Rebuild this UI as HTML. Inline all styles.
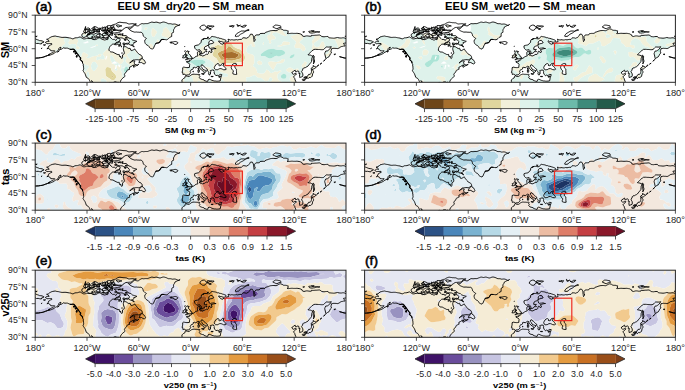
<!DOCTYPE html>
<html><head><meta charset="utf-8"><style>
html,body{margin:0;padding:0;background:#fff;}
body{width:685px;height:390px;overflow:hidden;font-family:"Liberation Sans",sans-serif;}
svg{display:block;}
</style></head><body>
<svg width="685" height="390" viewBox="0 0 685 390" font-family="Liberation Sans, sans-serif">
<defs>
<path id="land" clip-rule="evenodd" d="M71.5 78.2L70.7 78.3L69.8 78.4L68.9 78.4L68.0 78.4L67.1 78.5L66.2 78.6L65.2 78.6L64.0 78.6L63.9 77.4L63.9 76.4L64.1 75.6L63.6 74.9L63.0 74.2L62.5 73.4L62.0 72.7L61.4 72.0L60.8 71.2L60.4 70.4L59.9 69.5L59.5 68.7L58.9 68.0L58.2 67.3L57.4 66.7L56.8 66.0L56.4 65.4L56.7 66.1L56.8 67.0L57.4 68.2L58.0 69.3L58.4 70.4L58.9 71.3L59.5 72.3L60.1 73.2L60.5 75.0L59.6 73.9L58.8 72.8L58.4 72.0L57.9 71.2L57.3 70.5L56.7 69.8L56.2 69.0L55.7 68.1L55.2 67.2L54.8 66.3L54.4 65.4L54.0 64.5L53.4 63.8L52.9 63.1L52.1 62.7L51.1 62.1L50.7 60.8L50.3 59.7L49.7 58.3L49.0 57.3L48.3 56.3L47.8 55.5L48.2 54.6L48.5 53.6L48.3 52.7L48.4 51.9L48.2 50.9L48.0 49.9L48.1 49.0L47.3 47.9L47.3 46.7L47.0 46.2L46.1 45.5L45.4 44.7L44.8 43.8L45.6 43.0L44.6 41.8L43.9 40.9L43.2 40.0L42.7 39.2L42.0 38.4L41.4 37.6L40.8 36.7L40.2 35.9L39.7 35.1L38.8 34.1L37.0 34.0L35.8 34.2L34.7 34.0L33.6 33.5L32.4 33.0L31.1 32.9L29.8 33.0L28.0 32.6L27.1 33.5L25.9 34.1L24.3 34.4L25.1 33.4L25.8 32.1L24.4 32.4L23.7 33.2L23.2 34.5L22.4 36.1L21.3 36.6L20.4 37.0L19.5 37.6L18.7 38.3L17.6 38.8L16.5 39.3L15.5 39.7L14.4 40.0L12.9 40.2L13.8 39.1L14.7 38.7L15.6 38.3L16.4 37.8L17.3 37.4L18.2 37.1L19.0 36.3L19.5 35.6L18.6 35.5L17.8 35.7L16.9 35.6L15.5 35.5L14.9 34.2L14.3 34.0L13.3 33.3L12.8 32.1L13.5 31.6L13.5 30.8L14.3 30.4L15.2 29.8L16.6 29.3L16.4 28.3L15.3 28.3L14.2 28.4L13.1 28.4L11.9 28.5L11.0 27.9L10.1 27.3L11.0 26.7L11.9 26.1L13.1 26.1L13.8 26.5L13.8 25.6L12.5 24.4L11.4 24.1L12.4 23.9L13.4 23.5L14.4 22.8L15.4 21.8L16.6 21.5L17.6 21.2L18.8 21.0L20.0 20.8L21.0 21.1L22.0 21.3L23.1 21.4L24.2 21.7L25.5 22.0L26.7 22.2L27.7 22.2L28.8 22.1L29.8 22.1L30.8 22.1L31.8 22.3L32.8 22.5L34.1 22.7L35.4 22.9L36.5 23.3L37.6 23.7L38.7 23.3L39.7 22.7L41.0 22.6L42.3 22.5L43.5 22.1L44.9 21.7L46.0 22.4L47.0 23.0L48.1 23.6L49.2 23.7L50.3 23.5L51.4 23.1L52.7 23.1L54.0 23.1L55.1 23.1L56.3 23.4L57.2 24.0L57.9 24.4L59.1 24.1L60.2 23.6L60.8 22.9L61.8 22.2L63.9 22.0L65.2 22.7L65.9 23.4L66.6 24.0L67.8 24.3L69.1 24.8L70.1 24.7L70.8 24.3L72.5 24.4L73.0 22.9L73.0 21.9L73.8 21.5L73.7 20.8L74.8 21.5L75.7 22.9L76.6 23.5L77.3 24.2L78.4 24.2L79.4 24.2L80.7 25.3L81.4 24.1L82.0 23.2L82.5 23.2L83.4 23.3L84.4 23.3L85.0 24.6L84.7 25.6L83.8 25.8L82.9 26.7L81.8 27.1L81.5 27.0L81.4 27.8L79.7 28.9L78.3 28.9L77.0 29.1L76.2 29.8L75.6 30.5L74.9 31.2L74.3 32.3L73.9 33.5L73.7 35.0L74.6 35.9L75.5 36.7L76.6 36.8L77.7 36.9L78.8 37.5L79.8 38.1L80.9 38.6L81.9 39.2L83.1 39.3L84.0 39.2L84.2 40.9L85.3 42.1L86.8 43.3L87.4 42.0L87.3 40.8L87.4 39.7L88.2 39.2L89.0 38.6L89.2 37.5L88.6 35.8L88.3 34.7L88.1 33.5L88.5 31.9L88.3 31.1L89.4 31.4L90.6 31.5L91.5 32.0L92.3 32.6L93.7 33.4L94.8 33.0L95.3 33.7L95.5 34.9L96.7 35.4L97.5 35.0L98.3 34.8L99.0 34.0L99.7 33.7L99.9 34.2L100.4 35.0L101.0 35.8L101.7 36.6L102.3 37.4L103.0 38.1L103.6 38.9L104.6 39.4L105.7 39.8L106.3 40.6L106.9 41.5L107.2 42.3L106.1 43.2L105.4 43.8L104.6 44.3L103.6 44.7L102.4 44.5L101.3 44.5L100.2 44.6L99.1 44.8L98.0 44.8L96.6 45.8L95.9 46.4L95.1 47.0L94.6 47.9L95.9 46.8L97.0 46.2L98.0 45.7L98.9 45.8L99.8 46.0L99.0 46.9L99.2 48.2L99.9 49.2L101.1 49.6L102.3 49.8L103.5 49.0L102.7 50.0L101.6 50.3L100.5 50.7L99.6 51.4L98.5 52.1L98.1 50.6L99.7 49.8L98.6 50.0L97.5 50.2L96.7 50.8L95.8 51.4L94.6 51.8L94.1 53.1L94.8 53.8L93.7 54.3L92.8 54.7L92.0 55.1L91.6 55.4L91.4 56.5L90.5 57.2L89.9 58.0L89.2 59.2L89.6 60.3L89.8 61.1L89.2 61.6L87.9 62.6L87.0 63.5L86.4 64.2L85.8 64.9L85.2 66.5L85.5 67.8L85.9 69.0L86.3 69.9L86.7 71.0L86.2 72.8L85.0 72.3L84.5 71.1L84.1 69.9L84.0 68.4L83.1 66.9L81.8 67.3L80.7 66.6L79.6 66.7L78.6 66.8L78.1 67.9L76.9 67.7L75.8 67.5L74.7 67.3L73.4 68.0L72.6 69.0L71.9 70.0L71.7 71.1L71.6 72.2L71.5 73.3L71.3 74.4L71.0 75.5L71.0 76.5L71.2 77.4Z M150.8 60.3L150.1 59.3L149.0 59.0L147.7 59.3L147.6 58.3L147.6 57.5L146.8 57.3L147.3 55.6L147.4 54.7L147.6 53.8L147.4 52.6L148.5 51.9L149.5 52.1L150.6 52.3L151.7 52.4L152.8 52.4L154.2 52.2L154.3 50.7L154.5 49.2L153.5 47.9L152.5 47.5L151.5 47.1L151.3 46.3L152.8 46.1L154.2 46.3L154.2 45.0L155.5 45.0L156.5 44.3L156.7 43.4L158.4 43.0L159.3 42.4L159.8 41.7L160.6 41.4L161.5 41.0L162.7 40.7L162.4 39.7L162.2 38.6L162.3 37.0L163.2 36.1L164.8 35.8L164.5 37.4L165.2 37.6L164.4 39.4L163.8 39.2L164.8 39.9L166.1 40.2L167.5 40.8L169.3 40.2L170.3 39.5L171.4 39.0L172.3 39.3L173.0 38.6L173.3 37.4L173.8 36.0L174.9 36.3L175.5 37.4L176.8 36.9L176.6 35.4L175.8 35.1L175.7 34.5L177.0 34.2L178.3 33.7L179.5 33.4L180.9 33.3L180.4 33.4L178.7 32.7L176.9 32.9L175.9 33.0L175.2 33.3L174.0 32.7L173.7 31.6L173.2 30.0L174.6 28.9L175.5 28.5L176.7 28.4L178.6 27.5L176.9 25.2L175.2 25.3L173.9 26.3L173.5 27.8L173.9 28.9L172.9 29.9L171.7 30.8L170.7 31.1L169.4 32.0L169.0 34.1L170.5 34.3L171.7 34.1L171.0 35.4L170.0 36.0L169.4 37.3L168.6 37.6L167.5 38.4L166.8 38.4L166.5 37.6L166.1 36.1L165.2 35.3L164.5 34.5L163.5 34.6L162.2 35.0L161.5 34.7L160.9 34.4L160.0 33.5L159.3 31.8L159.5 30.6L160.7 30.2L161.8 30.0L163.2 29.7L164.6 28.6L165.4 27.8L166.0 26.9L166.0 25.8L166.4 24.6L168.0 23.7L169.6 23.3L170.8 23.3L172.0 23.4L173.4 23.7L174.7 23.4L175.5 22.4L176.1 21.5L177.0 21.2L178.1 21.5L179.1 21.6L180.2 21.8L181.3 22.2L182.2 22.6L183.1 22.5L183.9 23.0L185.2 23.2L186.5 23.5L187.3 23.9L188.2 24.1L189.1 24.4L189.9 24.7L190.8 25.2L190.8 26.6L189.7 26.9L188.6 27.1L187.5 26.8L186.5 26.4L184.8 26.5L183.7 25.5L183.4 26.5L184.3 27.3L185.2 28.0L185.6 28.6L186.5 28.8L187.3 29.1L188.2 28.4L187.6 27.8L188.7 28.3L190.0 28.8L190.7 28.3L191.4 27.5L191.7 26.7L193.4 26.6L193.3 25.4L192.8 24.0L193.8 24.3L194.7 24.6L195.5 24.8L196.4 24.5L197.5 24.6L198.6 24.8L199.9 24.7L201.1 24.4L202.4 24.7L203.6 24.4L204.6 24.2L206.4 24.2L207.1 23.4L207.6 22.6L208.7 22.6L209.8 22.7L211.1 23.1L211.9 22.6L213.0 22.3L213.8 21.3L214.4 20.7L214.8 19.8L215.4 18.9L217.2 19.1L217.7 20.0L218.2 21.0L218.3 22.2L218.4 23.5L218.6 24.4L218.7 25.3L218.9 26.4L219.9 25.0L219.9 23.7L219.3 23.3L219.4 22.3L219.4 21.3L220.0 20.6L220.6 19.8L221.7 19.7L222.9 19.7L224.0 19.7L224.9 18.4L225.8 18.3L226.8 18.2L227.8 18.2L228.7 18.2L229.8 18.1L230.6 17.0L231.6 16.8L232.5 16.5L233.5 16.1L234.5 15.8L235.5 15.5L236.5 15.4L237.6 15.3L238.7 15.3L239.8 15.4L240.9 15.5L241.8 15.2L242.7 14.7L243.4 14.2L244.3 13.8L245.2 13.6L246.9 14.1L248.2 15.0L249.2 15.1L250.2 15.1L251.2 15.2L252.2 15.6L253.0 15.6L252.9 16.6L252.8 17.8L252.0 18.3L253.1 18.4L254.2 18.3L255.2 18.2L256.2 18.1L257.3 18.1L258.3 18.2L259.4 18.2L260.5 18.2L261.6 18.1L262.7 18.2L263.9 18.4L265.0 18.6L265.8 19.1L266.7 19.4L267.2 20.7L268.8 21.3L269.9 21.0L271.1 20.7L272.0 20.7L273.0 20.8L273.9 21.0L274.9 21.0L276.1 21.0L276.5 20.0L277.3 20.2L278.4 20.2L279.5 20.1L280.6 20.0L281.5 20.0L282.5 19.9L283.5 19.8L284.5 19.8L285.6 20.5L286.6 21.3L287.8 21.5L288.9 21.6L290.1 21.4L291.4 21.3L292.7 21.3L293.5 22.0L294.0 22.7L295.0 22.7L296.1 22.8L297.3 22.9L298.4 23.0L299.6 22.9L300.9 22.6L302.2 22.3L303.9 22.7L305.0 22.8L306.2 22.8L307.3 22.6L308.5 22.6L309.6 22.9L310.8 23.5L311.6 24.0L312.5 24.3L313.4 24.7L314.3 25.0L315.1 25.4L316.4 25.5L317.7 25.7L318.7 26.2L319.7 26.7L319.0 27.3L317.3 27.7L316.9 28.8L315.1 28.5L313.8 28.2L312.1 28.3L310.8 27.7L309.4 28.0L308.3 28.2L309.1 29.4L309.7 30.3L310.0 30.8L309.2 30.9L308.2 30.9L307.4 31.2L306.5 31.3L305.6 31.6L304.7 32.3L303.7 32.9L302.6 33.4L301.6 33.3L300.7 33.2L299.7 33.2L298.7 33.1L297.6 33.3L296.4 33.5L296.0 35.2L295.7 36.0L296.0 36.9L296.3 37.8L295.3 38.6L294.8 39.6L294.3 40.6L293.7 41.6L292.3 42.3L291.5 42.9L290.7 43.6L290.3 41.9L290.1 40.8L289.8 39.7L289.5 38.5L289.9 37.2L290.5 35.9L292.2 35.7L293.0 35.1L293.9 34.5L294.6 33.8L295.4 32.7L296.1 31.5L294.8 31.8L293.5 31.9L292.2 31.8L291.0 31.8L290.1 32.6L289.3 33.5L288.4 34.3L287.3 34.5L286.2 34.5L285.2 34.4L284.2 34.3L283.2 34.3L281.9 34.2L280.6 34.1L278.8 34.2L277.8 35.0L276.8 35.5L276.2 36.2L275.5 37.0L274.8 37.7L274.1 38.3L273.4 38.9L272.8 39.6L274.1 39.8L275.4 40.0L276.4 40.5L277.5 41.0L277.1 42.1L276.6 43.1L276.5 44.7L276.3 46.4L275.7 47.3L275.0 48.1L274.3 49.0L273.5 49.9L272.8 50.9L271.9 51.5L270.9 51.9L270.1 52.5L268.4 52.8L267.6 53.7L267.4 55.0L266.3 56.1L266.7 56.7L267.0 57.7L267.6 58.6L267.7 59.9L267.5 61.2L266.4 61.7L265.5 62.0L264.5 62.3L264.4 61.0L264.3 59.8L264.9 58.4L263.5 58.1L263.8 57.5L263.8 56.4L262.7 55.7L261.5 56.3L260.6 56.9L260.3 56.0L259.9 54.9L258.5 56.0L257.2 56.7L256.6 57.8L257.8 58.9L258.6 59.1L259.8 58.3L261.4 58.7L260.4 59.7L259.1 60.7L258.3 61.7L258.9 62.5L259.5 63.2L259.9 64.8L260.6 66.2L260.1 67.3L260.4 68.2L260.1 69.0L259.8 69.9L259.4 70.7L259.0 71.5L258.2 72.0L257.5 72.6L256.7 73.1L256.0 73.6L255.2 74.1L254.5 74.7L253.8 75.3L253.1 75.8L252.4 76.5L251.8 77.2L251.2 77.9L250.4 78.5L249.4 78.4L248.5 78.2L247.6 78.1L246.7 78.1L245.8 78.3L244.9 78.6L243.9 78.7L243.0 78.7L242.1 78.6L241.2 78.5L240.3 78.3L239.3 78.2L238.4 78.2L237.5 78.4L236.6 78.5L235.7 78.4L234.8 78.3L233.8 78.1L232.9 77.9L232.0 77.8L231.1 78.1L230.2 78.4L229.2 78.6L228.3 78.7L227.4 78.7L226.5 78.6L225.6 78.4L224.7 78.3L223.7 78.2L222.8 78.0L221.9 78.0L221.0 78.0L220.1 78.2L219.1 78.4L218.2 78.5L217.3 78.6L216.4 78.5L215.5 78.4L214.5 78.4L213.6 78.5L212.7 78.3L211.8 78.1L210.9 78.0L210.0 78.0L209.0 78.2L208.1 78.3L207.2 78.2L206.3 78.3L205.4 78.4L204.5 78.5L203.6 78.4L202.7 78.4L201.7 78.3L200.8 78.3L199.9 78.4L199.0 78.3L198.1 78.3L197.2 78.3L196.3 78.4L195.4 78.4L194.5 78.3L193.6 78.3L192.7 78.4L191.8 78.6L190.8 78.7L189.9 78.7L189.0 78.5L188.1 78.3L187.2 78.1L186.3 78.1L185.4 78.2L184.5 78.3L183.6 78.3L182.6 78.3L181.7 78.3L180.8 78.3L179.9 78.2L179.0 78.0L178.1 77.8L177.2 77.8L176.3 78.0L175.4 78.1L174.4 78.1L173.5 78.1L172.6 78.2L171.7 78.3L170.8 78.4L169.9 78.3L169.0 78.1L168.1 78.0L167.2 78.0L166.2 78.1L165.3 78.3L164.4 78.5L163.5 78.6L162.6 78.6L161.7 78.6L160.8 78.6L159.9 78.6L158.9 78.5L158.0 78.4L157.1 78.2L156.2 78.2L155.3 78.2L154.4 78.2L153.5 78.4L152.6 78.4L151.7 78.4L150.7 78.3L149.8 78.2L148.9 78.3L148.0 78.3L147.1 78.3L146.2 78.1L145.3 78.0L144.4 78.0L143.5 77.9L142.5 77.8L141.6 77.9L140.9 78.2L140.8 77.2L140.7 76.0L140.9 74.9L141.1 73.8L141.9 73.1L142.5 72.3L143.0 71.4L143.7 70.5L144.4 69.6L145.2 69.0L146.0 68.3L146.7 67.6L146.8 66.5L146.7 64.8L147.4 64.1L148.1 63.4L149.6 62.7L149.9 61.6L150.3 60.6Z M-160.0 60.3L-160.7 59.3L-161.8 59.0L-163.1 59.3L-163.2 58.3L-163.2 57.5L-164.0 57.3L-163.5 55.6L-163.4 54.7L-163.2 53.8L-163.4 52.6L-162.3 51.9L-161.3 52.1L-160.2 52.3L-159.1 52.4L-158.0 52.4L-156.6 52.2L-156.5 50.7L-156.3 49.2L-157.3 47.9L-158.3 47.5L-159.3 47.1L-159.5 46.3L-158.0 46.1L-156.6 46.3L-156.6 45.0L-155.3 45.0L-154.3 44.3L-154.1 43.4L-152.4 43.0L-151.5 42.4L-151.0 41.7L-150.2 41.4L-149.3 41.0L-148.1 40.7L-148.4 39.7L-148.6 38.6L-148.5 37.0L-147.6 36.1L-146.0 35.8L-146.3 37.4L-145.6 37.6L-146.4 39.4L-147.0 39.2L-146.0 39.9L-144.7 40.2L-143.3 40.8L-141.5 40.2L-140.5 39.5L-139.4 39.0L-138.5 39.3L-137.8 38.6L-137.5 37.4L-137.0 36.0L-135.9 36.3L-135.3 37.4L-134.0 36.9L-134.2 35.4L-135.0 35.1L-135.1 34.5L-133.8 34.2L-132.5 33.7L-131.3 33.4L-129.9 33.3L-130.4 33.4L-132.1 32.7L-133.9 32.9L-134.9 33.0L-135.6 33.3L-136.8 32.7L-137.1 31.6L-137.6 30.0L-136.2 28.9L-135.3 28.5L-134.1 28.4L-132.2 27.5L-133.9 25.2L-135.6 25.3L-136.9 26.3L-137.3 27.8L-136.9 28.9L-137.9 29.9L-139.1 30.8L-140.1 31.1L-141.4 32.0L-141.8 34.1L-140.3 34.3L-139.1 34.1L-139.8 35.4L-140.8 36.0L-141.4 37.3L-142.2 37.6L-143.3 38.4L-144.0 38.4L-144.3 37.6L-144.7 36.1L-145.6 35.3L-146.3 34.5L-147.3 34.6L-148.6 35.0L-149.3 34.7L-149.9 34.4L-150.8 33.5L-151.5 31.8L-151.3 30.6L-150.1 30.2L-149.0 30.0L-147.6 29.7L-146.2 28.6L-145.4 27.8L-144.8 26.9L-144.8 25.8L-144.4 24.6L-142.8 23.7L-141.2 23.3L-140.0 23.3L-138.8 23.4L-137.4 23.7L-136.1 23.4L-135.3 22.4L-134.7 21.5L-133.8 21.2L-132.7 21.5L-131.7 21.6L-130.6 21.8L-129.5 22.2L-128.6 22.6L-127.7 22.5L-126.9 23.0L-125.6 23.2L-124.3 23.5L-123.5 23.9L-122.6 24.1L-121.7 24.4L-120.9 24.7L-120.0 25.2L-120.0 26.6L-121.1 26.9L-122.2 27.1L-123.3 26.8L-124.3 26.4L-126.0 26.5L-127.1 25.5L-127.4 26.5L-126.5 27.3L-125.6 28.0L-125.2 28.6L-124.3 28.8L-123.5 29.1L-122.6 28.4L-123.2 27.8L-122.1 28.3L-120.8 28.8L-120.1 28.3L-119.4 27.5L-119.1 26.7L-117.4 26.6L-117.5 25.4L-118.0 24.0L-117.0 24.3L-116.1 24.6L-115.3 24.8L-114.4 24.5L-113.3 24.6L-112.2 24.8L-110.9 24.7L-109.7 24.4L-108.4 24.7L-107.2 24.4L-106.2 24.2L-104.4 24.2L-103.7 23.4L-103.2 22.6L-102.1 22.6L-101.0 22.7L-99.7 23.1L-98.9 22.6L-97.8 22.3L-97.0 21.3L-96.4 20.7L-96.0 19.8L-95.4 18.9L-93.6 19.1L-93.1 20.0L-92.6 21.0L-92.5 22.2L-92.4 23.5L-92.2 24.4L-92.1 25.3L-91.9 26.4L-90.9 25.0L-90.9 23.7L-91.5 23.3L-91.4 22.3L-91.4 21.3L-90.8 20.6L-90.2 19.8L-89.1 19.7L-87.9 19.7L-86.8 19.7L-85.9 18.4L-85.0 18.3L-84.0 18.2L-83.0 18.2L-82.1 18.2L-81.0 18.1L-80.2 17.0L-79.2 16.8L-78.3 16.5L-77.3 16.1L-76.3 15.8L-75.3 15.5L-74.3 15.4L-73.2 15.3L-72.1 15.3L-71.0 15.4L-69.9 15.5L-69.0 15.2L-68.1 14.7L-67.4 14.2L-66.5 13.8L-65.6 13.6L-63.9 14.1L-62.6 15.0L-61.6 15.1L-60.6 15.1L-59.6 15.2L-58.6 15.6L-57.8 15.6L-57.9 16.6L-58.0 17.8L-58.8 18.3L-57.7 18.4L-56.6 18.3L-55.6 18.2L-54.6 18.1L-53.5 18.1L-52.5 18.2L-51.4 18.2L-50.3 18.2L-49.2 18.1L-48.1 18.2L-46.9 18.4L-45.8 18.6L-45.0 19.1L-44.1 19.4L-43.6 20.7L-42.0 21.3L-40.9 21.0L-39.7 20.7L-38.8 20.7L-37.8 20.8L-36.9 21.0L-35.9 21.0L-34.7 21.0L-34.3 20.0L-33.5 20.2L-32.4 20.2L-31.3 20.1L-30.2 20.0L-29.3 20.0L-28.3 19.9L-27.3 19.8L-26.3 19.8L-25.2 20.5L-24.2 21.3L-23.0 21.5L-21.9 21.6L-20.7 21.4L-19.4 21.3L-18.1 21.3L-17.3 22.0L-16.8 22.7L-15.8 22.7L-14.7 22.8L-13.5 22.9L-12.4 23.0L-11.2 22.9L-9.9 22.6L-8.6 22.3L-6.9 22.7L-5.8 22.8L-4.6 22.8L-3.5 22.6L-2.3 22.6L-1.2 22.9L0.0 23.5L0.8 24.0L1.7 24.3L2.6 24.7L3.5 25.0L4.3 25.4L5.6 25.5L6.9 25.7L7.9 26.2L8.9 26.7L8.2 27.3L6.5 27.7L6.1 28.8L4.3 28.5L3.0 28.2L1.3 28.3L-0.0 27.7L-1.4 28.0L-2.5 28.2L-1.7 29.4L-1.1 30.3L-0.8 30.8L-1.6 30.9L-2.6 30.9L-3.4 31.2L-4.3 31.3L-5.2 31.6L-6.1 32.3L-7.1 32.9L-8.2 33.4L-9.2 33.3L-10.1 33.2L-11.1 33.2L-12.1 33.1L-13.2 33.3L-14.4 33.5L-14.8 35.2L-15.1 36.0L-14.8 36.9L-14.5 37.8L-15.5 38.6L-16.0 39.6L-16.5 40.6L-17.1 41.6L-18.5 42.3L-19.3 42.9L-20.1 43.6L-20.5 41.9L-20.7 40.8L-21.0 39.7L-21.3 38.5L-20.9 37.2L-20.3 35.9L-18.6 35.7L-17.8 35.1L-16.9 34.5L-16.2 33.8L-15.4 32.7L-14.7 31.5L-16.0 31.8L-17.3 31.9L-18.6 31.8L-19.8 31.8L-20.7 32.6L-21.5 33.5L-22.4 34.3L-23.5 34.5L-24.6 34.5L-25.6 34.4L-26.6 34.3L-27.6 34.3L-28.9 34.2L-30.2 34.1L-32.0 34.2L-33.0 35.0L-34.0 35.5L-34.6 36.2L-35.3 37.0L-36.0 37.7L-36.7 38.3L-37.4 38.9L-38.0 39.6L-36.7 39.8L-35.4 40.0L-34.4 40.5L-33.3 41.0L-33.7 42.1L-34.2 43.1L-34.3 44.7L-34.5 46.4L-35.1 47.3L-35.8 48.1L-36.5 49.0L-37.3 49.9L-38.0 50.9L-38.9 51.5L-39.9 51.9L-40.7 52.5L-42.4 52.8L-43.2 53.7L-43.4 55.0L-44.5 56.1L-44.1 56.7L-43.8 57.7L-43.2 58.6L-43.1 59.9L-43.3 61.2L-44.4 61.7L-45.3 62.0L-46.3 62.3L-46.4 61.0L-46.5 59.8L-45.9 58.4L-47.3 58.1L-47.0 57.5L-47.0 56.4L-48.1 55.7L-49.3 56.3L-50.2 56.9L-50.5 56.0L-50.9 54.9L-52.3 56.0L-53.6 56.7L-54.2 57.8L-53.0 58.9L-52.2 59.1L-51.0 58.3L-49.4 58.7L-50.4 59.7L-51.7 60.7L-52.5 61.7L-51.9 62.5L-51.3 63.2L-50.9 64.8L-50.2 66.2L-50.7 67.3L-50.4 68.2L-50.7 69.0L-51.0 69.9L-51.4 70.7L-51.8 71.5L-52.6 72.0L-53.3 72.6L-54.1 73.1L-54.8 73.6L-55.6 74.1L-56.3 74.7L-57.0 75.3L-57.7 75.8L-58.4 76.5L-59.0 77.2L-59.6 77.9L-60.4 78.5L-61.4 78.4L-62.3 78.2L-63.2 78.1L-64.1 78.1L-65.0 78.3L-65.9 78.6L-66.9 78.7L-67.8 78.7L-68.7 78.6L-69.6 78.5L-70.5 78.3L-71.5 78.2L-72.4 78.2L-73.3 78.4L-74.2 78.5L-75.1 78.4L-76.0 78.3L-77.0 78.1L-77.9 77.9L-78.8 77.8L-79.7 78.1L-80.6 78.4L-81.6 78.6L-82.5 78.7L-83.4 78.7L-84.3 78.6L-85.2 78.4L-86.1 78.3L-87.1 78.2L-88.0 78.0L-88.9 78.0L-89.8 78.0L-90.7 78.2L-91.7 78.4L-92.6 78.5L-93.5 78.6L-94.4 78.5L-95.3 78.4L-96.3 78.4L-97.2 78.5L-98.1 78.3L-99.0 78.1L-99.9 78.0L-100.8 78.0L-101.8 78.2L-102.7 78.3L-103.6 78.2L-104.5 78.3L-105.4 78.4L-106.3 78.5L-107.2 78.4L-108.1 78.4L-109.1 78.3L-110.0 78.3L-110.9 78.4L-111.8 78.3L-112.7 78.3L-113.6 78.3L-114.5 78.4L-115.4 78.4L-116.3 78.3L-117.2 78.3L-118.1 78.4L-119.0 78.6L-120.0 78.7L-120.9 78.7L-121.8 78.5L-122.7 78.3L-123.6 78.1L-124.5 78.1L-125.4 78.2L-126.3 78.3L-127.2 78.3L-128.2 78.3L-129.1 78.3L-130.0 78.3L-130.9 78.2L-131.8 78.0L-132.7 77.8L-133.6 77.8L-134.5 78.0L-135.4 78.1L-136.4 78.1L-137.3 78.1L-138.2 78.2L-139.1 78.3L-140.0 78.4L-140.9 78.3L-141.8 78.1L-142.7 78.0L-143.6 78.0L-144.6 78.1L-145.5 78.3L-146.4 78.5L-147.3 78.6L-148.2 78.6L-149.1 78.6L-150.0 78.6L-150.9 78.6L-151.9 78.5L-152.8 78.4L-153.7 78.2L-154.6 78.2L-155.5 78.2L-156.4 78.2L-157.3 78.4L-158.2 78.4L-159.1 78.4L-160.1 78.3L-161.0 78.2L-161.9 78.3L-162.8 78.3L-163.7 78.3L-164.6 78.1L-165.5 78.0L-166.4 78.0L-167.3 77.9L-168.3 77.8L-169.2 77.9L-169.9 78.2L-170.0 77.2L-170.1 76.0L-169.9 74.9L-169.7 73.8L-168.9 73.1L-168.3 72.3L-167.8 71.4L-167.1 70.5L-166.4 69.6L-165.6 69.0L-164.8 68.3L-164.1 67.6L-164.0 66.5L-164.1 64.8L-163.4 64.1L-162.7 63.4L-161.2 62.7L-160.9 61.6L-160.5 60.6Z M103.7 47.5L104.4 45.6L105.0 44.8L105.7 44.2L107.1 43.0L107.6 44.1L108.4 44.6L109.3 45.2L109.8 46.3L110.3 47.6L109.1 48.9L107.5 48.1L106.2 47.3L105.2 47.4Z M93.0 13.1L93.3 13.5L94.0 14.2L94.8 14.8L95.7 15.5L96.9 16.1L98.0 16.5L99.1 16.9L100.4 16.9L101.5 16.8L102.5 17.0L103.5 17.0L104.6 17.1L105.7 17.0L106.6 17.5L107.4 18.2L107.8 19.4L108.0 20.6L108.8 21.3L109.5 22.0L110.3 22.8L111.2 23.2L110.4 24.1L109.7 24.8L109.5 26.2L109.7 27.2L110.1 28.3L110.9 29.2L112.0 30.0L113.0 30.4L113.7 31.1L113.9 31.9L114.5 32.5L115.2 33.1L116.1 33.5L117.4 33.9L118.3 33.0L118.8 31.8L119.3 30.6L119.8 29.7L120.3 28.8L120.9 28.0L122.2 27.9L123.6 27.6L124.5 26.9L125.1 26.0L125.7 25.0L126.6 24.2L127.9 24.2L129.0 24.3L130.1 24.4L131.4 24.6L132.5 24.1L133.4 23.3L134.3 22.4L135.3 21.8L136.5 21.3L136.5 19.6L136.7 18.0L137.5 17.4L138.3 17.2L138.4 16.2L138.3 15.0L138.6 14.1L139.2 13.3L139.9 11.7L140.8 11.3L141.7 10.8L142.6 10.4L143.8 10.0L144.9 9.3L144.0 10.1L143.0 10.1L142.0 9.6L141.1 9.2L140.1 8.9L139.1 8.8L138.1 8.9L137.1 9.0L136.2 8.7L135.2 8.5L134.2 8.5L133.3 8.5L132.3 8.1L131.4 7.6L130.5 7.3L129.5 7.0L128.5 6.8L127.6 6.9L126.6 7.2L125.7 7.6L124.7 7.8L123.7 7.6L122.8 7.3L121.8 7.0L120.8 6.9L119.9 7.1L118.9 7.3L117.9 7.1L116.9 6.9L116.0 7.0L115.0 7.4L114.1 7.7L113.2 8.1L112.2 8.4L111.3 8.4L110.3 8.4L109.3 8.5L108.3 8.6L107.3 8.4L106.3 8.5L105.4 9.0L104.3 9.7L103.3 10.5L102.2 10.7L101.2 10.5L100.2 10.2L99.3 10.2L98.3 10.9L97.3 11.7L96.5 12.6L95.6 13.3L94.6 13.6L93.7 13.8Z M99.0 31.8L97.9 31.2L97.1 30.5L96.3 30.0L97.3 29.5L98.1 29.0L98.8 28.3L98.3 27.6L99.8 27.1L100.9 26.6L101.7 26.1L100.9 25.9L100.0 25.6L99.1 25.4L98.2 25.1L97.1 24.7L96.1 23.8L95.6 23.3L94.8 23.2L93.7 22.8L92.6 22.0L91.8 21.1L90.9 20.5L89.7 20.4L88.6 20.4L87.5 20.1L86.5 19.7L85.7 19.1L85.0 19.0L84.0 19.2L83.1 19.2L82.1 18.9L81.0 18.8L80.0 19.0L79.1 19.3L80.0 19.7L80.8 20.4L81.3 21.2L82.0 22.0L82.8 22.5L84.2 22.6L85.5 22.7L86.6 22.7L87.6 23.0L88.5 23.6L89.4 23.8L90.2 24.2L91.2 24.5L92.6 24.5L94.2 26.4L93.7 28.3L92.3 29.1L90.7 28.6L89.8 28.1L87.7 27.8L88.3 30.0L89.4 29.7L90.2 29.1L91.1 28.1L92.6 28.1L93.6 28.7L94.4 29.5L95.4 29.9L96.5 30.0L97.4 30.2L98.4 30.6Z M51.4 20.7L52.8 19.1L54.1 18.3L55.4 18.6L56.5 18.7L57.6 18.9L58.7 19.0L59.7 18.7L60.7 18.1L61.8 17.7L62.8 17.8L64.1 18.0L65.6 19.2L66.7 19.7L67.7 20.4L68.4 22.1L66.5 22.6L65.3 22.7L64.5 22.6L63.3 22.9L62.2 23.5L61.2 24.1L60.2 24.4L59.2 24.4L58.3 24.0L57.4 23.5L56.2 23.3L55.1 23.2L53.5 23.2L52.7 22.0Z M46.6 20.5L46.7 19.1L47.7 18.5L48.4 17.7L49.5 17.5L50.6 17.3L51.8 17.3L52.6 17.7L53.5 17.9L54.4 18.2L55.1 18.5L54.9 19.2L54.1 19.3L53.2 19.5L52.4 19.9L51.8 20.7L50.8 21.4L49.9 21.9L48.6 22.3L47.3 21.9Z M55.3 17.2L54.5 16.5L54.0 15.2L55.5 15.3L56.6 15.6L57.6 15.1L58.7 14.2L59.9 13.8L60.9 14.3L61.8 15.4L62.8 15.9L63.8 15.8L64.8 16.8L63.7 16.8L62.5 16.4L61.4 16.2L60.4 16.2L59.4 16.5L58.4 16.8L57.3 16.8L56.3 16.8Z M51.8 14.4L50.9 14.3L50.0 14.5L50.6 14.3L51.5 13.5L52.3 12.9L53.7 12.8L55.2 14.2L53.7 14.3L52.7 14.2Z M71.3 15.4L70.6 15.6L69.4 15.8L68.2 15.8L67.2 15.8L65.9 14.9L67.5 14.6L68.6 14.6L69.6 14.0L70.9 13.6L71.8 14.6L71.9 15.3Z M77.4 20.1L76.3 20.1L75.3 19.7L74.4 19.8L72.9 20.3L71.5 17.8L73.6 16.4L75.1 16.7L76.5 17.6L77.7 18.2L77.4 19.0Z M71.5 19.9L70.8 19.9L69.7 20.1L68.6 20.5L66.9 19.9L67.9 18.0L69.5 18.2L70.8 18.3L71.4 19.0L71.8 19.3L71.6 19.7Z M72.5 23.2L72.2 21.8L71.3 22.2L70.0 23.0L70.7 23.1L71.6 23.1L72.5 23.3Z M85.5 29.2L84.7 29.2L83.5 29.2L82.5 29.1L81.4 29.5L79.4 29.5L80.2 27.9L81.6 27.7L82.6 27.8L83.8 26.5L84.9 26.8L85.2 27.9Z M77.5 18.7L74.2 19.1L73.2 18.7L70.3 18.5L71.8 14.7L73.5 15.2L75.5 14.1Z M85.0 30.8L83.3 31.0L83.7 30.0L85.5 30.2Z M150.3 44.7L151.6 44.3L152.8 43.8L154.1 43.6L155.3 43.5L156.6 43.4L156.8 41.8L155.6 41.5L155.5 40.7L154.8 39.7L153.9 38.7L153.4 38.4L152.8 37.8L154.0 36.3L152.4 36.1L152.4 35.6L151.6 36.0L151.2 36.6L150.3 37.4L150.5 38.7L151.1 39.8L152.1 39.7L151.5 40.5L152.0 40.4L150.6 41.0L151.6 42.0L151.2 42.9L151.9 42.1L153.2 43.4L151.5 43.4Z M150.3 42.3L150.4 40.9L150.9 39.6L150.0 38.9L149.2 39.4L148.6 40.6L147.6 40.6L148.0 41.5L147.5 42.5L147.3 42.5L148.5 42.7L149.9 42.4Z M273.5 16.2L274.6 16.0L275.5 15.9L276.3 15.6L277.3 15.7L278.3 15.8L279.3 16.1L280.4 16.4L281.4 16.6L282.6 16.7L283.7 16.8L284.7 16.7L284.0 16.7L283.1 16.8L282.1 16.7L281.1 16.9L280.1 17.3L279.1 17.6L278.1 17.7L277.1 17.9L275.8 17.8L274.4 17.6Z M309.7 21.1L310.8 21.0L311.8 21.2L312.8 21.0L311.7 21.6L310.6 21.3Z M-1.1 21.1L0.0 21.0L1.0 21.2L2.0 21.0L0.9 21.6L-0.2 21.3Z M278.0 40.0L278.9 40.8L279.0 41.7L278.9 42.7L278.8 43.7L279.1 44.8L279.4 45.8L279.1 46.9L278.6 48.0L278.0 48.8L278.4 48.0L278.4 47.0L278.3 46.0L278.1 45.0L278.0 44.0L278.1 43.1L278.0 42.0L277.8 41.0Z M276.1 54.4L277.3 54.0L278.2 53.8L279.1 53.6L279.9 52.8L281.0 52.2L280.1 51.5L279.2 51.2L278.2 50.9L278.1 50.3L278.2 51.0L277.6 52.0L276.0 53.0Z M277.4 54.3L277.8 55.4L278.4 56.5L278.2 57.6L277.6 58.3L277.2 59.8L277.0 61.0L276.2 61.8L275.2 62.4L273.9 62.3L272.8 63.5L271.9 62.2L270.3 62.5L268.5 62.6L268.7 62.3L270.0 61.5L271.1 61.4L272.5 61.0L272.9 60.0L273.4 59.2L275.1 59.1L275.7 58.3L276.1 57.4L276.3 56.5L276.2 55.0Z M269.7 65.1L267.6 65.3L267.1 64.3L267.1 64.1L267.3 64.1L269.0 64.0L269.6 64.3L269.7 64.0Z M269.8 62.9L271.7 62.4L271.3 63.4L270.2 64.0Z M166.7 59.0L167.1 59.0L168.0 58.6L168.6 58.0L168.7 58.7L168.4 59.6L167.5 58.7L166.7 57.9Z M162.7 54.8L164.0 54.6L164.2 55.9L163.9 57.1L162.7 57.0L162.9 55.9Z M162.8 52.7L163.6 52.6L163.5 54.4L163.0 54.1Z M175.7 61.2L178.1 61.2L177.8 61.5L176.1 61.4Z M183.3 61.5L185.3 60.7L184.8 62.0L183.7 62.0Z M157.5 56.4L158.3 56.0L158.2 56.7Z M164.9 38.1L166.3 38.0L166.0 39.1L165.1 38.9Z M171.0 36.6L171.7 35.9L171.5 36.8Z M304.3 41.4L306.5 42.0L309.1 42.7L310.8 42.9L312.5 42.8L314.3 42.7L316.0 42.4L317.7 42.2L319.4 41.7L321.2 41.0L322.9 40.4L324.2 39.7L325.5 39.4L325.5 39.5L324.2 39.8L322.9 40.5L321.2 41.1L319.4 41.8L317.7 42.3L316.0 42.5L314.3 42.8L312.5 42.9L310.8 43.0L309.1 42.8L306.5 42.1L304.3 41.5Z M-6.5 41.4L-4.3 42.0L-1.7 42.7L0.0 42.9L1.7 42.8L3.5 42.7L5.2 42.4L6.9 42.2L8.6 41.7L10.4 41.0L12.1 40.4L13.4 39.7L14.7 39.4L14.7 39.5L13.4 39.8L12.1 40.5L10.4 41.1L8.6 41.8L6.9 42.3L5.2 42.5L3.5 42.8L1.7 42.9L0.0 43.0L-1.7 42.8L-4.3 42.1L-6.5 41.5Z M281.4 51.6L282.1 50.9L282.6 50.2L283.4 49.6L283.2 50.4L282.2 50.9Z M284.9 49.0L286.6 47.8L286.2 48.2Z M288.4 46.1L290.1 44.2L289.6 44.7Z M51.8 16.0L53.5 15.5L54.0 16.2Z M63.9 18.8L65.2 18.5L64.8 19.0Z M86.3 30.9L86.8 31.3L85.9 31.8Z M89.0 24.7L90.0 24.9L90.2 25.5L90.0 24.0L89.7 23.8L89.3 24.7Z M86.8 37.5L87.2 38.0L86.5 38.1Z M85.0 41.2L85.9 41.3L85.5 41.7Z M88.9 29.3L89.8 29.5L88.9 29.9Z M67.3 15.4L69.9 15.2L69.1 15.9Z M77.7 14.8L80.3 14.7L79.4 15.1Z M72.5 20.7L74.2 20.1L73.4 21.0Z M39.7 38.0L41.4 37.5L40.6 38.8Z M38.0 36.3L39.3 35.8L38.9 36.9Z M41.0 40.8L41.9 40.3L41.6 41.9L41.2 41.6Z M23.3 36.3L24.2 35.5L22.4 36.9Z M149.4 31.3L149.8 31.0L149.5 31.5Z M149.8 36.3L150.2 35.5L149.4 36.0Z M171.8 22.1L173.5 22.1L172.7 22.6Z M168.4 24.0L169.2 23.3L167.5 24.3Z M276.3 15.9L278.9 15.8L277.1 16.3Z M267.6 16.8L269.4 16.6L268.5 17.0Z M298.7 39.1L300.4 38.9L299.6 39.5Z M10.4 29.6L8.2 29.7L9.5 30.2Z M6.5 33.2L6.9 32.9L6.0 33.4Z M12.1 33.3L13.0 33.0L11.7 33.8Z M50.5 17.4L50.0 18.0L50.4 18.3L48.4 16.7L50.5 11.3L50.3 11.4L50.4 11.9Z M59.9 13.9L58.9 17.4L58.8 17.0L58.1 13.4L59.1 11.9L58.6 11.8Z M54.1 16.8L54.8 17.9L56.0 17.9L56.9 17.6L57.7 17.3L58.8 17.2L57.5 17.7L56.1 17.8L54.8 17.2Z M60.4 15.9L61.5 14.8L62.6 14.3L64.1 14.7L64.5 16.3L63.2 16.0L62.2 16.0Z M69.1 17.3L71.2 16.9L72.1 17.4L70.4 17.8Z M71.7 14.3L75.3 12.3L77.1 12.8L78.9 14.9L76.8 16.8L75.1 17.6Z M81.0 10.0L83.0 9.7L84.1 10.0L85.3 10.5L86.2 10.7L86.7 10.8L86.0 10.7L84.9 11.1L83.7 11.7L82.6 11.9Z M60.5 20.7L61.6 19.9L63.3 18.8L65.3 21.2L62.9 21.9L61.7 21.3Z M56.1 22.0L58.1 20.7L59.7 21.1L60.2 22.3L59.3 22.0L58.3 22.6Z M51.8 19.2L54.0 18.7L54.4 19.5L52.7 19.7Z M79.4 21.8L81.2 21.2L82.0 22.0L80.3 22.4Z M83.0 19.6L84.2 19.4L85.3 19.9L84.8 19.0L84.7 18.5L83.9 19.3Z M89.8 22.6L91.9 22.1L92.4 22.9L90.7 23.1Z M67.3 22.6L69.1 22.0L69.9 22.8L68.2 23.0Z M150.8 60.3L151.1 60.9L152.4 61.1L153.7 61.3L154.5 60.9L155.3 60.3L156.0 59.7L156.9 59.3L157.8 59.0L159.0 59.0L160.0 59.1L161.0 59.1L162.0 59.2L162.9 59.2L163.8 59.1L164.6 59.4L164.0 60.4L164.7 61.3L164.1 62.4L165.2 63.7L166.5 64.1L167.5 64.4L168.5 64.5L168.9 65.3L169.9 65.6L171.0 66.0L172.2 66.5L172.6 66.0L172.8 64.7L174.0 64.1L175.2 64.4L176.0 64.8L176.9 65.2L178.0 65.5L179.1 65.8L180.1 65.8L181.1 66.0L182.2 66.0L183.3 65.9L185.0 65.7L185.4 63.9L185.5 62.9L185.8 62.0L186.3 60.5L186.7 59.5L185.1 59.2L184.2 59.7L183.5 60.3L182.5 60.2L181.8 59.9L180.9 60.6L180.0 59.6L179.5 58.9L178.9 57.7L179.1 56.4L178.5 55.8L178.8 55.1L177.4 54.8L176.0 55.2L175.1 55.4L175.6 56.5L175.1 58.0L175.8 58.1L174.9 58.5L174.8 59.7L173.9 59.7L173.3 58.5L173.7 57.6L173.1 56.4L172.3 55.6L172.0 53.9L171.0 53.4L170.1 52.5L169.5 51.7L168.7 51.0L167.3 50.2L167.1 49.5L166.0 49.9L165.8 51.4L166.6 52.2L167.4 53.9L168.9 54.7L170.1 55.1L171.4 55.6L170.3 56.8L169.9 57.3L169.2 58.1L169.1 57.8L168.9 56.9L168.5 56.1L167.6 55.7L166.3 54.9L165.1 53.5L164.4 52.6L164.2 51.4L162.7 51.1L161.9 51.7L160.6 52.6L159.3 52.1L158.0 52.4L158.0 53.7L157.0 54.3L156.0 54.5L155.4 55.5L155.0 56.5L155.5 57.2L154.8 58.6L153.6 59.6L152.6 59.7L151.6 59.7Z M180.5 54.6L179.5 53.7L179.1 52.3L179.7 51.0L180.5 49.8L181.6 48.7L182.9 48.4L184.0 49.2L183.6 49.9L184.4 50.8L185.1 50.4L185.9 50.2L185.7 49.8L186.1 49.2L187.5 48.2L188.3 48.2L189.1 47.9L188.6 48.7L188.0 50.0L187.6 50.0L187.9 50.5L188.9 51.1L189.8 52.2L190.5 53.2L191.1 54.0L189.9 54.6L188.2 54.5L187.5 54.1L186.6 53.7L185.7 53.4L184.3 53.5L183.4 54.0L182.6 54.5L181.6 54.5Z M196.3 51.0L196.0 52.5L196.5 53.7L197.0 54.5L197.7 55.3L198.3 55.7L197.9 56.7L197.6 57.6L197.7 58.6L199.1 59.1L200.3 59.3L201.6 59.1L201.3 57.7L201.3 56.5L201.2 55.3L201.2 54.0L200.8 53.4L199.7 52.4L199.7 51.0L199.1 50.7L199.5 50.3L201.2 50.1L201.1 48.6L199.6 48.3L198.7 48.5L197.8 48.8L196.9 49.8Z"/>
<clipPath id="landclip"><use href="#land"/></clipPath>
<clipPath id="boxclip"><rect width="310.8" height="67.1"/></clipPath>
<g id="coast"><path d="M71.5 78.2L70.7 78.3L69.8 78.4L68.9 78.4L68.0 78.4L67.1 78.5L66.2 78.6L65.2 78.6L64.0 78.6L63.9 77.4L63.9 76.4L64.1 75.6L63.6 74.9L63.0 74.2L62.5 73.4L62.0 72.7L61.4 72.0L60.8 71.2L60.4 70.4L59.9 69.5L59.5 68.7L58.9 68.0L58.2 67.3L57.4 66.7L56.8 66.0L56.4 65.4L56.7 66.1L56.8 67.0L57.4 68.2L58.0 69.3L58.4 70.4L58.9 71.3L59.5 72.3L60.1 73.2L60.5 75.0L59.6 73.9L58.8 72.8L58.4 72.0L57.9 71.2L57.3 70.5L56.7 69.8L56.2 69.0L55.7 68.1L55.2 67.2L54.8 66.3L54.4 65.4L54.0 64.5L53.4 63.8L52.9 63.1L52.1 62.7L51.1 62.1L50.7 60.8L50.3 59.7L49.7 58.3L49.0 57.3L48.3 56.3L47.8 55.5L48.2 54.6L48.5 53.6L48.3 52.7L48.4 51.9L48.2 50.9L48.0 49.9L48.1 49.0L47.3 47.9L47.3 46.7L47.0 46.2L46.1 45.5L45.4 44.7L44.8 43.8L45.6 43.0L44.6 41.8L43.9 40.9L43.2 40.0L42.7 39.2L42.0 38.4L41.4 37.6L40.8 36.7L40.2 35.9L39.7 35.1L38.8 34.1L37.0 34.0L35.8 34.2L34.7 34.0L33.6 33.5L32.4 33.0L31.1 32.9L29.8 33.0L28.0 32.6L27.1 33.5L25.9 34.1L24.3 34.4L25.1 33.4L25.8 32.1L24.4 32.4L23.7 33.2L23.2 34.5L22.4 36.1L21.3 36.6L20.4 37.0L19.5 37.6L18.7 38.3L17.6 38.8L16.5 39.3L15.5 39.7L14.4 40.0L12.9 40.2L13.8 39.1L14.7 38.7L15.6 38.3L16.4 37.8L17.3 37.4L18.2 37.1L19.0 36.3L19.5 35.6L18.6 35.5L17.8 35.7L16.9 35.6L15.5 35.5L14.9 34.2L14.3 34.0L13.3 33.3L12.8 32.1L13.5 31.6L13.5 30.8L14.3 30.4L15.2 29.8L16.6 29.3L16.4 28.3L15.3 28.3L14.2 28.4L13.1 28.4L11.9 28.5L11.0 27.9L10.1 27.3L11.0 26.7L11.9 26.1L13.1 26.1L13.8 26.5L13.8 25.6L12.5 24.4L11.4 24.1L12.4 23.9L13.4 23.5L14.4 22.8L15.4 21.8L16.6 21.5L17.6 21.2L18.8 21.0L20.0 20.8L21.0 21.1L22.0 21.3L23.1 21.4L24.2 21.7L25.5 22.0L26.7 22.2L27.7 22.2L28.8 22.1L29.8 22.1L30.8 22.1L31.8 22.3L32.8 22.5L34.1 22.7L35.4 22.9L36.5 23.3L37.6 23.7L38.7 23.3L39.7 22.7L41.0 22.6L42.3 22.5L43.5 22.1L44.9 21.7L46.0 22.4L47.0 23.0L48.1 23.6L49.2 23.7L50.3 23.5L51.4 23.1L52.7 23.1L54.0 23.1L55.1 23.1L56.3 23.4L57.2 24.0L57.9 24.4L59.1 24.1L60.2 23.6L60.8 22.9L61.8 22.2L63.9 22.0L65.2 22.7L65.9 23.4L66.6 24.0L67.8 24.3L69.1 24.8L70.1 24.7L70.8 24.3L72.5 24.4L73.0 22.9L73.0 21.9L73.8 21.5L73.7 20.8L74.8 21.5L75.7 22.9L76.6 23.5L77.3 24.2L78.4 24.2L79.4 24.2L80.7 25.3L81.4 24.1L82.0 23.2L82.5 23.2L83.4 23.3L84.4 23.3L85.0 24.6L84.7 25.6L83.8 25.8L82.9 26.7L81.8 27.1L81.5 27.0L81.4 27.8L79.7 28.9L78.3 28.9L77.0 29.1L76.2 29.8L75.6 30.5L74.9 31.2L74.3 32.3L73.9 33.5L73.7 35.0L74.6 35.9L75.5 36.7L76.6 36.8L77.7 36.9L78.8 37.5L79.8 38.1L80.9 38.6L81.9 39.2L83.1 39.3L84.0 39.2L84.2 40.9L85.3 42.1L86.8 43.3L87.4 42.0L87.3 40.8L87.4 39.7L88.2 39.2L89.0 38.6L89.2 37.5L88.6 35.8L88.3 34.7L88.1 33.5L88.5 31.9L88.3 31.1L89.4 31.4L90.6 31.5L91.5 32.0L92.3 32.6L93.7 33.4L94.8 33.0L95.3 33.7L95.5 34.9L96.7 35.4L97.5 35.0L98.3 34.8L99.0 34.0L99.7 33.7L99.9 34.2L100.4 35.0L101.0 35.8L101.7 36.6L102.3 37.4L103.0 38.1L103.6 38.9L104.6 39.4L105.7 39.8L106.3 40.6L106.9 41.5L107.2 42.3L106.1 43.2L105.4 43.8L104.6 44.3L103.6 44.7L102.4 44.5L101.3 44.5L100.2 44.6L99.1 44.8L98.0 44.8L96.6 45.8L95.9 46.4L95.1 47.0L94.6 47.9L95.9 46.8L97.0 46.2L98.0 45.7L98.9 45.8L99.8 46.0L99.0 46.9L99.2 48.2L99.9 49.2L101.1 49.6L102.3 49.8L103.5 49.0L102.7 50.0L101.6 50.3L100.5 50.7L99.6 51.4L98.5 52.1L98.1 50.6L99.7 49.8L98.6 50.0L97.5 50.2L96.7 50.8L95.8 51.4L94.6 51.8L94.1 53.1L94.8 53.8L93.7 54.3L92.8 54.7L92.0 55.1L91.6 55.4L91.4 56.5L90.5 57.2L89.9 58.0L89.2 59.2L89.6 60.3L89.8 61.1L89.2 61.6L87.9 62.6L87.0 63.5L86.4 64.2L85.8 64.9L85.2 66.5L85.5 67.8L85.9 69.0L86.3 69.9L86.7 71.0L86.2 72.8L85.0 72.3L84.5 71.1L84.1 69.9L84.0 68.4L83.1 66.9L81.8 67.3L80.7 66.6L79.6 66.7L78.6 66.8L78.1 67.9L76.9 67.7L75.8 67.5L74.7 67.3L73.4 68.0L72.6 69.0L71.9 70.0L71.7 71.1L71.6 72.2L71.5 73.3L71.3 74.4L71.0 75.5L71.0 76.5L71.2 77.4Z M150.8 60.3L150.1 59.3L149.0 59.0L147.7 59.3L147.6 58.3L147.6 57.5L146.8 57.3L147.3 55.6L147.4 54.7L147.6 53.8L147.4 52.6L148.5 51.9L149.5 52.1L150.6 52.3L151.7 52.4L152.8 52.4L154.2 52.2L154.3 50.7L154.5 49.2L153.5 47.9L152.5 47.5L151.5 47.1L151.3 46.3L152.8 46.1L154.2 46.3L154.2 45.0L155.5 45.0L156.5 44.3L156.7 43.4L158.4 43.0L159.3 42.4L159.8 41.7L160.6 41.4L161.5 41.0L162.7 40.7L162.4 39.7L162.2 38.6L162.3 37.0L163.2 36.1L164.8 35.8L164.5 37.4L165.2 37.6L164.4 39.4L163.8 39.2L164.8 39.9L166.1 40.2L167.5 40.8L169.3 40.2L170.3 39.5L171.4 39.0L172.3 39.3L173.0 38.6L173.3 37.4L173.8 36.0L174.9 36.3L175.5 37.4L176.8 36.9L176.6 35.4L175.8 35.1L175.7 34.5L177.0 34.2L178.3 33.7L179.5 33.4L180.9 33.3L180.4 33.4L178.7 32.7L176.9 32.9L175.9 33.0L175.2 33.3L174.0 32.7L173.7 31.6L173.2 30.0L174.6 28.9L175.5 28.5L176.7 28.4L178.6 27.5L176.9 25.2L175.2 25.3L173.9 26.3L173.5 27.8L173.9 28.9L172.9 29.9L171.7 30.8L170.7 31.1L169.4 32.0L169.0 34.1L170.5 34.3L171.7 34.1L171.0 35.4L170.0 36.0L169.4 37.3L168.6 37.6L167.5 38.4L166.8 38.4L166.5 37.6L166.1 36.1L165.2 35.3L164.5 34.5L163.5 34.6L162.2 35.0L161.5 34.7L160.9 34.4L160.0 33.5L159.3 31.8L159.5 30.6L160.7 30.2L161.8 30.0L163.2 29.7L164.6 28.6L165.4 27.8L166.0 26.9L166.0 25.8L166.4 24.6L168.0 23.7L169.6 23.3L170.8 23.3L172.0 23.4L173.4 23.7L174.7 23.4L175.5 22.4L176.1 21.5L177.0 21.2L178.1 21.5L179.1 21.6L180.2 21.8L181.3 22.2L182.2 22.6L183.1 22.5L183.9 23.0L185.2 23.2L186.5 23.5L187.3 23.9L188.2 24.1L189.1 24.4L189.9 24.7L190.8 25.2L190.8 26.6L189.7 26.9L188.6 27.1L187.5 26.8L186.5 26.4L184.8 26.5L183.7 25.5L183.4 26.5L184.3 27.3L185.2 28.0L185.6 28.6L186.5 28.8L187.3 29.1L188.2 28.4L187.6 27.8L188.7 28.3L190.0 28.8L190.7 28.3L191.4 27.5L191.7 26.7L193.4 26.6L193.3 25.4L192.8 24.0L193.8 24.3L194.7 24.6L195.5 24.8L196.4 24.5L197.5 24.6L198.6 24.8L199.9 24.7L201.1 24.4L202.4 24.7L203.6 24.4L204.6 24.2L206.4 24.2L207.1 23.4L207.6 22.6L208.7 22.6L209.8 22.7L211.1 23.1L211.9 22.6L213.0 22.3L213.8 21.3L214.4 20.7L214.8 19.8L215.4 18.9L217.2 19.1L217.7 20.0L218.2 21.0L218.3 22.2L218.4 23.5L218.6 24.4L218.7 25.3L218.9 26.4L219.9 25.0L219.9 23.7L219.3 23.3L219.4 22.3L219.4 21.3L220.0 20.6L220.6 19.8L221.7 19.7L222.9 19.7L224.0 19.7L224.9 18.4L225.8 18.3L226.8 18.2L227.8 18.2L228.7 18.2L229.8 18.1L230.6 17.0L231.6 16.8L232.5 16.5L233.5 16.1L234.5 15.8L235.5 15.5L236.5 15.4L237.6 15.3L238.7 15.3L239.8 15.4L240.9 15.5L241.8 15.2L242.7 14.7L243.4 14.2L244.3 13.8L245.2 13.6L246.9 14.1L248.2 15.0L249.2 15.1L250.2 15.1L251.2 15.2L252.2 15.6L253.0 15.6L252.9 16.6L252.8 17.8L252.0 18.3L253.1 18.4L254.2 18.3L255.2 18.2L256.2 18.1L257.3 18.1L258.3 18.2L259.4 18.2L260.5 18.2L261.6 18.1L262.7 18.2L263.9 18.4L265.0 18.6L265.8 19.1L266.7 19.4L267.2 20.7L268.8 21.3L269.9 21.0L271.1 20.7L272.0 20.7L273.0 20.8L273.9 21.0L274.9 21.0L276.1 21.0L276.5 20.0L277.3 20.2L278.4 20.2L279.5 20.1L280.6 20.0L281.5 20.0L282.5 19.9L283.5 19.8L284.5 19.8L285.6 20.5L286.6 21.3L287.8 21.5L288.9 21.6L290.1 21.4L291.4 21.3L292.7 21.3L293.5 22.0L294.0 22.7L295.0 22.7L296.1 22.8L297.3 22.9L298.4 23.0L299.6 22.9L300.9 22.6L302.2 22.3L303.9 22.7L305.0 22.8L306.2 22.8L307.3 22.6L308.5 22.6L309.6 22.9L310.8 23.5L311.6 24.0L312.5 24.3L313.4 24.7L314.3 25.0L315.1 25.4L316.4 25.5L317.7 25.7L318.7 26.2L319.7 26.7L319.0 27.3L317.3 27.7L316.9 28.8L315.1 28.5L313.8 28.2L312.1 28.3L310.8 27.7L309.4 28.0L308.3 28.2L309.1 29.4L309.7 30.3L310.0 30.8L309.2 30.9L308.2 30.9L307.4 31.2L306.5 31.3L305.6 31.6L304.7 32.3L303.7 32.9L302.6 33.4L301.6 33.3L300.7 33.2L299.7 33.2L298.7 33.1L297.6 33.3L296.4 33.5L296.0 35.2L295.7 36.0L296.0 36.9L296.3 37.8L295.3 38.6L294.8 39.6L294.3 40.6L293.7 41.6L292.3 42.3L291.5 42.9L290.7 43.6L290.3 41.9L290.1 40.8L289.8 39.7L289.5 38.5L289.9 37.2L290.5 35.9L292.2 35.7L293.0 35.1L293.9 34.5L294.6 33.8L295.4 32.7L296.1 31.5L294.8 31.8L293.5 31.9L292.2 31.8L291.0 31.8L290.1 32.6L289.3 33.5L288.4 34.3L287.3 34.5L286.2 34.5L285.2 34.4L284.2 34.3L283.2 34.3L281.9 34.2L280.6 34.1L278.8 34.2L277.8 35.0L276.8 35.5L276.2 36.2L275.5 37.0L274.8 37.7L274.1 38.3L273.4 38.9L272.8 39.6L274.1 39.8L275.4 40.0L276.4 40.5L277.5 41.0L277.1 42.1L276.6 43.1L276.5 44.7L276.3 46.4L275.7 47.3L275.0 48.1L274.3 49.0L273.5 49.9L272.8 50.9L271.9 51.5L270.9 51.9L270.1 52.5L268.4 52.8L267.6 53.7L267.4 55.0L266.3 56.1L266.7 56.7L267.0 57.7L267.6 58.6L267.7 59.9L267.5 61.2L266.4 61.7L265.5 62.0L264.5 62.3L264.4 61.0L264.3 59.8L264.9 58.4L263.5 58.1L263.8 57.5L263.8 56.4L262.7 55.7L261.5 56.3L260.6 56.9L260.3 56.0L259.9 54.9L258.5 56.0L257.2 56.7L256.6 57.8L257.8 58.9L258.6 59.1L259.8 58.3L261.4 58.7L260.4 59.7L259.1 60.7L258.3 61.7L258.9 62.5L259.5 63.2L259.9 64.8L260.6 66.2L260.1 67.3L260.4 68.2L260.1 69.0L259.8 69.9L259.4 70.7L259.0 71.5L258.2 72.0L257.5 72.6L256.7 73.1L256.0 73.6L255.2 74.1L254.5 74.7L253.8 75.3L253.1 75.8L252.4 76.5L251.8 77.2L251.2 77.9L250.4 78.5L249.4 78.4L248.5 78.2L247.6 78.1L246.7 78.1L245.8 78.3L244.9 78.6L243.9 78.7L243.0 78.7L242.1 78.6L241.2 78.5L240.3 78.3L239.3 78.2L238.4 78.2L237.5 78.4L236.6 78.5L235.7 78.4L234.8 78.3L233.8 78.1L232.9 77.9L232.0 77.8L231.1 78.1L230.2 78.4L229.2 78.6L228.3 78.7L227.4 78.7L226.5 78.6L225.6 78.4L224.7 78.3L223.7 78.2L222.8 78.0L221.9 78.0L221.0 78.0L220.1 78.2L219.1 78.4L218.2 78.5L217.3 78.6L216.4 78.5L215.5 78.4L214.5 78.4L213.6 78.5L212.7 78.3L211.8 78.1L210.9 78.0L210.0 78.0L209.0 78.2L208.1 78.3L207.2 78.2L206.3 78.3L205.4 78.4L204.5 78.5L203.6 78.4L202.7 78.4L201.7 78.3L200.8 78.3L199.9 78.4L199.0 78.3L198.1 78.3L197.2 78.3L196.3 78.4L195.4 78.4L194.5 78.3L193.6 78.3L192.7 78.4L191.8 78.6L190.8 78.7L189.9 78.7L189.0 78.5L188.1 78.3L187.2 78.1L186.3 78.1L185.4 78.2L184.5 78.3L183.6 78.3L182.6 78.3L181.7 78.3L180.8 78.3L179.9 78.2L179.0 78.0L178.1 77.8L177.2 77.8L176.3 78.0L175.4 78.1L174.4 78.1L173.5 78.1L172.6 78.2L171.7 78.3L170.8 78.4L169.9 78.3L169.0 78.1L168.1 78.0L167.2 78.0L166.2 78.1L165.3 78.3L164.4 78.5L163.5 78.6L162.6 78.6L161.7 78.6L160.8 78.6L159.9 78.6L158.9 78.5L158.0 78.4L157.1 78.2L156.2 78.2L155.3 78.2L154.4 78.2L153.5 78.4L152.6 78.4L151.7 78.4L150.7 78.3L149.8 78.2L148.9 78.3L148.0 78.3L147.1 78.3L146.2 78.1L145.3 78.0L144.4 78.0L143.5 77.9L142.5 77.8L141.6 77.9L140.9 78.2L140.8 77.2L140.7 76.0L140.9 74.9L141.1 73.8L141.9 73.1L142.5 72.3L143.0 71.4L143.7 70.5L144.4 69.6L145.2 69.0L146.0 68.3L146.7 67.6L146.8 66.5L146.7 64.8L147.4 64.1L148.1 63.4L149.6 62.7L149.9 61.6L150.3 60.6Z M-160.0 60.3L-160.7 59.3L-161.8 59.0L-163.1 59.3L-163.2 58.3L-163.2 57.5L-164.0 57.3L-163.5 55.6L-163.4 54.7L-163.2 53.8L-163.4 52.6L-162.3 51.9L-161.3 52.1L-160.2 52.3L-159.1 52.4L-158.0 52.4L-156.6 52.2L-156.5 50.7L-156.3 49.2L-157.3 47.9L-158.3 47.5L-159.3 47.1L-159.5 46.3L-158.0 46.1L-156.6 46.3L-156.6 45.0L-155.3 45.0L-154.3 44.3L-154.1 43.4L-152.4 43.0L-151.5 42.4L-151.0 41.7L-150.2 41.4L-149.3 41.0L-148.1 40.7L-148.4 39.7L-148.6 38.6L-148.5 37.0L-147.6 36.1L-146.0 35.8L-146.3 37.4L-145.6 37.6L-146.4 39.4L-147.0 39.2L-146.0 39.9L-144.7 40.2L-143.3 40.8L-141.5 40.2L-140.5 39.5L-139.4 39.0L-138.5 39.3L-137.8 38.6L-137.5 37.4L-137.0 36.0L-135.9 36.3L-135.3 37.4L-134.0 36.9L-134.2 35.4L-135.0 35.1L-135.1 34.5L-133.8 34.2L-132.5 33.7L-131.3 33.4L-129.9 33.3L-130.4 33.4L-132.1 32.7L-133.9 32.9L-134.9 33.0L-135.6 33.3L-136.8 32.7L-137.1 31.6L-137.6 30.0L-136.2 28.9L-135.3 28.5L-134.1 28.4L-132.2 27.5L-133.9 25.2L-135.6 25.3L-136.9 26.3L-137.3 27.8L-136.9 28.9L-137.9 29.9L-139.1 30.8L-140.1 31.1L-141.4 32.0L-141.8 34.1L-140.3 34.3L-139.1 34.1L-139.8 35.4L-140.8 36.0L-141.4 37.3L-142.2 37.6L-143.3 38.4L-144.0 38.4L-144.3 37.6L-144.7 36.1L-145.6 35.3L-146.3 34.5L-147.3 34.6L-148.6 35.0L-149.3 34.7L-149.9 34.4L-150.8 33.5L-151.5 31.8L-151.3 30.6L-150.1 30.2L-149.0 30.0L-147.6 29.7L-146.2 28.6L-145.4 27.8L-144.8 26.9L-144.8 25.8L-144.4 24.6L-142.8 23.7L-141.2 23.3L-140.0 23.3L-138.8 23.4L-137.4 23.7L-136.1 23.4L-135.3 22.4L-134.7 21.5L-133.8 21.2L-132.7 21.5L-131.7 21.6L-130.6 21.8L-129.5 22.2L-128.6 22.6L-127.7 22.5L-126.9 23.0L-125.6 23.2L-124.3 23.5L-123.5 23.9L-122.6 24.1L-121.7 24.4L-120.9 24.7L-120.0 25.2L-120.0 26.6L-121.1 26.9L-122.2 27.1L-123.3 26.8L-124.3 26.4L-126.0 26.5L-127.1 25.5L-127.4 26.5L-126.5 27.3L-125.6 28.0L-125.2 28.6L-124.3 28.8L-123.5 29.1L-122.6 28.4L-123.2 27.8L-122.1 28.3L-120.8 28.8L-120.1 28.3L-119.4 27.5L-119.1 26.7L-117.4 26.6L-117.5 25.4L-118.0 24.0L-117.0 24.3L-116.1 24.6L-115.3 24.8L-114.4 24.5L-113.3 24.6L-112.2 24.8L-110.9 24.7L-109.7 24.4L-108.4 24.7L-107.2 24.4L-106.2 24.2L-104.4 24.2L-103.7 23.4L-103.2 22.6L-102.1 22.6L-101.0 22.7L-99.7 23.1L-98.9 22.6L-97.8 22.3L-97.0 21.3L-96.4 20.7L-96.0 19.8L-95.4 18.9L-93.6 19.1L-93.1 20.0L-92.6 21.0L-92.5 22.2L-92.4 23.5L-92.2 24.4L-92.1 25.3L-91.9 26.4L-90.9 25.0L-90.9 23.7L-91.5 23.3L-91.4 22.3L-91.4 21.3L-90.8 20.6L-90.2 19.8L-89.1 19.7L-87.9 19.7L-86.8 19.7L-85.9 18.4L-85.0 18.3L-84.0 18.2L-83.0 18.2L-82.1 18.2L-81.0 18.1L-80.2 17.0L-79.2 16.8L-78.3 16.5L-77.3 16.1L-76.3 15.8L-75.3 15.5L-74.3 15.4L-73.2 15.3L-72.1 15.3L-71.0 15.4L-69.9 15.5L-69.0 15.2L-68.1 14.7L-67.4 14.2L-66.5 13.8L-65.6 13.6L-63.9 14.1L-62.6 15.0L-61.6 15.1L-60.6 15.1L-59.6 15.2L-58.6 15.6L-57.8 15.6L-57.9 16.6L-58.0 17.8L-58.8 18.3L-57.7 18.4L-56.6 18.3L-55.6 18.2L-54.6 18.1L-53.5 18.1L-52.5 18.2L-51.4 18.2L-50.3 18.2L-49.2 18.1L-48.1 18.2L-46.9 18.4L-45.8 18.6L-45.0 19.1L-44.1 19.4L-43.6 20.7L-42.0 21.3L-40.9 21.0L-39.7 20.7L-38.8 20.7L-37.8 20.8L-36.9 21.0L-35.9 21.0L-34.7 21.0L-34.3 20.0L-33.5 20.2L-32.4 20.2L-31.3 20.1L-30.2 20.0L-29.3 20.0L-28.3 19.9L-27.3 19.8L-26.3 19.8L-25.2 20.5L-24.2 21.3L-23.0 21.5L-21.9 21.6L-20.7 21.4L-19.4 21.3L-18.1 21.3L-17.3 22.0L-16.8 22.7L-15.8 22.7L-14.7 22.8L-13.5 22.9L-12.4 23.0L-11.2 22.9L-9.9 22.6L-8.6 22.3L-6.9 22.7L-5.8 22.8L-4.6 22.8L-3.5 22.6L-2.3 22.6L-1.2 22.9L0.0 23.5L0.8 24.0L1.7 24.3L2.6 24.7L3.5 25.0L4.3 25.4L5.6 25.5L6.9 25.7L7.9 26.2L8.9 26.7L8.2 27.3L6.5 27.7L6.1 28.8L4.3 28.5L3.0 28.2L1.3 28.3L-0.0 27.7L-1.4 28.0L-2.5 28.2L-1.7 29.4L-1.1 30.3L-0.8 30.8L-1.6 30.9L-2.6 30.9L-3.4 31.2L-4.3 31.3L-5.2 31.6L-6.1 32.3L-7.1 32.9L-8.2 33.4L-9.2 33.3L-10.1 33.2L-11.1 33.2L-12.1 33.1L-13.2 33.3L-14.4 33.5L-14.8 35.2L-15.1 36.0L-14.8 36.9L-14.5 37.8L-15.5 38.6L-16.0 39.6L-16.5 40.6L-17.1 41.6L-18.5 42.3L-19.3 42.9L-20.1 43.6L-20.5 41.9L-20.7 40.8L-21.0 39.7L-21.3 38.5L-20.9 37.2L-20.3 35.9L-18.6 35.7L-17.8 35.1L-16.9 34.5L-16.2 33.8L-15.4 32.7L-14.7 31.5L-16.0 31.8L-17.3 31.9L-18.6 31.8L-19.8 31.8L-20.7 32.6L-21.5 33.5L-22.4 34.3L-23.5 34.5L-24.6 34.5L-25.6 34.4L-26.6 34.3L-27.6 34.3L-28.9 34.2L-30.2 34.1L-32.0 34.2L-33.0 35.0L-34.0 35.5L-34.6 36.2L-35.3 37.0L-36.0 37.7L-36.7 38.3L-37.4 38.9L-38.0 39.6L-36.7 39.8L-35.4 40.0L-34.4 40.5L-33.3 41.0L-33.7 42.1L-34.2 43.1L-34.3 44.7L-34.5 46.4L-35.1 47.3L-35.8 48.1L-36.5 49.0L-37.3 49.9L-38.0 50.9L-38.9 51.5L-39.9 51.9L-40.7 52.5L-42.4 52.8L-43.2 53.7L-43.4 55.0L-44.5 56.1L-44.1 56.7L-43.8 57.7L-43.2 58.6L-43.1 59.9L-43.3 61.2L-44.4 61.7L-45.3 62.0L-46.3 62.3L-46.4 61.0L-46.5 59.8L-45.9 58.4L-47.3 58.1L-47.0 57.5L-47.0 56.4L-48.1 55.7L-49.3 56.3L-50.2 56.9L-50.5 56.0L-50.9 54.9L-52.3 56.0L-53.6 56.7L-54.2 57.8L-53.0 58.9L-52.2 59.1L-51.0 58.3L-49.4 58.7L-50.4 59.7L-51.7 60.7L-52.5 61.7L-51.9 62.5L-51.3 63.2L-50.9 64.8L-50.2 66.2L-50.7 67.3L-50.4 68.2L-50.7 69.0L-51.0 69.9L-51.4 70.7L-51.8 71.5L-52.6 72.0L-53.3 72.6L-54.1 73.1L-54.8 73.6L-55.6 74.1L-56.3 74.7L-57.0 75.3L-57.7 75.8L-58.4 76.5L-59.0 77.2L-59.6 77.9L-60.4 78.5L-61.4 78.4L-62.3 78.2L-63.2 78.1L-64.1 78.1L-65.0 78.3L-65.9 78.6L-66.9 78.7L-67.8 78.7L-68.7 78.6L-69.6 78.5L-70.5 78.3L-71.5 78.2L-72.4 78.2L-73.3 78.4L-74.2 78.5L-75.1 78.4L-76.0 78.3L-77.0 78.1L-77.9 77.9L-78.8 77.8L-79.7 78.1L-80.6 78.4L-81.6 78.6L-82.5 78.7L-83.4 78.7L-84.3 78.6L-85.2 78.4L-86.1 78.3L-87.1 78.2L-88.0 78.0L-88.9 78.0L-89.8 78.0L-90.7 78.2L-91.7 78.4L-92.6 78.5L-93.5 78.6L-94.4 78.5L-95.3 78.4L-96.3 78.4L-97.2 78.5L-98.1 78.3L-99.0 78.1L-99.9 78.0L-100.8 78.0L-101.8 78.2L-102.7 78.3L-103.6 78.2L-104.5 78.3L-105.4 78.4L-106.3 78.5L-107.2 78.4L-108.1 78.4L-109.1 78.3L-110.0 78.3L-110.9 78.4L-111.8 78.3L-112.7 78.3L-113.6 78.3L-114.5 78.4L-115.4 78.4L-116.3 78.3L-117.2 78.3L-118.1 78.4L-119.0 78.6L-120.0 78.7L-120.9 78.7L-121.8 78.5L-122.7 78.3L-123.6 78.1L-124.5 78.1L-125.4 78.2L-126.3 78.3L-127.2 78.3L-128.2 78.3L-129.1 78.3L-130.0 78.3L-130.9 78.2L-131.8 78.0L-132.7 77.8L-133.6 77.8L-134.5 78.0L-135.4 78.1L-136.4 78.1L-137.3 78.1L-138.2 78.2L-139.1 78.3L-140.0 78.4L-140.9 78.3L-141.8 78.1L-142.7 78.0L-143.6 78.0L-144.6 78.1L-145.5 78.3L-146.4 78.5L-147.3 78.6L-148.2 78.6L-149.1 78.6L-150.0 78.6L-150.9 78.6L-151.9 78.5L-152.8 78.4L-153.7 78.2L-154.6 78.2L-155.5 78.2L-156.4 78.2L-157.3 78.4L-158.2 78.4L-159.1 78.4L-160.1 78.3L-161.0 78.2L-161.9 78.3L-162.8 78.3L-163.7 78.3L-164.6 78.1L-165.5 78.0L-166.4 78.0L-167.3 77.9L-168.3 77.8L-169.2 77.9L-169.9 78.2L-170.0 77.2L-170.1 76.0L-169.9 74.9L-169.7 73.8L-168.9 73.1L-168.3 72.3L-167.8 71.4L-167.1 70.5L-166.4 69.6L-165.6 69.0L-164.8 68.3L-164.1 67.6L-164.0 66.5L-164.1 64.8L-163.4 64.1L-162.7 63.4L-161.2 62.7L-160.9 61.6L-160.5 60.6Z M103.7 47.5L104.4 45.6L105.0 44.8L105.7 44.2L107.1 43.0L107.6 44.1L108.4 44.6L109.3 45.2L109.8 46.3L110.3 47.6L109.1 48.9L107.5 48.1L106.2 47.3L105.2 47.4Z M93.0 13.1L93.3 13.5L94.0 14.2L94.8 14.8L95.7 15.5L96.9 16.1L98.0 16.5L99.1 16.9L100.4 16.9L101.5 16.8L102.5 17.0L103.5 17.0L104.6 17.1L105.7 17.0L106.6 17.5L107.4 18.2L107.8 19.4L108.0 20.6L108.8 21.3L109.5 22.0L110.3 22.8L111.2 23.2L110.4 24.1L109.7 24.8L109.5 26.2L109.7 27.2L110.1 28.3L110.9 29.2L112.0 30.0L113.0 30.4L113.7 31.1L113.9 31.9L114.5 32.5L115.2 33.1L116.1 33.5L117.4 33.9L118.3 33.0L118.8 31.8L119.3 30.6L119.8 29.7L120.3 28.8L120.9 28.0L122.2 27.9L123.6 27.6L124.5 26.9L125.1 26.0L125.7 25.0L126.6 24.2L127.9 24.2L129.0 24.3L130.1 24.4L131.4 24.6L132.5 24.1L133.4 23.3L134.3 22.4L135.3 21.8L136.5 21.3L136.5 19.6L136.7 18.0L137.5 17.4L138.3 17.2L138.4 16.2L138.3 15.0L138.6 14.1L139.2 13.3L139.9 11.7L140.8 11.3L141.7 10.8L142.6 10.4L143.8 10.0L144.9 9.3L144.0 10.1L143.0 10.1L142.0 9.6L141.1 9.2L140.1 8.9L139.1 8.8L138.1 8.9L137.1 9.0L136.2 8.7L135.2 8.5L134.2 8.5L133.3 8.5L132.3 8.1L131.4 7.6L130.5 7.3L129.5 7.0L128.5 6.8L127.6 6.9L126.6 7.2L125.7 7.6L124.7 7.8L123.7 7.6L122.8 7.3L121.8 7.0L120.8 6.9L119.9 7.1L118.9 7.3L117.9 7.1L116.9 6.9L116.0 7.0L115.0 7.4L114.1 7.7L113.2 8.1L112.2 8.4L111.3 8.4L110.3 8.4L109.3 8.5L108.3 8.6L107.3 8.4L106.3 8.5L105.4 9.0L104.3 9.7L103.3 10.5L102.2 10.7L101.2 10.5L100.2 10.2L99.3 10.2L98.3 10.9L97.3 11.7L96.5 12.6L95.6 13.3L94.6 13.6L93.7 13.8Z M99.0 31.8L97.9 31.2L97.1 30.5L96.3 30.0L97.3 29.5L98.1 29.0L98.8 28.3L98.3 27.6L99.8 27.1L100.9 26.6L101.7 26.1L100.9 25.9L100.0 25.6L99.1 25.4L98.2 25.1L97.1 24.7L96.1 23.8L95.6 23.3L94.8 23.2L93.7 22.8L92.6 22.0L91.8 21.1L90.9 20.5L89.7 20.4L88.6 20.4L87.5 20.1L86.5 19.7L85.7 19.1L85.0 19.0L84.0 19.2L83.1 19.2L82.1 18.9L81.0 18.8L80.0 19.0L79.1 19.3L80.0 19.7L80.8 20.4L81.3 21.2L82.0 22.0L82.8 22.5L84.2 22.6L85.5 22.7L86.6 22.7L87.6 23.0L88.5 23.6L89.4 23.8L90.2 24.2L91.2 24.5L92.6 24.5L94.2 26.4L93.7 28.3L92.3 29.1L90.7 28.6L89.8 28.1L87.7 27.8L88.3 30.0L89.4 29.7L90.2 29.1L91.1 28.1L92.6 28.1L93.6 28.7L94.4 29.5L95.4 29.9L96.5 30.0L97.4 30.2L98.4 30.6Z M101.2 8.6L100.8 9.3L99.8 9.2L98.9 8.8L97.9 8.5L96.9 8.5L95.9 8.6L94.9 8.7L94.0 8.8L93.0 8.6L91.9 8.0L90.9 7.6L89.9 7.6L88.9 7.5L87.9 7.5L86.9 7.3L85.9 7.2L84.8 7.0L83.9 7.1L82.9 7.4L82.0 7.8L81.1 8.4L80.1 9.0L79.0 9.2L78.0 9.5L77.0 9.9L76.2 10.3L75.8 11.0L75.1 11.7L76.2 12.2L77.3 12.4L78.4 12.4L79.7 12.8L79.2 14.5L80.0 14.6L81.0 14.7L81.9 14.9L82.9 15.5L84.0 15.7L85.0 15.5L86.1 15.1L87.1 15.2L87.7 14.1L88.7 13.6L89.6 12.9L90.7 12.3L92.0 12.2L93.3 12.1L94.3 12.0L95.2 12.0L96.1 11.8L97.0 11.4L97.7 10.6L98.4 9.7L99.1 9.0L100.0 8.7L100.8 8.3Z M78.9 10.5L78.5 10.7L77.5 10.7L76.5 10.6L75.5 10.4L74.5 10.3L73.5 10.4L72.4 10.4L72.3 11.7L72.7 13.2L74.2 13.7L75.5 13.5L76.8 13.1L77.6 12.1L78.5 11.6L78.6 10.9Z M85.6 16.6L85.3 16.5L84.4 17.0L83.4 17.5L82.4 17.4L81.4 17.3L80.4 17.6L79.4 17.8L78.3 17.7L77.1 17.9L75.8 18.3L74.9 17.7L74.4 16.2L73.9 14.9L74.0 16.1L73.6 16.5L74.3 15.7L75.1 15.2L75.9 14.5L77.0 14.5L78.0 14.9L79.1 15.1L80.1 15.2L81.2 15.1L82.2 15.0L83.2 15.0L84.3 14.9L85.3 14.9L86.3 15.4L85.7 16.4Z M51.4 20.7L52.8 19.1L54.1 18.3L55.4 18.6L56.5 18.7L57.6 18.9L58.7 19.0L59.7 18.7L60.7 18.1L61.8 17.7L62.8 17.8L64.1 18.0L65.6 19.2L66.7 19.7L67.7 20.4L68.4 22.1L66.5 22.6L65.3 22.7L64.5 22.6L63.3 22.9L62.2 23.5L61.2 24.1L60.2 24.4L59.2 24.4L58.3 24.0L57.4 23.5L56.2 23.3L55.1 23.2L53.5 23.2L52.7 22.0Z M46.6 20.5L46.7 19.1L47.7 18.5L48.4 17.7L49.5 17.5L50.6 17.3L51.8 17.3L52.6 17.7L53.5 17.9L54.4 18.2L55.1 18.5L54.9 19.2L54.1 19.3L53.2 19.5L52.4 19.9L51.8 20.7L50.8 21.4L49.9 21.9L48.6 22.3L47.3 21.9Z M55.3 17.2L54.5 16.5L54.0 15.2L55.5 15.3L56.6 15.6L57.6 15.1L58.7 14.2L59.9 13.8L60.9 14.3L61.8 15.4L62.8 15.9L63.8 15.8L64.8 16.8L63.7 16.8L62.5 16.4L61.4 16.2L60.4 16.2L59.4 16.5L58.4 16.8L57.3 16.8L56.3 16.8Z M51.8 14.4L50.9 14.3L50.0 14.5L50.6 14.3L51.5 13.5L52.3 12.9L53.7 12.8L55.2 14.2L53.7 14.3L52.7 14.2Z M71.3 15.4L70.6 15.6L69.4 15.8L68.2 15.8L67.2 15.8L65.9 14.9L67.5 14.6L68.6 14.6L69.6 14.0L70.9 13.6L71.8 14.6L71.9 15.3Z M77.4 20.1L76.3 20.1L75.3 19.7L74.4 19.8L72.9 20.3L71.5 17.8L73.6 16.4L75.1 16.7L76.5 17.6L77.7 18.2L77.4 19.0Z M71.5 19.9L70.8 19.9L69.7 20.1L68.6 20.5L66.9 19.9L67.9 18.0L69.5 18.2L70.8 18.3L71.4 19.0L71.8 19.3L71.6 19.7Z M72.5 23.2L72.2 21.8L71.3 22.2L70.0 23.0L70.7 23.1L71.6 23.1L72.5 23.3Z M85.5 29.2L84.7 29.2L83.5 29.2L82.5 29.1L81.4 29.5L79.4 29.5L80.2 27.9L81.6 27.7L82.6 27.8L83.8 26.5L84.9 26.8L85.2 27.9Z M77.5 18.7L74.2 19.1L73.2 18.7L70.3 18.5L71.8 14.7L73.5 15.2L75.5 14.1Z M87.6 18.7L86.7 18.4L87.0 19.1L87.1 20.4L87.3 20.3L87.8 18.5Z M85.0 30.8L83.3 31.0L83.7 30.0L85.5 30.2Z M150.3 44.7L151.6 44.3L152.8 43.8L154.1 43.6L155.3 43.5L156.6 43.4L156.8 41.8L155.6 41.5L155.5 40.7L154.8 39.7L153.9 38.7L153.4 38.4L152.8 37.8L154.0 36.3L152.4 36.1L152.4 35.6L151.6 36.0L151.2 36.6L150.3 37.4L150.5 38.7L151.1 39.8L152.1 39.7L151.5 40.5L152.0 40.4L150.6 41.0L151.6 42.0L151.2 42.9L151.9 42.1L153.2 43.4L151.5 43.4Z M150.3 42.3L150.4 40.9L150.9 39.6L150.0 38.9L149.2 39.4L148.6 40.6L147.6 40.6L148.0 41.5L147.5 42.5L147.3 42.5L148.5 42.7L149.9 42.4Z M136.6 27.7L135.6 27.9L135.6 28.0L136.4 27.4L135.3 27.1L134.6 27.1L135.3 27.2L136.0 26.8L137.0 26.8L138.1 26.7L139.1 26.4L140.1 26.3L141.1 26.5L142.5 27.2L142.7 27.7L142.5 28.1L141.8 28.7L140.8 29.1L139.8 29.3L138.7 28.6L137.5 27.9Z M164.6 13.0L165.1 11.5L166.5 10.4L167.9 9.9L169.4 10.0L170.5 10.9L171.1 12.0L172.2 12.5L173.3 12.9L172.4 12.6L171.5 12.8L170.6 13.4L169.6 14.9L168.6 15.1L167.3 15.0L166.4 14.3L165.8 13.9Z M171.9 10.8L172.3 12.3L172.9 12.2L173.8 11.8L175.0 11.0L176.1 10.6L177.4 10.8L178.9 10.9L178.0 11.8L177.0 11.9L175.8 11.3L174.6 10.7L173.7 10.5L172.5 10.5Z M173.5 13.6L175.7 13.2L176.1 14.0L174.4 14.3Z M200.0 21.0L200.7 19.6L201.5 18.5L202.6 17.8L203.6 17.2L204.5 16.7L205.4 16.2L206.3 15.8L207.4 15.8L208.6 15.8L209.7 16.0L210.8 15.8L211.7 15.5L212.7 15.3L213.7 15.3L213.7 14.4L212.9 14.3L211.9 14.9L211.2 15.2L210.4 15.8L209.7 16.5L208.9 17.1L208.2 17.6L207.3 18.1L206.4 18.5L205.4 19.0L204.6 19.7L203.7 20.4L203.4 21.0L202.5 21.0L201.2 21.4Z M201.8 9.1L202.5 11.2L203.6 10.8L204.4 10.3L205.1 9.9L204.2 10.4L202.9 10.2Z M205.4 10.9L206.7 11.3L207.8 11.0L208.9 10.1L211.2 10.1L209.6 11.8L208.5 12.0L207.2 12.0Z M197.0 11.4L197.5 12.2L198.3 11.7L198.9 10.4L198.1 10.6L196.9 10.3Z M194.2 11.0L196.8 10.7L196.0 11.3Z M237.6 11.7L238.3 11.2L239.1 10.6L240.0 9.9L241.1 9.9L242.1 10.0L243.1 10.2L244.2 10.4L245.2 10.6L245.6 11.5L245.9 12.2L244.9 12.2L243.9 12.5L242.8 13.0L241.7 13.5L240.5 13.2L239.4 12.6L238.4 12.3Z M273.5 16.2L274.6 16.0L275.5 15.9L276.3 15.6L277.3 15.7L278.3 15.8L279.3 16.1L280.4 16.4L281.4 16.6L282.6 16.7L283.7 16.8L284.7 16.7L284.0 16.7L283.1 16.8L282.1 16.7L281.1 16.9L280.1 17.3L279.1 17.6L278.1 17.7L277.1 17.9L275.8 17.8L274.4 17.6Z M309.7 21.1L310.8 21.0L311.8 21.2L312.8 21.0L311.7 21.6L310.6 21.3Z M-1.1 21.1L0.0 21.0L1.0 21.2L2.0 21.0L0.9 21.6L-0.2 21.3Z M278.0 40.0L278.9 40.8L279.0 41.7L278.9 42.7L278.8 43.7L279.1 44.8L279.4 45.8L279.1 46.9L278.6 48.0L278.0 48.8L278.4 48.0L278.4 47.0L278.3 46.0L278.1 45.0L278.0 44.0L278.1 43.1L278.0 42.0L277.8 41.0Z M276.1 54.4L277.3 54.0L278.2 53.8L279.1 53.6L279.9 52.8L281.0 52.2L280.1 51.5L279.2 51.2L278.2 50.9L278.1 50.3L278.2 51.0L277.6 52.0L276.0 53.0Z M277.4 54.3L277.8 55.4L278.4 56.5L278.2 57.6L277.6 58.3L277.2 59.8L277.0 61.0L276.2 61.8L275.2 62.4L273.9 62.3L272.8 63.5L271.9 62.2L270.3 62.5L268.5 62.6L268.7 62.3L270.0 61.5L271.1 61.4L272.5 61.0L272.9 60.0L273.4 59.2L275.1 59.1L275.7 58.3L276.1 57.4L276.3 56.5L276.2 55.0Z M269.7 65.1L267.6 65.3L267.1 64.3L267.1 64.1L267.3 64.1L269.0 64.0L269.6 64.3L269.7 64.0Z M269.8 62.9L271.7 62.4L271.3 63.4L270.2 64.0Z M166.7 59.0L167.1 59.0L168.0 58.6L168.6 58.0L168.7 58.7L168.4 59.6L167.5 58.7L166.7 57.9Z M162.7 54.8L164.0 54.6L164.2 55.9L163.9 57.1L162.7 57.0L162.9 55.9Z M162.8 52.7L163.6 52.6L163.5 54.4L163.0 54.1Z M175.7 61.2L178.1 61.2L177.8 61.5L176.1 61.4Z M183.3 61.5L185.3 60.7L184.8 62.0L183.7 62.0Z M157.5 56.4L158.3 56.0L158.2 56.7Z M164.9 38.1L166.3 38.0L166.0 39.1L165.1 38.9Z M171.0 36.6L171.7 35.9L171.5 36.8Z M304.3 41.4L306.5 42.0L309.1 42.7L310.8 42.9L312.5 42.8L314.3 42.7L316.0 42.4L317.7 42.2L319.4 41.7L321.2 41.0L322.9 40.4L324.2 39.7L325.5 39.4L325.5 39.5L324.2 39.8L322.9 40.5L321.2 41.1L319.4 41.8L317.7 42.3L316.0 42.5L314.3 42.8L312.5 42.9L310.8 43.0L309.1 42.8L306.5 42.1L304.3 41.5Z M-6.5 41.4L-4.3 42.0L-1.7 42.7L0.0 42.9L1.7 42.8L3.5 42.7L5.2 42.4L6.9 42.2L8.6 41.7L10.4 41.0L12.1 40.4L13.4 39.7L14.7 39.4L14.7 39.5L13.4 39.8L12.1 40.5L10.4 41.1L8.6 41.8L6.9 42.3L5.2 42.5L3.5 42.8L1.7 42.9L0.0 43.0L-1.7 42.8L-4.3 42.1L-6.5 41.5Z M281.4 51.6L282.1 50.9L282.6 50.2L283.4 49.6L283.2 50.4L282.2 50.9Z M284.9 49.0L286.6 47.8L286.2 48.2Z M288.4 46.1L290.1 44.2L289.6 44.7Z M66.9 11.9L66.9 14.0L67.6 13.2L68.3 12.4L69.1 11.9L70.0 12.1L70.9 12.5L69.9 12.8L68.9 12.7L68.2 12.5L67.2 11.9Z M72.8 16.7L72.5 17.5L70.0 15.7L70.8 11.3L71.2 11.5L72.5 12.2Z M56.4 13.7L58.6 11.5L59.7 11.4L60.9 11.8L62.2 12.4L63.2 13.1L64.5 13.0L66.0 13.2L64.6 13.8L63.5 13.9L62.4 14.0L61.3 14.2L60.1 14.2L58.9 14.4Z M63.9 14.0L65.6 13.9L64.8 14.3Z M51.8 16.0L53.5 15.5L54.0 16.2Z M63.9 18.8L65.2 18.5L64.8 19.0Z M86.3 30.9L86.8 31.3L85.9 31.8Z M89.0 24.7L90.0 24.9L90.2 25.5L90.0 24.0L89.7 23.8L89.3 24.7Z M86.8 37.5L87.2 38.0L86.5 38.1Z M85.0 41.2L85.9 41.3L85.5 41.7Z M88.9 29.3L89.8 29.5L88.9 29.9Z M67.3 15.4L69.9 15.2L69.1 15.9Z M77.7 14.8L80.3 14.7L79.4 15.1Z M72.5 20.7L74.2 20.1L73.4 21.0Z M39.7 38.0L41.4 37.5L40.6 38.8Z M38.0 36.3L39.3 35.8L38.9 36.9Z M41.0 40.8L41.9 40.3L41.6 41.9L41.2 41.6Z M23.3 36.3L24.2 35.5L22.4 36.9Z M149.4 31.3L149.8 31.0L149.5 31.5Z M149.8 36.3L150.2 35.5L149.4 36.0Z M171.8 22.1L173.5 22.1L172.7 22.6Z M168.4 24.0L169.2 23.3L167.5 24.3Z M276.3 15.9L278.9 15.8L277.1 16.3Z M267.6 16.8L269.4 16.6L268.5 17.0Z M298.7 39.1L300.4 38.9L299.6 39.5Z M10.4 29.6L8.2 29.7L9.5 30.2Z M6.5 33.2L6.9 32.9L6.0 33.4Z M12.1 33.3L13.0 33.0L11.7 33.8Z M50.5 17.4L50.0 18.0L50.4 18.3L48.4 16.7L50.5 11.3L50.3 11.4L50.4 11.9Z M59.9 13.9L58.9 17.4L58.8 17.0L58.1 13.4L59.1 11.9L58.6 11.8Z M54.1 16.8L54.8 17.9L56.0 17.9L56.9 17.6L57.7 17.3L58.8 17.2L57.5 17.7L56.1 17.8L54.8 17.2Z M60.4 15.9L61.5 14.8L62.6 14.3L64.1 14.7L64.5 16.3L63.2 16.0L62.2 16.0Z M69.1 17.3L71.2 16.9L72.1 17.4L70.4 17.8Z M71.7 14.3L75.3 12.3L77.1 12.8L78.9 14.9L76.8 16.8L75.1 17.6Z M81.0 10.0L83.0 9.7L84.1 10.0L85.3 10.5L86.2 10.7L86.7 10.8L86.0 10.7L84.9 11.1L83.7 11.7L82.6 11.9Z M60.5 20.7L61.6 19.9L63.3 18.8L65.3 21.2L62.9 21.9L61.7 21.3Z M56.1 22.0L58.1 20.7L59.7 21.1L60.2 22.3L59.3 22.0L58.3 22.6Z M51.8 19.2L54.0 18.7L54.4 19.5L52.7 19.7Z M79.4 21.8L81.2 21.2L82.0 22.0L80.3 22.4Z M83.0 19.6L84.2 19.4L85.3 19.9L84.8 19.0L84.7 18.5L83.9 19.3Z M89.8 22.6L91.9 22.1L92.4 22.9L90.7 23.1Z M67.3 22.6L69.1 22.0L69.9 22.8L68.2 23.0Z M150.8 60.3L151.1 60.9L152.4 61.1L153.7 61.3L154.5 60.9L155.3 60.3L156.0 59.7L156.9 59.3L157.8 59.0L159.0 59.0L160.0 59.1L161.0 59.1L162.0 59.2L162.9 59.2L163.8 59.1L164.6 59.4L164.0 60.4L164.7 61.3L164.1 62.4L165.2 63.7L166.5 64.1L167.5 64.4L168.5 64.5L168.9 65.3L169.9 65.6L171.0 66.0L172.2 66.5L172.6 66.0L172.8 64.7L174.0 64.1L175.2 64.4L176.0 64.8L176.9 65.2L178.0 65.5L179.1 65.8L180.1 65.8L181.1 66.0L182.2 66.0L183.3 65.9L185.0 65.7L185.4 63.9L185.5 62.9L185.8 62.0L186.3 60.5L186.7 59.5L185.1 59.2L184.2 59.7L183.5 60.3L182.5 60.2L181.8 59.9L180.9 60.6L180.0 59.6L179.5 58.9L178.9 57.7L179.1 56.4L178.5 55.8L178.8 55.1L177.4 54.8L176.0 55.2L175.1 55.4L175.6 56.5L175.1 58.0L175.8 58.1L174.9 58.5L174.8 59.7L173.9 59.7L173.3 58.5L173.7 57.6L173.1 56.4L172.3 55.6L172.0 53.9L171.0 53.4L170.1 52.5L169.5 51.7L168.7 51.0L167.3 50.2L167.1 49.5L166.0 49.9L165.8 51.4L166.6 52.2L167.4 53.9L168.9 54.7L170.1 55.1L171.4 55.6L170.3 56.8L169.9 57.3L169.2 58.1L169.1 57.8L168.9 56.9L168.5 56.1L167.6 55.7L166.3 54.9L165.1 53.5L164.4 52.6L164.2 51.4L162.7 51.1L161.9 51.7L160.6 52.6L159.3 52.1L158.0 52.4L158.0 53.7L157.0 54.3L156.0 54.5L155.4 55.5L155.0 56.5L155.5 57.2L154.8 58.6L153.6 59.6L152.6 59.7L151.6 59.7Z M180.5 54.6L179.5 53.7L179.1 52.3L179.7 51.0L180.5 49.8L181.6 48.7L182.9 48.4L184.0 49.2L183.6 49.9L184.4 50.8L185.1 50.4L185.9 50.2L185.7 49.8L186.1 49.2L187.5 48.2L188.3 48.2L189.1 47.9L188.6 48.7L188.0 50.0L187.6 50.0L187.9 50.5L188.9 51.1L189.8 52.2L190.5 53.2L191.1 54.0L189.9 54.6L188.2 54.5L187.5 54.1L186.6 53.7L185.7 53.4L184.3 53.5L183.4 54.0L182.6 54.5L181.6 54.5Z M196.3 51.0L196.0 52.5L196.5 53.7L197.0 54.5L197.7 55.3L198.3 55.7L197.9 56.7L197.6 57.6L197.7 58.6L199.1 59.1L200.3 59.3L201.6 59.1L201.3 57.7L201.3 56.5L201.2 55.3L201.2 54.0L200.8 53.4L199.7 52.4L199.7 51.0L199.1 50.7L199.5 50.3L201.2 50.1L201.1 48.6L199.6 48.3L198.7 48.5L197.8 48.8L196.9 49.8Z" fill="none" stroke="#000" stroke-width="0.9" stroke-linejoin="round"/><path d="M47.3 47.9L47.3 46.7L47.0 46.2L46.1 45.5L45.4 44.7L44.8 43.8L45.6 43.0L44.6 41.8L43.9 40.9L43.2 40.0L42.7 39.2L42.0 38.4L41.4 37.6L40.8 36.7L40.2 35.9L39.7 35.1L38.8 34.1L37.0 34.0L35.8 34.2L34.7 34.0M120.3 28.8L120.9 28.0L122.2 27.9L123.6 27.6L124.5 26.9L125.1 26.0L125.7 25.0L126.6 24.2L127.9 24.2L129.0 24.3M39.7 38.0L41.4 37.5L40.6 38.8L39.7 38.0M38.0 36.3L39.3 35.8L38.9 36.9L38.0 36.3M41.0 40.8L41.9 40.3L41.6 41.9L41.2 41.6L41.0 40.8" fill="none" stroke="#000" stroke-width="1.05" stroke-linejoin="round"/></g>
<g id="frame"><rect width="310.8" height="67.1" fill="none" stroke="#262626" stroke-width="1.0"/><path d="M-3.5 0.0H0M-3.5 16.8H0M-3.5 33.5H0M-3.5 50.3H0M-3.5 67.1H0M0.0 67.1V70.6M51.8 67.1V70.6M103.6 67.1V70.6M155.4 67.1V70.6M207.2 67.1V70.6M259.0 67.1V70.6M310.8 67.1V70.6" stroke="#262626" stroke-width="0.8" fill="none"/></g>
</defs>
<g transform="translate(35.2 15.2)">
<g clip-path="url(#boxclip)"><g clip-path="url(#landclip)">
<path fill="#6e4619" d="M191.7 40.9L193.7 40.8L191.6 40.8Z"/>
<path fill="#a56e2d" d="M189.9 42.7L193.4 43.6L200.3 42.7L203.3 40.8L203.0 39.1L198.6 37.1L196.8 36.8L189.9 37.1L186.6 39.1L186.7 40.8L189.1 42.5ZM191.6 40.8L193.7 40.8L191.7 40.9Z"/>
<path fill="#c8a25c" d="M77.7 62.7L78.1 60.9L77.7 60.5L76.9 60.9L77.5 62.6ZM186.5 44.7L189.9 44.4L193.4 45.4L196.8 45.6L203.7 43.9L205.5 43.2L206.0 42.5L206.7 40.8L206.3 39.1L203.7 36.7L200.3 35.5L197.9 34.1L195.1 31.5L193.4 30.8L191.1 34.1L186.0 35.8L183.0 37.5L182.3 39.1L185.7 44.2ZM189.1 42.5L186.7 40.8L186.6 39.1L189.9 37.1L196.8 36.8L198.6 37.1L203.0 39.1L203.3 40.8L200.3 42.7L193.4 43.6L189.9 42.7Z"/>
<path fill="#e0d69e" d="M76.0 64.5L77.7 65.2L79.8 64.3L80.8 62.6L80.9 60.9L80.2 59.3L76.7 55.9L75.4 52.6L72.5 51.9L70.8 52.4L70.0 54.2L70.5 60.9L75.8 64.3ZM77.5 62.6L76.9 60.9L77.7 60.5L78.1 60.9L77.7 62.7ZM10.4 60.0L12.1 60.6L12.4 59.3L12.1 58.8L10.4 58.6L9.9 59.3ZM184.8 48.1L188.2 49.0L191.7 47.9L198.6 48.5L202.0 47.1L207.2 46.8L208.5 45.9L209.5 44.2L209.9 42.5L209.6 40.8L208.1 37.5L205.5 34.3L202.0 33.4L198.6 31.5L195.1 27.0L189.9 27.7L187.5 29.1L186.5 30.9L183.0 29.6L179.9 30.8L179.0 32.4L178.6 35.8L177.1 39.1L177.6 40.8L181.3 43.3L183.8 47.5ZM185.7 44.2L182.3 39.1L183.0 37.5L186.0 35.8L191.1 34.1L193.4 30.8L195.1 31.5L197.9 34.1L200.3 35.5L203.7 36.7L206.3 39.1L206.7 40.8L206.0 42.5L205.5 43.2L203.7 43.9L196.8 45.6L193.4 45.4L189.9 44.4L186.5 44.7ZM167.5 39.6L169.2 39.9L170.2 39.1L169.6 37.5L169.2 37.1L168.7 37.5L167.2 39.1ZM186.5 5.7L186.5 3.8L186.3 5.6Z"/>
<path fill="#f2f0da" d="M0.0 69.3L11.6 69.3L11.5 67.7L10.6 66.0L12.1 65.7L13.8 66.5L16.7 69.3L25.1 69.3L25.1 67.7L25.9 66.4L27.6 65.5L29.4 65.4L33.0 66.0L32.8 67.7L30.9 69.3L40.0 69.3L40.6 66.0L39.7 65.1L35.6 64.3L34.5 60.7L30.6 59.3L29.4 57.6L27.6 56.7L24.2 59.4L23.1 57.6L25.6 55.9L26.6 54.2L34.5 52.5L36.3 51.2L37.2 47.5L38.0 46.4L39.7 46.3L41.4 47.0L43.2 47.0L46.6 45.7L47.1 47.5L48.3 48.7L53.9 50.9L53.3 52.6L51.8 54.2L51.4 55.9L50.1 56.5L48.1 55.9L47.7 52.6L46.6 51.4L44.9 51.4L43.2 52.6L42.0 54.2L42.6 55.9L45.1 57.6L45.7 59.3L44.8 64.3L46.3 69.3L137.6 69.3L137.3 67.7L139.9 65.0L141.6 64.3L145.0 65.1L146.2 66.0L146.0 69.3L149.8 69.3L149.9 67.7L148.7 64.3L149.9 62.6L153.7 60.6L155.4 60.4L157.5 62.6L158.4 67.7L150.6 69.3L163.1 69.3L163.6 67.7L162.2 66.0L164.0 65.6L169.2 68.8L170.9 68.4L172.1 66.0L174.4 64.5L176.1 66.2L176.7 67.7L176.3 69.3L184.8 69.3L186.5 63.6L190.4 67.7L190.6 69.3L210.4 69.3L211.2 66.0L210.8 62.6L212.4 62.0L214.1 62.0L219.3 59.9L222.7 62.6L226.2 62.8L229.6 65.8L231.4 66.0L233.1 65.6L234.8 62.1L236.6 62.8L237.2 64.3L236.6 65.5L233.1 67.4L232.4 69.3L241.9 69.3L243.5 68.6L245.0 69.3L249.2 69.3L246.9 66.7L243.5 65.0L242.3 62.6L242.4 59.3L246.4 55.9L245.2 55.1L241.7 56.6L240.0 56.1L236.6 57.7L234.8 57.5L234.1 55.9L231.4 54.4L229.4 57.6L227.9 58.2L224.5 58.2L222.2 57.6L221.0 53.5L219.3 51.8L217.6 50.9L219.3 47.5L219.0 40.8L217.6 39.2L212.4 38.0L211.2 35.8L211.2 34.1L212.4 31.3L215.8 28.9L216.3 29.1L216.3 30.8L217.6 31.7L219.3 31.7L220.1 30.8L218.9 27.4L219.2 24.0L221.0 23.4L221.6 22.4L220.0 19.0L220.3 17.3L221.0 16.8L226.2 15.6L229.3 10.6L229.6 9.1L231.4 9.0L233.2 14.0L235.5 17.3L234.9 19.0L233.1 19.7L232.0 20.7L231.9 22.4L233.1 24.9L234.0 25.7L233.6 27.4L234.8 29.0L236.2 27.4L235.4 25.7L236.6 24.6L240.1 24.0L240.4 22.4L240.0 21.6L236.7 19.0L238.6 17.3L241.7 17.2L249.2 20.7L251.8 20.7L248.6 17.1L245.3 10.6L244.6 8.9L245.2 6.8L250.4 8.7L252.1 10.1L252.8 12.3L252.6 14.0L253.8 15.4L255.5 14.7L258.4 12.3L260.0 10.6L260.7 8.9L259.0 7.7L255.5 6.5L254.6 5.6L254.2 2.2L250.3 -1.1L246.3 -1.1L246.7 0.6L245.7 2.2L245.2 2.8L243.5 3.0L241.3 0.6L241.0 -1.1L224.5 -1.1L223.9 0.6L222.7 1.4L219.6 2.2L218.7 3.9L220.2 7.3L220.0 8.9L219.3 11.1L218.3 12.3L217.4 15.7L210.7 20.9L207.2 12.5L205.5 12.4L204.1 10.6L204.0 7.3L202.3 5.6L202.5 3.9L203.7 2.8L207.2 2.7L210.7 5.1L214.4 3.9L214.5 2.2L210.5 -1.1L172.7 -1.1L170.9 -0.8L169.2 0.2L165.8 3.4L164.0 2.9L162.3 1.1L160.6 1.1L159.9 2.2L155.4 6.3L153.7 6.3L152.9 5.6L151.9 3.1L150.2 3.0L149.2 3.9L149.9 8.9L149.3 10.6L148.5 11.3L146.4 10.6L144.4 7.3L144.0 5.6L146.0 3.9L146.4 2.2L145.0 -0.6L144.4 -1.1L130.0 -1.1L129.5 -0.3L127.6 -1.1L122.4 -1.1L120.9 -0.0L119.9 -1.1L109.7 -1.1L111.0 0.6L110.9 2.2L101.9 5.2L99.6 7.3L96.7 7.6L95.0 6.5L91.2 5.6L88.8 3.9L87.4 0.6L87.6 -1.1L60.2 -1.1L67.3 0.8L70.6 8.9L70.3 12.3L71.4 15.7L72.5 17.0L74.2 18.1L77.7 18.9L78.4 20.7L81.2 22.6L84.9 22.4L86.3 24.0L86.7 25.7L88.1 27.1L92.6 25.7L93.2 24.0L94.7 22.4L98.2 20.7L100.0 15.7L100.1 13.8L101.7 12.3L108.8 7.8L110.7 5.6L112.2 2.7L113.0 2.2L115.7 2.3L117.4 3.0L120.7 5.6L122.6 8.2L124.3 7.8L124.7 5.6L124.3 3.7L126.0 3.3L127.8 4.0L131.2 4.0L133.0 8.7L136.4 8.2L138.1 8.6L139.2 10.6L140.4 15.7L140.2 17.3L138.1 17.7L134.7 16.6L131.2 11.9L129.5 12.6L127.9 14.0L127.8 16.4L126.4 19.0L126.6 20.7L136.0 24.0L138.1 26.4L139.9 26.8L141.6 26.4L142.0 27.4L139.9 30.1L139.6 32.4L141.7 37.5L141.6 39.2L139.9 41.0L138.1 41.9L134.7 38.4L133.0 39.7L131.2 41.9L129.5 42.3L128.2 40.8L133.2 32.4L131.2 30.4L127.8 30.4L126.0 29.9L124.3 26.1L122.6 23.7L121.1 25.7L121.2 27.4L121.8 29.1L123.3 30.8L125.2 34.1L125.5 35.8L124.5 37.5L122.0 39.1L120.9 43.9L119.1 45.4L117.4 45.5L115.7 43.8L110.5 41.9L109.1 40.8L108.1 39.1L107.7 35.8L104.8 32.4L106.5 30.8L106.0 29.1L104.1 27.4L103.6 26.2L102.4 30.8L100.4 32.4L99.8 35.8L100.4 37.5L101.9 38.3L105.2 39.1L103.7 42.5L103.7 44.2L106.1 47.5L105.3 48.9L103.6 49.6L102.7 49.2L101.4 47.5L95.4 44.2L93.6 42.5L92.6 40.8L91.9 39.1L93.2 38.5L95.0 36.5L96.0 34.1L95.7 32.4L95.0 31.2L93.2 29.9L90.0 32.4L88.1 34.8L86.3 35.7L84.6 34.1L84.6 30.1L82.9 29.4L72.5 33.8L70.8 34.9L68.3 37.5L67.4 39.1L69.1 41.1L69.5 42.5L69.1 43.7L67.3 44.3L65.6 43.6L62.2 45.1L61.0 44.2L61.3 42.5L62.2 41.2L63.9 41.8L65.6 41.2L66.5 39.1L63.9 38.9L62.2 40.4L57.0 41.2L53.5 43.0L51.8 42.8L51.2 42.5L53.0 40.8L52.6 39.1L48.3 36.8L46.6 38.5L46.3 40.8L44.9 42.4L41.4 40.7L39.1 37.5L36.3 36.9L32.8 34.9L31.1 35.1L27.1 34.1L26.1 32.4L26.9 30.8L29.3 29.1L30.2 27.4L29.4 26.7L28.9 24.0L29.6 20.7L31.1 19.1L32.8 19.6L33.8 20.7L34.2 25.7L32.6 27.4L33.9 29.1L34.5 29.8L36.3 28.9L40.5 29.1L41.3 30.8L40.7 32.4L41.2 34.1L44.1 34.1L44.5 32.4L43.2 31.2L42.0 30.8L41.7 29.1L43.1 25.7L42.0 24.0L38.0 20.7L37.2 19.0L39.7 17.0L50.1 20.3L52.2 17.3L52.0 14.0L53.5 10.4L55.3 9.3L59.4 10.6L60.4 12.1L62.2 11.2L64.2 8.9L64.7 5.6L63.9 3.9L60.4 1.5L54.2 2.2L53.3 3.9L51.8 5.2L49.8 2.2L48.3 1.0L46.6 1.0L43.2 2.1L41.4 0.8L40.1 -1.1L30.0 -1.1L29.4 -0.1L27.6 0.8L25.9 -0.2L25.4 -1.1L19.0 -1.1L19.5 0.6L17.3 3.6L15.2 2.2L12.1 1.0L11.4 -1.1L-1.7 -1.1L-1.7 23.6L1.7 19.4L3.8 19.0L5.4 20.7L3.8 22.4L3.3 24.0L5.2 26.9L6.9 27.6L8.4 29.1L7.7 30.8L5.2 32.9L2.8 34.1L1.9 35.8L2.1 37.5L3.9 40.8L3.5 42.5L0.7 44.2L-1.7 44.7L-1.7 57.1L3.5 55.8L4.0 55.9L4.7 57.6L2.9 60.9L-1.7 64.1L-1.7 69.3ZM66.8 67.7L65.6 66.0L65.6 64.3L67.3 63.0L69.8 64.3L71.7 66.0L69.1 68.4L67.3 68.3ZM99.5 67.7L99.1 66.0L100.1 65.4L101.3 66.0L101.1 67.7L100.1 69.2ZM115.1 66.0L113.9 64.3L114.3 62.6L115.3 60.9L118.5 59.3L120.9 57.0L121.5 57.6L122.1 59.3L119.1 63.5L118.2 66.0L117.4 66.5L115.7 66.3ZM16.5 64.3L17.3 62.6L17.7 64.3L17.3 65.4ZM75.8 64.3L70.5 60.9L70.0 54.2L70.8 52.4L72.5 51.9L75.4 52.6L76.7 55.9L80.2 59.3L80.9 60.9L80.8 62.6L79.8 64.3L77.7 65.2L76.0 64.5ZM96.1 64.3L93.2 63.4L89.8 63.7L88.1 63.1L87.1 60.9L86.7 57.6L85.2 54.2L86.2 52.6L86.3 50.0L84.6 49.5L81.9 50.9L81.3 52.6L82.3 54.2L81.4 55.9L79.4 54.6L79.4 53.7L81.0 52.6L80.7 50.9L76.9 47.5L76.0 46.1L74.9 42.5L75.0 40.8L76.0 40.1L77.2 40.8L80.1 45.9L84.6 49.0L86.3 48.9L88.7 45.9L87.5 42.5L88.1 41.7L89.8 41.5L91.3 42.5L90.2 45.9L91.3 47.5L95.6 50.9L98.4 55.5L100.1 54.8L101.2 55.9L98.4 56.9L97.2 59.3L97.6 62.6L97.1 64.3L96.7 64.4ZM131.6 62.6L131.2 60.9L133.0 59.1L135.0 60.9L134.0 62.6L133.0 63.1ZM51.2 60.9L51.8 56.5L53.5 56.7L54.3 60.9L53.5 62.6L51.8 61.9ZM170.6 60.9L169.2 60.8L167.5 59.9L167.0 57.6L167.5 56.7L169.2 55.1L170.9 55.2L174.4 56.9L175.8 55.9L176.0 54.2L175.2 52.6L170.9 51.4L169.2 51.7L164.0 54.7L157.1 56.7L152.0 54.2L151.4 52.6L149.6 50.9L146.8 49.4L141.6 50.3L140.7 50.9L139.9 53.3L138.1 54.0L134.7 53.2L129.5 53.3L127.8 52.7L127.0 50.9L127.8 48.9L129.5 48.3L134.7 48.6L136.4 48.0L137.0 47.5L138.1 43.8L139.9 44.4L141.6 44.2L145.0 42.3L147.0 39.1L148.5 37.8L150.2 37.8L155.4 39.1L158.9 41.0L163.1 42.5L169.2 43.0L174.4 44.8L178.1 47.5L178.7 49.2L177.5 52.6L179.6 54.2L183.0 55.2L184.8 56.7L189.9 58.3L191.7 58.5L192.8 59.3L192.8 60.9L191.7 61.6L186.5 61.6L186.0 60.9L183.0 59.7L176.1 59.5L174.4 61.2L170.9 61.0ZM9.9 59.3L10.4 58.6L12.1 58.8L12.4 59.3L12.1 60.6L10.4 60.0ZM58.5 55.9L56.7 54.2L55.7 50.9L57.0 47.3L58.7 46.5L60.4 47.1L62.8 50.9L60.4 54.5L58.7 56.0ZM145.8 55.9L148.5 55.4L150.7 55.9L148.5 56.7L146.8 56.4ZM19.8 54.2L17.5 52.6L17.6 50.9L20.4 47.5L19.9 45.9L16.9 42.5L18.1 40.8L20.6 39.1L21.1 37.5L20.5 35.8L20.7 33.7L24.5 35.8L25.2 39.1L24.4 42.5L22.8 45.9L23.8 50.9L23.1 52.6L20.7 54.7ZM203.7 52.6L206.8 52.6L203.7 52.6ZM215.5 50.9L217.2 50.9L215.8 51.0ZM4.9 47.5L5.2 45.9L6.9 44.6L8.1 47.5L6.9 48.3L5.2 48.0ZM183.8 47.5L181.3 43.3L177.6 40.8L177.1 39.1L178.6 35.8L179.0 32.4L179.9 30.8L183.0 29.6L186.5 30.9L187.5 29.1L189.9 27.7L195.1 27.0L198.6 31.5L202.0 33.4L205.5 34.3L208.1 37.5L209.6 40.8L209.9 42.5L209.5 44.2L208.5 45.9L207.2 46.8L202.0 47.1L198.6 48.5L191.7 47.9L188.2 49.0L184.8 48.1ZM167.2 39.1L168.7 37.5L169.2 37.1L169.6 37.5L170.2 39.1L169.2 39.9L167.5 39.6ZM159.5 34.1L156.3 32.4L157.1 31.3L158.9 30.3L159.5 29.1L158.9 28.4L155.4 29.0L153.6 25.7L150.9 24.0L149.5 22.4L148.4 19.0L150.2 18.0L151.9 17.8L155.4 14.6L158.9 13.3L160.6 16.7L164.0 17.3L165.8 17.0L169.2 14.8L170.9 15.1L172.5 17.3L172.3 20.7L174.4 22.0L176.1 21.9L177.8 19.4L179.6 18.9L183.0 19.0L184.3 20.7L184.8 24.0L183.2 25.7L179.6 26.6L175.3 30.8L174.5 32.4L174.8 34.1L174.4 35.5L173.9 30.8L170.9 29.5L167.2 30.8L164.0 34.1L160.6 34.2ZM149.1 32.4L150.2 30.6L151.9 30.2L153.6 30.8L153.3 32.4L150.2 33.7ZM21.5 22.4L20.4 20.7L21.4 15.7L20.7 14.0L19.0 12.3L20.7 11.5L25.9 13.3L26.9 12.3L26.9 8.9L27.6 7.7L29.4 6.8L31.1 7.1L34.5 9.7L36.3 10.2L41.4 5.7L47.3 7.3L49.8 14.0L48.3 15.5L46.6 16.3L44.6 15.7L43.8 14.0L44.5 12.3L43.2 10.1L41.4 10.6L41.2 12.3L39.7 13.2L36.3 11.2L31.1 15.0L29.1 15.7L27.6 17.1L28.2 19.0L26.8 20.7L22.4 22.7ZM143.1 20.7L142.4 19.0L143.3 18.6L145.4 19.0L143.3 20.8ZM193.7 20.7L191.7 18.5L189.9 19.8L188.0 19.0L189.8 17.3L191.7 16.6L191.9 15.7L195.1 13.0L196.8 13.3L197.6 14.0L198.6 16.5L202.0 15.7L203.6 19.0L203.9 20.7L203.7 21.5L202.0 22.4L200.3 21.7L198.6 20.1L196.8 20.1L195.1 21.2ZM78.6 17.3L80.6 10.6L80.4 7.3L82.9 6.3L84.4 7.3L85.1 8.9L86.0 14.0L84.5 15.7L79.4 18.0ZM89.2 15.7L88.1 14.0L89.5 12.3L91.5 11.7L93.6 12.3L93.7 14.0L92.9 15.7L91.5 16.8L89.8 16.2ZM5.9 14.0L6.9 11.0L7.6 12.3L6.9 14.8ZM185.7 14.0L184.9 12.3L186.5 11.6L187.4 12.3L187.4 14.0L186.5 14.5ZM159.6 12.3L160.0 10.6L164.0 6.5L165.0 7.3L165.5 8.9L164.2 10.6L160.6 12.9ZM8.3 8.9L6.0 5.6L1.7 4.8L0.6 3.9L0.2 0.6L1.7 -0.8L3.5 -0.7L4.7 0.6L6.9 5.4L12.1 5.1L12.7 5.6L12.1 7.8L8.6 9.3ZM74.1 8.9L72.0 7.3L74.2 4.1L76.2 7.3L76.0 8.0L74.2 9.0ZM178.5 7.3L177.4 5.6L177.8 4.5L179.6 3.7L181.3 4.9L182.7 7.3L181.3 8.7L179.6 8.0ZM229.6 7.3L232.4 0.6L233.1 -0.0L234.8 0.1L236.5 2.2L236.2 3.9L233.1 4.3L231.9 5.6L231.4 8.8L229.6 8.5ZM186.3 5.6L186.5 3.8L186.5 5.7ZM224.5 69.3L229.3 69.3L227.9 67.9L226.2 67.3L224.5 68.0L224.2 69.3ZM257.3 67.7L258.5 69.3L279.9 69.3L278.5 67.7L278.2 66.0L279.7 64.5L280.2 66.0L284.0 69.3L287.9 69.3L288.9 67.7L289.2 66.0L288.4 64.3L286.6 63.3L283.8 62.6L283.2 62.0L282.6 60.9L282.1 57.6L282.5 52.6L281.4 51.8L279.7 51.3L278.0 52.1L274.5 56.3L272.8 56.5L271.6 55.9L270.5 50.9L272.0 47.5L269.4 45.9L268.7 47.5L266.9 49.2L266.3 50.9L268.6 54.2L268.5 55.9L269.8 59.3L269.4 61.0L267.6 61.9L265.9 62.0L264.2 60.6L263.1 57.6L263.7 54.2L262.5 53.1L259.0 54.2L255.5 52.2L253.8 52.3L250.7 54.2L251.3 55.9L253.8 57.4L255.5 57.6L257.3 57.1L258.7 57.6L258.8 59.3L257.3 60.7L255.5 61.5L254.6 62.6L254.5 64.3L255.1 66.0L257.2 67.7ZM298.7 69.3L306.0 69.3L304.3 67.7L305.6 65.7L309.1 68.7L312.5 69.3L312.5 62.9L310.8 61.3L309.1 60.5L308.2 59.3L308.3 54.2L306.1 50.9L306.1 49.2L307.3 46.5L310.8 46.9L312.5 49.2L312.5 44.5L310.8 43.7L307.3 43.9L305.8 42.5L306.1 40.8L310.8 39.6L312.5 38.2L312.5 32.2L311.9 30.8L309.1 27.6L308.2 24.0L305.6 23.0L302.2 23.4L300.4 22.9L299.6 20.7L299.7 19.0L300.4 18.2L304.5 17.3L305.3 15.7L303.0 12.3L303.8 10.6L306.1 8.9L309.1 5.5L311.5 7.3L311.7 8.9L311.1 12.3L308.3 17.3L311.7 20.7L312.5 23.2L312.5 -1.1L309.1 -1.0L307.3 0.3L306.9 -1.1L284.0 -1.1L283.2 0.3L281.4 0.1L281.0 -1.1L258.5 -1.1L257.8 2.2L260.2 5.6L260.9 7.3L260.8 8.9L265.9 10.3L267.8 12.3L271.6 14.0L272.1 15.7L270.5 19.0L276.4 19.0L278.0 19.5L279.0 20.7L279.3 22.4L276.8 25.7L276.8 27.4L277.4 29.1L276.6 34.1L280.7 40.8L282.3 42.5L283.8 45.9L284.9 46.6L286.6 46.9L288.4 45.7L290.1 42.4L291.8 41.0L293.5 41.3L295.9 44.2L298.7 46.0L299.5 47.5L298.7 49.6L295.7 50.9L296.8 52.6L300.4 53.7L300.9 54.2L300.4 57.5L298.7 58.9L297.9 57.6L297.0 57.3L295.3 57.9L293.6 59.3L293.0 60.9L293.2 62.6L294.2 64.3L298.1 67.7L297.7 69.3ZM301.5 39.1L302.2 38.3L303.0 39.1L302.2 39.4ZM288.8 37.5L289.7 30.8L289.5 29.1L288.4 26.6L286.6 26.3L284.3 30.8L283.2 31.5L281.4 31.8L279.7 31.0L278.3 29.1L279.6 27.4L284.4 24.0L284.9 21.9L288.4 20.9L290.1 21.1L291.8 21.7L294.7 24.0L298.7 24.4L300.4 25.5L302.6 30.8L302.7 32.4L302.2 33.1L298.7 31.8L295.3 32.2L293.6 34.1L293.5 37.5L291.8 38.9L290.1 38.5ZM275.8 12.3L275.7 10.6L278.0 6.5L279.7 6.3L283.0 8.9L283.2 10.0L284.1 10.6L283.2 10.8L279.7 13.2L278.0 13.3L276.3 12.7ZM305.4 2.2L305.6 0.6L306.1 0.6L306.0 2.2L305.6 2.5ZM238.3 54.9L241.7 48.2L245.2 48.3L247.8 47.5L249.5 45.9L249.3 44.2L248.6 43.8L246.9 44.1L245.2 45.5L241.7 46.7L240.0 46.9L236.6 46.1L234.8 46.1L233.1 47.1L232.7 47.5L233.4 49.2L236.6 53.6L237.6 54.2ZM284.9 53.0L286.6 53.8L288.4 53.7L292.3 52.6L295.1 50.9L288.4 47.5L286.6 48.2L284.2 52.6ZM224.5 49.9L226.8 49.2L227.1 47.5L226.2 46.4L224.5 45.3L222.7 45.8L221.7 47.5L222.9 49.2ZM115.7 37.7L116.7 37.5L118.2 32.4L117.4 29.6L115.7 28.3L114.0 29.1L112.6 32.4L112.8 34.1L115.5 37.5ZM267.6 36.1L269.4 35.5L270.6 34.1L269.2 30.8L264.3 27.4L265.2 25.7L267.4 24.0L268.2 22.4L268.3 20.7L265.6 19.0L264.8 17.3L264.2 14.2L262.5 15.9L261.4 19.0L255.4 20.7L256.3 22.4L260.1 25.7L260.9 27.4L259.1 30.8L259.5 32.4L260.7 33.1L264.2 33.0L265.9 34.0L267.2 35.8ZM60.4 30.9L62.6 30.8L62.3 29.1L60.4 30.1L60.2 30.8ZM241.7 30.8L243.5 31.6L245.2 31.4L248.6 30.4L253.8 29.6L254.7 29.1L254.6 27.4L253.8 26.8L248.6 26.1L247.3 27.4L246.6 29.1L245.2 29.9L241.6 30.8ZM227.9 29.9L228.7 29.1L228.8 27.4L227.9 27.0L227.4 29.1ZM67.3 24.8L69.1 25.7L70.9 24.0L70.8 23.4L69.1 23.0L66.4 24.0ZM165.8 24.5L167.5 24.6L169.2 23.9L170.6 22.4L170.6 20.7L167.5 19.2L165.8 19.3L164.5 20.7L164.1 22.4L164.8 24.0ZM117.4 21.6L119.1 21.8L121.8 17.3L121.4 15.7L117.4 12.5L116.6 14.0L116.0 17.3L116.6 20.7ZM60.4 14.5L61.7 14.0L60.4 12.5L60.2 14.0ZM108.8 14.1L110.5 14.7L111.8 14.0L112.4 12.3L109.8 12.3L108.7 14.0ZM91.5 2.3L93.2 2.2L96.7 0.5L98.4 3.1L99.4 -1.1L88.3 -1.1L88.8 0.6L91.3 2.2ZM50.1 0.4L51.8 0.3L52.5 -1.1L48.7 -1.1ZM153.7 -0.5L160.6 0.2L162.2 -1.1L152.6 -1.1Z"/>
<path fill="#def2eb" d="M12.1 69.3L16.7 69.3L13.8 66.5L12.1 65.7L10.6 66.0L11.5 67.7L11.6 69.3ZM25.9 69.3L30.9 69.3L32.8 67.7L33.0 66.0L29.4 65.4L26.4 66.0L25.1 67.7L25.1 69.3ZM41.4 69.3L46.3 69.3L44.8 64.3L45.7 59.3L45.1 57.6L42.6 55.9L42.0 54.2L43.2 52.6L44.9 51.4L46.6 51.4L47.7 52.6L48.1 55.9L50.1 56.5L51.4 55.9L51.8 54.2L53.3 52.6L53.9 50.9L48.3 48.7L47.1 47.5L46.6 45.7L43.2 47.0L41.4 47.0L39.7 46.3L38.0 46.4L37.2 47.5L36.3 51.2L34.5 52.5L26.6 54.2L25.6 55.9L23.1 57.6L24.2 59.4L27.6 56.7L29.4 57.6L30.6 59.3L34.5 60.7L35.6 64.3L39.7 65.1L40.6 66.0L40.0 69.3ZM55.3 69.3L57.1 69.3L54.7 69.3ZM67.3 68.3L69.1 68.4L71.7 66.0L69.8 64.3L67.3 63.0L65.6 64.3L65.6 66.0L66.8 67.7ZM100.1 69.2L101.1 67.7L101.3 66.0L100.1 65.4L99.1 66.0L99.5 67.7ZM138.1 69.3L146.0 69.3L146.2 66.0L145.0 65.1L141.6 64.3L139.9 65.0L137.3 67.7L137.6 69.3ZM150.2 69.3L153.7 69.0L158.4 67.7L157.5 62.6L155.4 60.4L153.7 60.6L149.9 62.6L148.7 64.3L149.9 67.7L149.8 69.3ZM164.0 69.3L176.3 69.3L176.7 67.7L176.0 66.0L174.4 64.5L172.1 66.0L170.9 68.4L169.2 68.8L164.0 65.6L162.2 66.0L163.6 67.7L163.1 69.3ZM186.5 69.3L190.6 69.3L190.4 67.7L186.5 63.6L184.8 69.3ZM210.7 69.3L224.2 69.3L224.5 68.0L226.2 67.3L227.9 67.9L229.3 69.3L232.4 69.3L233.1 67.4L236.6 65.5L237.2 64.3L236.6 62.8L234.8 62.1L233.1 65.6L231.4 66.0L229.6 65.8L226.2 62.8L222.7 62.6L219.3 59.9L214.1 62.0L212.4 62.0L210.8 62.6L211.2 66.0L210.4 69.3ZM217.1 66.0L217.6 65.7L217.6 66.3ZM243.5 69.3L245.0 69.3L243.5 68.6L241.9 69.3ZM248.6 68.6L249.2 69.3L258.5 69.3L257.3 67.7L255.5 66.5L254.5 64.3L254.6 62.6L255.5 61.5L257.3 60.7L258.8 59.3L258.7 57.6L257.3 57.1L255.5 57.6L253.8 57.4L251.3 55.9L250.7 54.2L253.8 52.3L255.5 52.2L259.0 54.2L262.5 53.1L263.7 54.2L263.1 57.6L264.5 60.9L265.9 62.0L267.6 61.9L269.4 61.0L269.8 59.3L268.5 55.9L268.6 54.2L266.3 50.9L266.9 49.2L268.7 47.5L269.4 45.9L272.0 47.5L270.5 50.9L271.6 55.9L272.8 56.5L274.5 56.3L277.4 52.6L279.7 51.3L282.5 52.6L282.1 57.6L282.6 60.9L283.8 62.6L286.6 63.3L288.4 64.3L289.2 66.0L288.9 67.7L287.9 69.3L297.7 69.3L298.1 67.7L294.2 64.3L293.2 62.6L293.0 60.9L293.6 59.3L295.3 57.9L297.0 57.3L297.9 57.6L298.7 58.9L300.4 57.5L300.8 55.9L300.9 54.2L300.4 53.7L296.8 52.6L295.7 50.9L298.7 49.6L299.5 47.5L298.7 46.0L295.9 44.2L293.5 41.3L291.8 41.0L290.1 42.4L288.4 45.7L286.6 46.9L284.9 46.6L283.2 45.0L282.3 42.5L280.7 40.8L276.6 34.1L277.4 29.1L276.8 27.4L276.8 25.7L279.3 22.4L279.0 20.7L278.0 19.5L276.4 19.0L270.5 19.0L272.1 15.7L271.6 14.0L267.8 12.3L265.9 10.3L260.8 8.9L260.9 7.3L260.2 5.6L257.8 2.2L258.5 -1.1L250.3 -1.1L254.2 2.2L254.6 5.6L255.5 6.5L259.0 7.7L260.7 8.9L260.0 10.6L255.5 14.7L253.8 15.4L252.6 14.0L252.5 10.6L250.4 8.7L246.9 7.2L245.2 6.8L244.8 7.3L244.6 8.9L248.6 17.1L251.8 20.7L249.2 20.7L241.7 17.2L238.6 17.3L236.7 19.0L240.0 21.6L240.4 22.4L240.1 24.0L236.6 24.6L235.4 25.7L236.2 27.4L234.8 29.0L233.6 27.4L234.0 25.7L233.1 24.9L231.9 22.4L232.0 20.7L233.1 19.7L234.9 19.0L235.5 17.3L233.2 14.0L231.4 9.0L229.6 9.1L229.3 10.6L226.2 15.6L221.0 16.8L220.3 17.3L220.0 19.0L221.6 22.4L221.0 23.4L219.2 24.0L218.9 27.4L220.1 30.8L219.3 31.7L217.6 31.7L216.3 30.8L216.3 29.1L215.8 28.9L212.4 31.3L211.2 34.1L211.2 35.8L212.4 38.0L217.6 39.2L219.0 40.8L219.3 47.5L217.6 50.9L219.3 51.8L221.0 53.5L222.2 57.6L224.5 58.2L227.9 58.2L229.4 57.6L231.4 54.4L234.1 55.9L234.8 57.5L236.6 57.7L240.0 56.1L241.7 56.6L245.2 55.1L246.4 55.9L242.4 59.3L242.3 62.6L243.5 65.0L246.9 66.7L247.8 67.7ZM246.0 62.6L245.5 60.9L246.9 59.2L248.6 58.6L250.6 59.3L251.4 60.9L250.4 63.3L248.6 63.6L246.9 63.2ZM237.6 54.2L236.6 53.6L233.4 49.2L232.7 47.5L233.1 47.1L234.8 46.1L236.6 46.1L240.0 46.9L241.7 46.7L245.2 45.5L246.9 44.1L248.6 43.8L249.3 44.2L249.5 45.9L247.8 47.5L245.2 48.3L241.7 48.2L238.3 54.9ZM284.2 52.6L286.6 48.2L288.4 47.5L295.1 50.9L292.3 52.6L288.4 53.7L286.6 53.8L284.9 53.0ZM222.9 49.2L221.7 47.5L222.7 45.8L224.5 45.3L226.2 46.4L227.1 47.5L226.8 49.2L224.5 49.9ZM232.5 42.5L229.6 40.9L225.9 40.8L225.4 39.1L229.7 35.8L233.1 34.0L238.3 33.6L241.7 34.8L246.9 34.9L249.0 35.8L250.0 37.5L249.3 39.1L245.2 40.9L243.5 41.2L241.7 40.5L240.0 40.8L236.6 42.9L234.8 43.3L233.1 42.9ZM254.3 42.5L255.5 40.4L259.0 38.9L259.3 39.1L259.1 40.8L257.3 42.6L255.5 43.0ZM267.2 35.8L265.9 34.0L264.2 33.0L260.7 33.1L259.5 32.4L259.1 30.8L260.9 27.4L260.1 25.7L256.3 22.4L255.4 20.7L261.4 19.0L262.5 15.9L264.2 14.2L264.8 17.3L265.6 19.0L268.3 20.7L268.2 22.4L267.4 24.0L265.2 25.7L264.3 27.4L269.2 30.8L270.6 34.1L269.4 35.5L267.6 36.1ZM241.6 30.8L245.2 29.9L246.6 29.1L247.3 27.4L248.6 26.1L253.8 26.8L254.6 27.4L254.7 29.1L253.8 29.6L248.6 30.4L245.2 31.4L243.5 31.6L241.7 30.8ZM227.4 29.1L227.9 27.0L228.8 27.4L228.7 29.1L227.9 29.9ZM279.7 69.1L284.0 69.3L280.2 66.0L279.7 64.5L278.2 66.0L278.5 67.7ZM305.6 69.0L306.0 69.3L311.1 69.3L309.1 68.7L305.6 65.7L304.3 67.7ZM115.7 66.3L117.4 66.5L118.2 66.0L119.1 63.5L122.1 59.3L121.5 57.6L120.9 57.0L118.5 59.3L115.3 60.9L114.3 62.6L113.9 64.3L115.1 66.0ZM17.3 65.4L17.7 64.3L17.3 62.6L16.5 64.3ZM96.7 64.4L97.1 64.3L97.6 62.6L97.2 59.3L98.4 56.9L101.2 55.9L100.1 54.8L98.4 55.5L95.6 50.9L91.3 47.5L90.2 45.9L91.3 42.5L89.8 41.5L88.1 41.7L87.5 42.5L88.7 45.9L86.3 48.9L84.6 49.0L80.1 45.9L77.2 40.8L76.0 40.1L75.0 40.8L74.9 42.5L76.0 46.1L76.9 47.5L80.7 50.9L81.0 52.6L79.4 53.7L79.4 54.6L81.4 55.9L82.3 54.2L81.3 52.6L81.9 50.9L84.6 49.5L86.3 50.0L86.2 52.6L85.2 54.2L86.7 57.6L87.1 60.9L88.1 63.1L89.8 63.7L93.2 63.4L96.1 64.3ZM89.6 57.6L88.8 55.9L88.9 54.2L89.8 52.4L91.5 51.4L92.7 52.6L93.2 54.3L92.8 55.9L91.5 57.8L89.8 57.9ZM0.0 63.0L2.9 60.9L4.1 59.3L4.7 57.6L4.0 55.9L-1.7 57.1L-1.7 64.1ZM133.0 63.1L134.0 62.6L135.0 60.9L133.0 59.1L131.2 60.9L131.6 62.6ZM312.5 62.9L312.5 49.2L310.8 46.9L307.3 46.5L306.1 49.2L306.1 50.9L308.3 54.2L308.2 59.3L309.1 60.5L310.8 61.3L312.3 62.6ZM51.8 61.9L53.5 62.6L54.3 60.9L53.5 56.7L51.8 56.5L51.2 60.9ZM170.9 61.0L174.4 61.2L176.1 59.5L183.0 59.7L186.0 60.9L186.5 61.6L191.7 61.6L192.8 60.9L192.8 59.3L191.7 58.5L189.9 58.3L184.8 56.7L183.0 55.2L179.6 54.2L177.5 52.6L178.7 49.2L178.1 47.5L174.4 44.8L169.2 43.0L163.1 42.5L158.9 41.0L155.4 39.1L150.2 37.8L148.5 37.8L147.0 39.1L145.0 42.3L141.6 44.2L139.9 44.4L138.1 43.8L137.0 47.5L136.4 48.0L134.7 48.6L129.5 48.3L127.8 48.9L127.0 50.9L127.8 52.7L129.5 53.3L134.7 53.2L138.1 54.0L139.9 53.3L140.7 50.9L141.6 50.3L146.8 49.4L149.6 50.9L151.4 52.6L152.0 54.2L157.1 56.7L164.0 54.7L169.2 51.7L170.9 51.4L175.2 52.6L176.0 54.2L175.8 55.9L174.4 56.9L170.9 55.2L169.2 55.1L167.5 56.7L167.0 57.6L167.5 59.9L169.2 60.8L170.6 60.9ZM161.1 50.9L155.4 47.0L154.6 47.5L151.9 47.7L151.2 45.9L151.9 44.8L155.4 45.5L160.6 44.6L167.5 44.9L169.9 45.9L170.4 47.5L165.8 50.4L162.3 51.4ZM58.7 56.0L60.4 54.5L62.8 50.9L60.4 47.1L58.7 46.5L57.0 47.3L55.7 50.9L56.7 54.2L58.5 55.9ZM146.8 56.4L148.5 56.7L150.7 55.9L148.5 55.4L145.8 55.9ZM20.7 54.7L23.1 52.6L23.8 50.9L22.8 45.9L24.4 42.5L25.2 39.1L24.5 35.8L20.7 33.7L20.5 35.8L21.1 37.5L20.6 39.1L18.1 40.8L16.9 42.5L19.9 45.9L20.4 47.5L17.6 50.9L17.5 52.6L19.8 54.2ZM203.7 52.6L206.8 52.6L203.7 52.6ZM215.8 51.0L217.2 50.9L215.5 50.9ZM103.6 49.6L105.3 48.9L106.1 47.5L103.7 44.2L103.7 42.5L105.2 39.1L101.9 38.3L100.4 37.5L99.8 35.8L100.4 32.4L102.4 30.8L103.6 26.2L104.1 27.4L106.0 29.1L106.5 30.8L104.8 32.4L107.7 35.8L108.1 39.1L109.1 40.8L110.5 41.9L115.7 43.8L117.4 45.5L119.1 45.4L120.9 43.9L122.0 39.1L124.5 37.5L125.5 35.8L125.2 34.1L123.3 30.8L121.8 29.1L121.2 27.4L121.1 25.7L122.6 23.7L124.3 26.1L126.0 29.9L127.8 30.4L131.2 30.4L133.2 32.4L128.2 40.8L129.5 42.3L131.2 41.9L133.0 39.7L134.7 38.4L138.1 41.9L139.9 41.0L141.6 39.2L141.7 37.5L139.6 32.4L139.9 30.1L142.0 27.4L141.6 26.4L139.9 26.8L138.1 26.4L136.0 24.0L126.6 20.7L126.4 19.0L127.8 16.4L127.9 14.0L129.5 12.6L131.2 11.9L134.7 16.6L138.1 17.7L140.2 17.3L140.4 15.7L139.2 10.6L138.1 8.6L136.4 8.2L133.0 8.7L131.2 4.0L127.8 4.0L126.0 3.3L124.3 3.7L124.7 5.6L124.3 7.8L122.6 8.2L120.7 5.6L117.4 3.0L115.7 2.3L113.0 2.2L112.2 2.7L110.7 5.6L108.8 7.8L101.7 12.3L100.1 13.8L100.0 15.7L98.2 20.7L94.7 22.4L93.2 24.0L92.6 25.7L88.1 27.1L86.7 25.7L86.3 24.0L84.9 22.4L81.2 22.6L78.4 20.7L77.7 18.9L74.2 18.1L71.4 15.7L70.3 12.3L70.6 8.9L69.0 5.6L68.2 2.2L67.0 0.6L62.2 -0.3L60.2 -1.1L52.5 -1.1L51.8 0.3L50.1 0.4L48.7 -1.1L40.1 -1.1L41.4 0.8L43.2 2.1L46.6 1.0L48.3 1.0L49.8 2.2L51.8 5.2L53.3 3.9L54.2 2.2L60.4 1.5L63.9 3.9L64.7 5.6L64.2 8.9L62.2 11.2L60.4 12.1L59.4 10.6L55.3 9.3L53.5 10.4L52.0 14.0L52.2 17.3L50.1 20.3L39.7 17.0L37.2 19.0L38.0 20.7L42.0 24.0L43.1 25.7L41.7 29.1L42.0 30.8L43.2 31.2L44.5 32.4L44.1 34.1L41.2 34.1L40.7 32.4L41.3 30.8L40.5 29.1L36.3 28.9L34.5 29.8L33.9 29.1L32.6 27.4L34.2 25.7L33.8 20.7L32.8 19.6L31.1 19.1L29.6 20.7L28.9 24.0L29.4 26.7L30.2 27.4L29.3 29.1L26.9 30.8L26.1 32.4L27.1 34.1L31.1 35.1L32.8 34.9L36.3 36.9L39.1 37.5L41.4 40.7L44.9 42.4L46.3 40.8L46.6 38.5L48.3 36.8L52.6 39.1L53.0 40.8L51.2 42.5L51.8 42.8L53.5 43.0L57.0 41.2L62.2 40.4L63.9 38.9L66.5 39.1L65.6 41.2L63.9 41.8L62.2 41.2L61.3 42.5L61.0 44.2L62.2 45.1L65.6 43.6L67.3 44.3L69.1 43.7L69.5 42.5L69.1 41.1L67.4 39.1L68.3 37.5L70.8 34.9L72.5 33.8L82.9 29.4L84.6 30.1L84.6 34.1L86.3 35.7L88.1 34.8L90.0 32.4L93.2 29.9L95.0 31.2L95.7 32.4L96.0 34.1L95.0 36.5L93.2 38.5L91.9 39.1L92.6 40.8L93.6 42.5L95.4 44.2L101.4 47.5L102.7 49.2ZM115.5 37.5L112.8 34.1L112.6 32.4L114.0 29.1L115.7 28.3L117.4 29.6L118.2 32.4L116.7 37.5L115.7 37.7ZM60.2 30.8L60.4 30.1L62.3 29.1L62.6 30.8L60.4 30.9ZM66.4 24.0L69.1 23.0L70.8 23.4L70.9 24.0L69.1 25.7L67.3 24.8ZM56.2 22.4L56.0 20.7L57.0 20.0L58.7 20.6L57.8 22.4L57.0 22.6ZM116.6 20.7L116.0 17.3L116.6 14.0L117.4 12.5L121.4 15.7L121.8 17.3L119.1 21.8L117.4 21.6ZM60.2 14.0L60.4 12.5L61.7 14.0L60.4 14.5ZM108.7 14.0L109.8 12.3L112.4 12.3L111.8 14.0L110.5 14.7L108.8 14.1ZM5.2 48.0L6.9 48.3L8.1 47.5L6.9 44.6L5.2 45.9L4.9 47.5ZM0.0 44.4L3.5 42.5L3.9 40.8L2.1 37.5L1.9 35.8L2.8 34.1L6.9 31.5L7.7 30.8L8.4 29.1L6.9 27.6L5.2 26.9L3.3 24.0L3.8 22.4L5.4 20.7L3.5 18.9L1.7 19.4L-1.7 23.6L-1.7 44.7ZM312.5 44.5L312.5 38.2L310.8 39.6L306.1 40.8L305.8 42.5L307.3 43.9L310.8 43.7L312.0 44.2ZM302.2 39.4L303.0 39.1L302.2 38.3L301.5 39.1ZM290.1 38.5L291.8 38.9L293.5 37.5L293.6 34.1L295.3 32.2L298.7 31.8L302.2 33.1L302.7 32.4L302.6 30.8L300.4 25.5L298.7 24.4L294.7 24.0L291.8 21.7L290.1 21.1L288.4 20.9L284.9 21.9L284.4 24.0L279.6 27.4L278.3 29.1L279.7 31.0L281.4 31.8L283.2 31.5L284.3 30.8L286.6 26.3L288.4 26.6L289.5 29.1L289.7 30.8L288.8 37.5ZM160.6 34.2L164.0 34.1L167.2 30.8L170.9 29.5L173.9 30.8L174.4 35.5L174.8 34.1L174.5 32.4L175.3 30.8L179.6 26.6L183.2 25.7L184.8 24.0L184.3 20.7L183.0 19.0L179.6 18.9L177.8 19.4L176.1 21.9L174.4 22.0L172.3 20.7L172.5 17.3L170.9 15.1L169.2 14.8L165.8 17.0L164.0 17.3L160.6 16.7L158.9 13.3L155.4 14.6L151.9 17.8L150.2 18.0L148.4 19.0L149.5 22.4L150.9 24.0L153.6 25.7L155.4 29.0L158.9 28.4L159.5 29.1L158.9 30.3L157.1 31.3L156.3 32.4L159.5 34.1ZM164.8 24.0L164.1 22.4L164.5 20.7L165.8 19.3L167.5 19.2L170.6 20.7L170.6 22.4L169.2 23.9L167.5 24.6L165.8 24.5ZM150.2 33.7L153.3 32.4L153.6 30.8L151.9 30.2L150.2 30.6L149.1 32.4ZM312.5 32.2L312.5 23.2L311.7 20.7L308.3 17.3L311.1 12.3L311.7 8.9L311.5 7.3L309.1 5.5L306.1 8.9L303.8 10.6L303.0 12.3L305.3 15.7L304.5 17.3L300.4 18.2L299.7 19.0L299.6 20.7L300.4 22.9L302.2 23.4L305.6 23.0L308.2 24.0L309.1 27.6L311.9 30.8ZM22.4 22.7L26.8 20.7L28.2 19.0L27.6 17.1L29.1 15.7L31.1 15.0L36.3 11.2L39.7 13.2L41.2 12.3L41.4 10.6L43.2 10.1L44.5 12.3L43.8 14.0L44.6 15.7L46.6 16.3L48.3 15.5L49.8 14.0L47.3 7.3L41.4 5.7L36.3 10.2L34.5 9.7L31.1 7.1L29.4 6.8L27.6 7.7L26.9 8.9L26.9 12.3L25.9 13.3L20.7 11.5L19.0 12.3L20.7 14.0L21.4 15.7L20.4 20.7L21.5 22.4ZM143.3 20.8L145.4 19.0L143.3 18.6L142.4 19.0L143.1 20.7ZM195.1 21.2L196.8 20.1L198.6 20.1L200.3 21.7L202.0 22.4L203.7 21.5L203.9 20.7L203.6 19.0L202.0 15.7L198.6 16.5L197.6 14.0L196.8 13.3L195.1 13.0L191.9 15.7L191.7 16.6L189.8 17.3L188.0 19.0L189.9 19.8L191.7 18.5L193.7 20.7ZM210.7 20.9L217.4 15.7L218.3 12.3L219.3 11.1L220.0 8.9L220.2 7.3L218.7 3.9L219.6 2.2L222.7 1.4L223.9 0.6L224.5 -1.1L210.5 -1.1L214.5 2.2L214.4 3.9L210.7 5.1L207.2 2.7L203.7 2.8L202.5 3.9L202.3 5.6L204.0 7.3L204.1 10.6L205.5 12.4L207.2 12.5L210.6 20.7ZM79.4 18.0L84.5 15.7L86.0 14.0L85.1 8.9L84.4 7.3L82.9 6.3L80.4 7.3L80.6 10.6L78.6 17.3ZM89.8 16.2L91.5 16.8L92.9 15.7L93.7 14.0L93.6 12.3L91.5 11.7L89.5 12.3L88.1 14.0L89.2 15.7ZM6.9 14.8L7.6 12.3L6.9 11.0L5.9 14.0ZM186.5 14.5L187.4 14.0L187.4 12.3L186.5 11.6L184.9 12.3L185.7 14.0ZM160.6 12.9L164.2 10.6L165.5 8.9L165.0 7.3L164.0 6.5L160.0 10.6L159.6 12.3ZM276.3 12.7L278.0 13.3L279.7 13.2L283.2 10.8L284.1 10.6L283.2 10.0L283.0 8.9L279.7 6.3L278.0 6.5L275.7 10.6L275.8 12.3ZM146.8 11.0L148.5 11.3L149.3 10.6L149.9 8.9L149.2 3.9L150.2 3.0L151.9 3.1L152.9 5.6L153.7 6.3L155.4 6.3L159.9 2.2L160.6 1.1L162.3 1.1L164.0 2.9L165.8 3.4L170.9 -0.8L174.4 -1.1L162.2 -1.1L160.6 0.2L158.9 -0.3L155.4 -0.1L152.6 -1.1L144.4 -1.1L145.0 -0.6L146.4 2.2L146.0 3.9L144.0 5.6L144.4 7.3L146.4 10.6ZM8.6 9.3L12.1 7.8L12.7 5.6L12.1 5.1L6.9 5.4L4.7 0.6L3.5 -0.7L1.7 -0.8L0.2 0.6L0.6 3.9L1.7 4.8L6.0 5.6L8.3 8.9ZM74.2 9.0L76.0 8.0L76.2 7.3L74.2 4.1L72.0 7.3L74.1 8.9ZM96.7 7.6L99.6 7.3L101.9 5.2L110.9 2.2L111.0 0.6L109.7 -1.1L99.4 -1.1L98.4 3.1L97.0 0.6L95.0 1.1L93.2 2.2L91.5 2.3L88.8 0.6L88.3 -1.1L87.6 -1.1L87.4 0.6L88.8 3.9L91.2 5.6L95.0 6.5L95.9 7.3ZM179.6 8.0L181.3 8.7L182.7 7.3L181.3 4.9L179.6 3.7L177.8 4.5L177.4 5.6L178.5 7.3ZM229.6 8.5L231.4 8.8L231.9 5.6L233.1 4.3L236.2 3.9L236.5 2.2L234.8 0.1L233.1 -0.0L232.4 0.6L229.6 7.3ZM15.5 2.6L17.3 3.6L19.5 0.6L19.0 -1.1L11.4 -1.1L12.1 1.0L15.2 2.2ZM243.5 3.0L245.2 2.8L245.7 2.2L246.7 0.6L246.3 -1.1L241.0 -1.1L241.3 0.6L242.9 2.2ZM305.6 2.5L306.0 2.2L306.1 0.6L305.6 0.6L305.4 2.2ZM27.6 0.8L29.4 -0.1L30.0 -1.1L25.4 -1.1L26.9 0.6ZM120.9 -0.0L122.4 -1.1L119.9 -1.1ZM127.8 -0.8L129.5 -0.3L130.0 -1.1L127.6 -1.1ZM281.4 0.1L283.2 0.3L284.0 -1.1L281.0 -1.1ZM307.3 0.3L309.1 -1.0L311.9 -1.1L306.9 -1.1Z"/>
<path fill="#ace4d6" d="M217.6 66.3L217.6 65.7L217.1 66.0ZM246.9 63.2L248.6 63.6L250.4 63.3L251.4 60.9L250.6 59.3L248.6 58.6L246.9 59.2L245.5 60.9L246.0 62.6ZM89.8 57.9L91.5 57.8L92.8 55.9L93.2 54.3L92.7 52.6L91.5 51.4L89.8 52.4L88.9 54.2L88.8 55.9L89.6 57.6ZM162.3 51.4L165.8 50.4L170.4 47.5L169.9 45.9L167.5 44.9L160.6 44.6L155.4 45.5L151.9 44.8L151.2 45.9L151.9 47.7L154.6 47.5L155.4 47.0L161.1 50.9ZM162.5 47.5L164.4 47.5L164.0 47.8ZM233.1 42.9L234.8 43.3L236.6 42.9L240.0 40.8L241.7 40.5L243.5 41.2L245.2 40.9L249.3 39.1L250.0 37.5L249.0 35.8L246.9 34.9L241.7 34.8L238.3 33.6L233.1 34.0L229.7 35.8L225.4 39.1L225.9 40.8L229.6 40.9L232.5 42.5ZM234.6 37.5L237.5 37.5L236.6 38.3L234.8 38.0ZM255.5 43.0L257.3 42.6L259.1 40.8L259.3 39.1L259.0 38.9L255.5 40.4L254.3 42.5ZM57.0 22.6L57.8 22.4L58.7 20.6L57.0 20.0L56.0 20.7L56.2 22.4Z"/>
<path fill="#6cbaaa" d="M164.0 47.8L164.4 47.5L162.5 47.5ZM234.8 38.0L236.6 38.3L237.5 37.5L234.6 37.5Z"/>
<path fill="#fff" d="M86.3 16.2L105.8 17.0L106.6 12.3L105.3 8.1L95.0 6.7L84.6 11.2ZM76.0 48.4L79.4 46.1L82.4 48.1L79.4 48.6ZM79.6 53.7L80.7 49.2L81.8 50.3L80.8 53.7ZM82.9 49.2L85.0 49.8L84.9 52.3L83.3 51.4ZM83.3 54.1L87.2 52.7L86.3 53.3ZM86.5 52.2L89.6 51.4L89.4 52.2ZM69.9 44.2L71.2 40.3L72.1 41.2L71.0 44.3ZM47.5 27.7L52.7 25.7L53.5 27.4L50.1 28.2ZM54.4 32.4L61.3 30.4L60.4 31.3L57.0 32.5ZM205.9 49.2L208.5 48.3L208.1 51.4L205.9 50.9Z"/>
</g></g>
<g clip-path="url(#boxclip)">
<use href="#coast"/>
</g>
<rect x="189.9" y="28.0" width="17.3" height="22.4" fill="none" stroke="#ee2d23" stroke-width="1.2"/>
<use href="#frame"/>
</g>
<text x="27.6" y="18.1" font-size="8.20" text-anchor="end" font-weight="normal" textLength="19.6" lengthAdjust="spacingAndGlyphs" fill="#262626">90°N</text>
<text x="27.6" y="34.9" font-size="8.20" text-anchor="end" font-weight="normal" textLength="19.6" lengthAdjust="spacingAndGlyphs" fill="#262626">75°N</text>
<text x="27.6" y="51.6" font-size="8.20" text-anchor="end" font-weight="normal" textLength="19.6" lengthAdjust="spacingAndGlyphs" fill="#262626">60°N</text>
<text x="27.6" y="68.4" font-size="8.20" text-anchor="end" font-weight="normal" textLength="19.6" lengthAdjust="spacingAndGlyphs" fill="#262626">45°N</text>
<text x="27.6" y="85.2" font-size="8.20" text-anchor="end" font-weight="normal" textLength="19.6" lengthAdjust="spacingAndGlyphs" fill="#262626">30°N</text>
<text x="35.2" y="95.8" font-size="8.20" text-anchor="middle" font-weight="normal" textLength="19.4" lengthAdjust="spacingAndGlyphs" fill="#262626">180°</text>
<text x="87.0" y="95.8" font-size="8.20" text-anchor="middle" font-weight="normal" textLength="27.2" lengthAdjust="spacingAndGlyphs" fill="#262626">120°W</text>
<text x="138.8" y="95.8" font-size="8.20" text-anchor="middle" font-weight="normal" textLength="22.0" lengthAdjust="spacingAndGlyphs" fill="#262626">60°W</text>
<text x="190.6" y="95.8" font-size="8.20" text-anchor="middle" font-weight="normal" textLength="17.0" lengthAdjust="spacingAndGlyphs" fill="#262626">0°W</text>
<text x="242.4" y="95.8" font-size="8.20" text-anchor="middle" font-weight="normal" textLength="19.0" lengthAdjust="spacingAndGlyphs" fill="#262626">60°E</text>
<text x="294.2" y="95.8" font-size="8.20" text-anchor="middle" font-weight="normal" textLength="25.0" lengthAdjust="spacingAndGlyphs" fill="#262626">120°E</text>
<text x="346.0" y="95.8" font-size="8.20" text-anchor="middle" font-weight="normal" textLength="19.4" lengthAdjust="spacingAndGlyphs" fill="#262626">180°</text>
<text x="35.6" y="10.7" font-size="13.60" text-anchor="start" font-weight="normal" textLength="16.4" lengthAdjust="spacingAndGlyphs" stroke="#000" stroke-width="0.55">(a)</text>
<text x="190.8" y="9.8" font-size="10.20" text-anchor="middle" font-weight="bold" textLength="146.6" lengthAdjust="spacingAndGlyphs" >EEU SM_dry20 — SM_mean</text>
<g transform="translate(364.6 15.2)">
<g clip-path="url(#boxclip)"><g clip-path="url(#landclip)">
<path fill="#e0d69e" d="M257.3 65.1L258.2 64.3L258.4 62.6L257.3 61.9L255.4 62.6L255.8 64.3ZM231.4 22.6L232.3 20.7L231.4 19.5L229.5 20.7L230.7 22.4Z"/>
<path fill="#f2f0da" d="M0.0 68.1L1.7 67.5L3.3 66.0L4.5 62.6L6.9 59.7L10.4 59.5L12.5 57.6L11.7 55.9L10.4 55.4L8.6 55.6L6.9 56.7L5.2 56.9L1.7 55.5L0.0 56.2L-0.8 57.6L-0.9 59.3L0.2 62.6L-1.3 66.0L-0.9 67.7ZM22.4 69.3L31.2 69.3L31.8 67.7L31.4 66.0L29.4 64.7L27.6 65.3L25.9 65.2L24.5 62.6L22.4 60.6L17.3 59.7L15.5 60.8L13.5 64.3L13.7 66.0L15.5 66.4L19.0 64.2L21.3 66.0L22.1 67.7L22.2 69.3ZM55.3 69.3L61.3 69.3L58.9 66.0L58.7 64.2L57.0 65.7L55.3 65.5L51.8 62.5L49.6 62.6L48.5 64.3L50.1 66.1L53.5 66.6L54.2 67.7L54.2 69.3ZM77.7 69.3L82.6 69.3L81.2 67.7L80.4 66.0L80.7 62.6L79.4 61.7L77.7 61.2L73.8 60.9L72.5 61.4L71.9 62.6L72.5 63.7L76.0 65.0L76.9 66.0L76.3 69.3ZM84.6 69.3L92.1 69.3L86.3 68.1L83.3 69.3ZM114.0 69.3L114.0 67.6L113.3 69.3ZM143.3 69.3L147.2 69.3L146.3 67.7L145.0 66.6L143.3 67.7L142.9 69.3ZM157.1 69.3L162.5 69.3L161.4 67.7L158.9 66.7L156.8 69.3ZM170.9 69.3L177.1 69.3L176.1 68.8L174.4 69.1L170.9 68.6L170.0 69.3ZM195.1 69.1L198.7 69.3L199.7 66.0L200.0 64.3L199.0 60.9L199.7 57.6L198.6 56.9L196.8 56.7L194.8 57.6L195.2 62.6L194.3 67.7ZM227.9 67.9L233.1 68.5L234.8 67.0L239.9 64.3L238.3 62.6L234.8 61.4L232.6 59.3L231.4 58.6L229.6 58.8L224.5 61.6L223.9 62.6L223.1 66.0L227.1 67.7ZM248.6 69.3L249.1 69.3L249.7 67.7L248.6 66.9L247.9 67.7L247.8 69.3ZM253.8 67.8L256.3 69.3L261.4 69.3L262.5 61.8L264.7 59.3L263.8 57.6L260.7 56.1L259.0 56.2L258.4 57.6L255.5 59.1L252.1 60.1L251.2 60.9L250.0 66.0L250.4 66.6L252.1 66.8L253.6 67.7ZM255.8 64.3L255.4 62.6L257.3 61.9L258.4 62.6L258.2 64.3L257.3 65.1ZM274.5 68.5L278.0 68.3L279.6 69.3L284.0 69.3L283.8 67.7L281.4 66.0L278.2 62.6L275.8 60.9L274.5 59.1L272.8 57.9L272.3 59.3L272.5 60.9L270.8 64.3L271.3 66.0L272.9 67.7ZM298.7 69.3L301.3 69.3L302.3 62.6L302.2 60.9L300.4 60.5L300.0 60.9L300.0 62.6L297.3 67.7L297.7 69.3ZM95.0 66.8L96.9 66.0L98.3 64.3L96.7 62.7L95.0 63.0L93.7 64.3L94.0 66.0ZM210.7 66.7L212.4 66.8L215.8 63.1L221.0 60.1L227.8 57.6L227.9 52.6L224.5 50.0L221.0 56.6L217.6 57.2L212.4 61.2L208.8 62.6L208.9 64.3L210.1 66.0ZM157.1 64.4L158.9 60.7L158.8 54.2L160.6 52.6L162.3 51.6L164.0 51.8L167.5 56.3L168.5 55.9L167.5 52.6L167.7 50.9L170.3 47.5L170.6 45.9L169.2 43.7L165.8 45.9L162.3 46.6L157.1 50.2L155.4 51.0L153.7 51.0L151.9 49.1L150.8 45.9L150.8 44.2L152.2 40.8L152.4 39.1L151.9 38.3L148.5 38.7L145.7 40.8L148.3 44.2L148.3 45.9L147.7 47.5L145.0 49.7L143.3 49.8L139.9 48.0L136.4 48.1L135.1 47.5L135.2 44.2L134.7 43.4L133.0 42.0L131.2 42.4L130.7 45.9L131.2 48.9L133.0 49.0L134.7 48.3L134.7 50.9L139.9 54.9L141.6 54.3L143.3 52.1L146.8 55.0L150.2 55.3L151.2 55.9L154.6 59.3L155.0 62.6L157.0 64.3ZM110.5 61.7L112.2 62.0L114.0 61.5L114.4 60.9L114.0 58.1L108.8 58.0L107.4 59.3L109.2 60.9ZM176.1 61.9L177.8 60.9L179.6 58.0L180.6 57.6L177.8 56.2L176.1 56.5L174.8 57.6L174.6 59.3L175.4 60.9ZM238.3 62.0L240.0 61.5L241.4 59.3L243.5 57.8L246.9 57.1L248.2 55.9L248.6 54.2L247.6 52.6L245.2 52.7L241.7 55.2L238.3 60.9ZM131.2 59.4L132.0 59.3L131.2 58.3L130.8 59.3ZM95.0 57.7L94.9 55.9L93.2 55.0L91.8 52.6L94.3 49.2L93.2 48.1L91.0 49.2L89.7 50.9L89.5 52.6L90.6 55.9L91.5 56.9L94.8 57.6ZM183.0 57.8L184.8 58.1L186.5 57.5L188.2 55.9L188.9 54.2L188.2 52.9L186.5 52.8L183.7 54.2L182.0 55.9L182.1 57.6ZM24.2 56.5L25.9 56.5L26.9 55.9L27.5 54.2L27.0 52.6L25.0 50.9L24.2 49.3L23.1 52.6L23.7 55.9ZM38.0 57.0L39.7 56.6L40.2 55.9L39.3 54.2L38.0 53.4L36.8 54.2L36.5 55.9ZM114.0 57.2L115.7 55.8L117.4 53.1L119.1 53.1L120.3 52.6L120.7 50.9L119.1 49.4L115.7 50.9L114.0 50.3L112.2 50.4L111.2 52.6L113.3 55.9ZM127.8 57.3L129.2 55.9L130.6 50.9L129.5 49.5L127.6 49.2L126.6 55.9ZM284.9 56.3L286.6 57.2L288.4 56.6L287.7 54.2L286.3 52.6L286.1 50.9L288.4 49.7L290.1 50.1L293.5 51.9L295.3 51.4L296.1 49.2L295.1 47.5L293.5 46.4L291.8 46.2L290.1 46.8L286.6 45.8L283.2 47.2L278.0 47.9L275.4 49.2L274.7 52.6L276.3 53.9L278.0 53.4L283.9 55.9ZM208.9 54.9L210.7 55.3L214.1 50.6L212.4 49.3L210.7 50.0L208.7 52.6L208.5 54.2ZM53.5 54.2L55.3 53.8L56.5 52.6L54.8 50.9L51.8 49.7L51.1 50.9L52.1 52.6ZM193.4 52.9L195.1 53.0L196.3 50.9L195.1 50.2L193.4 50.8L193.2 52.6ZM264.2 53.0L265.9 53.8L266.5 52.6L267.6 51.7L272.2 50.9L273.1 49.2L272.3 47.5L271.1 46.6L268.0 47.5L265.9 51.5L264.1 52.6ZM5.2 49.6L6.9 49.7L8.6 48.4L9.5 45.9L9.5 44.2L8.6 43.2L6.9 42.4L5.2 42.4L0.0 38.1L-1.4 39.1L-1.7 40.1L-1.3 44.2L-1.7 47.7L1.7 47.7L4.7 49.2ZM300.4 49.7L302.2 50.1L303.9 50.0L305.3 49.2L304.7 47.5L302.3 44.2L303.2 40.8L302.9 39.1L302.2 38.6L298.7 38.5L295.7 40.8L296.6 42.5L298.7 42.8L302.0 44.2L300.4 45.0L299.0 47.5L299.7 49.2ZM309.1 49.4L310.8 50.5L312.5 50.0L312.5 47.2L310.8 47.1L309.0 49.2ZM25.9 47.8L27.6 47.0L31.1 48.9L32.8 48.6L33.1 47.5L36.9 44.2L37.8 42.5L36.3 41.1L31.1 40.5L29.4 40.7L27.6 44.2L24.9 45.9L24.4 47.5ZM238.3 47.8L240.0 48.1L241.6 45.9L238.3 41.7L236.8 40.8L235.6 40.8L234.9 42.5L237.9 47.5ZM57.0 44.3L57.8 42.5L57.0 41.0L55.3 41.3L53.5 42.5L56.6 44.2ZM81.2 45.0L83.9 44.2L83.3 40.8L82.9 40.4L81.2 40.9L79.7 42.5L79.6 44.2ZM272.8 45.6L274.5 45.4L276.6 44.2L277.6 42.5L278.4 39.1L278.0 38.3L271.1 37.9L269.4 37.6L267.6 36.6L264.2 36.7L263.5 37.5L264.2 41.1L265.9 42.3L267.6 41.6L269.4 42.1L271.5 44.2ZM103.6 41.1L105.3 41.3L106.3 40.8L107.4 39.1L107.1 35.5L105.5 32.4L107.0 25.7L110.2 24.0L112.5 22.4L113.8 20.7L112.2 18.9L108.8 19.3L107.1 18.6L105.3 16.6L103.4 15.7L101.9 14.2L100.1 14.2L99.4 15.7L96.7 16.4L93.2 14.6L91.5 14.9L90.7 15.7L90.7 17.3L91.5 18.9L93.2 20.5L98.4 21.4L104.0 24.0L102.3 27.4L102.3 29.1L103.6 32.2L104.3 32.4L104.4 34.1L101.9 36.5L100.1 34.4L98.4 35.4L96.4 37.5L95.8 39.1L98.4 40.3L100.1 39.5L101.9 39.3L103.2 40.8ZM138.1 41.8L138.6 40.8L137.5 35.8L139.9 34.0L140.6 32.4L140.3 29.1L145.0 25.8L146.8 25.2L150.2 27.7L151.9 27.7L153.3 25.7L153.3 24.0L152.5 22.4L151.9 21.9L148.5 21.8L147.1 20.7L146.7 19.0L147.4 17.3L150.1 14.0L150.2 12.3L148.5 10.0L146.8 10.0L145.0 10.7L144.1 12.3L141.6 14.8L137.7 17.3L136.4 19.0L134.7 20.1L131.2 20.1L129.5 19.6L126.5 17.3L125.2 15.7L125.4 14.0L124.3 11.0L123.1 12.3L122.6 14.0L123.9 17.3L123.1 19.0L125.5 20.7L127.8 21.6L129.5 24.1L131.2 24.1L134.7 22.8L136.4 21.2L138.1 21.4L138.8 22.4L139.1 24.0L138.5 25.7L133.8 29.1L133.1 32.4L129.1 34.1L126.9 39.1L127.8 40.4L129.5 39.9L130.3 37.5L131.2 37.0L133.0 37.3L134.7 39.2L137.4 40.8ZM164.0 41.5L167.5 42.3L169.2 41.5L169.4 40.8L168.7 39.1L165.8 38.3L163.9 39.1L163.3 40.8ZM58.7 40.1L62.2 40.0L63.9 37.7L64.0 35.8L62.2 34.5L60.4 34.1L58.7 35.0L58.0 35.8L58.0 39.1ZM250.4 39.7L252.0 37.5L251.8 35.8L250.4 35.3L248.8 35.8L250.2 39.1ZM279.7 38.1L280.2 37.5L280.1 35.8L279.7 35.5L278.7 37.5ZM5.2 37.1L6.9 37.1L7.4 35.8L8.4 32.4L7.4 30.8L6.9 30.5L5.2 31.3L2.6 34.1L3.8 35.8ZM114.0 36.7L115.7 37.4L116.3 35.8L116.4 32.4L117.4 31.1L119.1 31.3L121.5 29.1L122.0 27.4L120.9 25.4L119.1 25.8L115.7 30.5L111.4 30.8L110.7 32.4L113.2 35.8ZM19.0 34.4L20.7 35.1L24.1 34.1L24.4 32.4L24.0 30.8L17.3 27.0L15.8 27.4L15.3 29.1L16.2 30.8L18.1 32.4L18.8 34.1ZM34.5 34.7L41.4 32.8L43.2 31.5L45.6 27.4L45.9 25.7L45.1 24.0L43.2 23.3L41.4 24.0L40.3 27.4L36.3 31.1L33.6 32.4L33.5 34.1ZM233.1 34.6L234.0 34.1L234.3 32.4L232.9 32.4L232.4 34.1ZM286.6 34.6L288.4 34.4L289.3 32.4L288.4 31.4L286.6 30.7L281.9 25.7L282.0 22.4L281.4 21.8L279.7 21.1L276.3 22.1L274.5 20.6L269.4 17.8L265.9 17.2L264.2 16.4L262.5 14.4L262.3 10.6L259.0 9.3L257.3 9.3L255.3 10.6L255.1 12.3L256.5 15.7L256.7 17.3L255.5 18.9L253.8 17.7L252.1 17.4L250.4 18.1L249.3 17.3L248.6 15.0L246.9 13.2L243.5 13.0L242.1 10.6L241.7 8.2L240.0 7.3L237.9 8.9L237.3 10.6L238.0 12.3L241.7 14.7L242.5 15.7L241.7 18.5L238.3 15.7L235.7 12.3L234.3 8.9L233.1 7.5L226.2 8.0L224.6 10.6L226.2 14.0L224.2 15.7L219.3 17.3L217.6 19.9L215.8 19.4L212.4 16.9L210.7 17.2L207.2 21.8L205.5 22.1L202.0 19.8L198.6 20.3L196.9 19.0L195.8 17.3L198.6 15.3L202.0 16.7L203.7 15.9L204.5 14.0L204.3 12.3L203.7 11.5L202.0 11.2L200.3 12.4L198.6 12.6L196.8 9.8L195.1 9.7L193.3 12.3L193.5 14.0L195.0 15.7L189.9 18.6L188.6 20.7L189.3 22.4L196.8 26.8L198.6 27.1L205.2 24.0L205.5 23.4L212.4 22.9L214.0 24.0L213.3 27.4L214.1 28.7L217.6 29.2L221.0 31.0L224.5 28.3L227.9 28.6L234.8 25.2L236.3 27.4L236.9 30.8L240.0 31.1L246.0 27.4L248.6 22.9L253.8 23.1L255.5 23.9L256.6 27.4L257.3 28.3L259.1 29.1L260.7 31.5L262.5 32.1L264.2 31.7L265.9 31.9L267.6 33.3L269.4 33.4L270.2 32.4L270.1 30.8L269.4 30.0L265.9 29.5L265.7 29.1L266.6 25.7L269.4 23.6L271.1 23.1L274.5 24.5L276.0 25.7L276.7 27.4L278.0 29.1L281.4 31.8L283.2 31.3L286.1 34.1ZM230.7 22.4L229.5 20.7L231.4 19.5L232.3 20.7L231.4 22.6ZM241.4 22.4L241.1 20.7L241.7 19.2L243.5 19.0L246.7 20.7L243.5 22.8L241.7 22.6ZM248.0 19.0L248.6 18.2L249.2 19.0L248.6 20.6ZM48.3 32.7L50.1 33.6L51.2 32.4L50.1 31.4L48.1 32.4ZM74.2 32.9L76.0 32.4L77.7 30.9L79.4 28.0L82.9 29.2L84.6 28.2L85.4 24.0L82.9 22.4L81.2 23.0L79.4 24.5L77.7 24.3L74.2 20.1L69.1 18.3L67.3 15.3L65.6 14.4L58.7 17.3L57.8 19.0L60.4 22.7L62.2 22.1L63.9 22.1L67.3 24.4L70.8 23.2L71.9 24.0L72.6 25.7L72.7 30.8L73.6 32.4ZM312.5 32.5L312.2 29.1L312.5 19.8L311.4 19.0L310.4 15.7L312.5 13.5L312.5 4.3L310.8 3.7L309.0 5.6L309.6 8.9L308.9 10.6L307.3 12.6L305.6 13.8L305.3 15.7L305.6 17.3L307.2 19.0L310.3 20.7L310.5 22.4L309.8 25.7L309.1 26.8L301.3 29.1L301.1 30.8L302.2 31.0L309.1 30.6L310.8 31.1L312.5 32.4ZM170.9 31.5L172.7 32.1L173.8 30.8L174.1 29.1L173.7 27.4L172.7 26.9L170.9 28.2L170.4 30.8ZM60.4 29.6L60.4 27.3L58.7 23.9L57.3 25.7L59.1 29.1ZM158.9 28.2L160.6 28.6L161.5 27.4L161.8 25.7L160.6 24.1L158.9 23.6L158.4 24.0L157.7 25.7L158.1 27.4ZM291.8 28.6L293.5 28.0L295.7 25.7L296.0 24.0L295.3 22.8L293.5 22.0L291.8 22.9L289.7 25.7L290.2 27.4ZM174.4 26.9L176.8 25.7L178.5 24.0L179.4 22.4L179.1 20.7L177.8 20.4L174.4 17.9L170.9 17.1L168.2 17.3L168.7 19.0L170.9 19.7L172.7 21.0L173.5 22.4L173.7 25.7ZM-1.0 24.0L-0.5 22.4L-1.7 20.4L-1.7 25.1ZM88.1 24.1L89.8 25.3L91.5 25.0L92.4 22.4L91.5 21.1L89.8 21.3L87.9 22.4L87.9 24.0ZM183.0 22.8L184.6 22.4L184.8 20.7L183.0 19.5L181.3 19.8L179.8 20.7L181.8 22.4ZM29.4 21.4L29.6 20.7L29.0 20.7ZM164.0 19.1L166.7 19.0L166.4 17.3L164.0 17.0L162.3 17.3L163.9 19.0ZM284.9 19.9L286.6 19.9L288.4 17.7L289.1 14.0L288.4 12.9L286.6 12.6L283.2 13.8L280.5 14.0L280.2 15.7L283.7 19.0ZM53.5 17.8L56.1 17.3L55.3 15.6L53.5 14.3L52.4 15.7L52.9 17.3ZM77.7 17.5L79.8 15.7L81.2 12.8L84.6 12.9L86.3 11.8L87.1 8.9L86.3 8.4L84.6 8.5L82.9 9.8L81.2 12.0L76.7 12.3L76.0 13.0L75.3 15.7L76.0 17.0L76.9 17.3ZM34.5 15.9L36.3 16.4L39.7 14.4L41.4 14.5L44.9 16.4L46.4 15.7L45.7 14.0L39.8 10.6L39.7 9.2L39.1 10.6L38.0 11.0L37.1 12.3L34.5 13.6L32.8 12.8L31.1 13.2L30.6 14.0L31.1 14.7L32.8 14.7L33.8 15.7ZM293.5 16.9L295.3 17.1L297.0 15.5L297.8 14.0L298.1 10.6L301.1 7.3L301.0 -1.1L297.8 -1.1L296.8 0.6L296.2 2.2L296.3 7.3L295.3 8.9L292.2 10.6L291.8 12.3L292.6 15.7ZM272.8 14.4L274.5 13.9L277.3 12.3L276.0 8.9L276.3 5.6L274.5 3.6L272.8 3.2L271.1 4.2L269.4 3.1L267.6 3.6L265.8 5.6L264.2 10.2L263.5 10.6L265.9 10.8L266.9 8.9L269.4 6.4L271.1 6.2L271.3 7.3L273.2 8.9L273.9 10.6L271.9 14.0ZM0.0 12.8L1.7 13.3L3.5 13.3L5.0 12.3L3.5 10.8L1.7 11.0L0.0 10.5L-1.7 9.1L-1.7 12.7ZM158.9 12.5L160.6 11.8L161.3 10.6L161.3 8.9L157.5 5.6L157.6 2.2L161.8 -1.1L143.9 -1.1L145.0 0.7L146.8 0.5L148.5 4.9L150.2 5.4L153.7 4.2L155.3 5.6L155.7 8.9L156.4 10.6L158.6 12.3ZM169.2 12.5L170.9 11.5L172.4 8.9L174.1 7.3L174.5 5.6L174.1 3.9L171.5 0.6L172.4 -1.1L169.8 -1.1L170.2 0.6L165.9 3.9L167.2 10.6L169.1 12.3ZM177.8 12.4L178.8 10.6L177.8 10.0L177.2 10.6L177.7 12.3ZM214.1 12.9L215.8 12.6L219.3 10.6L219.9 8.9L219.3 6.5L217.6 6.2L213.2 7.3L212.9 10.6L213.2 12.3ZM48.3 11.3L48.8 10.6L48.3 9.3L48.0 10.6ZM62.2 10.8L62.3 8.9L63.7 7.3L65.6 6.4L67.3 7.3L69.1 9.7L70.8 11.0L72.5 10.9L73.0 10.6L73.4 8.9L73.5 5.6L72.5 3.9L67.3 2.1L62.9 -1.1L55.0 -1.1L57.0 0.2L60.4 -0.0L61.4 0.6L61.6 2.2L60.4 7.3L62.0 10.6ZM20.7 9.0L22.4 9.4L23.7 8.9L27.6 5.8L29.4 6.2L32.8 9.6L34.5 8.9L36.3 7.2L38.0 8.7L39.7 8.9L41.0 7.3L43.8 5.6L44.0 3.9L41.4 2.0L38.0 2.2L34.5 1.5L27.6 5.0L25.3 2.2L24.8 0.6L25.7 -1.1L22.0 -1.1L18.0 3.9L19.2 7.3L20.6 8.9ZM98.4 10.5L100.1 9.9L100.5 8.9L100.1 7.3L98.4 7.0L97.8 8.9ZM288.4 9.0L290.1 8.9L288.3 8.9ZM12.1 7.5L13.8 8.1L14.4 7.3L13.8 6.6L12.0 7.3ZM91.5 6.0L93.2 5.4L94.4 3.9L93.3 -1.1L77.7 -1.1L79.4 1.1L82.9 1.3L84.6 2.1L88.1 1.5L88.9 2.2L90.4 5.6ZM114.0 4.3L116.0 3.9L115.8 2.2L114.0 -0.5L112.2 -1.1L111.3 0.6L111.3 2.2L113.3 3.9ZM193.4 4.4L194.7 3.9L193.2 3.9ZM98.4 3.7L100.0 2.2L99.1 0.6L98.4 0.1L96.7 0.6L97.0 2.2ZM181.3 3.6L183.0 3.6L183.5 2.2L182.2 0.6L181.3 -0.0L179.6 -0.1L178.9 -1.1L175.4 -1.1L177.3 0.6L179.6 1.2L180.0 2.2ZM234.8 1.7L236.6 2.1L237.2 0.6L236.9 -1.1L233.5 -1.1L233.7 0.6ZM246.9 1.3L248.8 0.6L249.4 -1.1L246.6 -1.1L246.4 0.6ZM257.3 0.6L259.0 1.8L260.2 -1.1L257.3 -1.1L257.3 0.6Z"/>
<path fill="#def2eb" d="M0.0 69.3L22.2 69.3L22.1 67.7L21.3 66.0L19.0 64.2L15.5 66.4L13.7 66.0L13.5 64.3L15.5 60.8L17.3 59.7L22.4 60.6L24.5 62.6L25.9 65.2L27.6 65.3L29.4 64.7L31.1 65.5L31.8 67.7L31.2 69.3L54.2 69.3L54.2 67.7L53.5 66.6L50.1 66.1L48.5 64.3L50.1 62.4L52.0 62.6L55.3 65.5L57.0 65.7L58.7 64.2L58.9 66.0L61.3 69.3L76.3 69.3L76.9 66.0L76.0 65.0L72.5 63.7L71.9 62.6L72.5 61.4L74.2 60.9L77.7 61.2L79.4 61.7L80.7 62.6L80.4 66.0L81.2 67.7L82.6 69.3L86.3 68.1L92.1 69.3L113.3 69.3L114.0 67.6L114.1 69.3L142.9 69.3L143.3 67.7L145.0 66.6L146.3 67.7L147.2 69.3L156.8 69.3L158.9 66.7L161.4 67.7L162.5 69.3L170.0 69.3L170.9 68.6L174.4 69.1L176.1 68.8L177.1 69.3L195.4 69.3L194.3 67.7L195.2 62.6L194.8 57.6L196.8 56.7L198.6 56.9L199.7 57.6L199.0 60.9L200.0 64.3L198.7 69.3L247.8 69.3L247.9 67.7L248.6 66.9L249.7 67.7L249.1 69.3L256.3 69.3L252.1 66.8L250.4 66.6L250.0 66.0L251.2 60.9L252.1 60.1L255.5 59.1L258.4 57.6L259.0 56.2L260.7 56.1L263.8 57.6L264.7 59.3L262.5 61.8L261.4 69.3L279.6 69.3L278.0 68.3L274.5 68.5L272.8 67.6L271.3 66.0L270.8 64.3L272.5 60.9L272.3 59.3L272.8 57.9L274.5 59.1L275.8 60.9L278.2 62.6L281.4 66.0L283.8 67.7L284.0 69.3L297.7 69.3L297.3 67.7L297.9 66.0L299.3 64.3L300.4 60.5L302.2 60.9L302.3 62.6L301.3 69.3L312.5 69.3L312.5 50.0L310.8 50.5L309.0 49.2L310.8 47.1L312.5 47.2L312.5 32.5L310.8 31.1L309.1 30.6L302.2 31.0L301.1 30.8L301.3 29.1L309.1 26.8L309.8 25.7L310.5 22.4L310.3 20.7L307.2 19.0L305.6 17.3L305.3 15.7L305.6 13.8L307.3 12.6L308.9 10.6L309.6 8.9L309.1 5.4L310.8 3.7L312.5 4.3L312.5 -1.1L301.0 -1.1L301.1 7.3L298.1 10.6L297.8 14.0L297.0 15.5L295.3 17.1L293.5 16.9L292.6 15.7L291.8 12.3L292.2 10.6L295.3 8.9L296.3 7.3L296.2 2.2L297.8 -1.1L260.2 -1.1L259.0 1.8L257.3 0.6L257.3 -1.1L249.4 -1.1L248.8 0.6L246.9 1.3L246.4 0.6L246.6 -1.1L236.9 -1.1L237.2 0.6L236.6 2.1L234.8 1.7L233.7 0.6L233.5 -1.1L178.9 -1.1L179.6 -0.1L181.3 -0.0L183.0 1.3L183.5 2.2L183.0 3.6L181.3 3.6L179.6 1.2L177.3 0.6L175.4 -1.1L172.4 -1.1L171.5 0.6L174.1 3.9L174.5 5.6L174.1 7.3L172.4 8.9L170.9 11.5L169.2 12.5L167.2 10.6L165.9 3.9L170.2 0.6L169.8 -1.1L161.8 -1.1L157.6 2.2L157.5 5.6L161.3 8.9L161.3 10.6L160.6 11.8L158.9 12.5L156.4 10.6L155.7 8.9L155.3 5.6L153.7 4.2L150.2 5.4L148.5 4.9L146.8 0.5L145.0 0.7L143.9 -1.1L93.3 -1.1L94.4 3.9L93.2 5.4L91.5 6.0L90.4 5.6L88.9 2.2L88.1 1.5L84.6 2.1L82.9 1.3L79.4 1.1L77.7 -1.1L62.9 -1.1L67.3 2.1L72.5 3.9L73.5 5.6L73.0 10.6L70.8 11.0L69.1 9.7L67.3 7.3L65.6 6.4L63.7 7.3L62.3 8.9L62.2 10.8L60.4 7.3L61.6 2.2L61.4 0.6L60.4 -0.0L57.0 0.2L55.0 -1.1L25.7 -1.1L24.8 0.6L25.3 2.2L27.6 5.0L34.5 1.5L38.0 2.2L41.4 2.0L44.0 3.9L43.8 5.6L41.0 7.3L39.7 8.9L38.0 8.7L36.3 7.2L34.5 8.9L32.8 9.6L29.4 6.2L27.6 5.8L23.7 8.9L22.4 9.4L20.6 8.9L19.2 7.3L18.0 3.9L22.0 -1.1L-1.7 -1.1L-1.7 9.1L0.0 10.5L1.7 11.0L3.5 10.8L5.0 12.3L3.5 13.3L-1.7 12.7L-1.7 20.4L-0.5 22.4L-1.7 25.1L-1.7 40.1L-1.4 39.1L0.0 38.1L5.2 42.4L6.9 42.4L8.6 43.2L9.5 44.2L9.5 45.9L8.6 48.4L6.9 49.7L5.2 49.6L1.7 47.7L-1.7 47.7L-1.7 69.3ZM-0.9 67.7L-1.3 66.0L0.2 62.6L-0.9 59.3L-0.8 57.6L0.0 56.2L1.7 55.5L5.2 56.9L6.9 56.7L8.6 55.6L10.4 55.4L11.7 55.9L12.5 57.6L10.4 59.5L6.9 59.7L4.5 62.6L3.3 66.0L1.7 67.5L0.0 68.1ZM227.1 67.7L223.1 66.0L223.9 62.6L224.5 61.6L229.6 58.8L231.4 58.6L232.6 59.3L234.8 61.4L238.3 62.6L239.9 64.3L234.8 67.0L233.1 68.5L227.9 67.9ZM94.0 66.0L93.7 64.3L95.0 63.0L96.7 62.7L98.3 64.3L96.9 66.0L95.0 66.8ZM127.2 66.0L126.9 64.3L127.8 63.3L129.5 63.2L131.9 64.3L131.2 66.2L129.5 66.6L127.8 66.3ZM210.1 66.0L208.9 64.3L208.8 62.6L212.4 61.2L217.6 57.2L221.0 56.6L224.5 50.0L227.9 52.6L227.8 57.6L221.0 60.1L215.8 63.1L212.4 66.8L210.7 66.7ZM157.0 64.3L155.0 62.6L154.6 59.3L151.2 55.9L150.2 55.3L146.8 55.0L143.3 52.1L141.6 54.3L139.9 54.9L134.7 50.9L134.7 48.3L133.0 49.0L131.2 48.9L130.7 45.9L131.2 42.4L133.0 42.0L134.7 43.4L135.2 44.2L135.1 47.5L136.4 48.1L139.9 48.0L143.3 49.8L145.0 49.7L147.7 47.5L148.3 45.9L148.3 44.2L145.7 40.8L148.5 38.7L151.9 38.3L152.4 39.1L152.2 40.8L150.8 44.2L150.8 45.9L151.9 49.1L153.7 51.0L155.4 51.0L157.1 50.2L162.3 46.6L165.8 45.9L169.2 43.7L170.6 45.9L170.3 47.5L167.7 50.9L167.5 52.6L168.5 55.9L167.5 56.3L164.0 51.8L162.3 51.6L160.6 52.6L158.8 54.2L158.9 60.7L157.1 64.4ZM109.2 60.9L107.4 59.3L108.8 58.0L114.0 58.1L114.4 60.9L114.0 61.5L112.2 62.0L110.5 61.7ZM175.4 60.9L174.6 59.3L174.8 57.6L176.1 56.5L177.8 56.2L180.6 57.6L179.6 58.0L177.8 60.9L176.1 61.9ZM238.3 60.9L241.7 55.2L245.2 52.7L247.6 52.6L248.6 54.2L248.2 55.9L246.9 57.1L243.5 57.8L241.4 59.3L240.0 61.5L238.3 62.0ZM130.8 59.3L131.2 58.3L132.0 59.3L131.2 59.4ZM94.8 57.6L91.5 56.9L90.6 55.9L89.5 52.6L89.7 50.9L91.0 49.2L93.2 48.1L94.3 49.2L91.8 52.6L93.2 55.0L94.9 55.9L95.0 57.7ZM182.1 57.6L182.0 55.9L183.7 54.2L186.5 52.8L188.2 52.9L188.9 54.2L188.2 55.9L186.5 57.5L184.8 58.1L183.0 57.8ZM23.7 55.9L23.1 52.6L24.2 49.3L25.0 50.9L27.0 52.6L27.5 54.2L26.9 55.9L25.9 56.5L24.2 56.5ZM36.5 55.9L36.8 54.2L38.0 53.4L39.3 54.2L40.2 55.9L39.7 56.6L38.0 57.0ZM113.3 55.9L111.2 52.6L112.2 50.4L114.0 50.3L115.7 50.9L119.1 49.4L120.7 50.9L120.3 52.6L119.1 53.1L117.4 53.1L115.7 55.8L114.0 57.2ZM126.6 55.9L127.6 49.2L129.5 49.5L130.6 50.9L129.2 55.9L127.8 57.3ZM283.9 55.9L278.0 53.4L276.3 53.9L274.7 52.6L275.4 49.2L278.0 47.9L283.2 47.2L286.6 45.8L290.1 46.8L291.8 46.2L293.5 46.4L295.1 47.5L296.1 49.2L295.3 51.4L293.5 51.9L290.1 50.1L288.4 49.7L286.1 50.9L286.3 52.6L287.7 54.2L288.4 56.6L286.6 57.2L284.9 56.3ZM208.5 54.2L208.7 52.6L210.7 50.0L212.4 49.3L214.1 50.6L210.7 55.3L208.9 54.9ZM52.1 52.6L51.1 50.9L51.8 49.7L54.8 50.9L56.5 52.6L55.3 53.8L53.5 54.2ZM77.1 52.6L76.3 50.9L77.7 50.4L78.2 50.9L77.7 52.7ZM193.2 52.6L193.4 50.8L195.1 50.2L196.3 50.9L195.1 53.0L193.4 52.9ZM264.1 52.6L265.9 51.5L268.0 47.5L271.1 46.6L272.3 47.5L273.1 49.2L272.2 50.9L267.6 51.7L266.5 52.6L265.9 53.8L264.2 53.0ZM61.1 50.9L60.1 49.2L60.9 47.5L66.2 44.2L67.3 40.4L69.1 39.3L74.2 39.7L74.9 40.8L74.9 42.5L74.2 44.6L72.5 46.2L69.1 46.5L65.6 50.7L63.9 51.7L62.2 51.7ZM13.3 49.2L13.8 46.3L15.5 45.1L18.2 47.5L16.8 49.2L13.8 49.7ZM299.7 49.2L299.0 47.5L300.4 45.0L302.0 44.2L298.7 42.8L296.6 42.5L295.7 40.8L298.7 38.5L302.2 38.6L302.9 39.1L303.2 40.8L302.3 44.2L304.7 47.5L305.3 49.2L303.9 50.0L302.2 50.1L300.4 49.7ZM24.4 47.5L24.9 45.9L27.6 44.2L29.4 40.7L31.1 40.5L36.3 41.1L37.8 42.5L36.9 44.2L33.1 47.5L32.8 48.6L31.1 48.9L27.6 47.0L25.9 47.8ZM185.0 47.5L181.7 44.2L182.4 40.8L181.0 37.5L181.3 34.1L183.0 33.0L184.8 32.6L188.2 33.0L188.9 32.4L189.9 28.8L191.7 27.9L195.1 29.9L198.6 30.6L203.7 28.0L205.5 28.1L208.1 29.1L210.7 32.0L212.4 33.0L214.1 33.0L215.8 32.4L217.6 32.6L221.0 35.8L224.5 34.6L226.2 35.1L226.6 35.8L226.7 37.5L226.2 38.6L224.5 39.5L222.7 39.4L221.0 38.4L219.3 38.2L215.8 41.3L214.1 41.9L210.7 41.8L208.9 42.3L203.7 45.1L196.8 45.9L191.7 44.2L189.9 44.5L186.5 48.1ZM237.9 47.5L234.9 42.5L235.6 40.8L236.8 40.8L238.3 41.7L241.6 45.9L240.0 48.1L238.3 47.8ZM56.6 44.2L53.5 42.5L55.3 41.3L57.0 41.0L57.8 42.5L57.0 44.3ZM79.6 44.2L79.7 42.5L81.2 40.9L82.9 40.4L83.3 40.8L83.9 44.2L81.2 45.0ZM174.0 44.2L173.3 42.5L174.4 40.9L176.1 41.8L176.3 42.5L174.4 44.6ZM271.5 44.2L269.4 42.1L267.6 41.6L265.9 42.3L264.2 41.1L263.5 37.5L264.2 36.7L267.6 36.6L269.4 37.6L271.1 37.9L278.0 38.3L278.4 39.1L277.6 42.5L276.6 44.2L274.5 45.4L272.8 45.6ZM103.2 40.8L101.9 39.3L100.1 39.5L98.4 40.3L95.8 39.1L96.4 37.5L98.4 35.4L100.1 34.4L101.9 36.5L104.4 34.1L104.3 32.4L103.6 32.2L102.3 29.1L102.3 27.4L104.0 24.0L98.4 21.4L93.2 20.5L91.5 18.9L90.7 17.3L90.7 15.7L91.5 14.9L93.2 14.6L96.7 16.4L99.4 15.7L100.1 14.2L101.9 14.2L103.4 15.7L105.3 16.6L107.1 18.6L108.8 19.3L112.2 18.9L113.8 20.7L112.5 22.4L110.2 24.0L107.0 25.7L105.5 32.4L107.1 35.5L107.4 39.1L106.3 40.8L105.3 41.3L103.6 41.1ZM137.4 40.8L134.7 39.2L133.0 37.3L131.2 37.0L130.3 37.5L129.5 39.9L127.8 40.4L126.9 39.1L129.1 34.1L133.1 32.4L133.8 29.1L138.5 25.7L139.1 24.0L138.8 22.4L138.1 21.4L136.4 21.2L134.7 22.8L131.2 24.1L129.5 24.1L127.8 21.6L125.5 20.7L123.1 19.0L123.9 17.3L122.6 14.0L123.1 12.3L124.3 11.0L125.4 14.0L125.2 15.7L126.5 17.3L129.5 19.6L131.2 20.1L134.7 20.1L136.4 19.0L137.7 17.3L141.6 14.8L144.1 12.3L145.0 10.7L146.8 10.0L148.5 10.0L150.2 12.3L150.1 14.0L147.4 17.3L146.7 19.0L147.1 20.7L148.5 21.8L151.9 21.9L152.5 22.4L153.3 24.0L153.3 25.7L151.9 27.7L150.2 27.7L146.8 25.2L145.0 25.8L140.3 29.1L140.6 32.4L139.9 34.0L137.5 35.8L138.6 40.8L138.1 41.8ZM163.3 40.8L163.9 39.1L165.8 38.3L168.7 39.1L169.4 40.8L169.2 41.5L167.5 42.3L164.0 41.5ZM58.0 39.1L58.0 35.8L58.7 35.0L60.4 34.1L62.2 34.5L64.0 35.8L63.9 37.7L62.2 40.0L58.7 40.1ZM250.2 39.1L248.8 35.8L250.4 35.3L251.8 35.8L252.0 37.5L250.4 39.7ZM278.7 37.5L279.7 35.5L280.1 35.8L280.2 37.5L279.7 38.1ZM3.8 35.8L2.6 34.1L5.2 31.3L6.9 30.5L7.4 30.8L8.4 32.4L7.4 35.8L6.9 37.1L5.2 37.1ZM113.2 35.8L110.7 32.4L111.4 30.8L115.7 30.5L119.1 25.8L120.9 25.4L122.0 27.4L121.5 29.1L119.1 31.3L117.4 31.1L116.4 32.4L116.3 35.8L115.7 37.4L114.0 36.7ZM292.5 35.8L295.3 33.2L295.7 35.8L295.3 36.4L293.5 36.9ZM18.8 34.1L18.1 32.4L16.2 30.8L15.3 29.1L15.8 27.4L17.3 27.0L24.0 30.8L24.4 32.4L24.1 34.1L20.7 35.1L19.0 34.4ZM33.5 34.1L33.6 32.4L36.3 31.1L40.3 27.4L41.4 24.0L43.2 23.3L45.1 24.0L45.9 25.7L45.6 27.4L43.2 31.5L41.4 32.8L34.5 34.7ZM232.4 34.1L232.9 32.4L234.3 32.4L234.0 34.1L233.1 34.6ZM286.1 34.1L283.2 31.3L281.4 31.8L278.0 29.1L276.7 27.4L276.0 25.7L274.5 24.5L271.1 23.1L269.4 23.6L266.6 25.7L265.7 29.1L265.9 29.5L269.4 30.0L270.1 30.8L270.2 32.4L269.4 33.4L267.6 33.3L265.9 31.9L264.2 31.7L262.5 32.1L260.7 31.5L259.1 29.1L257.3 28.3L256.6 27.4L255.5 23.9L253.8 23.1L248.6 22.9L246.0 27.4L240.0 31.1L236.9 30.8L236.3 27.4L234.8 25.2L227.9 28.6L224.5 28.3L221.0 31.0L217.6 29.2L214.1 28.7L213.3 27.4L214.0 24.0L212.4 22.9L205.5 23.4L205.2 24.0L198.6 27.1L196.8 26.8L189.3 22.4L188.6 20.7L189.9 18.6L195.0 15.7L193.5 14.0L193.3 12.3L195.1 9.7L196.8 9.8L198.6 12.6L200.3 12.4L202.0 11.2L203.7 11.5L204.3 12.3L204.5 14.0L203.7 15.9L202.0 16.7L198.6 15.3L195.8 17.3L196.9 19.0L198.6 20.3L202.0 19.8L205.5 22.1L207.2 21.8L210.7 17.2L212.4 16.9L215.8 19.4L217.6 19.9L219.3 17.3L224.2 15.7L226.2 14.0L224.6 10.6L226.2 8.0L233.1 7.5L234.3 8.9L235.7 12.3L238.3 15.7L241.7 18.5L242.5 15.7L241.7 14.7L238.0 12.3L237.3 10.6L237.9 8.9L240.0 7.3L241.7 8.2L242.1 10.6L243.5 13.0L246.9 13.2L248.6 15.0L249.3 17.3L250.4 18.1L252.1 17.4L253.8 17.7L255.5 18.9L256.7 17.3L256.5 15.7L255.1 12.3L255.3 10.6L257.3 9.3L259.0 9.3L262.3 10.6L262.5 14.4L264.2 16.4L265.9 17.2L269.4 17.8L274.5 20.6L276.3 22.1L279.7 21.1L281.4 21.8L282.0 22.4L281.9 25.7L286.6 30.7L288.4 31.4L289.3 32.4L288.4 34.4L286.6 34.6ZM48.1 32.4L50.1 31.4L51.2 32.4L50.1 33.6L48.3 32.7ZM73.6 32.4L72.7 30.8L72.6 25.7L71.9 24.0L70.8 23.2L67.3 24.4L63.9 22.1L62.2 22.1L60.4 22.7L57.8 19.0L58.7 17.3L65.6 14.4L67.3 15.3L69.1 18.3L74.2 20.1L77.7 24.3L79.4 24.5L81.2 23.0L82.9 22.4L85.4 24.0L84.6 28.2L82.9 29.2L79.4 28.0L77.7 30.9L76.0 32.4L74.2 32.9ZM170.4 30.8L170.9 28.2L172.7 26.9L173.7 27.4L174.1 29.1L173.8 30.8L172.7 32.1L170.9 31.5ZM59.1 29.1L57.3 25.7L58.7 23.9L60.4 27.3L60.4 29.6ZM158.1 27.4L157.7 25.7L158.4 24.0L158.9 23.6L160.6 24.1L161.8 25.7L161.5 27.4L160.6 28.6L158.9 28.2ZM290.2 27.4L289.7 25.7L291.8 22.9L293.5 22.0L295.3 22.8L296.0 24.0L295.7 25.7L293.5 28.0L291.8 28.6ZM173.7 25.7L173.5 22.4L172.7 21.0L170.9 19.7L168.7 19.0L168.2 17.3L170.9 17.1L174.4 17.9L177.8 20.4L179.1 20.7L179.4 22.4L178.5 24.0L176.8 25.7L174.4 26.9ZM87.9 24.0L87.9 22.4L89.8 21.3L91.5 21.1L92.4 22.4L91.5 25.0L89.8 25.3L88.1 24.1ZM15.3 22.4L14.7 20.7L15.5 19.4L19.0 17.9L20.0 19.0L19.3 20.7L15.5 22.4ZM181.8 22.4L179.8 20.7L181.3 19.8L183.0 19.5L184.8 20.7L184.6 22.4L183.0 22.8ZM29.0 20.7L29.6 20.7L29.4 21.4ZM163.9 19.0L162.3 17.3L164.0 17.0L166.4 17.3L166.7 19.0L164.0 19.1ZM283.7 19.0L280.2 15.7L280.5 14.0L283.2 13.8L286.6 12.6L288.4 12.9L289.1 14.0L288.4 17.7L286.6 19.9L284.9 19.9ZM52.9 17.3L52.4 15.7L53.5 14.3L55.3 15.6L56.1 17.3L53.5 17.8ZM76.9 17.3L76.0 17.0L75.3 15.7L76.0 13.0L76.7 12.3L81.2 12.0L82.9 9.8L84.6 8.5L86.3 8.4L87.1 8.9L86.3 11.8L84.6 12.9L81.2 12.8L79.8 15.7L77.7 17.5ZM33.8 15.7L32.8 14.7L31.1 14.7L30.6 14.0L31.1 13.2L32.8 12.8L34.5 13.6L37.1 12.3L38.0 11.0L39.1 10.6L39.7 9.2L39.8 10.6L45.7 14.0L46.4 15.7L44.9 16.4L41.4 14.5L39.7 14.4L36.3 16.4L34.5 15.9ZM271.9 14.0L273.9 10.6L273.2 8.9L271.3 7.3L271.1 6.2L269.4 6.4L266.9 8.9L265.9 10.8L263.5 10.6L264.2 10.2L265.8 5.6L267.6 3.6L269.4 3.1L271.1 4.2L272.8 3.2L274.5 3.6L276.3 5.6L276.0 8.9L277.3 12.3L274.5 13.9L272.8 14.4ZM177.7 12.3L177.2 10.6L177.8 10.0L178.8 10.6L177.8 12.4ZM213.2 12.3L212.9 10.6L213.2 7.3L217.6 6.2L219.3 6.5L219.9 8.9L219.3 10.6L215.8 12.6L214.1 12.9ZM48.0 10.6L48.3 9.3L48.8 10.6L48.3 11.3ZM97.8 8.9L98.4 7.0L100.1 7.3L100.5 8.9L100.1 9.9L98.4 10.5ZM288.3 8.9L290.1 8.9L288.4 9.0ZM12.0 7.3L13.8 6.6L14.4 7.3L13.8 8.1L12.1 7.5ZM113.3 3.9L111.3 2.2L111.3 0.6L112.2 -1.1L114.0 -0.5L115.8 2.2L116.0 3.9L114.0 4.3ZM193.2 3.9L194.7 3.9L193.4 4.4ZM97.0 2.2L96.7 0.6L98.4 0.1L99.1 0.6L100.0 2.2L98.4 3.7ZM-1.3 45.9L-1.7 42.3L-1.7 47.3ZM312.5 29.5L312.5 27.4L312.2 29.1ZM241.7 22.6L243.5 22.8L246.7 20.7L243.5 19.0L241.7 19.2L241.1 20.7L241.4 22.4ZM248.6 20.6L249.2 19.0L248.6 18.2L248.0 19.0ZM312.5 19.8L312.5 13.5L310.4 15.7L311.4 19.0Z"/>
<path fill="#ace4d6" d="M127.8 66.3L129.5 66.6L131.2 66.2L131.9 64.3L129.5 63.2L127.8 63.3L126.9 64.3L127.2 66.0ZM77.7 52.7L78.2 50.9L77.7 50.4L76.3 50.9L77.1 52.6ZM62.2 51.7L63.9 51.7L65.6 50.7L69.1 46.5L72.5 46.2L74.2 44.6L74.9 42.5L74.9 40.8L74.2 39.7L69.1 39.3L67.3 40.4L66.2 44.2L60.9 47.5L60.1 49.2L61.1 50.9ZM13.8 49.7L16.8 49.2L18.2 47.5L15.5 45.1L13.8 46.3L13.3 49.2ZM186.5 48.1L189.9 44.5L191.7 44.2L196.8 45.9L203.7 45.1L208.9 42.3L210.7 41.8L214.1 41.9L215.8 41.3L219.3 38.2L221.0 38.4L222.7 39.4L224.5 39.5L226.2 38.6L226.7 37.5L226.6 35.8L226.2 35.1L224.5 34.6L221.0 35.8L217.6 32.6L215.8 32.4L214.1 33.0L212.4 33.0L210.7 32.0L208.1 29.1L205.5 28.1L203.7 28.0L198.6 30.6L195.1 29.9L191.7 27.9L189.9 28.8L188.9 32.4L188.2 33.0L184.8 32.6L183.0 33.0L181.3 34.1L181.0 37.5L182.4 40.8L181.7 44.2L185.0 47.5ZM195.4 42.5L188.2 41.2L187.6 39.1L190.1 35.8L193.4 33.3L195.1 32.8L203.7 31.7L205.5 31.9L212.2 35.8L212.9 37.5L211.3 39.1L205.5 42.1L196.8 42.9ZM174.4 44.6L176.3 42.5L176.1 41.8L174.4 40.9L173.3 42.5L174.0 44.2ZM293.5 36.9L295.3 36.4L295.7 35.8L295.3 33.2L292.5 35.8ZM15.5 22.4L19.3 20.7L20.0 19.0L19.0 17.9L15.5 19.4L14.7 20.7L15.3 22.4Z"/>
<path fill="#6cbaaa" d="M196.8 42.9L205.5 42.1L211.3 39.1L212.9 37.5L212.2 35.8L205.5 31.9L203.7 31.7L195.1 32.8L193.4 33.3L190.1 35.8L187.6 39.1L188.2 41.2L195.4 42.5ZM193.1 39.1L192.0 37.5L194.0 35.8L200.3 34.2L207.2 35.3L208.4 35.8L209.2 37.5L205.5 40.1L202.0 40.8L198.6 40.7L193.4 39.2Z"/>
<path fill="#3e8a7a" d="M193.4 39.2L198.6 40.7L202.0 40.8L205.5 40.1L209.2 37.5L208.4 35.8L207.2 35.3L200.3 34.2L194.0 35.8L192.0 37.5L193.1 39.1Z"/>
<path fill="#fff" d="M86.3 16.2L105.8 17.0L106.6 12.3L105.3 8.1L95.0 6.7L84.6 11.2ZM76.0 48.4L79.4 46.1L82.4 48.1L79.4 48.6ZM79.6 53.7L80.7 49.2L81.8 50.3L80.8 53.7ZM82.9 49.2L85.0 49.8L84.9 52.3L83.3 51.4ZM83.3 54.1L87.2 52.7L86.3 53.3ZM86.5 52.2L89.6 51.4L89.4 52.2ZM69.9 44.2L71.2 40.3L72.1 41.2L71.0 44.3ZM47.5 27.7L52.7 25.7L53.5 27.4L50.1 28.2ZM54.4 32.4L61.3 30.4L60.4 31.3L57.0 32.5ZM205.9 49.2L208.5 48.3L208.1 51.4L205.9 50.9Z"/>
</g></g>
<g clip-path="url(#boxclip)">
<use href="#coast"/>
</g>
<rect x="189.9" y="28.0" width="17.3" height="22.4" fill="none" stroke="#ee2d23" stroke-width="1.2"/>
<use href="#frame"/>
</g>
<text x="364.6" y="95.8" font-size="8.20" text-anchor="middle" font-weight="normal" textLength="19.4" lengthAdjust="spacingAndGlyphs" fill="#262626">180°</text>
<text x="416.4" y="95.8" font-size="8.20" text-anchor="middle" font-weight="normal" textLength="27.2" lengthAdjust="spacingAndGlyphs" fill="#262626">120°W</text>
<text x="468.2" y="95.8" font-size="8.20" text-anchor="middle" font-weight="normal" textLength="22.0" lengthAdjust="spacingAndGlyphs" fill="#262626">60°W</text>
<text x="520.0" y="95.8" font-size="8.20" text-anchor="middle" font-weight="normal" textLength="17.0" lengthAdjust="spacingAndGlyphs" fill="#262626">0°W</text>
<text x="571.8" y="95.8" font-size="8.20" text-anchor="middle" font-weight="normal" textLength="19.0" lengthAdjust="spacingAndGlyphs" fill="#262626">60°E</text>
<text x="623.6" y="95.8" font-size="8.20" text-anchor="middle" font-weight="normal" textLength="25.0" lengthAdjust="spacingAndGlyphs" fill="#262626">120°E</text>
<text x="675.4" y="95.8" font-size="8.20" text-anchor="middle" font-weight="normal" textLength="19.4" lengthAdjust="spacingAndGlyphs" fill="#262626">180°</text>
<text x="365.0" y="10.7" font-size="13.60" text-anchor="start" font-weight="normal" textLength="16.4" lengthAdjust="spacingAndGlyphs" stroke="#000" stroke-width="0.55">(b)</text>
<text x="520.2" y="9.8" font-size="10.20" text-anchor="middle" font-weight="bold" textLength="150.4" lengthAdjust="spacingAndGlyphs" >EEU SM_wet20 — SM_mean</text>
<g transform="translate(35.2 143.1)">
<g clip-path="url(#boxclip)"><g>
<path fill="#2c5286" d="M214.1 49.7L215.8 47.5L215.9 45.9L215.4 44.2L214.1 43.5L212.5 45.9L213.8 49.2Z"/>
<path fill="#4a86ba" d="M219.3 62.7L221.0 63.0L222.4 60.9L222.3 59.3L221.0 57.5L219.3 58.0L218.5 59.3L218.4 60.9L219.2 62.6ZM215.8 56.0L217.6 54.2L219.3 45.7L221.0 44.3L222.7 44.1L221.3 47.5L222.7 48.4L224.5 48.0L227.9 43.7L230.1 42.5L233.1 42.2L234.8 41.5L236.8 39.1L237.4 37.5L236.6 35.7L233.1 34.1L229.6 33.4L228.5 32.4L224.5 32.1L222.7 33.0L219.3 36.4L214.1 37.5L211.1 44.2L211.0 45.9L212.4 53.6L214.1 55.6L215.6 55.9ZM213.8 49.2L212.5 45.9L214.1 43.5L215.4 44.2L215.9 45.9L215.8 47.5L214.1 49.7ZM88.1 54.4L88.5 52.6L86.3 52.2L85.9 52.6L87.2 54.2Z"/>
<path fill="#7ab2d0" d="M219.3 64.3L221.0 64.7L223.1 62.6L223.7 60.9L223.7 57.6L225.9 52.6L227.9 51.2L233.1 50.0L237.1 45.9L237.6 42.5L241.0 37.5L239.8 32.4L235.9 29.1L234.8 28.6L233.1 28.9L229.6 28.4L226.2 29.5L222.7 29.5L220.2 30.8L217.6 33.7L215.8 32.4L214.1 32.5L212.4 34.6L210.7 39.1L209.8 44.2L210.7 53.7L212.0 57.6L213.1 59.3L214.1 60.1L215.8 60.5L217.3 62.6L219.2 64.3ZM219.2 62.6L218.4 60.9L218.5 59.3L219.3 58.0L221.0 57.5L222.3 59.3L222.4 60.9L221.0 63.0L219.3 62.7ZM215.6 55.9L214.1 55.6L212.4 53.6L211.0 45.9L211.1 44.2L214.1 37.5L219.3 36.4L222.7 33.0L224.5 32.1L228.5 32.4L229.6 33.4L233.1 34.1L236.6 35.7L237.4 37.5L236.8 39.1L234.8 41.5L233.1 42.2L230.1 42.5L227.9 43.7L224.5 48.0L222.7 48.4L221.3 47.5L222.7 44.1L221.0 44.3L219.3 45.7L217.6 54.2L215.8 56.0ZM146.8 60.5L148.5 60.9L151.9 59.4L153.7 57.6L154.4 55.9L153.7 53.2L151.5 50.9L153.3 49.2L154.0 47.5L151.8 40.8L151.9 36.3L151.0 35.8L150.2 35.8L149.3 37.5L147.8 42.5L148.5 45.9L148.0 47.5L148.2 49.2L149.7 50.9L145.2 55.9L144.9 57.6L145.7 59.3ZM86.3 56.3L89.8 56.7L91.5 56.0L93.2 54.3L93.3 52.6L88.1 49.1L84.6 48.2L82.9 48.4L81.5 50.9L81.3 52.6L82.5 54.2L85.6 55.9ZM87.2 54.2L85.9 52.6L86.3 52.2L88.5 52.6L88.1 54.4Z"/>
<path fill="#b6d9e6" d="M219.3 66.0L221.0 66.6L222.7 65.7L224.5 62.6L225.4 59.3L227.9 56.4L229.6 55.8L233.1 55.7L238.4 52.6L237.7 50.9L238.0 49.2L241.6 44.2L242.7 40.8L245.2 38.0L245.7 34.1L245.2 30.5L241.7 30.2L240.4 29.1L238.0 25.7L236.6 25.2L233.1 26.1L229.6 25.5L226.2 26.8L222.7 25.5L221.0 25.5L217.6 26.9L215.8 26.9L212.1 29.1L210.1 35.8L208.7 44.2L209.5 55.9L209.2 57.6L209.9 59.3L213.0 62.6L214.1 65.0L215.8 65.9L217.6 65.6L219.0 66.0ZM219.2 64.3L217.3 62.6L215.8 60.5L214.1 60.1L213.1 59.3L212.0 57.6L210.7 53.7L209.8 44.2L210.7 39.1L212.4 34.6L214.1 32.5L215.8 32.4L217.6 33.7L220.2 30.8L222.7 29.5L226.2 29.5L229.6 28.4L233.1 28.9L234.8 28.6L235.9 29.1L239.8 32.4L241.0 37.5L237.6 42.5L237.1 45.9L233.1 50.0L227.9 51.2L225.9 52.6L223.7 57.6L223.7 60.9L223.1 62.6L221.0 64.7L219.3 64.3ZM145.0 63.0L146.8 64.2L148.5 64.0L151.9 62.5L157.1 58.0L158.0 55.9L157.4 54.2L158.9 51.5L159.5 49.2L158.7 47.5L157.0 45.9L155.8 42.5L154.6 40.8L153.5 34.1L151.9 33.0L150.2 33.3L147.3 35.8L145.2 39.1L144.4 42.5L143.3 44.0L141.6 44.7L141.3 45.9L143.7 50.9L143.9 52.6L141.8 55.9L141.7 57.6L142.2 59.3L144.7 62.6ZM145.7 59.3L144.9 57.6L145.2 55.9L149.7 50.9L148.2 49.2L148.0 47.5L148.5 45.9L147.8 42.5L149.3 37.5L150.2 35.8L151.0 35.8L151.9 36.3L151.8 40.8L154.0 47.5L153.3 49.2L151.5 50.9L153.7 53.2L154.4 55.9L153.7 57.6L151.9 59.4L148.5 60.9L146.8 60.5ZM112.2 61.4L113.5 59.3L112.7 57.6L112.0 57.6L110.2 59.3L111.5 60.9ZM89.8 59.8L93.2 59.2L95.0 58.0L96.7 54.8L97.7 54.2L97.1 52.6L95.7 50.9L91.5 49.1L88.1 45.9L86.3 45.2L82.9 42.8L71.2 47.5L71.4 49.2L73.3 52.6L74.9 54.2L77.7 55.5L82.9 56.5L88.5 59.3ZM85.6 55.9L82.5 54.2L81.3 52.6L81.5 50.9L82.9 48.4L84.6 48.2L88.1 49.1L93.3 52.6L93.2 54.3L91.5 56.0L89.8 56.7L86.3 56.3ZM12.1 57.0L13.2 55.9L12.1 55.2L12.0 55.9ZM303.9 36.8L305.6 36.0L306.0 34.1L305.6 33.7L303.9 33.7L303.3 34.1L303.1 35.8ZM3.5 32.6L3.9 32.4L4.2 30.8L3.5 30.5L2.0 30.8L2.8 32.4ZM217.6 22.7L219.3 23.0L220.3 20.7L219.3 19.9L218.3 20.7L217.5 22.4ZM221.0 19.5L222.7 18.8L226.2 18.9L227.9 18.1L229.6 16.1L231.4 15.2L234.8 14.6L235.5 14.0L235.7 10.6L234.8 9.1L233.1 8.9L229.6 9.6L227.9 8.9L226.0 8.9L224.6 10.6L224.5 12.3L222.7 13.1L222.4 12.3L222.7 8.9L219.3 7.3L217.6 6.9L215.2 7.3L214.7 12.3L215.8 13.8L219.8 15.7L220.6 17.3L220.7 19.0ZM208.9 17.6L209.3 17.3L208.9 16.6L208.5 17.3ZM205.5 16.1L206.8 15.7L205.5 13.2L204.2 14.0L204.1 15.7ZM297.0 15.7L298.7 16.1L300.4 15.6L302.1 14.0L302.2 12.3L300.5 10.6L297.0 9.4L295.3 11.5L293.5 11.9L292.5 10.6L291.8 10.3L291.4 10.6L291.0 12.3L291.8 13.0L293.5 12.6L297.0 15.7ZM245.2 14.2L246.9 14.1L252.1 15.2L259.0 13.6L260.7 14.0L264.2 13.8L265.9 14.6L267.6 14.6L269.2 14.0L270.4 12.3L269.4 10.5L267.6 10.0L260.7 9.9L255.5 10.4L252.1 9.8L250.4 9.9L248.7 10.6L247.2 12.3L246.9 13.4L246.7 10.6L245.2 9.6L241.7 9.6L239.7 12.3L240.0 13.6L241.7 13.3L244.3 14.0ZM19.0 12.5L21.9 12.3L22.4 11.8L22.6 12.3L25.9 13.0L29.4 12.7L30.0 12.3L29.9 10.6L29.4 10.3L25.9 11.4L24.2 11.4L20.7 9.9L19.0 9.9L17.1 10.6L17.9 12.3ZM281.4 13.4L283.2 13.9L284.9 13.0L285.4 12.3L284.9 10.5L283.2 9.9L281.4 10.1L280.4 10.6L279.8 12.3ZM276.3 11.2L278.0 10.6L276.3 8.7L275.5 10.6Z"/>
<path fill="#e4eff4" d="M0.0 68.8L1.7 65.8L3.5 65.4L6.9 69.0L10.4 68.2L11.2 67.7L12.1 65.6L13.8 65.0L15.2 66.0L16.3 67.7L15.6 69.3L36.0 69.3L30.7 67.7L28.4 66.0L27.7 62.6L28.3 60.9L28.0 59.3L29.4 58.7L30.0 59.3L30.2 60.9L31.2 62.6L32.9 64.3L36.3 65.9L36.8 67.7L36.6 69.3L46.4 69.3L46.6 68.6L47.2 69.3L52.8 69.3L52.5 67.7L50.1 66.3L47.8 66.0L46.3 62.6L44.9 61.7L43.2 62.4L42.1 60.9L43.6 57.6L43.2 57.2L41.4 56.8L38.0 58.6L36.9 55.9L39.1 50.9L38.1 49.2L36.3 48.4L34.5 46.5L32.0 45.9L32.2 42.5L31.1 40.4L24.2 40.7L23.3 39.1L20.7 37.7L17.3 37.3L15.5 36.3L13.8 33.2L10.4 32.3L8.8 30.8L9.3 27.4L8.6 23.7L6.9 22.5L5.2 22.2L4.4 20.7L6.9 18.3L10.4 16.9L11.7 17.3L12.1 19.2L15.5 19.8L17.3 19.4L20.7 16.2L22.4 16.2L24.1 17.3L25.9 20.2L29.4 17.9L32.8 17.7L36.3 15.5L39.7 16.3L41.4 13.8L46.6 12.3L44.9 10.3L43.2 10.0L37.2 7.3L35.3 5.6L34.5 3.5L32.8 2.6L32.1 3.9L31.1 4.6L29.4 5.3L27.6 5.1L25.5 3.9L24.2 0.4L20.7 0.7L17.9 5.6L13.8 8.3L12.1 11.5L10.4 11.1L8.6 9.2L5.2 6.8L1.7 6.2L-1.7 5.0L-1.7 58.0L-0.4 54.2L3.5 51.0L5.2 50.9L7.8 52.6L8.8 54.2L8.9 55.9L8.6 58.7L6.9 60.3L3.5 60.6L0.0 60.1L-1.7 61.7L-1.7 68.6ZM20.2 64.3L19.3 62.6L20.7 61.5L22.4 61.8L23.5 62.6L22.4 64.7L20.7 65.0ZM12.0 55.9L12.1 55.2L13.2 55.9L12.1 57.0ZM1.5 42.5L1.7 41.5L2.8 42.5L1.7 42.9ZM2.8 32.4L2.0 30.8L3.5 30.5L4.2 30.8L3.9 32.4L3.5 32.6ZM4.8 25.7L5.2 25.1L6.9 25.7L5.2 26.1ZM11.6 15.7L12.1 14.7L12.6 15.7L12.1 17.0ZM17.9 12.3L17.1 10.6L19.0 9.9L20.7 9.9L24.2 11.4L25.9 11.4L29.4 10.3L29.9 10.6L30.0 12.3L29.4 12.7L25.9 13.0L22.6 12.3L22.4 11.8L21.9 12.3L19.0 12.5ZM93.2 68.3L95.0 68.6L96.7 67.2L98.4 66.7L100.1 66.8L102.4 67.7L101.5 69.3L124.8 69.3L126.0 67.9L127.8 68.4L129.1 69.3L131.7 69.3L130.6 66.0L131.2 64.1L133.2 64.3L134.9 66.0L136.9 69.3L149.1 69.3L151.9 66.7L160.6 67.8L162.0 67.7L162.2 66.0L161.1 64.3L160.3 60.9L162.1 55.9L162.6 47.5L159.3 40.8L157.1 38.8L155.7 32.4L149.9 25.7L149.2 24.0L149.4 22.4L153.1 19.0L152.9 15.7L154.3 14.0L154.7 10.6L157.1 9.3L158.9 9.4L160.6 7.7L161.9 5.6L161.0 3.9L158.9 3.4L155.4 1.7L153.7 4.4L152.9 7.3L151.9 9.1L148.5 8.1L143.3 9.5L142.4 10.6L142.9 14.0L141.6 17.3L136.4 17.7L134.7 19.2L131.2 23.7L124.3 24.7L123.2 25.7L124.1 27.4L122.6 28.6L120.9 28.3L119.1 28.9L117.4 32.8L114.0 34.1L111.4 35.8L112.2 36.0L113.2 37.5L119.9 44.2L120.4 45.9L119.6 47.5L122.4 50.9L121.6 52.6L117.4 54.8L110.5 55.2L103.6 54.8L103.2 54.2L103.4 52.6L105.3 49.9L106.7 49.2L106.6 47.5L105.3 46.8L101.9 48.4L98.4 48.5L93.2 47.0L89.8 41.7L84.8 39.1L85.8 34.1L85.6 32.4L84.6 30.1L82.9 28.5L81.2 28.7L78.6 30.8L77.5 32.4L78.0 34.1L76.6 37.5L76.5 39.1L75.5 40.8L72.5 43.5L67.3 46.1L64.6 49.2L63.3 52.6L64.2 54.2L70.8 55.8L74.2 55.8L77.7 57.5L82.9 59.1L85.1 60.9L86.3 63.2L89.8 65.2L92.6 67.7ZM117.8 64.3L118.0 62.6L121.5 62.6L121.8 64.3L119.1 65.6ZM144.7 62.6L142.2 59.3L141.7 57.6L141.8 55.9L143.9 52.6L143.7 50.9L141.3 45.9L141.6 44.7L143.3 44.0L144.4 42.5L145.2 39.1L147.3 35.8L150.2 33.3L151.9 33.0L153.5 34.1L154.6 40.8L155.8 42.5L157.0 45.9L158.7 47.5L159.5 49.2L158.9 51.5L157.4 54.2L158.0 55.9L157.1 58.0L151.9 62.5L148.5 64.0L146.8 64.2L145.0 63.0ZM111.5 60.9L110.2 59.3L112.0 57.6L112.7 57.6L113.5 59.3L112.2 61.4ZM88.5 59.3L82.9 56.5L77.7 55.5L74.9 54.2L73.3 52.6L71.4 49.2L71.2 47.5L82.9 42.8L86.3 45.2L88.1 45.9L91.5 49.1L95.7 50.9L97.1 52.6L97.7 54.2L96.7 54.8L95.0 58.0L93.2 59.2L89.8 59.8ZM140.9 22.4L141.6 21.1L143.3 20.1L144.9 20.7L143.9 22.4L141.6 23.9ZM167.5 69.3L169.3 69.3L167.5 68.8L165.8 69.3ZM212.4 69.3L216.6 69.3L217.6 68.8L220.5 69.3L226.7 69.3L231.9 66.0L231.4 64.8L227.9 64.9L227.3 64.3L227.6 60.9L228.2 59.3L236.6 56.6L241.5 55.9L243.7 54.2L242.3 50.9L242.0 49.2L246.9 45.4L247.3 44.2L246.4 42.5L246.6 40.8L250.4 33.4L251.8 29.1L250.7 27.4L243.5 24.6L241.7 23.1L237.2 22.4L237.6 20.7L241.7 17.7L243.5 17.4L245.2 19.1L248.6 17.8L252.1 18.5L255.5 17.5L260.7 18.8L264.2 18.0L271.1 17.6L274.5 19.4L279.7 19.3L283.2 19.8L286.6 19.3L288.4 19.6L290.1 21.0L293.5 20.0L298.7 19.4L302.2 19.5L305.6 20.4L309.1 19.6L310.7 20.7L309.1 22.0L303.9 23.5L300.4 23.8L296.4 27.4L297.2 29.1L295.3 30.0L294.0 32.4L295.1 35.8L295.2 39.1L294.8 40.8L293.5 42.6L291.8 42.4L290.4 40.8L290.4 35.8L291.1 32.4L290.1 31.9L288.3 32.4L286.0 34.1L284.1 40.8L284.9 44.2L286.6 43.9L287.8 47.5L290.1 48.3L293.5 48.3L294.5 49.2L294.2 50.9L295.3 53.4L298.7 54.2L300.4 53.7L302.2 55.3L303.9 58.8L305.6 58.0L307.3 56.0L310.6 59.3L310.8 60.1L311.1 59.3L312.5 58.2L312.5 5.3L310.8 6.3L309.1 6.2L307.3 5.5L303.9 2.5L302.2 3.0L300.4 4.7L298.7 5.0L290.1 4.3L286.6 2.0L284.9 2.3L281.4 5.0L279.7 4.9L276.3 3.5L274.5 3.6L271.1 4.9L267.6 5.4L264.2 4.4L260.7 6.4L259.0 6.4L257.1 5.6L256.4 3.9L255.5 3.1L253.8 2.7L252.1 3.9L248.6 2.4L246.9 2.2L243.5 2.8L241.7 4.0L238.3 4.2L234.8 5.7L231.4 4.5L224.5 6.1L222.7 5.6L219.3 3.4L215.8 2.9L212.4 1.7L208.9 2.7L200.3 3.1L196.8 4.2L193.4 3.1L191.7 3.5L189.9 6.3L186.5 8.4L184.4 10.6L183.0 11.4L181.3 11.0L179.6 8.9L177.8 4.9L176.1 5.1L170.9 7.1L167.5 5.2L166.9 5.6L164.0 9.7L160.6 11.5L159.5 15.7L159.9 17.3L165.8 18.5L168.1 17.3L169.2 15.8L172.7 15.1L176.1 15.7L179.6 15.6L184.8 15.1L188.2 13.8L191.7 16.3L193.4 16.4L196.8 14.7L198.6 15.2L202.0 18.9L205.5 19.6L210.7 23.8L212.4 23.7L212.8 24.0L210.7 26.4L209.5 29.1L207.6 44.2L207.8 54.2L206.8 59.3L210.7 64.8L212.0 67.7ZM219.0 66.0L217.6 65.6L215.8 65.9L214.1 65.0L213.0 62.6L209.9 59.3L209.2 57.6L209.5 55.9L208.7 44.2L210.1 35.8L212.1 29.1L215.8 26.9L217.6 26.9L221.0 25.5L222.7 25.5L226.2 26.8L229.6 25.5L233.1 26.1L236.6 25.2L238.0 25.7L240.4 29.1L241.7 30.2L245.2 30.5L245.7 34.1L245.2 38.0L242.7 40.8L241.6 44.2L238.0 49.2L237.7 50.9L238.4 52.6L233.1 55.7L229.6 55.8L227.9 56.4L225.4 59.3L224.5 62.6L222.7 65.7L221.0 66.6L219.3 66.0ZM303.1 35.8L303.3 34.1L303.9 33.7L305.6 33.7L306.0 34.1L305.6 36.0L303.9 36.8ZM217.5 22.4L218.3 20.7L219.3 19.9L220.3 20.7L219.3 23.0L217.6 22.7ZM220.7 19.0L220.6 17.3L219.8 15.7L215.8 13.8L214.7 12.3L215.2 7.3L217.6 6.9L219.3 7.3L222.7 8.9L222.4 12.3L222.7 13.1L224.5 12.3L224.6 10.6L226.0 8.9L227.9 8.9L229.6 9.6L233.1 8.9L234.8 9.1L235.7 10.6L235.5 14.0L234.8 14.6L231.4 15.2L229.6 16.1L227.9 18.1L226.2 18.9L222.7 18.8L221.0 19.5ZM208.5 17.3L208.9 16.6L209.3 17.3L208.9 17.6ZM204.1 15.7L204.2 14.0L205.5 13.2L206.8 15.7L205.5 16.1ZM297.0 15.7L293.5 12.6L291.8 13.0L291.0 12.3L291.4 10.6L291.8 10.3L292.5 10.6L293.5 11.9L295.3 11.5L297.0 9.4L300.5 10.6L302.2 12.3L302.1 14.0L300.4 15.6L298.7 16.1L297.0 15.7ZM165.7 14.0L169.2 11.6L169.2 14.1L167.5 14.6L165.8 14.0ZM244.3 14.0L241.7 13.3L240.0 13.6L239.7 12.3L241.7 9.6L245.2 9.6L246.7 10.6L246.9 13.4L247.2 12.3L248.7 10.6L250.4 9.9L252.1 9.8L255.5 10.4L260.7 9.9L267.6 10.0L269.4 10.5L270.4 12.3L269.2 14.0L267.6 14.6L265.9 14.6L264.2 13.8L260.7 14.0L259.0 13.6L252.1 15.2L246.9 14.1L245.2 14.2ZM279.8 12.3L280.4 10.6L281.4 10.1L283.2 9.9L284.9 10.5L285.4 12.3L284.9 13.0L283.2 13.9L281.4 13.4ZM275.5 10.6L276.3 8.7L278.0 10.6L276.3 11.2ZM309.1 68.4L310.8 69.0L312.5 68.9L312.5 61.8L310.8 61.1L307.3 63.1L306.4 64.3L306.8 66.0L308.6 67.7ZM295.3 66.3L297.0 67.3L297.8 66.0L297.0 63.8L295.3 64.2L294.8 66.0ZM58.7 59.8L60.8 59.3L61.9 57.6L61.5 54.2L58.7 52.5L57.0 53.0L55.8 54.2L56.0 55.9L57.2 57.6L57.6 59.3ZM283.2 51.7L284.7 50.9L283.2 48.5L281.4 47.9L280.7 49.2L282.4 50.9ZM112.2 49.6L114.0 49.4L117.0 47.5L114.7 42.5L114.0 42.1L110.5 42.6L108.8 43.3L108.4 44.2L109.3 45.9L109.4 47.5L111.0 49.2ZM257.3 49.9L259.0 49.8L259.4 49.2L259.0 48.8L257.3 48.7L256.6 49.2ZM107.1 35.5L108.3 34.1L107.1 33.2L106.5 34.1ZM108.8 31.6L110.5 32.0L112.2 31.2L113.4 29.1L112.2 25.8L110.5 24.4L108.8 24.0L107.1 25.7L106.4 27.4L106.5 29.1L108.0 30.8ZM283.2 32.1L283.6 30.8L282.4 30.8ZM155.4 19.6L157.3 19.0L155.4 18.3L154.7 19.0ZM53.5 14.1L54.0 12.3L53.5 10.0L51.8 8.4L50.3 8.9L51.7 12.3L53.4 14.0ZM101.9 14.2L103.6 14.8L104.9 14.0L105.7 12.3L103.6 11.8L102.4 12.3L101.8 14.0ZM131.2 14.3L136.4 15.2L138.1 14.6L138.8 14.0L139.7 10.6L142.2 8.9L141.6 6.3L139.9 4.9L138.1 6.1L133.0 6.8L133.3 10.6L131.2 12.6L130.8 14.0ZM76.0 11.0L77.7 11.0L78.0 10.6L78.3 8.9L77.7 6.6L76.0 6.3L75.2 8.9L75.6 10.6ZM84.6 9.4L85.3 8.9L84.6 7.9L84.0 8.9ZM127.8 2.3L129.5 2.7L131.7 2.2L131.2 1.4L129.5 0.5L127.7 2.2ZM141.6 3.7L142.4 2.2L141.6 1.7L140.8 2.2ZM172.7 1.1L173.4 0.6L173.2 -1.1L171.1 -1.1L171.9 0.6ZM179.6 2.2L181.0 0.6L180.0 -1.1L179.2 -1.1L178.6 0.6ZM205.5 1.9L207.2 1.5L208.1 -1.1L205.0 -1.1L205.0 0.6ZM41.4 -0.3L43.2 -0.1L44.2 -1.1L41.2 -1.1ZM284.9 -0.3L285.7 -1.1L284.7 -1.1Z"/>
<path fill="#f3e8de" d="M0.0 69.3L15.6 69.3L16.3 67.7L15.2 66.0L13.8 65.0L12.1 65.6L11.2 67.7L10.4 68.2L6.9 69.0L3.5 65.4L1.7 65.8L0.0 68.8L-1.7 68.6L-1.7 69.3ZM31.1 67.8L36.6 69.3L36.8 67.7L36.3 65.9L32.9 64.3L31.2 62.6L30.2 60.9L30.0 59.3L29.4 58.7L28.0 59.3L28.3 60.9L27.7 62.6L27.8 64.3L28.4 66.0L30.7 67.7ZM46.6 69.3L47.2 69.3L46.6 68.6L46.4 69.3ZM53.5 69.3L73.9 69.3L70.8 68.4L69.1 68.6L67.5 67.7L65.6 65.6L63.2 64.3L62.5 62.6L63.1 60.9L65.6 57.4L67.3 57.7L69.1 59.0L70.8 59.2L72.5 58.0L74.2 58.0L77.7 59.7L81.4 64.3L82.7 67.7L84.6 69.3L101.5 69.3L102.4 67.7L100.1 66.8L96.7 67.2L95.0 68.6L93.2 68.3L89.8 65.2L86.3 63.2L85.1 60.9L82.9 59.1L77.7 57.5L74.2 55.8L70.8 55.8L64.2 54.2L63.3 52.6L63.7 50.9L64.6 49.2L67.6 45.9L72.5 43.5L75.5 40.8L76.5 39.1L76.6 37.5L78.0 34.1L77.5 32.4L78.6 30.8L81.2 28.7L82.9 28.5L84.6 30.1L85.6 32.4L85.8 34.1L84.8 39.1L89.8 41.7L93.2 47.0L98.4 48.5L101.9 48.4L105.3 46.8L106.6 47.5L106.7 49.2L105.3 49.9L103.4 52.6L103.2 54.2L103.6 54.8L115.7 55.0L117.4 54.8L120.9 53.0L121.6 52.6L122.4 50.9L119.6 47.5L120.4 45.9L119.9 44.2L113.2 37.5L112.2 36.0L111.4 35.8L114.0 34.1L117.4 32.8L119.1 28.9L120.9 28.3L122.6 28.6L124.1 27.4L123.2 25.7L124.3 24.7L131.2 23.7L134.7 19.2L136.4 17.7L141.6 17.3L142.9 14.0L142.4 10.6L143.3 9.5L148.5 8.1L151.9 9.1L152.9 7.3L153.7 4.4L155.4 1.7L158.9 3.4L161.0 3.9L161.9 5.6L158.9 9.4L157.1 9.3L154.7 10.6L154.3 14.0L152.9 15.7L153.1 19.0L149.4 22.4L149.2 24.0L149.9 25.7L155.7 32.4L157.1 38.8L159.3 40.8L162.6 47.5L162.1 55.9L160.3 60.9L161.1 64.3L162.2 66.0L162.0 67.7L160.6 67.8L151.9 66.7L149.1 69.3L165.8 69.3L167.5 68.8L169.3 69.3L183.7 69.3L182.5 67.7L179.6 67.0L176.1 68.9L175.2 67.7L175.8 66.0L174.5 64.3L172.7 63.9L170.9 62.6L169.9 60.9L165.5 59.3L165.0 54.2L166.0 49.2L166.0 45.9L165.9 44.2L164.0 39.1L164.9 35.8L164.0 33.6L162.0 32.4L162.4 30.8L164.0 29.1L163.9 27.4L160.1 25.7L160.3 24.0L162.3 22.6L164.0 21.8L165.8 21.6L169.2 19.4L172.7 18.5L174.4 19.4L176.1 19.3L177.8 17.7L179.6 17.4L183.0 17.8L191.7 20.7L196.8 20.0L198.6 20.6L200.3 21.8L203.7 22.8L206.2 25.7L207.2 27.4L207.4 29.1L207.3 39.1L206.3 45.9L206.3 54.2L205.0 57.6L204.6 62.6L202.2 69.3L212.4 69.3L210.7 64.8L206.8 59.3L207.8 54.2L207.6 44.2L209.5 29.1L210.7 26.4L212.8 24.0L212.4 23.7L210.7 23.8L205.5 19.6L202.0 18.9L198.6 15.2L196.8 14.7L193.4 16.4L191.7 16.3L188.2 13.8L184.8 15.1L179.6 15.6L176.1 15.7L172.7 15.1L169.2 15.8L168.1 17.3L165.8 18.5L159.9 17.3L159.5 15.7L160.6 11.5L164.0 9.7L166.9 5.6L167.5 5.2L170.9 7.1L176.1 5.1L177.8 4.9L179.6 8.9L181.3 11.0L183.0 11.4L184.4 10.6L186.5 8.4L189.9 6.3L191.7 3.5L193.4 3.1L196.8 4.2L200.3 3.1L208.9 2.7L212.4 1.7L215.8 2.9L219.3 3.4L222.7 5.6L224.5 6.1L231.4 4.5L234.8 5.7L238.3 4.2L241.7 4.0L243.5 2.8L246.9 2.2L248.6 2.4L252.1 3.9L253.8 2.7L255.5 3.1L256.4 3.9L257.3 5.7L259.0 6.4L260.7 6.4L264.2 4.4L267.6 5.4L271.1 4.9L274.5 3.6L276.3 3.5L279.7 4.9L281.4 5.0L284.9 2.3L286.6 2.0L290.1 4.3L298.7 5.0L300.4 4.7L302.2 3.0L303.9 2.5L307.3 5.5L309.1 6.2L310.8 6.3L312.5 5.3L312.5 -1.1L285.7 -1.1L284.9 -0.3L284.7 -1.1L208.1 -1.1L207.2 1.5L205.5 1.9L205.0 -1.1L180.0 -1.1L181.0 0.6L179.6 2.2L178.6 0.6L179.2 -1.1L173.2 -1.1L173.4 0.6L172.7 1.1L171.1 -1.1L160.8 -1.1L160.6 -0.3L158.8 -1.1L44.2 -1.1L43.2 -0.1L41.4 -0.3L41.2 -1.1L-1.7 -1.1L-1.7 5.0L6.2 7.3L10.4 11.1L12.1 11.5L13.8 8.3L17.9 5.6L20.7 0.7L24.2 0.4L25.9 4.2L27.6 5.1L29.4 5.3L32.1 3.9L32.8 2.6L34.5 3.5L35.3 5.6L37.2 7.3L43.2 10.0L44.9 10.3L46.6 12.3L41.4 13.8L39.7 16.3L36.3 15.5L32.8 17.7L29.4 17.9L25.9 20.2L24.1 17.3L22.4 16.2L20.7 16.2L17.3 19.4L15.5 19.8L12.1 19.2L11.7 17.3L10.4 16.9L6.9 18.3L4.4 20.7L5.2 22.2L6.9 22.5L8.6 23.7L9.3 27.4L8.8 30.8L10.4 32.3L13.8 33.2L15.5 36.3L17.3 37.3L20.7 37.7L23.3 39.1L24.2 40.7L31.1 40.4L32.2 42.5L32.0 45.9L34.5 46.5L36.3 48.4L38.1 49.2L39.1 50.9L36.9 55.9L38.0 58.6L41.4 56.8L43.2 57.2L43.6 57.6L42.1 60.9L43.2 62.4L44.9 61.7L46.3 62.6L47.8 66.0L50.1 66.3L52.5 67.7L52.8 69.3ZM57.6 59.3L57.2 57.6L56.0 55.9L55.8 54.2L57.0 53.0L58.7 52.5L61.5 54.2L61.9 57.6L60.8 59.3L58.7 59.8ZM45.4 52.6L43.6 50.9L42.8 47.5L40.3 44.2L38.7 39.1L36.3 37.4L35.2 35.8L36.3 33.6L39.7 32.9L41.4 31.4L42.1 30.8L42.2 29.1L41.4 28.1L39.7 27.2L36.8 29.1L35.1 32.4L32.8 33.0L31.9 32.4L31.9 30.8L34.9 27.4L34.1 25.7L34.3 24.0L36.3 23.0L39.7 24.8L43.2 23.0L46.6 22.6L50.1 19.7L53.5 19.2L58.7 13.7L59.8 15.7L60.4 18.4L62.2 15.9L63.9 15.5L65.0 17.3L67.9 19.0L69.1 22.4L74.2 25.9L74.7 27.4L74.4 29.1L72.1 30.8L72.4 35.8L71.9 37.5L69.0 39.1L65.6 43.5L58.7 46.0L55.3 46.3L53.5 47.3L51.7 49.2L50.6 52.6L50.1 53.1L48.3 53.4L46.6 53.0ZM111.0 49.2L109.4 47.5L109.3 45.9L108.4 44.2L108.8 43.3L110.5 42.6L114.0 42.1L114.7 42.5L117.0 47.5L114.0 49.4L112.2 49.6ZM93.2 42.5L91.5 40.2L88.6 37.5L88.0 35.8L89.1 32.4L88.7 29.1L91.5 27.9L95.0 28.2L96.7 29.8L100.1 29.9L101.2 30.8L102.1 32.4L100.1 40.9L98.4 42.7L95.0 43.2L93.2 42.6ZM106.5 34.1L107.1 33.2L108.3 34.1L107.1 35.5ZM108.0 30.8L106.5 29.1L106.4 27.4L107.1 25.7L108.8 24.0L110.5 24.4L112.2 25.8L113.4 29.1L112.2 31.2L110.5 32.0L108.8 31.6ZM115.6 27.4L115.7 26.7L116.7 27.4L115.7 27.7ZM78.9 22.4L79.1 20.7L80.2 20.7L80.0 22.4L79.4 22.5ZM123.2 20.7L121.2 19.0L121.2 17.3L122.6 16.3L127.8 15.9L129.8 17.3L129.5 19.4L127.6 20.7L124.3 21.3ZM154.7 19.0L155.4 18.3L157.3 19.0L155.4 19.6ZM53.4 14.0L51.7 12.3L50.3 8.9L51.8 8.4L53.5 10.0L54.0 12.3L53.5 14.1ZM101.8 14.0L102.4 12.3L103.6 11.8L105.7 12.3L104.9 14.0L103.6 14.8L101.9 14.2ZM130.8 14.0L131.2 12.6L133.3 10.6L133.0 6.8L138.1 6.1L139.9 4.9L141.6 6.3L142.2 8.9L139.7 10.6L138.8 14.0L138.1 14.6L136.4 15.2L131.2 14.3ZM75.6 10.6L75.2 8.9L76.0 6.3L77.7 6.6L78.3 8.9L78.0 10.6L77.7 11.0L76.0 11.0ZM84.0 8.9L84.6 7.9L85.3 8.9L84.6 9.4ZM127.7 2.2L129.5 0.5L131.2 1.4L131.7 2.2L129.5 2.7L127.8 2.3ZM140.8 2.2L141.6 1.7L142.4 2.2L141.6 3.7ZM81.2 69.3L82.3 69.3L81.2 68.3L79.6 69.3ZM126.0 69.3L129.1 69.3L127.8 68.4L126.0 67.9L124.8 69.3ZM131.2 67.7L131.7 69.3L136.9 69.3L134.9 66.0L133.0 64.2L130.9 64.3L130.6 66.0L131.2 67.7ZM195.1 69.3L200.0 69.3L196.8 68.0L194.0 69.3ZM217.6 69.3L220.5 69.3L217.6 68.8L216.6 69.3ZM227.9 69.3L250.2 69.3L250.2 67.7L249.5 66.0L246.9 63.9L245.2 62.9L241.7 63.6L240.0 63.3L238.5 62.6L238.5 60.9L240.0 59.4L245.2 58.7L246.9 56.6L252.1 55.7L255.5 55.8L257.3 54.8L259.1 55.9L259.5 57.6L256.1 60.9L259.0 62.4L262.5 58.9L264.2 58.6L265.9 58.8L271.1 60.7L273.0 64.3L273.4 66.0L273.0 67.7L272.8 68.2L271.1 68.9L267.6 64.8L265.9 64.4L262.5 65.1L260.7 64.3L259.0 65.1L257.3 67.1L255.5 67.3L253.8 66.7L251.0 67.7L251.1 69.3L312.5 69.3L312.5 68.9L310.8 69.0L309.1 68.4L306.8 66.0L306.4 64.3L307.3 63.1L310.8 61.1L312.5 61.8L312.5 58.2L311.1 59.3L310.8 60.1L310.6 59.3L307.3 56.0L305.6 58.0L303.9 58.8L302.2 55.3L300.4 53.7L298.7 54.2L295.3 53.4L294.2 50.9L294.5 49.2L293.5 48.3L290.1 48.3L287.8 47.5L286.6 43.9L284.9 44.2L284.1 40.8L286.0 34.1L288.3 32.4L290.1 31.9L291.1 32.4L290.4 35.8L290.4 40.8L291.8 42.4L293.5 42.6L294.8 40.8L295.2 39.1L295.1 35.8L294.0 32.4L295.3 30.0L297.2 29.1L296.4 27.4L300.4 23.8L307.3 22.7L310.7 20.7L309.1 19.6L305.6 20.4L300.4 19.3L293.5 20.0L290.1 21.0L288.4 19.6L286.6 19.3L283.2 19.8L279.7 19.3L274.5 19.4L271.1 17.6L269.4 17.5L264.2 18.0L260.7 18.8L255.5 17.5L252.1 18.5L248.6 17.8L245.2 19.1L243.5 17.4L241.7 17.7L237.6 20.7L237.2 22.4L241.7 23.1L243.5 24.6L250.7 27.4L251.8 29.1L250.4 33.4L246.6 40.8L246.4 42.5L247.3 44.2L246.9 45.4L242.0 49.2L242.3 50.9L243.7 54.2L241.5 55.9L236.6 56.6L228.2 59.3L227.6 60.9L227.3 64.3L227.9 64.9L231.4 64.8L231.9 66.0L226.7 69.3ZM294.8 66.0L295.3 64.2L297.0 63.8L297.8 66.0L297.0 67.3L295.3 66.3ZM232.5 60.9L233.1 60.2L234.8 60.2L235.7 60.9L234.8 61.7L233.1 61.3ZM264.2 54.2L263.3 52.6L267.2 49.2L267.6 47.4L262.5 45.4L256.1 40.8L252.4 39.1L251.8 37.5L253.7 30.8L255.7 29.1L256.4 27.4L253.8 24.9L250.3 24.0L250.1 22.4L252.1 22.1L255.5 20.3L259.0 21.0L269.4 20.0L271.1 20.6L274.5 23.2L279.7 24.0L278.0 24.1L274.5 27.2L272.8 27.0L272.3 27.4L274.5 29.3L277.1 32.4L277.2 34.1L276.5 37.5L275.2 40.8L274.9 44.2L276.7 47.5L276.7 49.2L276.3 50.2L273.4 52.6L274.5 53.4L276.3 53.7L278.0 52.3L279.7 52.4L280.2 54.2L279.7 54.7L274.5 55.3L272.8 55.0L267.6 55.3L265.9 54.7ZM282.4 50.9L280.7 49.2L281.4 47.9L283.2 48.5L284.7 50.9L283.2 51.7ZM256.6 49.2L257.3 48.7L259.0 48.8L259.4 49.2L259.0 49.8L257.3 49.9ZM291.5 39.1L291.8 36.6L293.5 36.2L293.9 37.5L293.5 40.0L291.8 39.9ZM282.4 30.8L283.6 30.8L283.2 32.1ZM20.7 65.0L22.4 64.7L23.5 62.6L22.4 61.8L20.7 61.5L19.3 62.6L20.2 64.3ZM119.1 65.6L121.8 64.3L121.5 62.6L118.0 62.6L117.8 64.3ZM-0.7 60.9L0.0 60.1L3.5 60.6L6.9 60.3L8.4 59.3L8.9 57.6L8.8 54.2L7.8 52.6L5.2 50.9L3.5 51.0L1.7 52.2L-0.4 54.2L-1.2 55.9L-1.7 58.0L-1.7 61.7ZM2.9 55.9L3.5 54.6L5.2 54.2L5.9 55.9L5.2 57.1L3.5 57.3ZM312.5 55.8L312.5 53.8L312.3 54.2ZM1.7 42.9L2.8 42.5L1.7 41.5L1.5 42.5ZM260.7 28.6L263.0 27.4L262.5 26.2L260.7 25.6L259.5 27.4ZM5.2 26.1L6.9 25.7L5.2 25.1L4.8 25.7ZM141.6 23.9L143.9 22.4L144.9 20.7L143.3 20.1L141.6 21.1L140.9 22.4ZM12.1 17.0L12.6 15.7L12.1 14.7L11.6 15.7ZM165.8 14.0L167.5 14.6L169.2 14.1L169.2 11.6L165.7 14.0Z"/>
<path fill="#ecbca3" d="M69.1 68.6L70.8 68.4L73.9 69.3L79.6 69.3L81.2 68.3L82.3 69.3L84.6 69.3L82.7 67.7L81.4 64.3L77.7 59.7L74.2 58.0L72.5 58.0L70.8 59.2L69.1 59.0L67.3 57.7L65.6 57.4L63.1 60.9L62.5 62.6L63.2 64.3L66.2 66.0L67.5 67.7ZM74.3 66.0L73.7 64.3L74.3 62.6L76.0 61.8L77.7 62.7L79.0 64.3L79.4 66.0L77.7 67.4L76.0 67.1ZM176.1 68.9L179.6 67.0L182.5 67.7L183.7 69.3L194.0 69.3L196.8 68.0L200.0 69.3L202.2 69.3L204.6 62.6L205.0 57.6L206.3 54.2L206.3 45.9L207.4 37.5L207.2 27.4L203.7 22.8L200.3 21.8L198.6 20.6L196.8 20.0L191.7 20.7L183.0 17.8L179.6 17.4L177.8 17.7L176.1 19.3L174.4 19.4L172.7 18.5L170.9 18.7L165.8 21.6L162.8 22.4L160.3 24.0L160.1 25.7L163.9 27.4L164.0 29.1L162.4 30.8L162.0 32.4L164.0 33.6L164.9 35.8L164.0 39.1L165.9 44.2L166.0 45.9L166.0 49.2L165.0 54.2L165.5 59.3L169.9 60.9L170.9 62.6L172.7 63.9L174.5 64.3L175.8 66.0L175.2 67.7ZM194.4 64.3L193.4 63.6L191.7 63.4L188.2 63.7L183.0 61.6L179.6 61.9L177.8 61.5L172.7 59.0L171.5 57.6L171.6 50.9L171.1 49.2L169.2 46.5L167.5 42.5L167.9 37.5L167.0 32.4L167.9 29.1L170.5 25.7L170.2 22.4L170.9 21.8L172.7 21.6L176.1 22.5L184.8 20.9L186.5 21.3L188.2 22.9L189.9 23.7L191.7 24.0L195.1 23.5L198.6 24.9L202.0 25.0L204.5 27.4L205.1 29.1L205.0 32.4L206.2 39.1L205.0 45.9L205.2 49.2L204.4 54.2L201.7 60.9L199.2 62.6L198.5 64.3L196.8 64.9L195.1 64.7ZM250.4 69.3L251.1 69.3L251.0 67.7L252.1 67.1L253.8 66.7L255.5 67.3L257.3 67.1L259.0 65.1L260.7 64.3L262.5 65.1L265.9 64.4L267.6 64.8L271.1 68.9L272.8 68.2L273.4 66.0L273.0 64.3L271.1 60.7L265.9 58.8L262.5 58.9L259.0 62.4L257.3 61.8L256.1 60.9L259.5 57.6L259.1 55.9L257.3 54.8L255.5 55.8L252.1 55.7L246.9 56.6L245.2 58.7L240.0 59.4L238.5 60.9L238.5 62.6L240.0 63.3L241.7 63.6L245.2 62.9L246.9 63.9L249.5 66.0L250.2 67.7L250.2 69.3ZM233.1 61.3L234.8 61.7L235.7 60.9L234.8 60.2L233.1 60.2L232.5 60.9ZM3.5 57.3L5.2 57.1L5.9 55.9L5.2 54.2L3.5 54.6L2.9 55.9ZM265.9 54.7L267.6 55.3L272.8 55.0L274.5 55.3L279.7 54.7L280.2 54.2L279.7 52.4L278.0 52.3L276.3 53.7L274.5 53.4L273.4 52.6L276.3 50.2L276.7 49.2L276.7 47.5L274.9 44.2L275.2 40.8L276.5 37.5L277.2 34.1L277.1 32.4L274.5 29.3L272.3 27.4L272.8 27.0L274.5 27.2L278.0 24.1L279.7 24.0L274.5 23.2L271.1 20.6L269.4 20.0L259.0 21.0L255.5 20.3L252.1 22.1L250.1 22.4L250.3 24.0L253.8 24.9L256.4 27.4L255.7 29.1L253.7 30.8L251.8 37.5L252.4 39.1L256.1 40.8L262.5 45.4L267.6 47.4L267.2 49.2L263.3 52.6L264.2 54.2ZM264.0 42.5L262.8 40.8L260.7 39.6L259.0 39.1L256.9 37.5L255.4 35.8L255.5 33.6L257.3 32.1L264.2 30.2L267.6 30.6L271.1 30.2L273.8 32.4L274.5 34.1L271.8 42.5L271.1 42.9L269.4 42.3L265.9 43.0L264.2 42.8ZM259.5 27.4L260.7 25.6L262.5 26.2L263.0 27.4L260.7 28.6ZM46.6 53.0L48.3 53.4L50.1 53.1L50.6 52.6L51.7 49.2L53.5 47.3L55.3 46.3L58.7 46.0L65.6 43.5L69.0 39.1L71.9 37.5L72.4 35.8L72.1 30.8L74.4 29.1L74.7 27.4L74.2 25.9L69.1 22.4L67.9 19.0L65.0 17.3L63.9 15.5L62.2 15.9L60.4 18.4L59.8 15.7L58.7 13.7L53.5 19.2L50.1 19.7L46.6 22.6L43.2 23.0L39.7 24.8L36.3 23.0L34.3 24.0L34.1 25.7L34.9 27.4L31.9 30.8L31.9 32.4L32.8 33.0L35.1 32.4L36.8 29.1L39.7 27.2L41.4 28.1L42.2 29.1L42.1 30.8L41.4 31.4L39.7 32.9L36.3 33.6L35.2 35.8L36.3 37.4L38.7 39.1L40.3 44.2L42.8 47.5L43.6 50.9L45.4 52.6ZM46.6 47.5L45.4 44.2L45.9 40.8L43.8 37.5L44.2 35.8L43.7 34.1L44.3 32.4L48.3 30.4L49.9 29.1L51.0 25.7L51.8 25.1L53.5 25.5L55.8 27.4L57.0 29.8L60.4 31.2L63.5 34.1L58.7 39.1L57.8 42.5L53.2 44.2L48.3 48.3L46.6 47.8ZM64.1 34.1L65.6 31.1L67.3 30.9L68.5 32.4L68.4 34.1L65.6 35.4ZM93.2 42.6L95.0 43.2L98.4 42.7L100.1 40.9L102.1 32.4L101.2 30.8L100.1 29.9L96.7 29.8L95.0 28.2L91.5 27.9L88.7 29.1L89.1 32.4L88.0 35.8L88.6 37.5L91.5 40.2L93.2 42.5ZM94.0 39.1L91.0 35.8L91.7 34.1L93.2 32.9L96.2 34.1L97.9 35.8L97.3 39.1L96.7 39.8L95.0 40.0ZM291.8 39.9L293.5 40.0L293.9 37.5L293.5 36.2L291.8 36.6L291.5 39.1ZM115.7 27.7L116.7 27.4L115.7 26.7L115.6 27.4ZM79.4 22.5L80.0 22.4L80.2 20.7L79.1 20.7L78.9 22.4ZM124.3 21.3L127.6 20.7L129.5 19.4L129.8 17.3L127.8 15.9L122.6 16.3L121.2 17.3L121.2 19.0L123.2 20.7ZM158.9 -1.1L160.6 -0.3L160.8 -1.1L158.8 -1.1Z"/>
<path fill="#de7d68" d="M76.0 67.1L77.7 67.4L79.4 66.0L79.0 64.3L77.7 62.7L76.0 61.8L74.3 62.6L73.7 64.3L74.3 66.0ZM195.1 64.7L196.8 64.9L198.5 64.3L199.2 62.6L201.7 60.9L204.4 54.2L205.2 49.2L205.0 45.9L206.2 39.1L205.0 32.4L205.1 29.1L204.5 27.4L202.0 25.0L198.6 24.9L195.1 23.5L191.7 24.0L189.9 23.7L188.2 22.9L186.5 21.3L184.8 20.9L176.1 22.5L172.7 21.6L170.9 21.8L170.2 22.4L170.5 25.7L167.9 29.1L167.0 32.4L167.9 37.5L167.5 42.5L169.2 46.5L171.1 49.2L171.6 50.9L171.5 57.6L172.7 59.0L177.8 61.5L179.6 61.9L183.0 61.6L188.2 63.7L191.7 63.4L193.4 63.6L194.4 64.3ZM187.8 60.9L183.0 59.2L177.8 58.7L174.6 55.9L176.3 52.6L174.4 44.8L172.8 42.5L173.9 39.1L173.7 37.5L169.9 32.4L170.1 30.8L170.9 29.1L174.4 25.3L179.6 23.7L184.8 23.1L189.9 26.3L195.1 28.5L199.3 34.1L200.3 34.7L202.0 34.7L203.7 36.0L204.7 39.1L203.6 45.9L203.7 49.9L202.0 52.9L200.3 53.4L199.5 54.2L199.1 55.9L199.7 57.6L198.6 59.0L189.9 61.3L188.2 61.1ZM46.6 47.8L48.3 48.3L53.2 44.2L57.8 42.5L58.7 39.1L63.5 34.1L60.4 31.2L57.0 29.8L55.8 27.4L53.5 25.5L51.8 25.1L51.0 25.7L49.9 29.1L48.3 30.4L44.3 32.4L43.7 34.1L44.2 35.8L43.8 37.5L45.9 40.8L45.4 44.2L46.6 47.5ZM264.2 42.8L265.9 43.0L269.4 42.3L271.1 42.9L271.8 42.5L274.5 34.1L273.8 32.4L271.1 30.2L267.6 30.6L264.2 30.2L257.3 32.1L255.5 33.6L255.4 35.8L256.9 37.5L259.0 39.1L260.7 39.6L262.8 40.8L264.0 42.5ZM261.9 37.5L259.8 35.8L259.6 34.1L262.5 32.5L264.2 32.3L267.6 33.3L269.4 33.3L271.1 34.1L270.2 35.8L265.9 38.3L264.2 38.6L262.5 37.7ZM95.0 40.0L96.7 39.8L97.3 39.1L97.9 35.8L96.2 34.1L93.2 32.9L91.7 34.1L91.0 35.8L94.0 39.1ZM65.6 35.4L68.4 34.1L68.5 32.4L67.3 30.9L65.6 31.1L64.1 34.1Z"/>
<path fill="#c43e42" d="M188.2 61.1L189.9 61.3L198.6 59.0L199.7 57.6L199.1 55.9L199.5 54.2L200.3 53.4L202.0 52.9L203.7 49.9L203.6 45.9L204.7 39.1L203.7 36.0L202.0 34.7L200.3 34.7L199.3 34.1L195.1 28.5L189.9 26.3L184.8 23.1L179.6 23.7L174.4 25.3L170.9 29.1L170.1 30.8L169.9 32.4L173.7 37.5L173.9 39.1L172.8 42.5L174.4 44.8L176.3 52.6L174.6 55.9L177.8 58.7L183.0 59.2L187.8 60.9ZM187.3 57.6L186.5 56.9L184.8 56.8L183.2 55.9L184.6 54.2L184.7 52.6L183.1 50.9L181.3 50.3L180.2 49.2L178.8 45.9L178.7 40.8L179.8 39.1L180.0 37.5L179.6 36.9L176.1 36.0L175.0 34.1L174.7 32.4L176.1 31.1L177.9 27.4L179.6 25.7L184.8 25.9L186.9 29.1L188.2 29.8L191.7 29.9L193.3 30.8L194.8 34.1L199.8 37.5L201.3 39.1L201.9 40.8L201.5 44.2L200.3 45.9L195.9 49.2L194.6 50.9L194.8 54.2L193.2 57.6L189.9 59.0L188.2 58.0ZM262.5 37.7L264.2 38.6L265.9 38.3L270.2 35.8L271.1 34.1L269.4 33.3L267.6 33.3L264.2 32.3L262.5 32.5L259.6 34.1L259.8 35.8L261.9 37.5Z"/>
<path fill="#8a182a" d="M188.2 58.0L189.9 59.0L193.2 57.6L194.8 54.2L194.6 50.9L195.9 49.2L200.3 45.9L201.5 44.2L201.9 40.8L201.3 39.1L199.8 37.5L194.8 34.1L193.3 30.8L191.7 29.9L188.2 29.8L186.9 29.1L184.8 25.9L179.6 25.7L177.9 27.4L176.1 31.1L174.7 32.4L175.0 34.1L176.1 36.0L179.6 36.9L180.0 37.5L179.8 39.1L178.7 40.8L178.8 45.9L180.2 49.2L181.3 50.3L183.1 50.9L184.7 52.6L184.6 54.2L183.2 55.9L184.8 56.8L186.5 56.9L187.3 57.6ZM189.8 50.9L188.2 50.0L186.5 48.1L184.8 45.1L182.4 42.5L182.2 40.8L183.0 38.1L186.5 39.1L187.5 37.5L187.5 35.8L188.2 34.2L189.9 34.8L191.7 36.7L193.4 37.6L194.5 39.1L194.7 40.8L197.3 42.5L198.1 44.2L197.2 45.9L195.4 47.5L191.7 50.4L189.9 51.0Z"/>
<path fill="#690c24" d="M189.9 51.0L191.7 50.4L195.4 47.5L197.2 45.9L198.1 44.2L197.3 42.5L194.7 40.8L194.5 39.1L193.4 37.6L191.7 36.7L189.9 34.8L188.2 34.2L187.5 35.8L187.5 37.5L186.5 39.1L183.0 38.1L182.2 40.8L182.4 42.5L184.8 45.1L186.5 48.1L188.2 50.0L189.8 50.9Z"/>
</g></g>
<g clip-path="url(#boxclip)">
<use href="#coast"/>
</g>
<rect x="189.9" y="28.0" width="17.3" height="22.4" fill="none" stroke="#ee2d23" stroke-width="1.2"/>
<use href="#frame"/>
</g>
<text x="27.6" y="146.0" font-size="8.20" text-anchor="end" font-weight="normal" textLength="19.6" lengthAdjust="spacingAndGlyphs" fill="#262626">90°N</text>
<text x="27.6" y="162.8" font-size="8.20" text-anchor="end" font-weight="normal" textLength="19.6" lengthAdjust="spacingAndGlyphs" fill="#262626">75°N</text>
<text x="27.6" y="179.5" font-size="8.20" text-anchor="end" font-weight="normal" textLength="19.6" lengthAdjust="spacingAndGlyphs" fill="#262626">60°N</text>
<text x="27.6" y="196.3" font-size="8.20" text-anchor="end" font-weight="normal" textLength="19.6" lengthAdjust="spacingAndGlyphs" fill="#262626">45°N</text>
<text x="27.6" y="213.1" font-size="8.20" text-anchor="end" font-weight="normal" textLength="19.6" lengthAdjust="spacingAndGlyphs" fill="#262626">30°N</text>
<text x="35.2" y="222.9" font-size="8.20" text-anchor="middle" font-weight="normal" textLength="19.4" lengthAdjust="spacingAndGlyphs" fill="#262626">180°</text>
<text x="87.0" y="222.9" font-size="8.20" text-anchor="middle" font-weight="normal" textLength="27.2" lengthAdjust="spacingAndGlyphs" fill="#262626">120°W</text>
<text x="138.8" y="222.9" font-size="8.20" text-anchor="middle" font-weight="normal" textLength="22.0" lengthAdjust="spacingAndGlyphs" fill="#262626">60°W</text>
<text x="190.6" y="222.9" font-size="8.20" text-anchor="middle" font-weight="normal" textLength="17.0" lengthAdjust="spacingAndGlyphs" fill="#262626">0°W</text>
<text x="242.4" y="222.9" font-size="8.20" text-anchor="middle" font-weight="normal" textLength="19.0" lengthAdjust="spacingAndGlyphs" fill="#262626">60°E</text>
<text x="294.2" y="222.9" font-size="8.20" text-anchor="middle" font-weight="normal" textLength="25.0" lengthAdjust="spacingAndGlyphs" fill="#262626">120°E</text>
<text x="346.0" y="222.9" font-size="8.20" text-anchor="middle" font-weight="normal" textLength="19.4" lengthAdjust="spacingAndGlyphs" fill="#262626">180°</text>
<text x="35.6" y="139.2" font-size="13.60" text-anchor="start" font-weight="normal" textLength="16.4" lengthAdjust="spacingAndGlyphs" stroke="#000" stroke-width="0.55">(c)</text>
<g transform="translate(364.6 143.1)">
<g clip-path="url(#boxclip)"><g>
<path fill="#1c3464" d="M195.1 45.9L198.6 44.4L202.0 41.9L204.9 40.8L205.4 39.1L200.3 37.5L195.7 39.1L191.7 41.7L189.3 42.5L188.6 44.2L191.7 44.7L194.6 45.9Z"/>
<path fill="#2c5286" d="M188.2 47.8L193.4 47.9L198.6 46.6L202.2 44.2L207.2 42.4L208.5 40.8L208.4 39.1L207.2 37.1L202.0 35.3L200.3 35.3L196.8 36.9L193.4 37.5L184.8 41.9L184.2 42.5L184.6 45.9L187.0 47.5ZM194.6 45.9L191.7 44.7L188.6 44.2L189.3 42.5L191.7 41.7L195.7 39.1L200.3 37.5L205.4 39.1L204.9 40.8L202.0 41.9L198.6 44.4L195.1 45.9Z"/>
<path fill="#4a86ba" d="M188.2 51.0L189.9 51.0L200.3 48.2L203.7 46.7L205.5 45.4L208.9 44.3L212.8 40.8L214.8 35.8L210.7 33.6L208.9 33.4L207.2 33.9L202.0 33.1L200.3 33.4L196.8 35.1L193.4 35.1L186.5 38.8L183.0 39.8L181.5 40.8L181.7 47.5L184.8 49.8L187.6 50.9ZM187.0 47.5L184.6 45.9L184.2 42.5L184.8 41.9L193.4 37.5L196.8 36.9L200.3 35.3L202.0 35.3L207.2 37.1L208.4 39.1L208.5 40.8L207.2 42.4L202.2 44.2L198.6 46.6L193.4 47.9L188.2 47.8Z"/>
<path fill="#7ab2d0" d="M181.3 53.5L195.1 53.1L196.8 52.4L198.6 51.1L203.7 49.4L208.9 46.8L212.4 43.7L216.8 40.8L220.7 35.8L220.9 34.1L219.4 32.4L217.6 31.6L214.1 31.8L210.7 30.3L208.9 30.1L202.0 30.8L196.8 32.9L192.1 32.4L189.9 31.4L188.2 31.4L186.8 32.4L187.8 34.1L187.0 35.8L183.0 37.6L179.6 36.9L177.9 37.5L175.6 40.8L175.7 42.5L177.0 44.2L177.6 45.9L176.9 47.5L179.8 50.9L180.7 52.6ZM187.6 50.9L184.8 49.8L181.7 47.5L181.5 40.8L183.0 39.8L186.5 38.8L193.4 35.1L196.8 35.1L200.3 33.4L202.0 33.1L207.2 33.9L208.9 33.4L210.7 33.6L214.8 35.8L212.8 40.8L208.9 44.3L205.5 45.4L203.7 46.7L200.3 48.2L189.9 51.0L188.2 51.0ZM293.5 41.1L294.2 39.1L293.5 35.8L292.9 39.1L293.4 40.8ZM67.3 22.5L68.2 20.7L68.2 19.0L65.6 15.0L63.9 15.0L62.9 15.7L63.4 17.3L64.8 19.0L65.6 21.5L67.0 22.4ZM82.9 22.4L84.0 20.7L84.1 19.0L81.2 13.7L79.4 13.6L76.0 14.5L74.2 13.0L72.5 14.0L73.8 15.7L76.0 16.5L78.9 19.0L81.2 21.8L82.8 22.4ZM108.8 19.4L112.2 18.3L115.7 18.6L117.4 17.7L118.6 15.7L118.6 14.0L117.4 12.6L114.0 11.2L112.2 12.4L110.5 15.1L107.1 15.0L105.3 15.7L105.7 17.3L107.7 19.0ZM51.8 16.2L53.9 15.7L55.3 14.0L53.5 13.6L51.5 15.7Z"/>
<path fill="#b6d9e6" d="M183.0 57.8L188.2 56.4L195.1 56.6L197.2 55.9L198.6 55.1L200.6 52.6L209.5 49.2L210.7 48.4L212.4 45.9L216.6 44.2L219.3 41.8L221.0 41.1L222.7 41.5L224.5 41.3L226.5 39.1L227.0 35.8L227.9 34.9L229.6 35.1L230.1 34.1L226.3 30.8L224.5 31.5L222.7 31.4L219.3 30.0L217.6 28.4L208.9 27.0L205.5 25.8L202.0 26.4L198.6 29.3L193.4 27.7L184.8 29.2L183.0 29.0L181.3 27.8L179.6 27.5L177.8 29.4L176.1 29.9L174.2 29.1L172.7 27.5L170.9 27.1L167.9 29.1L171.0 32.4L168.9 35.8L169.8 37.5L170.9 42.0L174.4 50.9L175.5 52.6L178.7 55.9L182.3 57.6ZM180.7 52.6L179.8 50.9L176.9 47.5L177.6 45.9L177.0 44.2L175.7 42.5L175.6 40.8L177.9 37.5L179.6 36.9L183.0 37.6L187.0 35.8L187.8 34.1L186.8 32.4L188.2 31.4L189.9 31.4L192.1 32.4L196.8 32.9L202.0 30.8L208.9 30.1L210.7 30.3L214.1 31.8L217.6 31.6L219.4 32.4L220.9 34.1L220.7 35.8L216.8 40.8L212.4 43.7L208.9 46.8L203.7 49.4L198.6 51.1L196.8 52.4L195.1 53.1L181.3 53.5ZM0.0 55.5L1.7 54.6L1.9 52.6L1.7 50.9L0.0 49.2L-1.7 50.6L-1.3 54.2ZM20.7 51.5L21.0 50.9L20.5 50.9ZM134.7 50.9L137.7 47.5L137.3 45.9L134.7 45.4L133.5 45.9L132.3 47.5L132.0 49.2L134.6 50.9ZM38.0 49.7L41.4 48.3L43.2 48.4L44.9 49.5L46.6 49.5L47.7 49.2L48.3 48.0L49.2 49.2L51.8 50.0L53.5 49.1L55.3 47.3L57.0 47.0L58.7 47.4L60.4 46.7L62.2 44.3L62.7 42.5L67.3 40.0L69.1 40.1L69.8 40.8L70.2 44.2L71.0 45.9L72.5 46.0L74.2 45.0L75.4 44.2L76.2 42.5L77.7 40.8L79.4 39.9L83.1 42.5L84.6 42.9L86.3 42.6L87.9 40.8L88.1 38.8L93.2 34.3L95.0 35.4L96.7 35.0L97.8 34.1L95.6 32.4L95.6 30.8L97.3 27.4L97.8 24.0L98.4 23.6L101.6 22.4L103.6 20.7L105.3 21.0L106.9 22.4L106.9 24.0L107.5 25.7L108.8 26.6L114.0 26.3L114.5 25.7L113.0 22.4L115.7 21.1L119.1 20.4L124.3 20.1L126.0 21.5L127.8 21.9L130.5 20.7L130.6 17.3L131.2 16.1L133.0 15.2L133.9 14.0L133.6 12.3L133.0 11.2L129.5 8.4L126.0 8.3L122.6 7.2L120.6 7.3L117.4 8.6L115.7 8.4L112.2 7.2L108.8 7.2L107.1 7.9L103.6 10.7L98.4 8.7L96.7 9.2L95.0 10.4L91.5 9.6L88.1 11.6L86.3 12.0L84.6 10.9L82.9 8.0L81.2 7.9L77.7 8.8L74.2 8.5L72.5 9.0L69.1 10.8L63.9 8.6L61.7 8.9L60.4 10.6L57.0 9.5L51.8 11.1L50.0 10.6L48.3 7.6L46.5 10.6L43.7 14.0L45.9 20.7L46.6 21.7L48.3 22.0L49.0 24.0L49.7 29.1L48.3 29.7L47.7 30.8L44.9 31.9L41.4 31.1L39.7 31.5L38.6 30.8L38.6 27.4L38.0 26.5L34.5 24.8L31.1 26.0L29.4 26.1L27.6 25.6L25.9 24.0L24.2 24.0L22.3 25.7L22.3 29.1L23.1 30.8L24.2 31.5L32.8 30.1L35.5 32.4L36.1 34.1L34.5 35.4L31.8 35.8L31.5 37.5L32.8 38.6L34.5 43.3L34.5 44.6L33.5 45.9L34.5 46.3L35.0 47.5L37.2 49.2ZM45.7 45.9L44.3 44.2L44.9 42.4L46.6 42.4L50.1 44.0L51.8 43.9L53.5 42.0L55.5 42.5L53.5 45.1L51.8 44.5L48.3 47.4L46.6 46.7ZM59.9 39.1L58.6 37.5L60.4 36.5L61.3 37.5L60.4 39.2ZM77.0 35.8L77.7 34.4L79.5 35.8L77.7 36.3ZM61.0 32.4L59.0 27.4L60.4 25.3L62.2 25.2L63.1 25.7L63.6 27.4L63.2 29.1L63.7 30.8L65.0 32.4L63.9 33.8L62.2 33.2ZM71.4 25.7L72.5 24.9L73.9 25.7L72.5 27.3ZM52.8 24.0L53.0 22.4L55.3 21.2L57.0 22.4L55.4 24.0L53.5 24.5ZM67.0 22.4L65.6 21.5L64.8 19.0L63.4 17.3L62.9 15.7L63.9 15.0L65.6 15.0L68.2 19.0L68.2 20.7L67.3 22.5ZM82.8 22.4L81.2 21.8L78.9 19.0L76.0 16.5L73.8 15.7L72.5 14.0L74.2 13.0L76.0 14.5L79.4 13.6L81.2 13.7L84.1 19.0L84.0 20.7L82.9 22.4ZM107.7 19.0L105.7 17.3L105.3 15.7L107.1 15.0L110.5 15.1L112.2 12.4L114.0 11.2L117.4 12.6L118.6 14.0L118.6 15.7L117.4 17.7L115.7 18.6L112.2 18.3L108.8 19.4ZM51.5 15.7L53.5 13.6L55.3 14.0L53.9 15.7L51.8 16.2ZM29.4 47.7L31.1 48.0L31.9 45.9L30.5 45.9L29.3 47.5ZM27.6 42.6L29.4 43.3L30.5 42.5L30.0 40.8L29.4 40.2L27.6 42.5ZM124.3 43.2L125.2 42.5L124.8 40.8L124.1 40.8L123.7 42.5ZM293.5 43.3L295.0 40.8L295.3 39.1L294.9 35.8L293.5 33.8L292.2 35.8L292.0 37.5L291.9 40.8L292.6 42.5ZM293.4 40.8L292.9 39.1L293.5 35.8L294.2 39.1L293.5 41.1ZM101.9 37.9L101.9 37.0L101.5 37.5ZM162.3 37.7L162.9 37.5L163.3 35.8L162.3 35.2L161.2 35.8L161.4 37.5ZM108.8 33.4L109.4 32.4L107.1 28.3L101.9 27.8L100.7 29.1L100.6 30.8L101.9 32.2L105.3 31.9L107.2 32.4ZM169.2 15.8L171.1 15.7L172.6 14.0L173.1 12.3L167.5 11.9L166.8 12.3L166.5 14.0L168.8 15.7ZM34.5 13.0L34.9 12.3L34.4 12.3ZM181.3 12.7L183.0 12.7L183.3 10.6L181.3 10.4L181.2 12.3ZM202.0 13.6L203.7 13.2L204.8 12.3L205.1 10.6L202.0 9.0L200.5 10.6L201.0 12.3ZM307.3 12.4L309.3 12.3L311.0 10.6L309.8 8.9L309.1 8.5L306.6 8.9L305.3 10.6L307.1 12.3ZM164.0 10.1L165.8 10.1L166.3 8.9L166.3 7.3L164.0 6.8L163.3 7.3L162.7 8.9ZM250.4 7.7L252.1 8.0L252.3 7.3L252.1 6.9L250.4 6.6L250.1 7.3Z"/>
<path fill="#e4eff4" d="M0.0 69.3L-0.3 66.0L1.7 63.5L3.1 60.9L5.2 59.9L6.5 60.9L9.2 64.3L8.9 67.7L11.6 69.3L16.4 69.3L15.5 67.9L14.1 67.7L14.9 66.0L17.3 64.7L22.4 65.0L24.2 64.2L25.9 64.0L27.6 64.8L29.4 64.6L31.1 62.6L34.5 63.2L38.0 64.7L39.7 64.2L45.9 60.9L46.0 59.3L43.8 57.6L43.4 55.9L44.9 55.4L46.6 56.3L47.4 57.6L47.4 59.3L48.3 60.0L50.1 61.2L53.5 62.0L54.9 62.6L55.3 63.3L54.6 55.9L55.3 54.9L62.2 57.1L63.9 56.2L64.6 52.6L65.6 50.6L70.8 49.1L76.0 49.7L77.0 47.5L79.4 44.9L81.2 44.7L84.6 46.3L91.5 42.7L93.2 42.6L101.9 46.0L103.6 45.6L105.3 44.1L107.1 44.3L108.8 46.4L112.2 48.1L113.3 49.2L113.6 50.9L110.1 55.9L109.7 57.6L111.3 59.3L112.6 62.6L113.6 67.7L112.9 69.3L123.0 69.3L125.1 67.7L129.5 66.5L132.4 64.3L133.7 60.9L132.6 59.3L135.5 55.9L139.9 52.4L140.9 50.9L142.6 45.9L141.6 40.9L139.9 40.7L136.4 41.2L135.4 40.8L135.5 37.5L133.9 34.1L134.9 30.8L135.1 25.7L134.2 22.4L134.5 20.7L138.1 16.9L151.9 13.5L153.7 14.2L155.4 17.7L157.1 18.8L158.9 19.2L160.4 20.7L161.7 24.0L161.5 25.7L160.6 26.8L158.9 26.9L157.1 25.0L155.4 24.6L153.7 25.4L151.9 27.9L151.0 30.8L153.1 37.5L157.1 38.8L160.6 41.1L164.0 40.9L165.8 41.4L167.1 42.5L168.4 45.9L171.7 49.2L172.4 50.9L173.7 57.6L172.7 59.0L169.2 60.0L167.5 62.7L164.6 64.3L169.2 66.9L170.9 66.6L171.6 66.0L172.0 64.3L174.4 62.5L177.8 65.7L183.0 62.3L184.8 63.6L189.9 63.9L193.4 65.4L194.9 64.3L194.4 62.6L195.1 62.1L195.8 62.6L195.3 64.3L198.6 66.5L200.3 66.2L203.0 62.6L207.2 60.1L207.7 57.6L211.3 54.2L212.4 52.6L213.1 49.2L214.1 47.9L215.8 47.9L217.6 48.7L221.0 48.2L222.6 47.5L223.2 45.9L227.9 41.4L229.6 41.2L230.8 42.5L230.4 45.9L231.4 46.3L233.6 44.2L236.6 43.2L238.3 43.4L240.0 44.4L245.2 50.3L248.6 50.3L249.6 50.9L252.1 54.0L255.5 54.1L257.3 53.4L258.0 52.6L258.5 50.9L257.3 49.6L253.8 51.2L252.1 50.5L250.8 49.2L250.5 45.9L249.8 44.2L248.6 42.7L246.9 42.4L246.2 40.8L247.0 37.5L246.6 35.8L245.2 34.4L243.9 34.1L243.7 32.4L244.2 30.8L243.5 29.6L241.5 30.8L242.4 32.4L240.0 32.7L238.2 30.8L238.6 29.1L236.6 27.6L233.1 28.1L231.4 28.9L229.6 28.0L225.9 27.4L222.1 25.7L220.8 22.4L221.0 21.3L222.9 20.7L224.5 19.0L224.8 17.3L226.2 16.2L227.9 16.0L229.2 17.3L229.6 18.6L233.1 17.7L234.8 17.8L236.3 19.0L238.3 19.1L244.5 15.7L250.4 14.8L253.8 15.1L255.5 13.4L257.3 15.1L259.0 18.3L261.4 17.3L265.9 14.3L269.4 13.8L273.6 12.3L275.2 10.6L278.0 9.5L279.7 9.7L281.2 10.6L280.4 14.0L281.4 14.7L283.2 12.5L284.9 11.9L288.4 17.1L293.5 17.0L297.0 15.1L300.4 17.9L303.9 17.1L304.5 17.3L305.6 19.9L310.8 19.1L312.5 18.4L312.5 6.6L310.8 3.3L307.8 0.6L308.9 -1.1L307.2 -1.1L307.1 0.6L304.5 5.6L300.4 6.7L298.7 6.3L295.3 3.7L293.5 3.7L292.4 5.6L286.6 8.2L284.9 6.1L283.2 5.2L279.7 5.9L274.5 4.6L272.8 5.3L271.1 7.3L269.4 7.8L265.9 7.8L264.8 7.3L264.2 5.5L262.5 3.8L260.7 4.2L259.0 6.3L257.3 6.3L257.0 5.6L258.1 3.9L256.7 2.2L253.8 0.6L252.1 0.9L248.6 2.8L245.2 6.2L243.5 7.0L240.0 5.1L238.3 6.9L236.7 7.3L236.9 8.9L236.6 9.3L236.2 5.6L234.8 3.9L233.1 3.0L231.4 3.0L229.4 5.6L227.9 6.3L226.0 3.9L224.5 3.3L221.0 3.5L219.3 2.1L216.9 2.2L215.0 3.9L210.7 6.2L205.5 3.3L202.0 3.2L200.3 3.6L196.8 6.3L195.1 7.0L193.4 5.0L188.1 2.2L186.5 0.7L185.4 2.2L184.2 5.6L183.0 6.2L181.3 6.1L177.8 4.5L174.4 4.9L169.2 3.2L165.8 3.5L164.0 2.8L160.6 4.4L158.9 4.6L157.1 3.6L153.7 3.6L151.9 4.1L147.1 7.3L145.0 7.9L141.6 8.1L139.9 10.5L138.1 9.9L137.8 7.3L136.4 6.4L134.7 6.3L133.0 5.6L131.2 2.2L126.0 1.1L124.3 3.5L123.6 3.9L119.1 4.5L117.2 3.9L115.7 0.7L113.4 3.9L110.5 4.5L107.1 4.4L105.3 4.8L103.6 6.2L101.9 6.1L101.3 5.6L102.0 2.2L98.4 1.7L96.7 2.3L95.0 4.8L93.2 5.7L91.5 5.9L88.1 7.6L86.3 6.2L86.1 3.9L84.6 3.5L79.4 5.7L77.7 5.3L76.0 3.4L74.2 2.3L70.8 2.5L67.3 5.0L65.6 5.2L62.2 4.2L57.0 5.3L55.3 6.2L53.5 6.2L52.8 5.6L52.6 0.6L53.7 -1.1L51.3 -1.1L50.1 -0.3L48.3 2.1L44.9 2.3L40.9 5.6L40.5 7.3L39.7 8.0L38.0 8.6L35.5 7.3L34.5 5.1L32.8 4.6L29.4 5.8L25.9 3.4L24.2 3.6L22.4 4.6L17.3 4.0L13.8 5.6L6.9 6.8L5.2 6.2L3.5 4.9L1.7 4.6L-1.7 6.6L-1.7 18.0L0.0 17.6L5.2 19.0L12.1 16.0L15.5 16.3L17.3 16.0L19.0 16.6L19.5 17.3L19.6 19.0L19.0 20.6L15.5 20.6L12.3 22.4L12.7 25.7L12.2 27.4L13.8 28.6L15.0 30.8L15.7 34.1L10.4 35.7L6.9 35.2L5.2 36.1L4.1 37.5L4.2 39.1L1.7 40.4L0.0 40.3L-0.9 39.1L0.6 37.5L-1.7 36.2L-1.7 50.6L0.0 49.2L1.7 50.9L1.9 52.6L1.7 54.6L0.0 55.5L-1.3 54.2L-1.7 52.7L-1.7 69.3ZM122.5 62.6L121.3 60.9L122.0 59.3L120.3 55.9L120.9 53.5L126.0 56.3L128.8 60.9L127.8 62.7L126.0 63.9L124.3 64.3L122.6 62.7ZM116.8 60.9L115.0 59.3L117.7 59.3L120.2 60.9L117.4 61.1ZM182.3 57.6L178.7 55.9L175.5 52.6L174.4 50.9L170.9 42.0L169.8 37.5L168.9 35.8L171.0 32.4L167.9 29.1L170.9 27.1L172.7 27.5L174.2 29.1L176.1 29.9L177.8 29.4L179.6 27.5L181.3 27.8L183.0 29.0L184.8 29.2L193.4 27.7L198.6 29.3L202.0 26.4L205.5 25.8L208.9 27.0L217.6 28.4L219.3 30.0L222.7 31.4L224.5 31.5L226.3 30.8L230.1 34.1L229.6 35.1L227.9 34.9L227.0 35.8L226.5 39.1L224.5 41.3L222.7 41.5L221.0 41.1L219.3 41.8L216.6 44.2L212.4 45.9L210.7 48.4L209.5 49.2L200.6 52.6L198.6 55.1L197.2 55.9L195.1 56.6L188.2 56.4L183.0 57.8ZM125.6 52.6L121.9 49.2L122.6 48.6L124.3 48.2L125.9 49.2L127.0 50.9L126.9 52.6L126.0 53.0ZM3.4 50.9L3.0 49.2L3.7 47.5L5.2 46.8L7.5 47.5L7.6 49.2L6.7 50.9L5.2 52.2L3.5 51.0ZM20.5 50.9L21.0 50.9L20.7 51.5ZM134.6 50.9L132.0 49.2L132.3 47.5L133.5 45.9L134.7 45.4L137.3 45.9L137.7 47.5L134.7 50.9ZM37.2 49.2L35.0 47.5L34.5 46.3L33.5 45.9L34.5 44.6L34.5 43.3L32.8 38.6L31.5 37.5L31.8 35.8L34.5 35.4L36.1 34.1L35.5 32.4L32.8 30.1L24.2 31.5L23.1 30.8L22.3 29.1L22.3 25.7L24.2 24.0L25.9 24.0L27.6 25.6L29.4 26.1L31.1 26.0L34.5 24.8L38.0 26.5L38.6 27.4L38.6 30.8L39.7 31.5L41.4 31.1L44.9 31.9L47.7 30.8L48.3 29.7L49.7 29.1L49.0 24.0L48.3 22.0L46.6 21.7L45.9 20.7L43.7 14.0L46.5 10.6L48.3 7.6L50.0 10.6L51.8 11.1L57.0 9.5L60.4 10.6L61.7 8.9L63.9 8.6L69.1 10.8L72.5 9.0L74.2 8.5L77.7 8.8L81.2 7.9L82.9 8.0L84.6 10.9L86.3 12.0L88.1 11.6L91.5 9.6L95.0 10.4L96.7 9.2L98.4 8.7L103.6 10.7L107.1 7.9L108.8 7.2L112.2 7.2L115.7 8.4L117.4 8.6L120.6 7.3L122.6 7.2L126.0 8.3L129.5 8.4L133.0 11.2L133.6 12.3L133.9 14.0L133.0 15.2L131.2 16.1L130.6 17.3L130.5 20.7L127.8 21.9L126.0 21.5L124.3 20.1L119.1 20.4L115.7 21.1L113.0 22.4L114.5 25.7L114.0 26.3L108.8 26.6L107.5 25.7L106.9 24.0L106.9 22.4L105.3 21.0L103.6 20.7L101.6 22.4L98.4 23.6L97.8 24.0L97.3 27.4L95.6 30.8L95.6 32.4L97.8 34.1L96.7 35.0L95.0 35.4L93.2 34.3L88.1 38.8L87.9 40.8L86.3 42.6L84.6 42.9L83.1 42.5L79.4 39.9L77.7 40.8L76.2 42.5L75.4 44.2L74.2 45.0L72.5 46.0L71.0 45.9L70.2 44.2L69.8 40.8L69.1 40.1L67.3 40.0L62.7 42.5L62.2 44.3L60.4 46.7L58.7 47.4L57.0 47.0L55.3 47.3L53.5 49.1L51.8 50.0L49.2 49.2L48.3 48.0L47.7 49.2L46.6 49.5L44.9 49.5L43.2 48.4L41.4 48.3L38.0 49.7ZM63.7 49.2L63.9 48.8L64.2 49.2L63.9 49.6ZM29.3 47.5L30.5 45.9L31.9 45.9L31.1 48.0L29.4 47.7ZM12.9 42.5L11.0 40.8L12.1 39.4L13.8 39.3L15.5 40.8L13.8 43.1ZM27.6 42.5L29.4 40.2L30.0 40.8L30.5 42.5L29.4 43.3L27.6 42.6ZM123.7 42.5L124.1 40.8L124.8 40.8L125.2 42.5L124.3 43.2ZM101.5 37.5L101.9 37.0L101.9 37.9ZM161.4 37.5L161.2 35.8L162.3 35.2L163.3 35.8L162.9 37.5L162.3 37.7ZM107.2 32.4L105.3 31.9L101.9 32.2L100.6 30.8L100.7 29.1L101.9 27.8L107.1 28.3L109.4 32.4L108.8 33.4ZM194.3 24.0L195.1 23.1L196.8 22.4L197.5 24.0L196.8 24.9L195.1 25.1ZM210.5 22.4L208.9 21.7L208.4 20.7L208.3 19.0L208.9 18.1L210.7 17.9L212.4 19.0L213.3 20.7L210.7 22.4ZM217.9 20.7L217.9 19.0L219.3 18.1L220.8 20.7L219.3 21.4ZM168.8 15.7L166.5 14.0L166.8 12.3L167.5 11.9L173.1 12.3L172.6 14.0L171.1 15.7L169.2 15.8ZM234.1 15.7L234.8 13.9L236.6 13.0L237.3 14.0L237.2 15.7L236.6 16.6L234.8 16.9ZM195.6 14.0L196.8 13.1L197.7 14.0L196.8 15.1ZM34.4 12.3L34.9 12.3L34.5 13.0ZM181.2 12.3L181.3 10.4L183.3 10.6L183.0 12.7L181.3 12.7ZM201.0 12.3L200.5 10.6L202.0 9.0L205.1 10.6L204.8 12.3L203.7 13.2L202.0 13.6ZM307.1 12.3L305.3 10.6L306.6 8.9L309.1 8.5L309.8 8.9L311.0 10.6L309.3 12.3L307.3 12.4ZM162.7 8.9L163.3 7.3L164.0 6.8L166.3 7.3L166.3 8.9L165.8 10.1L164.0 10.1ZM250.1 7.3L250.4 6.6L252.1 6.9L252.3 7.3L252.1 8.0L250.4 7.7ZM51.8 69.3L54.9 69.3L53.5 66.2L51.8 65.4L50.4 66.0L50.9 69.3ZM91.5 68.6L94.5 66.0L93.2 65.1L91.5 65.1L90.6 67.7ZM176.1 68.1L176.6 67.7L176.1 66.3L175.9 67.7ZM184.8 69.3L187.0 69.3L187.2 67.7L186.5 66.2L184.8 64.9L183.6 66.0L183.2 67.7L184.1 69.3ZM305.6 67.8L305.7 69.3L312.5 69.3L312.5 63.1L310.8 64.1L309.2 62.6L310.8 61.3L312.5 60.8L312.5 40.6L310.5 39.1L311.5 37.5L309.1 36.4L307.3 36.4L303.9 34.9L303.1 35.8L299.8 37.5L299.6 39.1L300.5 40.8L299.8 42.5L298.7 43.2L297.0 43.3L296.5 35.8L295.3 33.3L293.5 31.9L291.4 34.1L290.1 40.6L286.6 40.8L285.1 42.5L284.7 44.2L286.6 44.4L288.4 43.4L295.9 49.2L296.9 50.9L295.2 52.6L294.9 55.9L298.7 57.0L302.2 59.7L303.9 59.4L305.6 60.5L306.1 62.6L305.6 63.2L303.9 63.5L300.4 60.5L298.6 60.9L298.8 62.6L300.4 65.3L302.2 66.2L303.9 66.4L305.6 67.7ZM299.6 49.2L300.4 47.1L302.2 46.5L303.4 47.5L303.9 49.2L302.2 50.0L300.4 50.0ZM292.6 42.5L291.9 40.8L292.0 37.5L292.2 35.8L293.5 33.8L294.9 35.8L295.3 39.1L295.0 40.8L293.5 43.3ZM305.4 40.8L305.6 40.0L307.3 39.9L308.1 40.8L307.3 42.4L305.6 41.8ZM141.6 64.5L143.3 63.9L144.5 60.9L144.2 59.3L143.3 58.0L141.6 57.4L139.1 59.3L141.3 64.3ZM89.8 59.5L90.1 59.3L89.8 58.3L89.7 59.3ZM46.6 46.7L48.3 47.4L51.8 44.5L53.5 45.1L55.5 42.5L53.5 42.0L51.8 43.9L50.1 44.0L46.6 42.4L44.9 42.4L44.3 44.2L45.7 45.9ZM60.4 39.2L61.3 37.5L60.4 36.5L58.6 37.5L59.9 39.1ZM77.7 36.3L79.5 35.8L77.7 34.4L77.0 35.8ZM62.2 33.2L63.9 33.8L65.0 32.4L63.7 30.8L63.2 29.1L63.6 27.4L63.1 25.7L62.2 25.2L60.4 25.3L59.0 27.4L61.0 32.4ZM10.4 27.7L11.7 27.4L10.0 27.4ZM72.5 27.3L73.9 25.7L72.5 24.9L71.4 25.7ZM229.6 25.8L229.6 24.0L229.6 25.7ZM53.5 24.5L55.4 24.0L57.0 22.4L55.3 21.2L53.0 22.4L52.8 24.0ZM312.5 0.6L312.5 -1.1L311.5 -1.1L312.5 0.6ZM-1.3 -1.1L-1.7 -1.1L-1.7 0.1ZM13.8 -1.0L15.6 -1.1L13.7 -1.1ZM114.0 -0.3L114.5 -1.1L113.2 -1.1Z"/>
<path fill="#f3e8de" d="M0.0 67.9L0.2 69.3L11.6 69.3L8.9 67.7L9.2 64.3L6.5 60.9L5.2 59.9L3.1 60.9L1.7 63.5L-0.3 66.0L-0.1 67.7ZM15.5 67.9L16.4 69.3L50.9 69.3L50.4 66.0L51.8 65.4L53.5 66.2L54.9 69.3L112.9 69.3L113.6 67.7L112.6 62.6L111.3 59.3L109.7 57.6L110.1 55.9L113.6 50.9L113.3 49.2L112.2 48.1L108.8 46.4L107.1 44.3L106.5 44.2L105.3 44.1L103.6 45.6L101.9 46.0L93.2 42.6L91.5 42.7L84.6 46.3L81.2 44.7L79.4 44.9L77.0 47.5L76.0 49.7L70.8 49.1L65.6 50.6L64.6 52.6L63.9 56.2L62.2 57.1L55.3 54.9L54.6 55.9L55.3 63.3L54.9 62.6L53.5 62.0L50.1 61.2L48.3 60.0L47.4 59.3L47.4 57.6L46.6 56.3L44.9 55.4L43.4 55.9L43.8 57.6L46.0 59.3L45.9 60.9L39.7 64.2L38.0 64.7L34.5 63.2L31.1 62.6L29.4 64.6L27.6 64.8L25.9 64.0L24.2 64.2L22.4 65.0L17.3 64.7L14.9 66.0L14.1 67.7ZM90.6 67.7L91.5 65.1L93.2 65.1L94.5 66.0L91.5 68.6ZM74.6 62.6L72.5 62.2L66.3 59.3L68.4 52.6L69.1 52.0L70.8 52.3L74.2 54.4L79.4 54.8L81.8 55.9L82.6 57.6L82.6 59.3L81.2 62.2L77.7 64.2L76.0 63.5ZM89.7 59.3L89.8 58.3L90.1 59.3L89.8 59.5ZM89.5 52.6L87.5 50.9L86.9 49.2L87.1 47.5L89.8 46.3L95.0 46.3L98.4 47.2L101.9 50.2L104.3 50.9L105.5 52.6L105.3 53.0L103.6 53.1L101.9 52.5L98.4 54.1L89.8 52.7ZM117.4 69.3L121.8 69.3L116.2 69.3ZM124.3 69.3L155.9 69.3L157.1 68.9L157.4 69.3L184.1 69.3L183.2 67.7L183.6 66.0L184.8 64.9L186.5 66.2L187.2 67.7L187.0 69.3L229.8 69.3L226.2 67.0L221.0 66.7L212.4 64.8L210.5 62.6L210.9 59.3L212.5 57.6L216.6 55.9L219.1 54.2L221.0 51.3L226.2 49.3L233.1 50.2L234.8 50.0L236.6 48.4L238.3 48.2L241.7 52.1L245.2 53.3L246.1 54.2L246.6 60.9L245.2 62.2L241.7 62.8L238.3 64.5L233.1 63.3L230.5 64.3L231.2 66.0L232.7 67.7L232.1 69.3L241.3 69.3L241.7 69.0L242.0 69.3L305.7 69.3L305.6 67.7L303.9 66.4L302.2 66.2L300.4 65.3L298.8 62.6L298.6 60.9L300.4 60.5L303.9 63.5L305.6 63.2L306.1 62.6L305.6 60.5L303.9 59.4L302.2 59.7L298.7 57.0L295.3 56.3L294.8 54.2L295.2 52.6L296.9 50.9L295.9 49.2L291.3 45.9L290.1 44.4L288.4 43.4L286.6 44.4L284.7 44.2L285.1 42.5L286.6 40.8L290.1 40.6L291.4 34.1L293.5 31.9L295.3 33.3L296.5 35.8L297.0 43.3L298.7 43.2L299.8 42.5L300.5 40.8L299.6 39.1L299.8 37.5L303.1 35.8L303.9 34.9L307.3 36.4L309.1 36.4L311.5 37.5L310.5 39.1L312.5 40.6L312.5 18.4L310.8 19.1L305.6 19.9L304.5 17.3L303.9 17.1L300.4 17.9L297.0 15.1L293.5 17.0L288.4 17.1L284.9 11.9L283.2 12.5L281.4 14.7L280.4 14.0L281.2 10.6L279.7 9.7L278.0 9.5L275.2 10.6L273.6 12.3L269.4 13.8L265.9 14.3L261.4 17.3L259.0 18.3L257.3 15.1L255.5 13.4L253.8 15.1L250.4 14.8L244.5 15.7L238.3 19.1L236.3 19.0L234.8 17.8L233.1 17.7L229.6 18.6L229.2 17.3L227.9 16.0L226.2 16.2L224.8 17.3L224.5 19.0L222.9 20.7L221.0 21.3L220.8 22.4L222.1 25.7L225.9 27.4L229.6 28.0L231.4 28.9L233.1 28.1L236.6 27.6L238.6 29.1L238.2 30.8L240.0 32.7L242.4 32.4L241.5 30.8L243.5 29.6L244.2 30.8L243.7 32.4L243.9 34.1L245.2 34.4L246.6 35.8L247.0 37.5L246.2 40.8L246.9 42.4L248.6 42.7L249.8 44.2L250.5 45.9L250.8 49.2L252.1 50.5L253.8 51.2L257.3 49.6L258.5 50.9L257.3 53.4L255.5 54.1L252.1 54.0L249.6 50.9L248.6 50.3L245.2 50.3L240.0 44.4L238.3 43.4L236.6 43.2L233.6 44.2L231.4 46.3L230.4 45.9L230.8 42.5L229.6 41.2L227.9 41.4L223.2 45.9L222.6 47.5L221.0 48.2L217.6 48.7L215.8 47.9L214.1 47.9L213.1 49.2L212.4 52.6L211.3 54.2L207.7 57.6L207.2 60.1L203.0 62.6L200.3 66.2L198.6 66.5L195.3 64.3L195.8 62.6L195.1 62.1L194.4 62.6L194.9 64.3L193.4 65.4L189.9 63.9L184.8 63.6L183.0 62.3L177.8 65.7L174.4 62.5L172.0 64.3L171.6 66.0L170.9 66.6L169.2 66.9L164.6 64.3L167.5 62.7L169.2 60.0L172.7 59.0L173.7 57.6L171.7 49.2L168.4 45.9L167.5 43.1L165.8 41.4L164.0 40.9L160.6 41.1L157.1 38.8L153.1 37.5L151.0 30.8L151.3 29.1L153.4 25.7L155.4 24.6L157.1 25.0L158.9 26.9L160.6 26.8L161.5 25.7L161.7 24.0L160.6 21.0L158.9 19.2L157.1 18.8L155.4 17.7L153.7 14.2L151.9 13.5L143.3 15.9L139.9 16.2L138.1 16.9L134.5 20.7L134.2 22.4L135.1 25.7L134.9 30.8L133.9 34.1L135.5 37.5L135.4 40.8L136.4 41.2L139.9 40.7L141.6 40.9L142.6 45.9L142.0 47.5L140.9 50.9L139.9 52.4L135.5 55.9L132.6 59.3L133.7 60.9L132.4 64.3L129.5 66.5L125.1 67.7L123.0 69.3ZM175.9 67.7L176.1 66.3L176.6 67.7L176.1 68.1ZM141.3 64.3L139.1 59.3L141.6 57.4L143.3 58.0L144.2 59.3L144.5 60.9L143.3 63.9L141.6 64.5ZM275.5 62.6L275.5 60.9L276.3 59.4L278.0 58.9L280.4 59.3L280.3 60.9L278.8 62.6L276.3 64.0ZM153.2 55.9L151.9 55.7L149.9 54.2L149.4 50.9L146.8 48.5L146.3 47.5L146.8 45.4L150.2 44.6L151.9 42.7L153.7 41.8L156.2 42.5L158.9 44.7L162.3 44.8L164.0 45.3L166.9 49.2L169.2 50.9L170.7 54.2L169.2 56.0L164.0 54.8L158.9 55.3L157.1 54.1L153.7 56.0ZM261.6 45.9L260.7 45.5L259.0 43.1L258.8 42.5L259.5 40.8L262.5 40.4L265.9 41.9L267.2 44.2L267.6 45.9L265.9 46.6L262.5 46.3ZM253.0 39.1L253.8 38.1L255.5 38.4L256.6 39.1L255.5 40.0L253.8 40.1ZM265.7 39.1L262.5 34.1L260.7 33.9L259.0 31.8L252.1 30.8L253.8 30.3L254.0 27.4L252.1 25.9L248.6 26.1L247.8 24.0L248.6 22.4L251.8 24.0L252.1 24.7L255.5 24.9L259.0 23.9L262.5 21.2L265.9 21.3L267.6 19.8L269.4 19.4L271.1 20.4L274.5 17.6L276.6 17.3L278.0 17.7L279.2 19.0L279.7 21.3L281.4 22.9L284.9 25.2L286.6 25.9L288.0 27.4L287.7 29.1L286.6 29.7L283.2 28.9L278.0 29.5L274.5 35.7L271.1 35.1L269.9 35.8L270.3 39.1L269.4 40.7L267.6 40.8L265.9 39.7ZM287.0 34.1L288.4 32.3L288.8 34.1L288.4 34.9ZM229.6 25.7L229.6 24.0L229.6 25.8ZM233.7 24.0L233.2 22.4L234.8 21.3L237.2 22.4L237.0 24.0L234.8 25.1ZM137.6 22.4L138.1 21.8L139.9 21.5L140.8 22.4L139.9 24.0L138.1 23.3ZM122.6 62.7L124.3 64.3L126.0 63.9L127.8 62.7L128.8 60.9L126.0 56.3L120.9 53.5L120.3 55.9L122.0 59.3L121.3 60.9L122.5 62.6ZM310.8 64.1L312.5 63.1L312.5 60.8L310.8 61.3L309.2 62.6ZM117.4 61.1L120.2 60.9L117.7 59.3L115.0 59.3L116.8 60.9ZM126.0 53.0L126.9 52.6L127.0 50.9L125.9 49.2L124.3 48.2L122.6 48.6L121.9 49.2L125.6 52.6ZM3.5 51.0L5.2 52.2L6.7 50.9L7.6 49.2L7.5 47.5L5.2 46.8L3.7 47.5L3.0 49.2L3.4 50.9ZM63.9 49.6L64.2 49.2L63.9 48.8L63.7 49.2ZM300.4 50.0L302.2 50.0L303.9 49.2L303.4 47.5L302.2 46.5L300.4 47.1L299.6 49.2ZM13.8 43.1L15.5 40.8L13.8 39.3L12.1 39.4L11.0 40.8L12.9 42.5ZM305.6 41.8L307.3 42.4L308.1 40.8L307.3 39.9L305.6 40.0L305.4 40.8ZM0.0 40.3L1.7 40.4L3.5 39.8L4.2 39.1L4.1 37.5L5.2 36.1L6.9 35.2L10.4 35.7L15.7 34.1L15.0 30.8L13.8 28.6L12.2 27.4L12.7 25.7L12.3 22.4L15.5 20.6L19.0 20.6L19.6 19.0L19.5 17.3L19.0 16.6L17.3 16.0L15.5 16.3L12.1 16.0L5.2 19.0L0.0 17.6L-1.7 18.0L-1.7 36.2L0.6 37.5L-0.9 39.1ZM10.0 27.4L11.7 27.4L10.4 27.7ZM272.8 29.3L274.5 29.0L276.2 27.4L274.5 23.0L272.8 20.8L271.1 21.1L270.3 24.0L269.8 27.4L271.2 29.1ZM195.1 25.1L196.8 24.9L197.5 24.0L196.8 22.4L195.1 23.1L194.3 24.0ZM210.7 22.4L213.3 20.7L212.4 19.0L210.7 17.9L208.9 18.1L208.3 19.0L208.4 20.7L208.9 21.7L210.5 22.4ZM219.3 21.4L220.8 20.7L219.3 18.1L217.9 19.0L217.9 20.7ZM234.8 16.9L236.6 16.6L237.2 15.7L237.3 14.0L236.6 13.0L234.8 13.9L234.1 15.7ZM196.8 15.1L197.7 14.0L196.8 13.1L195.6 14.0ZM138.1 9.9L139.9 10.5L141.6 8.1L145.0 7.9L147.1 7.3L151.9 4.1L153.7 3.6L157.1 3.6L158.9 4.6L160.6 4.4L164.0 2.8L165.8 3.5L169.2 3.2L174.4 4.9L177.8 4.5L181.3 6.1L183.0 6.2L184.2 5.6L185.4 2.2L186.5 0.7L188.1 2.2L193.4 5.0L195.1 7.0L196.8 6.3L200.3 3.6L202.0 3.2L205.5 3.3L210.7 6.2L215.0 3.9L216.9 2.2L219.3 2.1L221.0 3.5L224.5 3.3L226.0 3.9L227.9 6.3L229.4 5.6L231.4 3.0L233.1 3.0L234.8 3.9L236.2 5.6L236.6 9.3L236.9 8.9L236.7 7.3L238.3 6.9L240.0 5.1L243.5 7.0L245.2 6.2L248.6 2.8L252.1 0.9L253.8 0.6L256.7 2.2L258.1 3.9L257.0 5.6L257.3 6.3L259.0 6.3L260.7 4.2L262.5 3.8L264.2 5.5L264.8 7.3L265.9 7.8L269.4 7.8L271.1 7.3L272.8 5.3L274.5 4.6L279.7 5.9L283.2 5.2L284.9 6.1L286.6 8.2L292.4 5.6L293.5 3.7L295.3 3.7L298.7 6.3L300.4 6.7L304.5 5.6L307.1 0.6L307.2 -1.1L114.5 -1.1L114.0 -0.3L113.2 -1.1L53.7 -1.1L52.6 0.6L52.8 5.6L53.5 6.2L55.3 6.2L57.0 5.3L62.2 4.2L65.6 5.2L67.3 5.0L70.8 2.5L74.2 2.3L76.0 3.4L77.7 5.3L79.4 5.7L84.6 3.5L86.1 3.9L86.3 6.2L88.1 7.6L91.5 5.9L93.2 5.7L95.0 4.8L96.7 2.3L98.4 1.7L102.0 2.2L101.3 5.6L101.9 6.1L103.6 6.2L105.3 4.8L107.1 4.4L110.5 4.5L113.4 3.9L115.7 0.7L117.2 3.9L119.1 4.5L123.6 3.9L124.3 3.5L126.0 1.1L131.2 2.2L133.0 5.6L134.7 6.3L136.4 6.4L137.8 7.3L137.9 8.9ZM36.3 7.8L38.0 8.6L39.7 8.0L40.5 7.3L40.9 5.6L42.5 3.9L44.9 2.3L48.3 2.1L50.1 -0.3L51.3 -1.1L-1.3 -1.1L-1.7 0.1L-1.7 6.6L1.7 4.6L3.5 4.9L5.2 6.2L6.9 6.8L13.8 5.6L17.3 4.0L22.4 4.6L24.2 3.6L25.9 3.4L29.4 5.8L32.8 4.6L34.5 5.1L35.5 7.3ZM9.9 2.2L10.4 1.3L10.9 2.2L10.4 2.6ZM312.5 6.6L312.5 0.6L311.5 -1.1L308.9 -1.1L307.8 0.6L310.8 3.3L311.7 5.6Z"/>
<path fill="#ecbca3" d="M157.1 69.3L157.1 68.9L155.9 69.3ZM227.9 67.9L229.8 69.3L232.1 69.3L232.7 67.7L231.2 66.0L230.5 64.3L231.4 63.8L233.1 63.3L238.3 64.5L241.7 62.8L245.2 62.2L246.6 60.9L246.1 54.2L245.2 53.3L241.7 52.1L238.3 48.2L236.6 48.4L234.8 50.0L233.1 50.2L226.2 49.3L221.0 51.3L219.1 54.2L216.6 55.9L212.5 57.6L210.9 59.3L210.5 62.6L212.4 64.8L221.0 66.7L226.2 67.0L227.7 67.7ZM216.5 64.3L213.8 62.6L213.5 60.9L214.7 59.3L222.7 54.2L226.2 53.5L231.4 53.9L236.6 53.4L239.0 54.2L239.8 55.9L238.0 60.9L236.6 61.4L229.6 60.0L227.9 61.4L226.2 63.8L224.5 64.8L221.0 65.3L217.6 64.7ZM241.7 69.3L242.0 69.3L241.7 69.0L241.3 69.3ZM76.0 63.5L77.7 64.2L81.2 62.2L82.6 59.3L82.6 57.6L81.8 55.9L79.4 54.8L74.2 54.4L70.8 52.3L69.1 52.0L68.4 52.6L66.3 59.3L72.5 62.2L74.6 62.6ZM75.2 59.3L76.0 58.0L77.7 57.5L78.9 59.3L77.7 59.9L76.0 59.5ZM276.3 64.0L278.8 62.6L280.3 60.9L280.4 59.3L278.0 58.9L276.3 59.4L275.5 60.9L275.5 62.6ZM153.7 56.0L157.1 54.1L158.9 55.3L164.0 54.8L169.2 56.0L170.7 54.2L169.2 50.9L166.9 49.2L164.0 45.3L162.3 44.8L158.9 44.7L156.2 42.5L153.7 41.8L151.9 42.7L150.2 44.6L146.8 45.4L146.3 47.5L146.8 48.5L149.4 50.9L149.9 54.2L151.9 55.7L153.2 55.9ZM89.8 52.7L98.4 54.1L101.9 52.5L103.6 53.1L105.3 53.0L105.5 52.6L104.3 50.9L101.9 50.2L98.4 47.2L95.0 46.3L89.8 46.3L87.1 47.5L86.9 49.2L87.5 50.9L89.5 52.6ZM262.5 46.3L265.9 46.6L267.6 45.9L267.2 44.2L265.9 41.9L262.5 40.4L259.5 40.8L258.8 42.5L259.0 43.1L260.7 45.5L261.6 45.9ZM253.8 40.1L255.5 40.0L256.6 39.1L255.5 38.4L253.8 38.1L253.0 39.1ZM265.9 39.7L267.6 40.8L269.4 40.7L270.3 39.1L269.9 35.8L271.1 35.1L274.5 35.7L278.0 29.5L283.2 28.9L286.6 29.7L287.7 29.1L288.0 27.4L286.6 25.9L284.9 25.2L281.4 22.9L279.7 21.3L279.2 19.0L278.0 17.7L276.6 17.3L274.5 17.6L271.1 20.4L269.4 19.4L267.6 19.8L265.9 21.3L262.5 21.2L259.0 23.9L255.5 24.9L252.1 24.7L251.8 24.0L248.6 22.4L247.8 24.0L248.6 26.1L252.1 25.9L254.0 27.4L253.8 30.3L252.1 30.8L259.0 31.8L260.7 33.9L262.5 34.1L265.7 39.1ZM271.2 29.1L269.8 27.4L270.3 24.0L271.1 21.1L272.8 20.8L274.5 23.0L276.2 27.4L274.5 29.0L272.8 29.3ZM288.4 34.9L288.8 34.1L288.4 32.3L287.0 34.1ZM234.8 25.1L237.0 24.0L237.2 22.4L234.8 21.3L233.2 22.4L233.7 24.0ZM138.1 23.3L139.9 24.0L140.8 22.4L139.9 21.5L138.1 21.8L137.6 22.4ZM10.4 2.6L10.9 2.2L10.4 1.3L9.9 2.2Z"/>
<path fill="#de7d68" d="M217.6 64.7L221.0 65.3L224.5 64.8L226.2 63.8L227.9 61.4L229.6 60.0L236.6 61.4L238.0 60.9L239.8 55.9L239.0 54.2L236.6 53.4L231.4 53.9L226.2 53.5L222.7 54.2L214.7 59.3L213.5 60.9L213.8 62.6L216.5 64.3ZM216.3 62.6L216.0 60.9L217.1 59.3L219.3 57.9L222.7 57.0L224.5 56.9L226.0 57.6L225.9 60.9L224.5 63.1L221.0 64.3L217.6 63.5ZM76.0 59.5L77.7 59.9L78.9 59.3L77.7 57.5L76.0 58.0L75.2 59.3Z"/>
<path fill="#c43e42" d="M217.6 63.5L221.0 64.3L224.5 63.1L225.9 60.9L226.0 57.6L224.5 56.9L222.7 57.0L219.3 57.9L217.1 59.3L216.0 60.9L216.3 62.6ZM218.3 62.6L217.7 60.9L219.2 59.3L221.0 58.8L222.9 59.3L223.9 60.9L222.7 62.6L221.0 63.2L219.3 63.1Z"/>
<path fill="#8a182a" d="M219.3 63.1L221.0 63.2L222.7 62.6L223.9 60.9L222.9 59.3L221.0 58.8L219.2 59.3L217.7 60.9L218.3 62.6Z"/>
</g></g>
<g clip-path="url(#boxclip)">
<use href="#coast"/>
</g>
<rect x="189.9" y="28.0" width="17.3" height="22.4" fill="none" stroke="#ee2d23" stroke-width="1.2"/>
<use href="#frame"/>
</g>
<text x="364.6" y="222.9" font-size="8.20" text-anchor="middle" font-weight="normal" textLength="19.4" lengthAdjust="spacingAndGlyphs" fill="#262626">180°</text>
<text x="416.4" y="222.9" font-size="8.20" text-anchor="middle" font-weight="normal" textLength="27.2" lengthAdjust="spacingAndGlyphs" fill="#262626">120°W</text>
<text x="468.2" y="222.9" font-size="8.20" text-anchor="middle" font-weight="normal" textLength="22.0" lengthAdjust="spacingAndGlyphs" fill="#262626">60°W</text>
<text x="520.0" y="222.9" font-size="8.20" text-anchor="middle" font-weight="normal" textLength="17.0" lengthAdjust="spacingAndGlyphs" fill="#262626">0°W</text>
<text x="571.8" y="222.9" font-size="8.20" text-anchor="middle" font-weight="normal" textLength="19.0" lengthAdjust="spacingAndGlyphs" fill="#262626">60°E</text>
<text x="623.6" y="222.9" font-size="8.20" text-anchor="middle" font-weight="normal" textLength="25.0" lengthAdjust="spacingAndGlyphs" fill="#262626">120°E</text>
<text x="675.4" y="222.9" font-size="8.20" text-anchor="middle" font-weight="normal" textLength="19.4" lengthAdjust="spacingAndGlyphs" fill="#262626">180°</text>
<text x="365.0" y="139.2" font-size="13.60" text-anchor="start" font-weight="normal" textLength="16.4" lengthAdjust="spacingAndGlyphs" stroke="#000" stroke-width="0.55">(d)</text>
<g transform="translate(35.2 270.2)">
<g clip-path="url(#boxclip)"><g>
<path fill="#3f1268" d="M198.6 49.3L200.3 48.7L202.3 44.2L202.0 41.7L198.6 39.7L196.3 40.8L195.1 42.5L195.1 44.2L196.8 48.0L198.4 49.2ZM133.0 42.7L134.7 42.9L138.1 42.3L140.3 40.8L140.4 39.1L136.7 34.1L133.0 32.6L131.2 33.2L130.2 34.1L128.9 35.8L128.0 39.1L128.6 40.8L129.5 41.7L132.3 42.5Z"/>
<path fill="#6a4c9b" d="M72.5 54.3L74.2 54.4L76.0 53.2L77.1 50.9L77.2 47.5L76.0 46.3L70.8 45.2L69.9 47.5L70.0 49.2L72.4 54.2ZM198.6 53.2L200.3 53.0L202.0 52.1L203.7 50.2L205.1 42.5L205.1 40.8L204.4 39.1L202.0 35.6L200.3 34.4L198.6 34.7L196.6 35.8L193.4 40.0L192.6 42.5L192.7 47.5L193.4 50.0L195.1 51.8L197.2 52.6ZM198.4 49.2L196.8 48.0L195.1 44.2L195.1 42.5L196.3 40.8L198.6 39.7L202.0 41.7L202.3 44.2L200.3 48.7L198.6 49.3ZM127.8 46.2L131.2 47.5L133.0 47.2L134.7 46.2L138.1 45.7L139.9 44.9L142.4 42.5L143.8 39.1L143.7 37.5L141.6 34.1L138.1 30.3L133.0 28.1L131.2 28.7L128.4 30.8L126.0 31.3L123.9 32.4L122.6 36.3L120.9 39.1L121.2 40.8L122.6 43.4L127.0 45.9ZM132.3 42.5L129.5 41.7L128.6 40.8L128.0 39.1L128.9 35.8L130.2 34.1L131.2 33.2L133.0 32.6L136.7 34.1L140.4 39.1L140.3 40.8L138.1 42.3L134.7 42.9L133.0 42.7ZM207.2 28.3L221.1 25.7L222.9 24.0L222.7 23.2L222.4 22.4L219.3 20.2L210.7 19.2L208.5 20.7L205.8 24.0L205.3 25.7L206.0 27.4Z"/>
<path fill="#9892c0" d="M76.0 59.6L77.7 58.8L78.7 57.6L80.2 54.2L81.3 44.2L79.4 40.7L77.7 39.8L72.5 38.7L69.1 39.9L65.9 42.5L66.3 47.5L65.6 50.9L67.3 55.6L69.1 57.4L74.7 59.3ZM72.4 54.2L70.0 49.2L69.9 47.5L70.8 45.2L76.0 46.3L77.2 47.5L77.1 50.9L76.0 53.2L74.2 54.4L72.5 54.3ZM196.8 57.8L198.6 58.1L200.3 57.5L203.3 55.9L204.6 54.2L208.7 40.8L208.9 38.9L207.4 35.8L208.3 34.1L209.7 32.4L212.4 30.9L215.8 30.1L217.6 30.3L221.0 28.7L226.2 28.2L229.6 26.2L230.1 25.7L230.1 24.0L229.3 22.4L229.9 19.0L229.6 17.3L227.9 16.5L222.7 16.6L217.6 14.9L214.1 15.9L210.7 15.9L207.2 17.0L203.7 17.2L200.3 20.7L199.8 22.4L200.4 24.0L200.3 25.0L198.6 25.7L197.0 27.4L196.8 30.8L193.0 35.8L190.1 42.5L189.9 49.2L191.0 54.2L191.7 55.4L196.5 57.6ZM197.2 52.6L195.1 51.8L193.4 50.0L192.7 47.5L192.6 42.5L193.4 40.0L196.6 35.8L198.6 34.7L200.3 34.4L202.0 35.6L204.4 39.1L205.1 40.8L205.1 42.5L203.7 50.2L202.0 52.1L200.3 53.0L198.6 53.2ZM206.0 27.4L205.3 25.7L205.8 24.0L208.5 20.7L210.7 19.2L219.3 20.2L222.4 22.4L222.7 23.2L222.9 24.0L221.1 25.7L207.2 28.3ZM129.5 51.0L134.7 52.2L136.4 52.0L141.1 49.2L143.6 45.9L146.0 39.1L146.1 37.5L143.3 29.8L133.0 24.0L131.2 24.1L124.5 27.4L120.9 30.3L120.0 32.4L119.7 35.8L118.3 37.5L118.0 39.1L118.9 44.2L119.9 45.9L124.3 48.9L129.1 50.9ZM127.0 45.9L122.6 43.4L121.2 40.8L120.9 39.1L122.6 36.3L123.9 32.4L126.0 31.3L128.4 30.8L131.2 28.7L133.0 28.1L138.1 30.3L141.6 34.1L143.7 37.5L143.8 39.1L142.4 42.5L139.9 44.9L138.1 45.7L134.7 46.2L133.0 47.2L131.2 47.5L127.8 46.2ZM234.8 7.3L243.5 6.3L248.6 7.5L253.8 7.3L262.5 7.9L269.4 7.3L274.5 7.4L278.0 6.0L283.2 5.0L284.9 4.0L288.4 4.3L289.3 3.9L288.4 3.6L284.9 3.8L284.0 2.2L281.4 1.7L272.8 2.1L265.9 1.1L262.5 1.4L259.0 1.1L257.3 1.7L241.7 1.9L233.1 0.9L227.9 2.6L221.0 2.1L217.5 3.9L219.3 5.3L221.0 5.9L224.4 5.6L227.9 4.6L231.4 6.5L234.5 7.3Z"/>
<path fill="#c6c4e1" d="M70.8 66.1L72.5 66.6L75.7 64.3L80.6 62.6L81.5 60.9L83.2 55.9L83.7 52.6L83.8 44.2L82.5 35.8L82.9 30.8L83.6 29.1L86.3 26.6L88.1 26.2L89.8 26.4L91.5 25.8L96.0 22.4L96.5 19.0L95.7 17.3L93.2 15.6L91.5 15.1L86.3 15.4L83.0 14.0L81.2 14.1L77.7 17.7L76.0 17.6L74.2 18.3L73.8 20.7L72.8 22.4L65.8 24.0L65.5 25.7L67.4 27.4L68.2 29.1L68.1 30.8L63.9 35.5L63.4 39.1L62.1 42.5L62.1 49.2L63.1 54.2L62.8 55.9L63.0 57.6L65.4 60.9L65.6 62.0L67.9 64.3L70.6 66.0ZM74.7 59.3L69.1 57.4L67.3 55.6L65.6 50.9L66.3 47.5L65.9 42.5L69.1 39.9L72.5 38.7L77.7 39.8L79.4 40.7L81.3 44.2L80.2 54.2L78.7 57.6L77.7 58.8L76.0 59.6ZM195.1 61.8L196.8 62.6L198.6 62.3L200.3 60.8L203.7 60.2L205.5 59.2L206.6 57.6L207.6 52.6L211.5 40.8L212.1 35.8L213.6 34.1L215.8 33.0L219.3 32.8L224.5 31.7L231.4 29.2L234.6 25.7L236.1 22.4L235.6 19.0L231.4 13.1L229.6 12.4L226.9 12.3L226.6 10.6L227.9 9.1L231.4 10.1L236.6 10.0L243.5 8.6L245.2 8.8L248.6 10.1L252.1 9.6L255.5 10.2L259.0 9.9L264.2 10.9L265.9 10.8L269.4 9.5L274.5 9.7L279.7 9.0L291.8 8.6L295.3 6.9L298.7 7.7L302.2 7.4L305.6 6.8L307.3 5.6L310.8 9.2L312.5 8.9L311.9 7.3L312.5 3.6L310.8 3.4L309.1 5.1L307.3 5.6L306.7 3.9L305.6 3.0L303.9 2.7L300.4 4.4L298.3 0.6L295.3 0.2L291.8 0.5L288.4 -0.5L283.2 -0.8L274.5 -0.9L269.4 -0.4L264.9 -1.1L246.6 -1.1L243.5 -0.7L240.7 -1.1L233.1 -1.1L227.9 -0.6L221.0 -0.6L215.8 0.1L202.0 -0.6L193.4 2.2L191.7 2.2L189.9 1.3L188.2 1.4L186.6 2.2L187.0 3.9L189.9 4.6L191.7 4.2L195.1 6.6L200.3 6.7L206.1 8.9L207.2 10.1L208.9 10.1L209.7 8.9L214.1 8.4L217.6 8.9L219.3 9.7L220.0 10.6L219.3 11.5L217.6 11.0L215.8 11.0L214.1 11.6L210.7 11.1L208.9 11.3L208.6 12.3L207.2 13.3L203.7 13.6L198.6 15.4L194.6 19.0L193.2 24.0L192.8 29.1L188.2 40.8L186.8 47.5L188.3 52.6L189.0 57.6L189.9 59.2L193.8 60.9ZM196.5 57.6L191.7 55.4L191.0 54.2L189.9 49.2L190.1 42.5L193.0 35.8L196.8 30.8L197.0 27.4L198.6 25.7L200.3 25.0L200.4 24.0L199.8 22.4L200.3 20.7L203.7 17.2L207.2 17.0L210.7 15.9L214.1 15.9L217.6 14.9L222.7 16.6L227.9 16.5L229.6 17.3L229.9 19.0L229.3 22.4L230.1 24.0L230.1 25.7L229.6 26.2L226.2 28.2L221.0 28.7L217.6 30.3L215.8 30.1L212.4 30.9L209.7 32.4L208.3 34.1L207.4 35.8L208.9 38.9L208.7 40.8L204.6 54.2L203.3 55.9L200.3 57.5L198.6 58.1L196.8 57.8ZM234.5 7.3L231.4 6.5L227.9 4.6L224.4 5.6L221.0 5.9L219.3 5.3L217.5 3.9L221.0 2.1L227.9 2.6L233.1 0.9L241.7 1.9L257.3 1.7L259.0 1.1L262.5 1.4L265.9 1.1L272.8 2.1L281.4 1.7L284.0 2.2L284.9 3.8L288.4 3.6L289.3 3.9L288.4 4.3L284.9 4.0L283.2 5.0L278.0 6.0L274.5 7.4L269.4 7.3L262.5 7.9L253.8 7.3L248.6 7.5L243.5 6.3L234.8 7.3ZM22.4 58.0L25.9 57.7L27.6 56.9L28.7 54.2L28.5 52.6L26.5 49.2L24.7 44.2L21.1 40.8L20.0 37.5L12.1 36.9L8.6 38.5L1.7 40.3L-1.7 39.3L-1.7 49.4L3.5 50.1L6.9 50.0L12.1 52.8L15.5 52.1L19.0 53.8L21.9 57.6ZM124.3 56.8L126.0 56.9L131.2 55.6L134.7 56.2L138.1 55.7L139.9 54.9L143.3 51.1L146.6 49.2L147.7 47.5L147.9 45.9L147.0 42.5L148.2 37.5L146.3 29.1L142.4 24.0L139.9 22.1L134.7 20.4L129.5 21.4L126.0 23.4L122.6 24.5L118.2 27.4L116.6 29.1L115.1 37.5L116.4 42.5L116.5 47.5L117.4 48.6L119.1 49.6L123.2 55.9ZM129.1 50.9L124.3 48.9L119.9 45.9L118.9 44.2L118.0 39.1L118.3 37.5L119.7 35.8L120.0 32.4L120.9 30.3L124.5 27.4L131.2 24.1L133.0 24.0L143.3 29.8L146.1 37.5L146.0 39.1L143.6 45.9L141.1 49.2L136.4 52.0L134.7 52.2L129.5 51.0ZM300.4 51.5L302.2 52.3L305.6 49.9L310.8 48.4L312.5 48.4L312.5 39.0L310.8 39.0L309.1 40.7L307.3 41.2L300.4 38.6L298.7 38.6L297.0 39.3L294.6 44.2L296.5 47.5L299.9 50.9ZM-0.6 5.6L-0.2 3.9L-1.7 2.7L-1.7 7.1ZM183.0 4.0L185.2 3.9L183.0 1.9L180.8 2.2L182.6 3.9Z"/>
<path fill="#e5e7f2" d="M-1.4 67.7L0.0 67.0L1.7 67.8L2.8 69.3L8.1 69.3L8.6 68.6L10.4 68.5L11.4 67.7L10.8 66.0L11.9 64.3L13.8 64.0L17.3 66.9L22.4 64.9L25.9 66.6L27.6 66.5L29.3 64.3L30.0 60.9L31.5 59.3L32.2 50.9L29.6 45.9L29.8 44.2L31.3 40.8L31.2 37.5L32.2 34.1L29.4 33.3L25.9 33.2L25.4 30.8L24.5 29.1L26.2 25.7L25.8 24.0L24.3 22.4L25.9 20.8L25.9 20.3L25.5 19.0L23.2 17.3L22.4 11.9L20.7 10.8L17.3 10.5L12.9 7.3L11.5 5.6L12.1 3.9L13.8 2.7L15.5 3.0L16.2 2.2L16.2 0.6L15.2 -1.1L10.9 -1.1L10.4 -0.6L9.4 -1.1L-1.7 -1.1L-1.7 2.7L-0.2 3.9L-0.6 5.6L-1.7 7.1L-1.7 18.9L1.7 17.8L2.8 19.0L3.2 20.7L2.7 24.0L1.7 26.5L0.0 28.4L-1.7 27.3L-1.7 39.3L1.7 40.3L8.6 38.5L12.1 36.9L20.0 37.5L21.1 40.8L24.7 44.2L26.5 49.2L28.5 52.6L28.3 55.9L27.6 56.9L25.9 57.7L22.4 58.0L19.0 53.8L15.5 52.1L12.1 52.8L6.9 50.0L3.5 50.1L-1.7 49.4L-1.7 67.9ZM3.0 66.0L4.6 64.3L5.2 64.3L6.7 66.0L5.2 66.8L3.5 66.3ZM-0.8 64.3L0.0 62.3L1.0 62.6L2.8 64.3L1.7 65.1L0.0 65.4ZM15.0 24.0L15.5 23.2L16.4 24.0L15.5 24.8ZM20.0 20.7L19.8 19.0L20.7 18.2L22.4 18.3L23.0 19.0L23.1 20.7L22.4 21.8L20.7 21.3ZM62.2 69.0L81.3 69.3L82.1 67.7L83.8 66.0L86.6 60.9L85.6 54.2L86.2 49.2L86.1 35.8L86.5 34.1L92.9 29.1L98.4 26.7L100.1 25.5L103.6 24.8L104.1 24.0L104.2 22.4L102.5 17.3L102.2 14.0L93.2 11.2L91.5 11.1L86.3 12.3L81.2 11.5L76.0 12.5L72.5 14.1L69.1 13.9L67.3 14.3L61.4 17.3L61.0 20.7L60.4 22.0L58.0 24.0L57.7 25.7L57.9 29.1L59.4 32.4L58.8 35.8L59.1 42.5L58.2 47.5L57.8 55.9L60.5 59.3L61.1 60.9L60.1 64.3L60.3 66.0L61.1 67.7ZM70.6 66.0L67.9 64.3L65.6 62.0L65.4 60.9L63.0 57.6L62.8 55.9L63.1 54.2L62.1 49.2L62.1 42.5L63.4 39.1L63.9 35.5L68.1 30.8L68.2 29.1L67.4 27.4L65.5 25.7L65.8 24.0L72.8 22.4L73.8 20.7L74.2 18.3L76.0 17.6L77.7 17.7L81.2 14.1L83.0 14.0L86.3 15.4L91.5 15.1L93.2 15.6L95.7 17.3L96.5 19.0L96.0 22.4L91.5 25.8L89.8 26.4L88.1 26.2L86.3 26.6L83.6 29.1L82.9 30.8L82.5 35.8L83.8 44.2L83.7 52.6L83.2 55.9L81.5 60.9L80.6 62.6L75.7 64.3L72.5 66.6L70.8 66.1ZM193.4 68.5L194.5 69.3L204.2 69.3L204.0 67.7L205.5 66.5L207.2 66.4L210.6 64.3L211.0 62.6L210.6 60.9L210.4 54.2L211.9 45.9L215.4 40.8L216.4 37.5L217.6 36.4L219.7 35.8L224.5 35.7L226.2 35.2L227.9 33.6L235.5 30.8L237.8 25.7L242.9 22.4L244.1 20.7L244.3 15.7L245.2 14.1L248.6 15.5L250.4 15.2L252.1 13.8L253.8 13.4L255.5 13.7L259.0 13.1L267.6 14.5L269.4 15.1L272.8 12.8L276.3 13.2L279.7 12.3L281.4 13.0L283.2 12.8L284.9 11.9L286.9 12.3L288.4 13.7L290.1 14.3L295.3 14.2L297.0 15.0L297.5 15.7L297.1 17.3L297.4 19.0L298.7 21.8L300.4 22.4L302.2 22.2L302.2 24.1L300.4 25.9L298.7 26.0L297.0 26.9L295.3 30.5L293.5 31.3L292.9 30.8L292.6 29.1L293.2 25.7L292.0 24.0L291.4 24.0L290.1 25.3L288.4 28.2L286.6 29.1L285.3 32.4L283.3 34.1L281.4 34.1L279.7 33.3L276.3 35.2L274.5 35.4L272.8 36.3L271.0 39.1L270.1 44.2L272.3 47.5L272.8 49.7L272.1 50.9L271.1 51.2L267.6 48.8L264.6 50.9L264.4 52.6L265.2 54.2L270.5 59.3L271.2 64.3L272.8 67.7L274.5 69.1L279.7 69.1L281.4 67.7L281.3 66.0L279.4 62.6L279.7 61.1L283.2 61.9L283.6 60.9L284.9 60.2L286.6 60.0L292.5 62.6L293.0 64.3L291.8 65.3L288.4 64.8L286.6 65.5L284.9 65.4L283.2 63.5L282.3 66.0L283.6 67.7L282.6 69.3L292.1 69.3L293.6 67.7L294.4 66.0L297.0 65.1L298.7 65.2L300.2 66.0L300.7 67.7L299.9 69.3L306.7 69.3L306.0 66.0L305.6 65.2L303.7 64.3L303.5 62.6L305.6 60.8L307.3 60.9L311.7 64.3L312.5 65.9L312.5 48.4L310.8 48.4L305.6 49.9L302.2 52.3L300.4 51.5L296.5 47.5L294.6 44.2L297.0 39.3L298.7 38.6L302.2 39.1L307.3 41.2L309.1 40.7L310.8 39.0L312.5 39.0L312.5 8.9L310.2 8.9L307.3 5.6L305.6 6.8L302.2 7.4L298.7 7.7L295.3 6.9L291.8 8.6L279.7 9.0L274.5 9.7L269.4 9.5L265.9 10.8L264.2 10.9L259.0 9.9L255.5 10.2L252.1 9.6L248.6 10.1L245.2 8.8L243.5 8.6L236.6 10.0L231.4 10.1L227.9 9.1L226.6 10.6L226.9 12.3L229.6 12.4L231.4 13.1L235.6 19.0L236.1 22.4L234.6 25.7L231.4 29.2L224.5 31.7L219.3 32.8L215.8 33.0L213.6 34.1L212.4 35.3L211.5 40.8L207.6 52.6L206.6 57.6L205.5 59.2L203.7 60.2L200.3 60.8L198.6 62.3L196.8 62.6L189.9 59.2L189.0 57.6L188.3 52.6L186.8 47.5L188.2 40.8L192.8 29.1L193.2 24.0L194.6 19.0L198.6 15.4L203.7 13.6L207.2 13.3L208.6 12.3L208.9 11.3L210.7 11.1L214.1 11.6L215.8 11.0L217.6 11.0L219.3 11.5L220.0 10.6L219.3 9.7L217.6 8.9L214.1 8.4L209.7 8.9L208.9 10.1L207.2 10.1L206.1 8.9L200.3 6.7L195.1 6.6L191.7 4.2L189.9 4.6L187.0 3.9L186.6 2.2L188.2 1.4L189.9 1.3L191.7 2.2L193.4 2.2L202.0 -0.6L217.6 0.1L221.0 -0.6L227.9 -0.6L233.1 -1.1L176.4 -1.1L172.7 -0.3L171.3 0.6L171.2 2.2L171.7 3.9L173.5 5.6L183.0 8.0L186.5 8.3L189.7 10.6L189.8 15.7L188.5 17.3L187.5 22.4L187.6 24.0L189.0 27.4L188.9 29.1L186.5 35.8L185.8 40.8L184.1 45.9L184.0 47.5L185.4 50.9L183.9 57.6L184.8 60.0L186.8 62.6L188.2 66.7L189.9 67.6L192.0 67.7ZM277.9 60.9L275.2 59.3L276.3 58.4L278.0 58.0L278.3 55.9L277.4 52.6L278.2 49.2L278.4 45.9L278.0 43.9L276.1 40.8L278.0 40.1L279.7 40.0L281.4 40.3L283.7 44.2L286.1 50.9L283.9 54.2L283.1 57.6L280.8 59.3L279.7 60.8L278.0 61.0ZM310.3 22.4L311.9 22.4L310.8 22.7ZM303.7 20.7L303.9 19.0L303.9 20.8ZM193.0 14.0L193.9 12.3L193.6 10.6L195.1 10.2L196.8 10.6L195.4 14.0L193.4 14.4ZM242.9 12.3L243.6 12.3L243.5 13.3ZM182.6 3.9L180.8 2.2L183.0 1.9L185.2 3.9L183.0 4.0ZM207.2 69.3L208.9 69.3L207.0 69.3ZM245.2 69.3L247.7 69.3L249.4 67.7L251.2 64.3L252.1 63.5L253.8 63.3L255.1 62.6L255.2 60.9L253.8 60.1L248.6 54.1L246.9 53.0L242.0 57.6L240.7 60.9L240.9 62.6L243.9 66.0L244.8 69.3ZM312.5 69.3L312.5 68.5L311.9 69.3ZM126.0 66.4L129.5 65.1L131.2 66.0L133.0 65.8L134.7 63.4L136.4 62.2L138.1 62.4L139.7 59.3L143.3 57.5L145.0 59.2L146.8 62.0L148.5 61.7L149.2 55.9L151.9 54.3L153.1 52.6L152.1 49.2L151.9 45.9L150.3 42.5L150.7 37.5L149.8 32.4L147.9 27.4L143.6 20.7L143.3 17.3L138.1 13.8L134.7 13.8L133.0 11.9L131.2 11.5L129.3 12.3L128.9 14.0L130.1 15.7L130.6 17.3L119.1 23.4L114.0 25.7L111.3 27.4L111.2 29.1L113.0 35.8L113.8 44.2L113.7 49.2L114.4 54.2L117.5 59.3L120.9 63.5L124.6 66.0ZM123.2 55.9L119.1 49.6L117.4 48.6L116.5 47.5L116.4 42.5L115.1 37.5L116.6 29.1L118.2 27.4L122.6 24.5L126.0 23.4L129.5 21.4L134.7 20.4L139.9 22.1L142.4 24.0L146.3 29.1L148.2 37.5L147.0 42.5L147.9 45.9L147.7 47.5L146.6 49.2L143.3 51.1L139.9 54.9L138.1 55.7L134.7 56.2L131.2 55.6L126.0 56.9L124.3 56.8ZM112.2 61.3L113.0 60.9L112.2 59.4L111.9 60.9ZM255.5 52.9L257.3 53.8L259.0 53.3L259.7 52.6L260.1 50.9L259.0 49.5L257.3 49.4L255.7 50.9L255.4 52.6ZM286.6 22.8L288.4 22.9L289.0 22.4L286.6 20.6L286.0 20.7L286.1 22.4ZM312.5 8.9L312.5 4.9L311.9 7.3ZM300.4 4.4L303.9 2.7L305.6 3.0L306.7 3.9L307.3 5.6L309.1 5.1L310.8 3.4L312.5 3.6L312.5 -1.1L264.9 -1.1L269.4 -0.4L274.5 -0.9L283.2 -0.8L288.4 -0.5L291.8 0.5L297.0 0.3L298.3 0.6L299.9 3.9ZM241.7 -0.8L246.6 -1.1L240.7 -1.1ZM250.4 -1.1L250.7 -1.1L249.3 -1.1ZM260.7 -1.0L263.7 -1.1L259.6 -1.1Z"/>
<path fill="#f5ecd6" d="M0.0 69.3L2.8 69.3L1.7 67.8L0.0 67.0L-1.7 67.9L-1.7 69.3ZM8.6 69.3L62.4 69.3L60.3 66.0L60.1 64.3L61.1 60.9L60.5 59.3L57.8 55.9L58.2 47.5L59.1 42.5L58.8 35.8L59.4 32.4L57.9 29.1L58.0 24.0L60.4 22.0L61.0 20.7L61.4 17.3L67.3 14.3L69.1 13.9L72.5 14.1L76.0 12.5L81.2 11.5L86.3 12.3L91.5 11.1L95.0 11.6L102.2 14.0L102.5 17.3L103.9 20.7L104.1 24.0L103.6 24.8L100.1 25.5L98.4 26.7L92.9 29.1L86.5 34.1L86.1 35.8L86.2 49.2L85.6 54.2L86.6 60.9L83.8 66.0L82.1 67.7L81.3 69.3L194.5 69.3L191.7 67.4L189.9 67.6L188.2 66.7L186.8 62.6L184.8 60.0L183.9 57.6L185.4 50.9L184.0 47.5L184.1 45.9L185.8 40.8L186.5 35.8L188.9 29.1L189.0 27.4L187.6 24.0L187.5 22.4L188.5 17.3L189.8 15.7L189.7 10.6L186.5 8.3L183.0 8.0L174.4 5.9L172.7 5.0L171.7 3.9L171.2 2.2L171.3 0.6L172.7 -0.3L176.4 -1.1L72.0 -1.1L76.0 -0.2L81.2 -0.8L89.8 -1.0L105.3 -0.7L115.7 1.2L119.1 0.2L123.8 2.2L124.2 3.9L120.9 8.2L117.4 8.7L114.0 10.4L110.7 8.9L108.8 8.7L105.3 9.8L100.1 10.0L95.0 8.8L86.3 10.1L82.9 9.5L77.7 10.4L70.8 10.6L63.9 12.2L60.4 11.8L55.3 12.3L50.2 14.0L50.4 17.3L51.8 19.0L50.6 20.7L50.1 22.4L53.2 25.7L53.4 32.4L53.7 34.1L55.5 37.5L55.3 42.5L53.4 45.9L53.0 52.6L51.9 55.9L50.1 57.6L49.2 59.3L49.2 62.6L48.3 63.7L43.0 64.3L41.4 64.8L39.7 66.1L38.0 65.7L37.1 64.3L35.2 57.6L36.5 50.9L35.8 47.5L35.6 37.5L37.0 34.1L37.6 30.8L35.1 27.4L35.1 24.0L34.3 20.7L34.6 19.0L36.3 18.0L41.4 17.3L47.3 14.0L46.6 13.1L44.9 13.4L39.7 11.3L36.3 11.8L32.8 10.2L27.6 9.6L25.9 8.6L22.8 5.6L22.9 3.9L24.2 2.8L34.5 -0.0L38.0 0.4L41.4 -0.4L44.9 0.1L48.8 -1.1L15.2 -1.1L16.2 0.6L16.2 2.2L15.5 3.0L13.8 2.7L12.1 3.9L11.5 5.6L12.9 7.3L17.3 10.5L20.7 10.8L22.4 11.9L23.2 17.3L25.5 19.0L25.9 20.3L25.9 20.8L24.3 22.4L25.8 24.0L26.2 25.7L24.5 29.1L25.4 30.8L25.9 33.2L29.4 33.3L32.2 34.1L31.2 37.5L31.3 40.8L29.8 44.2L29.6 45.9L32.2 50.9L31.9 57.6L31.5 59.3L30.0 60.9L29.3 64.3L27.6 66.5L25.9 66.6L22.4 64.9L17.3 66.9L14.5 64.3L12.1 64.2L10.8 66.0L11.4 67.7L10.4 68.5L8.6 68.6L8.1 69.3ZM161.9 67.7L160.6 66.7L159.1 64.3L160.8 60.9L158.2 57.6L158.0 55.9L158.7 52.6L158.2 50.9L154.0 44.2L152.4 32.4L149.5 24.0L149.3 22.4L151.2 17.3L152.4 15.7L152.9 14.0L152.7 10.6L153.7 9.3L155.4 7.8L157.1 7.1L160.6 7.2L164.0 6.6L165.8 7.0L167.5 8.4L170.9 8.4L174.1 10.6L177.8 11.7L181.0 14.0L182.0 15.7L180.6 19.0L182.5 22.4L182.2 25.7L183.9 34.1L183.0 39.1L181.5 42.5L182.1 50.9L179.6 53.6L176.1 55.9L172.7 60.5L170.9 61.4L169.2 60.7L167.5 61.0L166.5 62.6L165.8 66.1L164.0 67.5L162.3 67.9ZM124.6 66.0L120.9 63.5L117.5 59.3L114.4 54.2L113.7 49.2L113.8 44.2L113.0 35.8L111.2 29.1L111.3 27.4L114.0 25.7L119.1 23.4L130.6 17.3L130.1 15.7L128.9 14.0L129.3 12.3L131.2 11.5L133.0 11.9L134.7 13.8L138.1 13.8L143.3 17.3L143.6 20.7L147.9 27.4L149.8 32.4L150.7 37.5L150.3 42.5L151.9 45.9L152.1 49.2L153.1 52.6L151.9 54.3L149.2 55.9L148.5 61.7L146.8 62.0L145.0 59.2L143.3 57.5L139.7 59.3L138.1 62.4L136.4 62.2L134.7 63.4L133.0 65.8L131.2 66.0L129.5 65.1L126.0 66.4ZM93.3 64.3L91.3 62.6L87.9 54.2L87.7 50.9L89.0 39.1L92.3 34.1L95.0 32.3L101.9 29.9L105.3 30.3L108.5 32.4L110.0 35.8L111.2 45.9L110.3 52.6L108.3 57.6L107.1 59.2L103.1 62.6L101.9 63.6L98.4 64.0L96.7 65.0L95.0 65.3ZM172.5 64.3L172.3 62.6L172.7 61.8L176.1 61.3L177.8 61.8L178.4 62.6L176.1 65.3L174.4 65.5L172.7 64.7ZM111.9 60.9L112.2 59.4L113.0 60.9L112.2 61.3ZM108.3 20.7L108.0 19.0L108.5 17.3L112.2 12.9L114.0 12.5L117.4 13.5L119.1 13.5L120.9 14.0L122.6 15.7L122.6 17.3L120.9 18.3L117.4 18.8L114.0 20.6L108.8 21.2ZM124.7 3.9L126.0 2.8L127.8 2.8L129.5 3.5L131.2 3.1L133.0 3.9L131.2 4.5L126.0 4.3ZM198.6 69.3L200.1 69.3L197.8 69.3ZM205.5 69.3L244.8 69.3L243.9 66.0L240.9 62.6L240.7 60.9L242.0 57.6L246.9 53.0L248.6 54.1L253.8 60.1L255.2 60.9L255.1 62.6L253.8 63.3L252.1 63.5L251.2 64.3L249.4 67.7L247.7 69.3L282.6 69.3L283.6 67.7L282.3 66.0L283.2 63.5L284.9 65.4L286.6 65.5L288.4 64.8L291.8 65.3L293.0 64.3L292.5 62.6L286.6 60.0L284.9 60.2L283.6 60.9L283.2 61.9L279.7 61.1L279.4 62.6L281.3 66.0L281.4 67.7L279.7 69.1L274.5 69.1L272.8 67.7L271.2 64.3L270.5 59.3L265.2 54.2L264.4 52.6L264.6 50.9L267.6 48.8L271.1 51.2L272.1 50.9L272.8 49.7L272.3 47.5L270.1 44.2L271.0 39.1L272.8 36.3L274.5 35.4L276.3 35.2L279.7 33.3L281.4 34.1L283.3 34.1L285.3 32.4L286.6 29.1L288.4 28.2L290.1 25.3L291.4 24.0L292.0 24.0L293.2 25.7L292.6 29.1L292.9 30.8L293.5 31.3L294.7 30.8L296.2 29.1L297.0 26.9L298.7 26.0L300.4 25.9L302.2 24.1L302.2 22.4L298.7 21.8L297.4 19.0L297.1 17.3L297.5 15.7L297.0 15.0L295.3 14.2L290.1 14.3L288.4 13.7L286.9 12.3L284.9 11.9L283.2 12.8L281.4 13.0L279.7 12.3L276.3 13.2L272.8 12.8L269.4 15.1L267.6 14.5L259.0 13.1L255.5 13.7L253.8 13.4L252.1 13.8L250.4 15.2L248.6 15.5L245.2 14.1L244.3 15.7L244.1 20.7L242.9 22.4L237.8 25.7L235.5 30.8L227.9 33.6L226.2 35.2L224.5 35.7L219.7 35.8L217.6 36.4L216.4 37.5L215.4 40.8L211.9 45.9L210.4 54.2L210.6 60.9L211.0 62.6L210.6 64.3L207.2 66.4L205.5 66.5L204.0 67.7L204.2 69.3ZM219.3 59.3L215.8 56.2L214.1 55.3L213.6 54.2L213.5 52.6L214.8 47.5L215.8 46.1L219.3 43.6L222.7 41.9L224.5 41.5L227.9 42.1L229.6 41.7L230.8 40.8L232.2 39.1L233.1 36.9L236.6 35.0L238.5 32.4L240.0 29.1L246.4 24.0L248.6 21.5L250.4 20.7L255.5 19.8L260.7 22.4L262.5 21.0L264.2 21.9L265.6 24.0L267.5 25.7L267.6 26.6L270.3 27.4L267.6 28.1L267.8 30.8L267.3 32.4L264.2 36.1L261.5 37.5L259.0 39.9L255.5 41.5L252.1 43.8L250.4 44.3L246.9 43.8L241.7 46.8L241.2 47.5L241.3 49.2L240.4 50.9L233.1 57.6L229.6 58.1L226.2 60.2L222.7 59.5L221.0 59.9L219.3 59.3ZM255.4 52.6L255.7 50.9L257.3 49.4L259.0 49.5L260.1 50.9L259.7 52.6L259.0 53.3L257.3 53.8L255.5 52.9ZM286.1 22.4L286.0 20.7L286.6 20.6L289.0 22.4L288.4 22.9L286.6 22.8ZM293.5 69.3L299.9 69.3L300.7 67.7L300.4 66.5L298.7 65.2L295.3 65.6L294.4 66.0L293.6 67.7L292.1 69.3ZM307.3 69.3L311.9 69.3L312.5 68.5L312.5 65.9L311.7 64.3L307.3 60.9L305.6 60.8L303.5 62.6L303.7 64.3L305.6 65.2L306.7 69.3ZM3.5 66.3L5.2 66.8L6.7 66.0L5.2 64.3L4.6 64.3L3.0 66.0ZM0.0 65.4L1.7 65.1L2.8 64.3L1.0 62.6L0.0 62.3L-0.8 64.3ZM278.0 61.0L279.7 60.8L280.8 59.3L283.1 57.6L283.9 54.2L286.1 50.9L283.7 44.2L281.4 40.3L279.7 40.0L278.0 40.1L276.1 40.8L278.0 43.9L278.4 45.9L278.2 49.2L277.4 52.6L278.3 55.9L278.0 58.0L276.3 58.4L275.2 59.3L277.9 60.9ZM280.2 50.9L280.5 49.2L281.4 47.7L282.6 49.2L282.7 50.9L281.4 52.5ZM0.0 28.4L2.1 25.7L3.0 22.4L3.2 20.7L2.8 19.0L1.7 17.8L-1.7 18.9L-1.6 27.4ZM15.5 24.8L16.4 24.0L15.5 23.2L15.0 24.0ZM310.8 22.7L311.9 22.4L310.3 22.4ZM20.7 21.3L22.4 21.8L23.1 20.7L23.0 19.0L22.4 18.3L20.7 18.2L19.8 19.0L20.0 20.7ZM303.9 20.8L303.9 19.0L303.7 20.7ZM193.4 14.4L195.4 14.0L196.8 10.6L195.1 10.2L193.6 10.6L193.9 12.3L193.0 14.0ZM243.5 13.3L243.6 12.3L242.9 12.3ZM10.4 -0.6L10.9 -1.1L9.4 -1.1ZM53.5 -0.9L58.7 -0.3L62.2 -0.7L65.6 -0.5L68.3 -1.1L51.8 -1.1Z"/>
<path fill="#f2ca8e" d="M162.3 67.9L164.0 67.5L165.8 66.1L166.5 62.6L167.5 61.0L169.2 60.7L170.9 61.4L172.7 60.5L176.1 55.9L179.6 53.6L182.1 50.9L181.5 42.5L183.0 39.1L183.9 34.1L182.2 25.7L182.5 22.4L180.6 19.0L182.0 15.7L181.0 14.0L177.8 11.7L174.1 10.6L170.9 8.4L167.5 8.4L165.8 7.0L164.0 6.6L160.6 7.2L157.1 7.1L155.4 7.8L153.7 9.3L152.7 10.6L152.9 14.0L152.4 15.7L151.2 17.3L149.3 22.4L149.5 24.0L152.4 32.4L154.0 44.2L158.2 50.9L158.7 52.6L158.0 55.9L158.2 57.6L160.8 60.9L159.1 64.3L160.6 66.7L161.9 67.7ZM163.7 55.9L161.5 52.6L158.8 45.9L156.2 42.5L155.6 37.5L154.5 34.1L154.5 27.4L153.6 22.4L154.9 19.0L157.1 15.4L162.3 14.0L164.0 12.8L165.8 12.3L169.2 12.9L171.6 14.0L173.1 17.3L175.5 19.0L176.9 20.7L178.8 27.4L179.8 29.1L180.1 34.1L179.4 40.8L177.8 46.9L176.8 49.2L170.9 53.7L169.2 53.7L168.2 54.2L165.8 56.9L164.0 56.6ZM39.7 66.1L41.4 64.8L43.0 64.3L48.3 63.7L49.2 62.6L49.2 59.3L50.1 57.6L51.9 55.9L53.0 52.6L53.4 45.9L55.3 42.5L55.5 37.5L53.7 34.1L53.4 32.4L53.2 25.7L50.1 22.4L50.6 20.7L51.8 19.0L50.4 17.3L50.2 14.0L55.3 12.3L60.4 11.8L63.9 12.2L70.8 10.6L77.7 10.4L82.9 9.5L86.3 10.1L95.0 8.8L100.1 10.0L105.3 9.8L108.8 8.7L110.7 8.9L114.0 10.4L117.4 8.7L120.9 8.2L124.2 3.9L123.8 2.2L119.1 0.2L115.7 1.2L105.3 -0.7L89.8 -1.0L81.2 -0.8L76.0 -0.2L72.0 -1.1L58.7 -0.3L55.3 -0.9L48.8 -1.1L44.9 0.1L41.4 -0.4L38.0 0.4L34.5 -0.0L24.2 2.8L22.9 3.9L22.8 5.6L25.9 8.6L27.6 9.6L32.8 10.2L36.3 11.8L39.7 11.3L44.9 13.4L46.6 13.1L47.3 14.0L41.4 17.3L36.3 18.0L34.6 19.0L34.3 20.7L35.1 24.0L35.1 27.4L37.6 30.8L37.0 34.1L35.6 37.5L35.8 47.5L36.5 50.9L35.2 57.6L37.1 64.3L38.0 65.7L39.0 66.0ZM40.7 52.6L40.4 50.9L41.0 49.2L39.9 44.2L40.3 40.8L41.4 37.7L43.2 35.8L44.9 35.7L50.6 39.1L50.8 40.8L49.2 47.5L49.2 49.2L48.8 50.9L46.6 52.8L41.4 53.0ZM46.7 8.9L44.9 8.0L41.4 7.9L39.8 7.3L38.0 5.8L36.8 5.6L41.4 3.2L50.1 1.4L55.3 1.4L62.2 2.6L70.8 1.2L76.0 1.8L86.3 2.1L98.4 1.7L101.9 2.2L107.1 2.1L112.2 3.0L113.4 3.9L113.0 5.6L112.2 6.0L101.9 6.4L98.4 7.3L95.0 7.0L86.3 8.1L82.9 7.5L77.7 8.7L72.5 8.4L63.9 9.5L60.4 8.5L57.0 9.1L51.8 8.6L48.3 9.2ZM95.0 65.3L96.7 65.0L98.4 64.0L101.9 63.6L103.1 62.6L107.1 59.2L108.3 57.6L110.3 52.6L111.2 45.9L110.0 35.8L108.5 32.4L105.3 30.3L101.9 29.9L95.0 32.3L92.3 34.1L89.0 39.1L87.7 50.9L87.9 54.2L91.3 62.6L93.3 64.3ZM94.3 59.3L93.2 58.6L91.0 55.9L89.6 52.6L89.9 47.5L91.4 40.8L93.2 37.3L95.0 35.1L100.1 33.2L103.6 33.7L105.3 34.5L106.3 35.8L108.8 44.2L108.9 47.5L107.4 52.6L105.8 55.9L103.6 57.7L98.4 59.8L95.0 59.8ZM172.7 64.7L174.4 65.5L176.1 65.3L178.4 62.6L177.8 61.8L176.1 61.3L172.7 61.8L172.3 62.6L172.5 64.3ZM219.3 59.3L221.0 59.9L222.7 59.5L226.2 60.2L229.6 58.1L233.1 57.6L240.4 50.9L241.3 49.2L241.2 47.5L241.7 46.8L246.9 43.8L250.4 44.3L252.1 43.8L255.5 41.5L259.0 39.9L261.5 37.5L264.2 36.1L267.3 32.4L267.8 30.8L267.6 28.1L270.3 27.4L267.6 26.6L267.5 25.7L265.6 24.0L264.2 21.9L262.5 21.0L260.7 22.4L255.5 19.8L250.4 20.7L248.6 21.5L246.4 24.0L240.0 29.1L238.5 32.4L236.6 35.0L233.1 36.9L232.2 39.1L230.8 40.8L229.6 41.7L227.9 42.1L224.5 41.5L222.7 41.9L219.3 43.6L215.8 46.1L214.8 47.5L213.5 52.6L213.6 54.2L214.1 55.3L215.8 56.2L219.3 59.3ZM225.4 55.9L221.0 55.9L219.3 54.4L218.6 52.6L218.5 49.2L219.3 46.8L221.0 45.5L224.5 44.5L229.6 44.5L233.1 43.8L235.1 44.2L236.3 45.9L236.4 47.5L234.9 50.9L231.4 54.6L226.2 56.0ZM240.7 39.1L240.1 37.5L240.2 35.8L242.9 30.8L246.3 27.4L250.4 26.2L253.8 24.2L255.5 24.3L260.7 27.4L261.3 30.8L261.0 32.4L255.5 36.2L253.8 37.2L250.4 37.4L248.6 38.3L241.7 39.6ZM281.4 52.5L282.7 50.9L282.6 49.2L281.4 47.7L280.5 49.2L280.2 50.9ZM108.8 21.2L114.0 20.6L117.4 18.8L120.9 18.3L122.6 17.3L122.6 15.7L120.9 14.0L119.1 13.5L117.4 13.5L114.0 12.5L112.2 12.9L108.5 17.3L108.0 19.0L108.3 20.7ZM126.0 4.3L131.2 4.5L133.0 3.9L131.2 3.1L129.5 3.5L127.8 2.8L126.0 2.8L124.7 3.9Z"/>
<path fill="#e49b40" d="M95.0 59.8L98.4 59.8L103.6 57.7L105.8 55.9L107.4 52.6L108.9 47.5L108.8 44.2L106.3 35.8L105.3 34.5L103.6 33.7L100.1 33.2L95.0 35.1L93.2 37.3L91.4 40.8L89.9 47.5L89.6 52.6L91.0 55.9L93.2 58.6L94.3 59.3ZM96.2 55.9L93.2 55.0L91.9 52.6L92.2 45.9L93.5 42.5L96.7 37.8L100.1 36.6L103.6 37.9L104.5 39.1L106.4 44.2L106.5 47.5L103.4 54.2L101.9 55.6L100.1 56.4L96.7 56.0ZM164.0 56.6L165.8 56.9L168.2 54.2L169.2 53.7L170.9 53.7L176.8 49.2L177.8 46.9L179.4 40.8L180.1 34.1L179.8 29.1L178.8 27.4L176.9 20.7L175.5 19.0L173.1 17.3L171.6 14.0L169.2 12.9L165.8 12.3L164.0 12.8L162.3 14.0L157.1 15.4L154.9 19.0L153.6 22.4L154.5 27.4L154.5 34.1L155.6 37.5L156.2 42.5L158.8 45.9L161.5 52.6L163.7 55.9ZM165.6 47.5L164.0 47.3L162.3 46.0L161.1 44.2L159.6 40.8L159.0 37.5L156.9 34.1L157.0 32.4L158.2 29.1L158.4 25.7L161.8 19.0L164.0 18.3L169.2 18.7L172.1 20.7L174.2 27.4L174.6 32.4L175.9 39.1L173.4 42.5L173.4 45.9L172.7 47.1L169.2 48.1L165.8 47.6ZM226.2 56.0L231.4 54.6L234.9 50.9L236.4 47.5L236.3 45.9L235.1 44.2L233.1 43.8L229.6 44.5L224.5 44.5L221.0 45.5L219.3 46.8L218.5 49.2L218.6 52.6L219.3 54.4L221.0 55.9L225.4 55.9ZM222.0 52.6L221.8 50.9L222.7 49.5L226.2 47.3L228.9 47.5L230.9 49.2L230.6 50.9L229.4 52.6L226.2 53.3L222.7 53.0ZM41.4 53.0L46.6 52.8L48.8 50.9L49.2 49.2L49.2 47.5L50.8 40.8L50.6 39.1L44.9 35.7L43.2 35.8L41.4 37.7L40.3 40.8L39.9 44.2L41.0 49.2L40.4 50.9L40.7 52.6ZM241.7 39.6L248.6 38.3L250.4 37.4L253.8 37.2L255.5 36.2L261.0 32.4L261.3 30.8L260.7 27.4L255.5 24.3L253.8 24.2L250.4 26.2L246.3 27.4L242.9 30.8L240.2 35.8L240.1 37.5L240.7 39.1ZM247.8 32.4L247.7 30.8L250.4 29.4L252.1 29.2L254.1 30.8L253.4 32.4L252.1 33.2L248.6 33.0ZM48.3 9.2L51.8 8.6L57.0 9.1L60.4 8.5L63.9 9.5L72.5 8.4L77.7 8.7L82.9 7.5L86.3 8.1L95.0 7.0L98.4 7.3L101.9 6.4L112.2 6.0L113.0 5.6L113.4 3.9L112.2 3.0L107.1 2.1L101.9 2.2L98.4 1.7L86.3 2.1L76.0 1.8L70.8 1.2L62.2 2.6L55.3 1.4L50.1 1.4L41.4 3.2L36.8 5.6L38.0 5.8L39.8 7.3L41.4 7.9L44.9 8.0L46.7 8.9ZM68.3 5.6L70.8 3.8L71.9 3.9L73.4 5.6L69.1 5.9ZM74.9 5.6L77.7 4.9L78.9 5.6L76.0 5.7Z"/>
<path fill="#c87023" d="M96.7 56.0L100.1 56.4L101.9 55.6L103.4 54.2L106.5 47.5L106.4 44.2L104.5 39.1L103.6 37.9L100.1 36.6L96.7 37.8L93.5 42.5L92.2 45.9L91.9 52.6L93.2 55.0L96.2 55.9ZM96.0 52.6L95.0 51.4L94.4 49.2L94.3 47.5L95.0 44.8L96.7 42.4L98.4 41.4L100.1 41.0L101.9 41.4L102.8 42.5L103.0 47.5L102.4 49.2L99.3 52.6L98.4 53.0L96.7 52.9ZM222.7 53.0L226.2 53.3L229.4 52.6L230.6 50.9L230.9 49.2L228.9 47.5L226.2 47.3L222.7 49.5L221.8 50.9L222.0 52.6ZM165.8 47.6L169.2 48.1L172.7 47.1L173.4 45.9L173.4 42.5L175.9 39.1L174.6 32.4L174.2 27.4L172.1 20.7L169.2 18.7L164.0 18.3L161.8 19.0L158.4 25.7L158.2 29.1L157.0 32.4L156.9 34.1L159.0 37.5L159.6 40.8L161.1 44.2L162.3 46.0L164.0 47.3L165.6 47.5ZM164.0 42.5L164.8 40.8L164.0 40.5L161.7 35.8L161.5 34.1L162.5 29.1L163.1 27.4L164.0 26.9L169.2 25.8L170.9 27.2L171.3 29.1L169.8 34.1L170.3 37.5L169.9 39.1L169.2 40.5L167.5 41.9L164.0 42.6ZM248.6 33.0L252.1 33.2L253.4 32.4L254.1 30.8L252.1 29.2L250.4 29.4L247.7 30.8L247.8 32.4ZM69.1 5.9L73.4 5.6L71.9 3.9L70.8 3.8L68.3 5.6ZM76.0 5.7L78.9 5.6L77.7 4.9L74.9 5.6Z"/>
<path fill="#994e19" d="M96.7 52.9L98.4 53.0L99.3 52.6L102.4 49.2L103.0 47.5L102.8 42.5L101.9 41.4L100.1 41.0L98.4 41.4L96.7 42.4L95.0 44.8L94.3 47.5L94.4 49.2L95.0 51.4L96.0 52.6ZM164.0 42.6L167.5 41.9L169.2 40.5L169.9 39.1L170.3 37.5L169.8 34.1L171.3 29.1L170.9 27.2L169.2 25.8L164.0 26.9L163.1 27.4L162.5 29.1L161.5 34.1L161.7 35.8L164.0 40.5L164.8 40.8L164.0 42.5Z"/>
</g></g>
<g clip-path="url(#boxclip)">
<use href="#coast"/>
</g>
<rect x="189.9" y="28.0" width="17.3" height="22.4" fill="none" stroke="#ee2d23" stroke-width="1.2"/>
<use href="#frame"/>
</g>
<text x="27.6" y="273.1" font-size="8.20" text-anchor="end" font-weight="normal" textLength="19.6" lengthAdjust="spacingAndGlyphs" fill="#262626">90°N</text>
<text x="27.6" y="289.9" font-size="8.20" text-anchor="end" font-weight="normal" textLength="19.6" lengthAdjust="spacingAndGlyphs" fill="#262626">75°N</text>
<text x="27.6" y="306.6" font-size="8.20" text-anchor="end" font-weight="normal" textLength="19.6" lengthAdjust="spacingAndGlyphs" fill="#262626">60°N</text>
<text x="27.6" y="323.4" font-size="8.20" text-anchor="end" font-weight="normal" textLength="19.6" lengthAdjust="spacingAndGlyphs" fill="#262626">45°N</text>
<text x="27.6" y="340.2" font-size="8.20" text-anchor="end" font-weight="normal" textLength="19.6" lengthAdjust="spacingAndGlyphs" fill="#262626">30°N</text>
<text x="35.2" y="350.8" font-size="8.20" text-anchor="middle" font-weight="normal" textLength="19.4" lengthAdjust="spacingAndGlyphs" fill="#262626">180°</text>
<text x="87.0" y="350.8" font-size="8.20" text-anchor="middle" font-weight="normal" textLength="27.2" lengthAdjust="spacingAndGlyphs" fill="#262626">120°W</text>
<text x="138.8" y="350.8" font-size="8.20" text-anchor="middle" font-weight="normal" textLength="22.0" lengthAdjust="spacingAndGlyphs" fill="#262626">60°W</text>
<text x="190.6" y="350.8" font-size="8.20" text-anchor="middle" font-weight="normal" textLength="17.0" lengthAdjust="spacingAndGlyphs" fill="#262626">0°W</text>
<text x="242.4" y="350.8" font-size="8.20" text-anchor="middle" font-weight="normal" textLength="19.0" lengthAdjust="spacingAndGlyphs" fill="#262626">60°E</text>
<text x="294.2" y="350.8" font-size="8.20" text-anchor="middle" font-weight="normal" textLength="25.0" lengthAdjust="spacingAndGlyphs" fill="#262626">120°E</text>
<text x="346.0" y="350.8" font-size="8.20" text-anchor="middle" font-weight="normal" textLength="19.4" lengthAdjust="spacingAndGlyphs" fill="#262626">180°</text>
<text x="35.6" y="264.9" font-size="13.60" text-anchor="start" font-weight="normal" textLength="16.4" lengthAdjust="spacingAndGlyphs" stroke="#000" stroke-width="0.55">(e)</text>
<g transform="translate(364.6 270.2)">
<g clip-path="url(#boxclip)"><g>
<path fill="#9892c0" d="M284.9 49.8L286.9 49.2L287.2 44.2L283.2 43.5L281.3 44.2L281.7 45.9L283.5 47.5L283.9 49.2ZM31.1 47.5L34.5 48.3L36.3 48.1L37.3 47.5L38.7 45.9L38.7 39.1L37.1 37.5L34.5 36.4L32.8 36.4L29.4 38.4L27.6 38.4L25.9 39.2L25.4 40.8L25.8 42.5L27.3 44.2L27.9 45.9L29.4 47.0L31.1 47.5ZM174.4 29.2L177.8 29.0L179.1 27.4L177.8 24.8L176.1 24.9L174.1 29.1Z"/>
<path fill="#c6c4e1" d="M227.9 59.7L233.1 60.9L234.8 58.9L237.6 50.9L234.8 47.5L233.1 47.1L227.9 48.6L226.2 50.4L226.2 51.9L227.2 54.2L227.0 55.9L227.6 59.3ZM101.9 58.4L103.6 58.3L103.6 57.2L101.9 55.8L100.9 57.6ZM281.4 54.6L284.9 55.7L286.6 55.8L291.8 53.4L293.1 50.9L293.5 49.2L292.3 44.2L292.6 40.8L292.0 39.1L290.7 37.5L286.6 34.6L284.9 34.3L283.2 34.8L281.4 37.9L278.0 40.8L277.3 42.5L276.7 50.9L278.0 52.6L280.8 54.2ZM283.9 49.2L283.5 47.5L281.7 45.9L281.3 44.2L283.2 43.5L287.2 44.2L286.9 49.2L284.9 49.8ZM98.4 52.7L101.9 52.3L105.3 52.9L107.1 52.4L107.2 50.9L106.1 49.2L105.9 47.5L107.2 42.5L107.0 40.8L104.3 39.1L101.9 36.8L100.1 36.6L98.1 37.5L96.4 40.8L95.9 47.5L96.4 50.9L98.2 52.6ZM31.1 51.2L34.5 52.2L36.3 51.9L41.4 49.8L44.7 44.2L45.0 42.5L43.0 37.5L41.4 35.3L39.5 34.1L36.3 30.7L32.8 31.4L29.4 30.1L28.4 30.8L27.6 32.3L24.2 33.3L22.6 35.8L21.9 42.5L23.0 49.2L24.2 49.8L30.4 50.9ZM31.1 47.5L29.4 47.0L27.9 45.9L27.3 44.2L25.8 42.5L25.4 40.8L25.9 39.2L27.6 38.4L29.4 38.4L32.8 36.4L34.5 36.4L37.1 37.5L38.7 39.1L38.7 45.9L37.3 47.5L36.3 48.1L34.5 48.3L31.1 47.5ZM170.9 51.2L173.9 50.9L177.8 49.4L179.6 49.5L181.3 48.0L182.9 45.9L183.3 42.5L186.7 39.1L186.9 37.5L185.7 34.1L186.5 32.5L189.3 30.8L188.2 29.7L186.5 25.1L183.8 22.4L183.0 19.8L181.3 18.9L179.6 19.1L177.8 19.9L176.1 20.0L175.4 19.0L176.1 16.2L179.6 18.5L180.1 17.3L177.8 14.5L174.4 16.1L172.7 15.6L171.1 14.0L170.9 12.6L169.2 14.0L168.5 15.7L169.1 20.7L168.3 22.4L164.1 25.7L161.9 29.1L161.6 30.8L162.0 35.8L163.1 39.1L163.2 42.5L166.5 47.5L170.4 50.9ZM174.1 29.1L176.1 24.9L177.8 24.8L179.1 27.4L177.8 29.0L174.4 29.2ZM12.1 19.5L13.8 20.4L15.5 20.5L20.1 19.0L20.6 17.3L15.5 15.2L12.1 15.1L11.3 15.7L10.7 17.3L11.5 19.0ZM162.3 7.6L164.1 7.3L165.8 6.3L166.1 5.6L164.0 5.4L161.7 7.3Z"/>
<path fill="#e5e7f2" d="M20.7 68.3L22.4 68.4L23.7 67.7L22.4 65.3L20.7 66.0L20.0 67.7ZM44.9 67.9L45.9 67.7L46.3 66.0L44.9 65.6L43.2 64.1L42.4 62.6L43.7 60.9L44.9 60.4L46.6 60.6L48.3 64.0L51.8 64.0L53.4 62.6L48.3 59.1L47.0 57.6L46.7 55.9L47.1 54.2L46.6 52.6L46.9 50.9L50.8 47.5L51.1 44.2L52.2 40.8L52.1 39.1L49.6 34.1L48.8 30.8L47.3 29.1L47.3 27.4L48.3 26.1L49.4 25.7L46.6 24.1L44.9 24.0L41.4 25.0L36.3 24.1L31.1 21.6L30.5 20.7L31.6 17.3L29.5 14.0L30.2 12.3L31.1 11.6L32.8 12.6L33.5 14.0L33.3 17.3L34.3 19.0L38.0 20.9L39.9 20.7L40.7 19.0L39.0 15.7L39.2 14.0L39.7 13.4L43.2 13.5L44.5 12.3L44.0 10.6L44.9 8.9L48.3 9.7L50.1 10.6L53.5 10.1L57.0 10.9L58.7 10.8L59.6 12.3L59.4 15.7L60.4 17.3L62.2 17.6L63.9 15.5L67.3 13.2L74.2 11.4L76.1 12.3L75.9 14.0L77.7 14.2L81.2 11.6L82.1 12.3L81.3 14.0L82.9 15.8L84.6 15.5L86.3 13.8L89.8 13.9L93.2 12.6L95.3 14.0L96.7 14.3L98.4 12.4L101.9 15.0L108.8 11.9L110.5 10.4L112.2 10.2L113.6 10.6L110.7 12.3L110.9 14.0L112.2 15.3L114.0 15.1L117.4 13.1L119.1 13.2L122.6 9.5L129.5 7.3L134.7 7.6L138.1 9.6L141.6 10.3L150.2 10.0L152.2 12.3L152.5 14.0L153.5 15.7L155.4 17.2L157.0 20.7L156.6 22.4L154.9 24.0L155.2 27.4L153.3 29.1L152.2 30.8L153.1 34.1L152.6 39.1L155.7 40.8L157.1 42.1L157.7 44.2L157.2 49.2L154.4 54.2L155.0 55.9L153.7 57.6L151.9 58.2L150.6 59.3L150.9 66.0L148.6 69.3L150.5 69.3L153.7 67.1L155.4 67.0L158.9 68.3L162.3 68.5L163.9 69.3L170.9 68.7L172.7 68.7L173.9 69.3L180.9 69.3L180.6 67.7L179.6 66.1L176.1 66.4L175.8 66.0L177.8 65.4L181.3 65.7L184.8 67.1L189.9 63.9L191.7 64.6L193.4 66.3L194.1 66.0L194.3 62.6L193.4 61.6L191.7 62.1L189.6 60.9L186.5 60.2L185.8 59.3L186.7 54.2L188.4 50.9L188.3 47.5L191.7 46.0L193.4 44.6L195.1 40.4L198.6 41.2L199.4 40.8L200.4 39.1L198.2 35.8L198.5 32.4L197.7 27.4L198.6 26.5L204.6 25.7L206.9 24.0L205.7 22.4L206.0 20.7L208.9 18.8L212.2 14.0L217.6 11.8L221.0 13.2L222.7 12.3L224.5 12.1L227.9 13.9L231.4 14.9L233.5 14.0L233.1 10.6L234.8 9.4L240.0 10.0L241.7 11.5L243.5 11.9L245.2 11.7L246.9 10.4L248.6 10.2L255.5 12.3L259.0 14.2L260.7 14.5L264.2 14.2L267.6 14.8L269.1 14.0L269.4 13.3L274.5 14.0L273.7 15.7L273.7 17.3L274.5 19.1L276.3 19.8L278.0 17.3L282.3 14.0L284.9 10.3L286.6 9.8L287.9 10.6L288.7 12.3L288.0 14.0L287.8 15.7L288.4 16.6L290.1 16.8L291.8 16.3L298.7 18.4L300.4 18.0L305.6 15.0L307.3 11.8L310.8 13.1L311.7 12.3L312.5 10.4L312.5 0.4L309.1 2.9L307.3 3.5L306.2 0.6L303.0 -1.1L290.4 -1.1L290.1 0.6L288.4 1.3L287.9 0.6L288.0 -1.1L275.6 -1.1L274.5 0.5L272.8 0.8L270.7 0.6L269.4 -1.0L265.9 0.5L264.2 0.2L262.6 -1.1L253.9 -1.1L246.9 0.8L245.2 -0.1L240.0 0.2L239.5 -1.1L235.3 -1.1L233.1 0.2L231.4 0.4L226.8 -1.1L216.7 -1.1L208.9 2.1L205.5 1.6L204.0 0.6L204.3 -1.1L160.0 -1.1L157.1 0.0L155.4 -0.2L154.1 -1.1L145.3 -1.1L147.9 0.6L146.4 2.2L145.0 2.6L143.1 2.2L141.1 0.6L140.7 -1.1L129.0 -1.1L126.0 0.3L124.3 -0.1L123.3 -1.1L111.6 -1.1L110.5 -0.0L108.5 -1.1L103.8 -1.1L101.9 -0.0L101.0 -1.1L98.4 -1.1L96.7 -0.4L84.6 -0.8L83.3 0.6L82.9 2.3L81.2 2.0L79.4 0.9L70.8 -0.4L67.3 0.9L66.7 -1.1L61.2 -1.1L58.7 -0.4L57.2 -1.1L52.8 -1.1L51.8 -0.3L51.1 -1.1L45.2 -1.1L43.2 1.4L41.4 1.2L39.7 0.2L36.3 0.2L33.3 -1.1L29.5 -1.1L27.6 -0.5L24.2 2.4L22.4 2.8L19.9 2.2L18.9 0.6L19.2 -1.1L11.0 -1.1L6.9 3.8L5.2 3.5L4.1 2.2L3.6 -1.1L-0.7 -1.1L-1.7 0.3L-1.7 12.1L0.0 12.4L1.7 13.6L3.3 15.7L5.2 16.4L7.3 19.0L13.8 23.3L15.5 23.9L19.0 23.2L21.4 24.0L21.7 25.7L19.9 29.1L17.3 32.2L17.0 34.1L16.9 44.2L18.4 49.2L17.1 54.2L19.9 57.6L19.5 60.9L20.7 62.0L22.4 62.5L27.6 60.2L32.8 59.4L37.3 60.9L39.7 65.1L43.9 67.7ZM39.7 57.6L41.1 55.9L44.9 53.8L46.0 54.2L46.5 55.9L43.2 57.0L41.4 58.1ZM30.4 50.9L24.2 49.8L23.0 49.2L21.9 42.5L22.6 35.8L24.2 33.3L27.6 32.3L28.4 30.8L29.4 30.1L32.8 31.4L36.3 30.7L39.5 34.1L41.4 35.3L43.0 37.5L45.0 42.5L44.7 44.2L41.4 49.8L36.3 51.9L34.5 52.2L31.1 51.2ZM170.4 50.9L166.5 47.5L163.2 42.5L163.1 39.1L162.0 35.8L161.6 30.8L161.9 29.1L164.1 25.7L168.3 22.4L169.1 20.7L168.5 15.7L169.2 14.0L170.9 12.6L171.1 14.0L172.7 15.6L174.4 16.1L177.8 14.5L180.1 17.3L179.6 18.5L176.1 16.2L175.4 19.0L176.1 20.0L177.8 19.9L179.6 19.1L181.3 18.9L183.0 19.8L183.8 22.4L186.5 25.1L188.2 29.7L189.3 30.8L186.5 32.5L185.7 34.1L186.9 37.5L186.7 39.1L183.3 42.5L182.9 45.9L181.3 48.0L179.6 49.5L177.8 49.4L173.9 50.9L170.9 51.2ZM201.1 22.4L198.6 21.7L196.8 22.3L195.1 22.2L194.3 20.7L195.1 18.9L198.6 18.8L200.1 17.3L201.8 14.0L203.7 13.0L205.5 13.0L206.5 14.0L206.3 15.7L204.5 17.3L203.7 19.0L204.7 20.7L204.7 22.4L202.0 23.1ZM11.5 19.0L10.7 17.3L11.3 15.7L12.1 15.1L15.5 15.2L20.6 17.3L20.1 19.0L15.5 20.5L13.8 20.4L12.1 19.5ZM5.5 10.6L6.0 8.9L6.9 8.6L7.7 8.9L8.9 10.6L6.9 11.5ZM82.4 10.6L82.9 10.2L83.4 10.6L82.9 11.3ZM94.9 10.6L96.7 10.5L96.7 11.8L95.0 10.9ZM268.7 10.6L269.4 10.1L269.4 11.3ZM194.7 8.9L195.1 8.0L195.1 9.4ZM161.7 7.3L164.0 5.4L166.1 5.6L165.8 6.3L164.1 7.3L162.3 7.6ZM263.5 5.6L264.2 5.2L264.8 5.6L264.2 6.4ZM299.0 3.9L299.1 2.2L300.4 -0.7L301.8 2.2L300.4 4.2ZM70.8 69.0L73.8 67.7L74.2 66.9L76.0 66.6L77.7 67.1L80.2 64.3L81.5 60.9L81.4 59.3L79.4 58.1L77.7 58.9L76.0 61.4L74.2 61.8L70.8 60.1L67.3 57.5L63.9 57.1L62.2 57.6L60.6 59.3L60.3 60.9L62.2 64.2L63.9 64.1L65.6 61.5L67.2 62.6L69.2 67.7ZM75.4 64.3L76.0 63.7L76.0 65.3ZM84.6 67.9L88.1 67.7L93.2 68.8L96.7 68.6L98.3 69.3L107.7 69.3L108.8 67.6L110.5 67.7L112.1 69.3L122.4 69.3L125.6 67.7L129.5 64.8L130.5 66.0L131.3 69.3L135.2 69.3L136.4 67.0L139.8 64.3L140.3 62.6L138.5 60.9L135.1 59.3L133.0 57.2L129.5 60.8L127.8 61.6L122.6 60.6L120.9 59.5L117.4 61.7L114.4 59.3L113.3 57.6L114.3 54.2L112.2 53.9L110.9 52.6L113.5 44.2L113.1 42.5L111.1 39.1L110.7 35.8L107.0 30.8L106.4 29.1L106.8 25.7L104.6 24.0L103.6 21.1L101.9 22.0L100.1 23.8L98.4 24.6L95.0 24.0L93.1 22.4L92.5 24.0L92.9 25.7L95.3 29.1L95.0 30.0L93.7 30.8L91.5 30.9L89.8 34.1L89.5 35.8L91.9 40.8L91.9 42.5L89.7 47.5L89.5 49.2L90.3 52.6L89.0 55.9L91.6 57.6L89.6 60.9L89.8 62.6L88.1 63.7L85.2 62.6L86.3 62.4L87.2 60.9L87.2 59.3L86.3 58.4L84.7 59.3L83.8 60.9L84.3 62.6L82.9 63.2L81.9 64.3L82.1 66.0L84.1 67.7ZM100.9 57.6L101.9 55.8L103.6 57.2L103.6 58.3L101.9 58.4ZM98.2 52.6L96.4 50.9L95.9 47.5L96.4 40.8L98.1 37.5L100.1 36.6L101.9 36.8L104.3 39.1L107.0 40.8L107.2 42.5L105.9 47.5L106.1 49.2L107.2 50.9L107.1 52.4L105.3 52.9L101.9 52.3L98.4 52.7ZM138.1 69.3L140.1 69.3L139.9 67.9L137.7 69.3ZM145.0 67.8L143.3 63.5L140.0 64.3L140.5 66.0L141.6 67.6L143.3 67.3L144.8 67.7ZM146.8 69.3L148.5 69.3L146.8 68.9L146.2 69.3ZM231.4 68.7L233.1 68.7L234.8 67.7L236.2 66.0L238.3 65.3L240.2 66.0L241.7 67.5L243.5 67.7L245.2 64.5L249.0 62.6L249.9 59.3L251.5 57.6L251.3 55.9L246.9 54.8L245.2 52.6L244.4 50.9L244.7 49.2L246.3 47.5L246.0 45.9L243.5 45.0L241.7 42.1L240.0 40.4L238.3 40.0L236.4 40.8L233.1 38.6L231.4 39.5L224.5 40.3L220.8 42.5L220.9 44.2L220.1 47.5L220.7 49.2L219.0 52.6L218.9 57.6L220.3 60.9L219.9 62.6L219.3 63.3L217.6 63.4L216.4 64.3L216.6 66.0L217.6 66.9L221.0 65.8L226.2 66.6L227.9 65.8L229.6 66.9L230.0 67.7ZM227.6 59.3L227.0 55.9L227.2 54.2L226.2 51.9L226.2 50.4L227.9 48.6L233.1 47.1L234.8 47.5L237.6 50.9L234.8 58.9L233.1 60.9L227.9 59.7ZM253.8 67.7L255.5 68.7L257.2 67.7L256.3 66.0L255.5 65.7L254.5 66.0L253.8 67.7ZM278.0 69.3L280.1 69.3L278.0 68.3L276.5 69.3ZM284.9 69.3L286.8 69.3L288.4 67.7L293.4 64.3L295.0 62.6L295.3 60.9L297.7 57.6L297.9 55.9L297.7 52.6L296.2 47.5L296.4 37.5L295.3 34.1L291.8 30.1L286.6 27.8L283.2 27.3L279.7 28.1L278.2 29.1L276.8 32.4L277.2 34.1L276.3 35.0L269.4 36.6L269.0 37.5L270.2 40.8L270.6 47.5L269.8 50.9L267.9 54.2L267.8 55.9L268.4 57.6L270.2 59.3L271.0 60.9L269.4 62.2L267.7 64.3L269.1 66.0L269.6 66.0L272.8 65.1L274.0 64.3L274.5 62.3L276.3 62.2L278.0 64.1L281.4 64.7L283.2 66.0L284.4 67.7ZM280.8 54.2L278.0 52.6L276.7 50.9L277.3 42.5L278.0 40.8L281.4 37.9L283.2 34.8L284.9 34.3L286.6 34.6L290.7 37.5L292.0 39.1L292.6 40.8L292.3 44.2L293.5 49.2L293.1 50.9L291.8 53.4L286.6 55.8L284.9 55.7L281.4 54.6ZM212.4 66.3L212.8 66.0L210.8 66.0ZM145.0 62.0L147.0 60.9L147.6 59.3L147.1 57.6L146.8 57.3L145.0 58.3L144.0 60.9ZM141.6 49.9L143.7 49.2L143.3 48.5L141.6 48.3L141.1 49.2ZM229.6 34.9L234.8 33.4L235.2 32.4L234.8 31.8L233.1 31.3L229.5 34.1ZM72.5 30.8L76.0 31.4L77.7 30.8L74.2 28.9L73.4 29.1L72.4 30.8ZM269.4 28.7L272.8 28.7L275.8 27.4L274.5 23.4L273.1 22.4L271.1 22.3L267.9 27.4ZM58.7 25.3L59.3 24.0L58.7 22.8L57.7 24.0ZM231.4 25.1L233.1 25.1L235.4 24.0L235.4 22.4L233.1 21.9L231.7 22.4L230.4 24.0Z"/>
<path fill="#f5ecd6" d="M0.0 69.3L98.3 69.3L96.7 68.6L93.2 68.8L88.1 67.7L84.6 67.9L82.1 66.0L81.9 64.3L82.9 63.2L84.3 62.6L83.8 60.9L84.7 59.3L86.3 58.4L87.2 59.3L87.2 60.9L86.3 62.4L85.2 62.6L88.1 63.7L89.8 62.6L89.6 60.9L91.6 57.6L89.0 55.9L90.3 52.6L89.5 49.2L89.7 47.5L91.9 42.5L91.9 40.8L89.5 35.8L89.8 34.1L91.5 30.9L93.7 30.8L95.0 30.0L95.3 29.1L92.9 25.7L92.5 24.0L93.1 22.4L95.0 24.0L98.4 24.6L100.1 23.8L101.9 22.0L103.6 21.1L104.6 24.0L106.8 25.7L106.4 29.1L107.0 30.8L110.7 35.8L111.1 39.1L113.1 42.5L113.5 44.2L110.9 52.6L112.2 53.9L114.3 54.2L113.3 57.6L114.4 59.3L117.4 61.7L120.9 59.5L122.6 60.6L127.8 61.6L129.5 60.8L133.0 57.2L135.1 59.3L138.5 60.9L140.3 62.6L139.8 64.3L136.4 67.0L135.2 69.3L137.7 69.3L139.9 67.9L140.1 69.3L146.2 69.3L146.8 68.9L148.6 69.3L150.9 66.0L150.6 59.3L151.9 58.2L153.7 57.6L155.0 55.9L154.4 54.2L157.2 49.2L157.7 44.2L157.4 42.5L155.7 40.8L152.6 39.1L153.1 34.1L152.2 30.8L153.3 29.1L155.2 27.4L154.9 24.0L156.6 22.4L157.0 20.7L155.4 17.2L153.5 15.7L152.5 14.0L152.2 12.3L150.2 10.0L141.6 10.3L138.1 9.6L134.7 7.6L133.0 7.3L131.2 7.7L129.5 7.3L122.6 9.5L119.1 13.2L117.4 13.1L114.0 15.1L112.2 15.3L110.9 14.0L110.7 12.3L113.6 10.6L112.2 10.2L110.5 10.4L108.8 11.9L101.9 15.0L98.4 12.4L96.7 14.3L95.3 14.0L93.2 12.6L89.8 13.9L86.3 13.8L84.6 15.5L82.9 15.8L81.3 14.0L82.1 12.3L81.2 11.6L77.7 14.2L75.9 14.0L76.1 12.3L74.2 11.4L67.3 13.2L63.9 15.5L62.2 17.6L60.4 17.3L59.4 15.7L59.6 12.3L58.7 10.8L57.0 10.9L53.5 10.1L50.1 10.6L48.3 9.7L44.9 8.9L44.0 10.6L44.5 12.3L43.2 13.5L39.7 13.4L39.2 14.0L39.0 15.7L40.7 19.0L39.9 20.7L38.0 20.9L34.3 19.0L33.3 17.3L33.5 14.0L32.8 12.6L31.1 11.6L30.2 12.3L29.5 14.0L31.6 17.3L30.5 20.7L31.1 21.6L36.3 24.1L41.4 25.0L44.9 24.0L46.6 24.1L49.4 25.7L48.3 26.1L47.3 27.4L47.3 29.1L48.8 30.8L49.6 34.1L52.1 39.1L52.2 40.8L51.1 44.2L50.8 47.5L46.9 50.9L46.6 52.6L47.1 54.2L46.7 55.9L47.0 57.6L48.3 59.1L53.4 62.6L51.8 64.0L48.3 64.0L46.6 60.6L44.9 60.4L43.7 60.9L42.4 62.6L43.2 64.1L44.9 65.6L46.3 66.0L45.9 67.7L44.9 67.9L39.7 65.1L37.3 60.9L32.8 59.4L27.6 60.2L22.4 62.5L20.7 62.0L19.5 60.9L19.9 57.6L17.1 54.2L18.4 49.2L16.9 44.2L17.0 34.1L17.3 32.2L19.9 29.1L21.7 25.7L21.4 24.0L19.0 23.2L15.5 23.9L13.8 23.3L7.3 19.0L5.2 16.4L3.3 15.7L1.7 13.6L0.0 12.4L-1.7 12.1L-1.7 20.7L3.5 20.4L5.2 20.9L10.8 25.7L11.8 27.4L11.9 29.1L13.2 32.4L13.9 37.5L13.1 40.8L13.3 44.2L12.5 49.2L10.6 55.9L10.8 59.3L10.4 60.1L8.6 60.8L5.2 60.2L3.5 60.4L0.0 62.2L-1.7 62.4L-1.7 69.3ZM20.0 67.7L20.7 66.0L22.4 65.3L23.7 67.7L22.4 68.4L20.7 68.3ZM69.2 67.7L67.2 62.6L65.6 61.5L63.9 64.1L62.2 64.2L60.3 60.9L60.6 59.3L62.2 57.6L63.9 57.1L67.3 57.5L70.8 60.1L74.2 61.8L76.0 61.4L77.7 58.9L79.4 58.1L81.4 59.3L81.5 60.9L80.2 64.3L77.7 67.1L76.0 66.6L74.2 66.9L73.8 67.7L70.8 69.0ZM144.8 67.7L143.3 67.3L141.6 67.6L140.5 66.0L140.0 64.3L143.3 63.5L145.0 67.8ZM144.0 60.9L145.0 58.3L146.8 57.3L147.1 57.6L147.6 59.3L147.0 60.9L145.0 62.0ZM64.5 50.9L59.8 45.9L62.2 40.9L63.9 38.7L67.3 38.5L70.8 36.5L73.0 37.5L74.2 39.5L76.0 40.8L79.4 39.3L79.8 42.5L79.4 44.2L81.2 47.5L80.6 49.2L79.4 50.1L77.7 50.2L74.2 51.4L67.3 52.0L65.6 51.6ZM141.1 49.2L141.6 48.3L143.3 48.5L143.7 49.2L141.6 49.9ZM129.6 40.8L128.1 39.1L126.3 35.8L120.3 30.8L120.2 29.1L121.9 25.7L121.5 24.0L119.1 22.7L118.5 20.7L122.6 19.1L126.0 18.6L127.8 17.6L129.5 14.2L132.5 15.7L134.7 18.5L137.2 17.3L137.6 15.7L138.1 15.3L139.9 15.2L145.0 17.7L146.6 19.0L147.3 20.7L147.4 22.4L146.0 25.7L146.1 27.4L146.9 29.1L144.3 34.1L144.8 35.8L143.3 37.1L141.7 35.8L142.7 34.1L141.6 33.5L139.9 34.1L139.9 35.1L140.7 35.8L139.9 36.0L139.5 37.5L138.1 38.4L136.4 38.3L134.7 39.1L133.0 41.0L131.2 41.3ZM72.4 30.8L73.4 29.1L74.2 28.9L77.7 30.8L76.0 31.4L72.5 30.8ZM57.7 24.0L58.7 22.8L59.3 24.0L58.7 25.3ZM108.8 69.3L112.1 69.3L110.5 67.7L108.8 67.6L107.7 69.3ZM122.6 69.3L131.3 69.3L130.5 66.0L129.5 64.8L125.6 67.7L122.4 69.3ZM151.9 69.3L163.9 69.3L162.3 68.5L158.9 68.3L155.4 67.0L153.7 67.1L150.5 69.3ZM167.5 69.3L173.9 69.3L172.7 68.7L170.9 68.7L166.6 69.3ZM181.3 69.3L276.5 69.3L278.0 68.3L280.1 69.3L285.0 69.3L283.2 66.0L281.4 64.7L278.0 64.1L276.3 62.2L274.5 62.3L274.0 64.3L272.8 65.1L269.6 66.0L269.1 66.0L267.7 64.3L269.4 62.2L271.0 60.9L270.2 59.3L268.4 57.6L267.8 55.9L267.9 54.2L269.8 50.9L270.6 47.5L270.2 40.8L269.0 37.5L269.4 36.6L276.3 35.0L277.2 34.1L276.8 32.4L278.2 29.1L279.7 28.1L283.2 27.3L286.6 27.8L291.8 30.1L295.3 34.1L296.4 37.5L296.2 47.5L297.7 52.6L297.7 57.6L295.3 60.9L295.0 62.6L291.8 65.7L288.4 67.7L286.8 69.3L312.5 69.3L312.5 62.1L310.4 62.6L310.2 64.3L309.1 66.4L307.3 64.5L304.7 57.6L301.9 54.2L301.9 50.9L300.3 47.5L300.0 45.9L298.3 30.8L298.6 29.1L299.5 27.4L302.2 24.8L303.7 22.4L309.1 21.4L312.5 21.2L312.5 10.4L311.7 12.3L310.8 13.1L307.3 11.8L305.6 15.0L300.4 18.0L298.7 18.4L291.8 16.3L290.1 16.8L288.4 16.6L287.8 15.7L288.0 14.0L288.7 12.3L287.9 10.6L286.6 9.8L284.9 10.3L282.3 14.0L278.0 17.3L276.3 19.8L274.5 19.1L273.7 17.3L273.7 15.7L274.5 14.0L269.4 13.3L269.1 14.0L267.6 14.8L264.2 14.2L260.7 14.5L259.0 14.2L255.5 12.3L248.6 10.2L246.9 10.4L245.2 11.7L243.5 11.9L241.7 11.5L240.0 10.0L234.8 9.4L233.1 10.6L233.5 14.0L231.4 14.9L227.9 13.9L224.5 12.1L222.7 12.3L221.0 13.2L217.6 11.8L214.1 13.0L212.2 14.0L208.7 19.0L206.0 20.7L205.7 22.4L206.9 24.0L204.6 25.7L198.6 26.5L197.7 27.4L198.5 32.4L198.2 35.8L200.4 39.1L199.4 40.8L198.6 41.2L195.1 40.4L193.4 44.6L191.7 46.0L188.3 47.5L188.4 50.9L186.7 54.2L185.8 59.3L186.5 60.2L189.6 60.9L191.7 62.1L193.4 61.6L194.3 62.6L194.1 66.0L193.4 66.3L191.7 64.6L189.9 63.9L184.8 67.1L181.3 65.7L177.8 65.4L175.8 66.0L176.1 66.4L179.6 66.1L180.6 67.7L180.9 69.3ZM230.0 67.7L229.6 66.9L227.9 65.8L226.2 66.6L221.0 65.8L217.6 66.9L216.6 66.0L216.4 64.3L217.6 63.4L219.3 63.3L219.9 62.6L220.3 60.9L218.9 57.6L219.0 52.6L220.7 49.2L220.1 47.5L220.9 44.2L220.8 42.5L224.5 40.3L231.4 39.5L233.1 38.6L236.4 40.8L238.3 40.0L240.0 40.4L241.7 42.1L243.5 45.0L246.0 45.9L246.3 47.5L244.7 49.2L244.4 50.9L245.2 52.6L246.9 54.8L251.3 55.9L251.5 57.6L249.9 59.3L249.0 62.6L245.2 64.5L243.5 67.7L241.7 67.5L240.2 66.0L238.3 65.3L236.2 66.0L234.8 67.7L233.1 68.7L231.4 68.7ZM253.8 67.7L254.5 66.0L255.5 65.7L256.3 66.0L257.2 67.7L255.5 68.7L253.8 67.7ZM210.8 66.0L212.8 66.0L212.4 66.3ZM193.8 55.9L192.6 54.2L192.9 50.9L193.4 49.6L198.6 45.9L200.3 45.3L207.2 45.0L208.9 45.7L212.8 49.2L213.9 50.9L210.7 55.8L207.2 55.1L204.7 55.9L203.7 56.8L200.3 56.2L195.1 56.2ZM257.1 50.9L252.1 48.9L251.0 47.5L250.5 44.2L250.9 42.5L257.3 39.5L259.0 39.1L260.7 39.5L264.2 38.5L264.8 39.1L264.7 44.2L265.4 45.9L265.3 47.5L264.2 49.0L260.7 51.7L259.0 51.7L257.3 51.0ZM214.1 34.1L211.3 30.8L210.6 29.1L211.2 27.4L212.4 26.3L214.1 26.1L219.3 27.3L221.4 29.1L221.5 30.8L220.3 32.4L217.6 34.4L215.8 34.6ZM229.5 34.1L233.1 31.3L234.8 31.8L235.2 32.4L234.8 33.4L229.6 34.9ZM267.9 27.4L271.1 22.3L273.1 22.4L274.5 23.4L275.8 27.4L272.8 28.7L269.4 28.7ZM230.4 24.0L231.7 22.4L233.1 21.9L235.4 22.4L235.4 24.0L233.1 25.1L231.4 25.1ZM76.0 65.3L76.0 63.7L75.4 64.3ZM41.4 58.1L43.2 57.0L46.5 55.9L46.0 54.2L44.9 53.8L41.1 55.9L39.7 57.6ZM202.0 23.1L204.7 22.4L204.7 20.7L203.7 19.0L204.5 17.3L206.3 15.7L206.5 14.0L205.5 13.0L203.7 13.0L201.8 14.0L200.1 17.3L198.6 18.8L195.1 18.9L194.3 20.7L195.1 22.2L196.8 22.3L198.6 21.7L201.1 22.4ZM6.9 11.5L8.9 10.6L7.7 8.9L6.9 8.6L6.0 8.9L5.5 10.6ZM82.9 11.3L83.4 10.6L82.9 10.2L82.4 10.6ZM95.0 10.9L96.7 11.8L96.7 10.5L94.9 10.6ZM269.4 11.3L269.4 10.1L268.7 10.6ZM195.1 9.4L195.1 8.0L194.7 8.9ZM264.2 6.4L264.8 5.6L264.2 5.2L263.5 5.6ZM300.4 4.2L301.8 2.2L300.4 -0.7L299.1 2.2L299.0 3.9ZM5.2 3.5L6.9 3.8L11.0 -1.1L3.6 -1.1L4.1 2.2ZM20.7 2.5L24.2 2.4L27.6 -0.5L29.5 -1.1L19.2 -1.1L18.9 0.6L19.9 2.2ZM82.9 2.3L83.3 0.6L84.6 -0.8L96.7 -0.4L98.4 -1.1L66.7 -1.1L67.3 0.9L70.8 -0.4L79.4 0.9L81.2 2.0L82.7 2.2ZM143.3 2.5L145.0 2.6L146.4 2.2L147.9 0.6L145.3 -1.1L140.7 -1.1L141.1 0.6L143.1 2.2ZM307.3 3.5L309.1 2.9L312.5 0.4L312.5 -1.1L303.0 -1.1L306.2 0.6L306.6 2.2ZM41.4 1.2L43.2 1.4L45.2 -1.1L33.3 -1.1L36.3 0.2L39.7 0.2L40.4 0.6ZM205.5 1.6L208.9 2.1L216.7 -1.1L204.3 -1.1L204.0 0.6ZM246.9 0.8L253.9 -1.1L239.5 -1.1L240.0 0.2L245.2 -0.1L246.3 0.6ZM271.1 0.7L274.5 0.5L275.6 -1.1L262.6 -1.1L264.2 0.2L265.9 0.5L269.4 -1.0L270.7 0.6ZM288.4 1.3L290.1 0.6L290.4 -1.1L288.0 -1.1L287.9 0.6ZM-0.7 -1.1L-1.7 -1.1L-1.7 0.3ZM51.8 -0.3L52.8 -1.1L51.1 -1.1ZM58.7 -0.4L61.2 -1.1L57.2 -1.1ZM101.9 -0.0L103.8 -1.1L101.0 -1.1ZM108.8 -0.8L110.5 -0.0L111.6 -1.1L108.5 -1.1ZM124.3 -0.1L126.0 0.3L129.0 -1.1L123.3 -1.1ZM155.4 -0.2L157.1 0.0L160.0 -1.1L154.1 -1.1ZM227.9 -0.8L231.4 0.4L233.1 0.2L235.3 -1.1L226.8 -1.1Z"/>
<path fill="#f2ca8e" d="M309.1 66.4L310.2 64.3L310.4 62.6L312.5 62.1L312.5 56.0L310.8 56.1L309.1 55.5L305.0 52.6L304.2 49.2L302.6 45.9L301.9 34.1L303.8 29.1L305.6 26.3L309.1 24.2L312.5 24.2L312.5 21.2L309.1 21.4L303.7 22.4L302.2 24.8L299.5 27.4L298.6 29.1L298.3 30.8L300.0 45.9L300.3 47.5L301.9 50.9L301.9 54.2L304.7 57.6L307.3 64.5L308.5 66.0ZM0.0 62.2L3.5 60.4L5.2 60.2L8.6 60.8L10.4 60.1L10.8 59.3L10.6 55.9L11.8 52.6L13.1 45.9L13.1 40.8L13.9 37.5L13.2 32.4L11.9 29.1L11.8 27.4L10.8 25.7L8.6 24.2L6.9 22.1L5.2 20.9L3.5 20.4L-1.7 20.7L-1.7 24.1L1.7 24.5L5.2 26.2L7.9 29.1L9.6 32.4L10.3 37.5L9.9 40.8L10.5 44.2L7.2 50.9L3.5 54.9L1.7 55.9L0.0 56.2L-1.7 55.8L-1.7 62.4ZM195.1 56.2L200.3 56.2L203.7 56.8L204.7 55.9L207.2 55.1L210.7 55.8L213.9 50.9L212.8 49.2L208.9 45.7L207.2 45.0L200.3 45.3L198.6 45.9L193.4 49.6L192.9 50.9L192.6 54.2L193.8 55.9ZM65.6 51.6L67.3 52.0L74.2 51.4L77.7 50.2L79.4 50.1L80.6 49.2L81.2 47.5L79.4 44.2L79.8 42.5L79.4 39.3L76.0 40.8L74.2 39.5L73.0 37.5L70.8 36.5L67.3 38.5L63.9 38.7L62.2 40.9L59.8 45.9L64.5 50.9ZM257.3 51.0L259.0 51.7L260.7 51.7L264.2 49.0L265.3 47.5L265.4 45.9L264.7 44.2L264.8 39.1L264.2 38.5L260.7 39.5L259.0 39.1L257.3 39.5L250.9 42.5L250.5 44.2L251.0 47.5L252.1 48.9L257.1 50.9ZM131.2 41.3L133.0 41.0L134.7 39.1L136.4 38.3L138.1 38.4L139.5 37.5L139.9 36.0L140.7 35.8L139.9 35.1L139.9 34.1L141.6 33.5L142.7 34.1L141.7 35.8L143.3 37.1L144.8 35.8L144.3 34.1L146.9 29.1L146.1 27.4L146.0 25.7L147.4 22.4L147.3 20.7L146.6 19.0L145.0 17.7L139.9 15.2L138.1 15.3L137.6 15.7L137.2 17.3L134.7 18.5L132.5 15.7L129.5 14.2L127.8 17.6L126.0 18.6L122.6 19.1L118.5 20.7L119.1 22.7L121.5 24.0L121.9 25.7L120.2 29.1L120.3 30.8L126.3 35.8L128.1 39.1L129.6 40.8ZM215.8 34.6L217.6 34.4L220.3 32.4L221.5 30.8L221.4 29.1L219.3 27.3L214.1 26.1L212.4 26.3L211.2 27.4L210.6 29.1L211.3 30.8L214.1 34.1Z"/>
<path fill="#e49b40" d="M0.0 56.2L1.7 55.9L3.5 54.9L6.9 51.3L10.5 44.2L9.9 40.8L10.1 35.8L9.6 32.4L8.6 30.3L6.9 27.6L5.2 26.2L0.0 24.0L-1.7 24.1L-1.7 31.5L0.0 29.0L3.6 30.8L5.1 32.4L7.3 37.5L7.1 40.8L7.5 42.5L7.4 44.2L6.4 45.9L1.7 50.7L0.0 51.2L-1.7 50.9L-1.7 55.8L-1.0 55.9ZM310.8 56.1L312.5 56.0L312.5 52.3L309.1 50.6L307.2 47.5L305.5 45.9L305.0 44.2L305.4 37.5L306.5 34.1L307.3 33.2L309.1 32.6L312.5 32.6L312.5 24.2L310.8 23.9L307.3 25.0L305.6 26.3L303.8 29.1L301.9 34.1L302.6 45.9L304.2 49.2L305.0 52.6L305.6 53.4L310.2 55.9Z"/>
<path fill="#c87023" d="M0.0 51.2L1.7 50.7L6.4 45.9L7.4 44.2L7.5 42.5L7.1 40.8L7.3 37.5L5.1 32.4L3.6 30.8L0.0 29.0L-1.7 31.5L-1.7 38.0L0.0 36.6L1.7 36.4L2.4 37.5L2.8 40.8L1.7 42.2L0.0 42.3L-1.7 41.1L-1.5 50.9ZM310.8 51.6L312.5 52.3L312.5 41.6L310.8 43.4L309.1 42.7L308.4 40.8L309.1 38.5L310.8 37.5L312.5 38.3L312.5 32.6L309.1 32.6L307.3 33.2L306.5 34.1L305.4 37.5L305.0 44.2L305.6 46.0L309.5 50.9Z"/>
<path fill="#994e19" d="M309.1 42.7L310.8 43.4L312.5 41.6L312.5 38.3L310.8 37.5L309.1 38.5L308.4 40.8L308.9 42.5ZM0.0 42.3L1.7 42.2L2.8 40.8L2.4 37.5L1.7 36.4L0.0 36.6L-1.4 37.5L-1.7 41.1Z"/>
</g></g>
<g clip-path="url(#boxclip)">
<use href="#coast"/>
</g>
<rect x="189.9" y="28.0" width="17.3" height="22.4" fill="none" stroke="#ee2d23" stroke-width="1.2"/>
<use href="#frame"/>
</g>
<text x="364.6" y="350.8" font-size="8.20" text-anchor="middle" font-weight="normal" textLength="19.4" lengthAdjust="spacingAndGlyphs" fill="#262626">180°</text>
<text x="416.4" y="350.8" font-size="8.20" text-anchor="middle" font-weight="normal" textLength="27.2" lengthAdjust="spacingAndGlyphs" fill="#262626">120°W</text>
<text x="468.2" y="350.8" font-size="8.20" text-anchor="middle" font-weight="normal" textLength="22.0" lengthAdjust="spacingAndGlyphs" fill="#262626">60°W</text>
<text x="520.0" y="350.8" font-size="8.20" text-anchor="middle" font-weight="normal" textLength="17.0" lengthAdjust="spacingAndGlyphs" fill="#262626">0°W</text>
<text x="571.8" y="350.8" font-size="8.20" text-anchor="middle" font-weight="normal" textLength="19.0" lengthAdjust="spacingAndGlyphs" fill="#262626">60°E</text>
<text x="623.6" y="350.8" font-size="8.20" text-anchor="middle" font-weight="normal" textLength="25.0" lengthAdjust="spacingAndGlyphs" fill="#262626">120°E</text>
<text x="675.4" y="350.8" font-size="8.20" text-anchor="middle" font-weight="normal" textLength="19.4" lengthAdjust="spacingAndGlyphs" fill="#262626">180°</text>
<text x="365.0" y="264.9" font-size="13.60" text-anchor="start" font-weight="normal" textLength="13.0" lengthAdjust="spacingAndGlyphs" stroke="#000" stroke-width="0.55">(f)</text>
<path d="M95.1 99.1L85.6 103.8L95.1 108.6Z" fill="#5a3714"/>
<path d="M286.1 99.1L295.6 103.8L286.1 108.6Z" fill="#184634"/>
<rect x="95.10" y="99.1" width="19.40" height="9.5" fill="#6e4619"/>
<rect x="114.20" y="99.1" width="19.40" height="9.5" fill="#a56e2d"/>
<rect x="133.30" y="99.1" width="19.40" height="9.5" fill="#c8a25c"/>
<rect x="152.40" y="99.1" width="19.40" height="9.5" fill="#e0d69e"/>
<rect x="171.50" y="99.1" width="19.40" height="9.5" fill="#f2f0da"/>
<rect x="190.60" y="99.1" width="19.40" height="9.5" fill="#def2eb"/>
<rect x="209.70" y="99.1" width="19.40" height="9.5" fill="#ace4d6"/>
<rect x="228.80" y="99.1" width="19.40" height="9.5" fill="#6cbaaa"/>
<rect x="247.90" y="99.1" width="19.40" height="9.5" fill="#3e8a7a"/>
<rect x="267.00" y="99.1" width="19.40" height="9.5" fill="#245c4b"/>
<path d="M95.1 99.1L85.6 103.8L95.1 108.6H286.1L295.6 103.8L286.1 99.1Z" fill="none" stroke="#262626" stroke-width="0.8"/>
<path d="M95.1 108.6V112.1M114.2 108.6V112.1M133.3 108.6V112.1M152.4 108.6V112.1M171.5 108.6V112.1M190.6 108.6V112.1M209.7 108.6V112.1M228.8 108.6V112.1M247.9 108.6V112.1M267.0 108.6V112.1M286.1 108.6V112.1" stroke="#262626" stroke-width="0.8"/>
<text x="94.5" y="122.3" font-size="8.20" text-anchor="middle" font-weight="normal" textLength="17.9" lengthAdjust="spacingAndGlyphs" fill="#262626">-125</text>
<text x="113.6" y="122.3" font-size="8.20" text-anchor="middle" font-weight="normal" textLength="17.9" lengthAdjust="spacingAndGlyphs" fill="#262626">-100</text>
<text x="132.7" y="122.3" font-size="8.20" text-anchor="middle" font-weight="normal" textLength="12.8" lengthAdjust="spacingAndGlyphs" fill="#262626">-75</text>
<text x="151.8" y="122.3" font-size="8.20" text-anchor="middle" font-weight="normal" textLength="12.8" lengthAdjust="spacingAndGlyphs" fill="#262626">-50</text>
<text x="170.9" y="122.3" font-size="8.20" text-anchor="middle" font-weight="normal" textLength="12.8" lengthAdjust="spacingAndGlyphs" fill="#262626">-25</text>
<text x="190.6" y="122.3" font-size="8.20" text-anchor="middle" font-weight="normal" textLength="4.8" lengthAdjust="spacingAndGlyphs" fill="#262626">0</text>
<text x="209.7" y="122.3" font-size="8.20" text-anchor="middle" font-weight="normal" textLength="9.9" lengthAdjust="spacingAndGlyphs" fill="#262626">25</text>
<text x="228.8" y="122.3" font-size="8.20" text-anchor="middle" font-weight="normal" textLength="9.9" lengthAdjust="spacingAndGlyphs" fill="#262626">50</text>
<text x="247.9" y="122.3" font-size="8.20" text-anchor="middle" font-weight="normal" textLength="9.9" lengthAdjust="spacingAndGlyphs" fill="#262626">75</text>
<text x="267.0" y="122.3" font-size="8.20" text-anchor="middle" font-weight="normal" textLength="15.0" lengthAdjust="spacingAndGlyphs" fill="#262626">100</text>
<text x="286.1" y="122.3" font-size="8.20" text-anchor="middle" font-weight="normal" textLength="15.0" lengthAdjust="spacingAndGlyphs" fill="#262626">125</text>
<text x="190.3" y="133.2" font-size="7.80" text-anchor="middle" font-weight="bold" textLength="51.2" lengthAdjust="spacingAndGlyphs" >SM (kg m<tspan font-size="5.6" font-weight="normal" dy="-2.6">−2</tspan><tspan dy="2.6">)</tspan></text>
<path d="M424.5 99.1L415.0 103.8L424.5 108.6Z" fill="#5a3714"/>
<path d="M615.5 99.1L625.0 103.8L615.5 108.6Z" fill="#184634"/>
<rect x="424.50" y="99.1" width="19.40" height="9.5" fill="#6e4619"/>
<rect x="443.60" y="99.1" width="19.40" height="9.5" fill="#a56e2d"/>
<rect x="462.70" y="99.1" width="19.40" height="9.5" fill="#c8a25c"/>
<rect x="481.80" y="99.1" width="19.40" height="9.5" fill="#e0d69e"/>
<rect x="500.90" y="99.1" width="19.40" height="9.5" fill="#f2f0da"/>
<rect x="520.00" y="99.1" width="19.40" height="9.5" fill="#def2eb"/>
<rect x="539.10" y="99.1" width="19.40" height="9.5" fill="#ace4d6"/>
<rect x="558.20" y="99.1" width="19.40" height="9.5" fill="#6cbaaa"/>
<rect x="577.30" y="99.1" width="19.40" height="9.5" fill="#3e8a7a"/>
<rect x="596.40" y="99.1" width="19.40" height="9.5" fill="#245c4b"/>
<path d="M424.5 99.1L415.0 103.8L424.5 108.6H615.5L625.0 103.8L615.5 99.1Z" fill="none" stroke="#262626" stroke-width="0.8"/>
<path d="M424.5 108.6V112.1M443.6 108.6V112.1M462.7 108.6V112.1M481.8 108.6V112.1M500.9 108.6V112.1M520.0 108.6V112.1M539.1 108.6V112.1M558.2 108.6V112.1M577.3 108.6V112.1M596.4 108.6V112.1M615.5 108.6V112.1" stroke="#262626" stroke-width="0.8"/>
<text x="423.9" y="122.3" font-size="8.20" text-anchor="middle" font-weight="normal" textLength="17.9" lengthAdjust="spacingAndGlyphs" fill="#262626">-125</text>
<text x="443.0" y="122.3" font-size="8.20" text-anchor="middle" font-weight="normal" textLength="17.9" lengthAdjust="spacingAndGlyphs" fill="#262626">-100</text>
<text x="462.1" y="122.3" font-size="8.20" text-anchor="middle" font-weight="normal" textLength="12.8" lengthAdjust="spacingAndGlyphs" fill="#262626">-75</text>
<text x="481.2" y="122.3" font-size="8.20" text-anchor="middle" font-weight="normal" textLength="12.8" lengthAdjust="spacingAndGlyphs" fill="#262626">-50</text>
<text x="500.3" y="122.3" font-size="8.20" text-anchor="middle" font-weight="normal" textLength="12.8" lengthAdjust="spacingAndGlyphs" fill="#262626">-25</text>
<text x="520.0" y="122.3" font-size="8.20" text-anchor="middle" font-weight="normal" textLength="4.8" lengthAdjust="spacingAndGlyphs" fill="#262626">0</text>
<text x="539.1" y="122.3" font-size="8.20" text-anchor="middle" font-weight="normal" textLength="9.9" lengthAdjust="spacingAndGlyphs" fill="#262626">25</text>
<text x="558.2" y="122.3" font-size="8.20" text-anchor="middle" font-weight="normal" textLength="9.9" lengthAdjust="spacingAndGlyphs" fill="#262626">50</text>
<text x="577.3" y="122.3" font-size="8.20" text-anchor="middle" font-weight="normal" textLength="9.9" lengthAdjust="spacingAndGlyphs" fill="#262626">75</text>
<text x="596.4" y="122.3" font-size="8.20" text-anchor="middle" font-weight="normal" textLength="15.0" lengthAdjust="spacingAndGlyphs" fill="#262626">100</text>
<text x="615.5" y="122.3" font-size="8.20" text-anchor="middle" font-weight="normal" textLength="15.0" lengthAdjust="spacingAndGlyphs" fill="#262626">125</text>
<text x="519.7" y="133.2" font-size="7.80" text-anchor="middle" font-weight="bold" textLength="51.2" lengthAdjust="spacingAndGlyphs" >SM (kg m<tspan font-size="5.6" font-weight="normal" dy="-2.6">−2</tspan><tspan dy="2.6">)</tspan></text>
<path d="M95.1 226.5L85.6 231.2L95.1 236.0Z" fill="#1c3464"/>
<path d="M286.1 226.5L295.6 231.2L286.1 236.0Z" fill="#690c24"/>
<rect x="95.10" y="226.5" width="19.40" height="9.5" fill="#2c5286"/>
<rect x="114.20" y="226.5" width="19.40" height="9.5" fill="#4a86ba"/>
<rect x="133.30" y="226.5" width="19.40" height="9.5" fill="#7ab2d0"/>
<rect x="152.40" y="226.5" width="19.40" height="9.5" fill="#b6d9e6"/>
<rect x="171.50" y="226.5" width="19.40" height="9.5" fill="#e4eff4"/>
<rect x="190.60" y="226.5" width="19.40" height="9.5" fill="#f3e8de"/>
<rect x="209.70" y="226.5" width="19.40" height="9.5" fill="#ecbca3"/>
<rect x="228.80" y="226.5" width="19.40" height="9.5" fill="#de7d68"/>
<rect x="247.90" y="226.5" width="19.40" height="9.5" fill="#c43e42"/>
<rect x="267.00" y="226.5" width="19.40" height="9.5" fill="#8a182a"/>
<path d="M95.1 226.5L85.6 231.2L95.1 236.0H286.1L295.6 231.2L286.1 226.5Z" fill="none" stroke="#262626" stroke-width="0.8"/>
<path d="M95.1 236.0V239.5M114.2 236.0V239.5M133.3 236.0V239.5M152.4 236.0V239.5M171.5 236.0V239.5M190.6 236.0V239.5M209.7 236.0V239.5M228.8 236.0V239.5M247.9 236.0V239.5M267.0 236.0V239.5M286.1 236.0V239.5" stroke="#262626" stroke-width="0.8"/>
<text x="94.5" y="249.7" font-size="8.20" text-anchor="middle" font-weight="normal" textLength="15.3" lengthAdjust="spacingAndGlyphs" fill="#262626">-1.5</text>
<text x="113.6" y="249.7" font-size="8.20" text-anchor="middle" font-weight="normal" textLength="15.3" lengthAdjust="spacingAndGlyphs" fill="#262626">-1.2</text>
<text x="132.7" y="249.7" font-size="8.20" text-anchor="middle" font-weight="normal" textLength="15.3" lengthAdjust="spacingAndGlyphs" fill="#262626">-0.9</text>
<text x="151.8" y="249.7" font-size="8.20" text-anchor="middle" font-weight="normal" textLength="15.3" lengthAdjust="spacingAndGlyphs" fill="#262626">-0.6</text>
<text x="170.9" y="249.7" font-size="8.20" text-anchor="middle" font-weight="normal" textLength="15.3" lengthAdjust="spacingAndGlyphs" fill="#262626">-0.3</text>
<text x="190.6" y="249.7" font-size="8.20" text-anchor="middle" font-weight="normal" textLength="4.8" lengthAdjust="spacingAndGlyphs" fill="#262626">0</text>
<text x="209.7" y="249.7" font-size="8.20" text-anchor="middle" font-weight="normal" textLength="12.4" lengthAdjust="spacingAndGlyphs" fill="#262626">0.3</text>
<text x="228.8" y="249.7" font-size="8.20" text-anchor="middle" font-weight="normal" textLength="12.4" lengthAdjust="spacingAndGlyphs" fill="#262626">0.6</text>
<text x="247.9" y="249.7" font-size="8.20" text-anchor="middle" font-weight="normal" textLength="12.4" lengthAdjust="spacingAndGlyphs" fill="#262626">0.9</text>
<text x="267.0" y="249.7" font-size="8.20" text-anchor="middle" font-weight="normal" textLength="12.4" lengthAdjust="spacingAndGlyphs" fill="#262626">1.2</text>
<text x="286.1" y="249.7" font-size="8.20" text-anchor="middle" font-weight="normal" textLength="12.4" lengthAdjust="spacingAndGlyphs" fill="#262626">1.5</text>
<text x="190.3" y="260.6" font-size="7.80" text-anchor="middle" font-weight="bold" textLength="29.5" lengthAdjust="spacingAndGlyphs" >tas (K)</text>
<path d="M424.5 226.5L415.0 231.2L424.5 236.0Z" fill="#1c3464"/>
<path d="M615.5 226.5L625.0 231.2L615.5 236.0Z" fill="#690c24"/>
<rect x="424.50" y="226.5" width="19.40" height="9.5" fill="#2c5286"/>
<rect x="443.60" y="226.5" width="19.40" height="9.5" fill="#4a86ba"/>
<rect x="462.70" y="226.5" width="19.40" height="9.5" fill="#7ab2d0"/>
<rect x="481.80" y="226.5" width="19.40" height="9.5" fill="#b6d9e6"/>
<rect x="500.90" y="226.5" width="19.40" height="9.5" fill="#e4eff4"/>
<rect x="520.00" y="226.5" width="19.40" height="9.5" fill="#f3e8de"/>
<rect x="539.10" y="226.5" width="19.40" height="9.5" fill="#ecbca3"/>
<rect x="558.20" y="226.5" width="19.40" height="9.5" fill="#de7d68"/>
<rect x="577.30" y="226.5" width="19.40" height="9.5" fill="#c43e42"/>
<rect x="596.40" y="226.5" width="19.40" height="9.5" fill="#8a182a"/>
<path d="M424.5 226.5L415.0 231.2L424.5 236.0H615.5L625.0 231.2L615.5 226.5Z" fill="none" stroke="#262626" stroke-width="0.8"/>
<path d="M424.5 236.0V239.5M443.6 236.0V239.5M462.7 236.0V239.5M481.8 236.0V239.5M500.9 236.0V239.5M520.0 236.0V239.5M539.1 236.0V239.5M558.2 236.0V239.5M577.3 236.0V239.5M596.4 236.0V239.5M615.5 236.0V239.5" stroke="#262626" stroke-width="0.8"/>
<text x="423.9" y="249.7" font-size="8.20" text-anchor="middle" font-weight="normal" textLength="15.3" lengthAdjust="spacingAndGlyphs" fill="#262626">-1.5</text>
<text x="443.0" y="249.7" font-size="8.20" text-anchor="middle" font-weight="normal" textLength="15.3" lengthAdjust="spacingAndGlyphs" fill="#262626">-1.2</text>
<text x="462.1" y="249.7" font-size="8.20" text-anchor="middle" font-weight="normal" textLength="15.3" lengthAdjust="spacingAndGlyphs" fill="#262626">-0.9</text>
<text x="481.2" y="249.7" font-size="8.20" text-anchor="middle" font-weight="normal" textLength="15.3" lengthAdjust="spacingAndGlyphs" fill="#262626">-0.6</text>
<text x="500.3" y="249.7" font-size="8.20" text-anchor="middle" font-weight="normal" textLength="15.3" lengthAdjust="spacingAndGlyphs" fill="#262626">-0.3</text>
<text x="520.0" y="249.7" font-size="8.20" text-anchor="middle" font-weight="normal" textLength="4.8" lengthAdjust="spacingAndGlyphs" fill="#262626">0</text>
<text x="539.1" y="249.7" font-size="8.20" text-anchor="middle" font-weight="normal" textLength="12.4" lengthAdjust="spacingAndGlyphs" fill="#262626">0.3</text>
<text x="558.2" y="249.7" font-size="8.20" text-anchor="middle" font-weight="normal" textLength="12.4" lengthAdjust="spacingAndGlyphs" fill="#262626">0.6</text>
<text x="577.3" y="249.7" font-size="8.20" text-anchor="middle" font-weight="normal" textLength="12.4" lengthAdjust="spacingAndGlyphs" fill="#262626">0.9</text>
<text x="596.4" y="249.7" font-size="8.20" text-anchor="middle" font-weight="normal" textLength="12.4" lengthAdjust="spacingAndGlyphs" fill="#262626">1.2</text>
<text x="615.5" y="249.7" font-size="8.20" text-anchor="middle" font-weight="normal" textLength="12.4" lengthAdjust="spacingAndGlyphs" fill="#262626">1.5</text>
<text x="519.7" y="260.6" font-size="7.80" text-anchor="middle" font-weight="bold" textLength="29.5" lengthAdjust="spacingAndGlyphs" >tas (K)</text>
<path d="M95.1 354.1L85.6 358.9L95.1 363.6Z" fill="#30084e"/>
<path d="M286.1 354.1L295.6 358.9L286.1 363.6Z" fill="#7d3e19"/>
<rect x="95.10" y="354.1" width="19.40" height="9.5" fill="#3f1268"/>
<rect x="114.20" y="354.1" width="19.40" height="9.5" fill="#6a4c9b"/>
<rect x="133.30" y="354.1" width="19.40" height="9.5" fill="#9892c0"/>
<rect x="152.40" y="354.1" width="19.40" height="9.5" fill="#c6c4e1"/>
<rect x="171.50" y="354.1" width="19.40" height="9.5" fill="#e5e7f2"/>
<rect x="190.60" y="354.1" width="19.40" height="9.5" fill="#f5ecd6"/>
<rect x="209.70" y="354.1" width="19.40" height="9.5" fill="#f2ca8e"/>
<rect x="228.80" y="354.1" width="19.40" height="9.5" fill="#e49b40"/>
<rect x="247.90" y="354.1" width="19.40" height="9.5" fill="#c87023"/>
<rect x="267.00" y="354.1" width="19.40" height="9.5" fill="#994e19"/>
<path d="M95.1 354.1L85.6 358.9L95.1 363.6H286.1L295.6 358.9L286.1 354.1Z" fill="none" stroke="#262626" stroke-width="0.8"/>
<path d="M95.1 363.6V367.1M114.2 363.6V367.1M133.3 363.6V367.1M152.4 363.6V367.1M171.5 363.6V367.1M190.6 363.6V367.1M209.7 363.6V367.1M228.8 363.6V367.1M247.9 363.6V367.1M267.0 363.6V367.1M286.1 363.6V367.1" stroke="#262626" stroke-width="0.8"/>
<text x="94.5" y="377.3" font-size="8.20" text-anchor="middle" font-weight="normal" textLength="15.3" lengthAdjust="spacingAndGlyphs" fill="#262626">-5.0</text>
<text x="113.6" y="377.3" font-size="8.20" text-anchor="middle" font-weight="normal" textLength="15.3" lengthAdjust="spacingAndGlyphs" fill="#262626">-4.0</text>
<text x="132.7" y="377.3" font-size="8.20" text-anchor="middle" font-weight="normal" textLength="15.3" lengthAdjust="spacingAndGlyphs" fill="#262626">-3.0</text>
<text x="151.8" y="377.3" font-size="8.20" text-anchor="middle" font-weight="normal" textLength="15.3" lengthAdjust="spacingAndGlyphs" fill="#262626">-2.0</text>
<text x="170.9" y="377.3" font-size="8.20" text-anchor="middle" font-weight="normal" textLength="15.3" lengthAdjust="spacingAndGlyphs" fill="#262626">-1.0</text>
<text x="190.6" y="377.3" font-size="8.20" text-anchor="middle" font-weight="normal" textLength="4.8" lengthAdjust="spacingAndGlyphs" fill="#262626">0</text>
<text x="209.7" y="377.3" font-size="8.20" text-anchor="middle" font-weight="normal" textLength="12.4" lengthAdjust="spacingAndGlyphs" fill="#262626">1.0</text>
<text x="228.8" y="377.3" font-size="8.20" text-anchor="middle" font-weight="normal" textLength="12.4" lengthAdjust="spacingAndGlyphs" fill="#262626">2.0</text>
<text x="247.9" y="377.3" font-size="8.20" text-anchor="middle" font-weight="normal" textLength="12.4" lengthAdjust="spacingAndGlyphs" fill="#262626">3.0</text>
<text x="267.0" y="377.3" font-size="8.20" text-anchor="middle" font-weight="normal" textLength="12.4" lengthAdjust="spacingAndGlyphs" fill="#262626">4.0</text>
<text x="286.1" y="377.3" font-size="8.20" text-anchor="middle" font-weight="normal" textLength="12.4" lengthAdjust="spacingAndGlyphs" fill="#262626">5.0</text>
<text x="190.3" y="388.2" font-size="7.80" text-anchor="middle" font-weight="bold" textLength="53.2" lengthAdjust="spacingAndGlyphs" >v250 (m s<tspan font-size="5.6" font-weight="normal" dy="-2.6">−1</tspan><tspan dy="2.6">)</tspan></text>
<path d="M424.5 354.1L415.0 358.9L424.5 363.6Z" fill="#30084e"/>
<path d="M615.5 354.1L625.0 358.9L615.5 363.6Z" fill="#7d3e19"/>
<rect x="424.50" y="354.1" width="19.40" height="9.5" fill="#3f1268"/>
<rect x="443.60" y="354.1" width="19.40" height="9.5" fill="#6a4c9b"/>
<rect x="462.70" y="354.1" width="19.40" height="9.5" fill="#9892c0"/>
<rect x="481.80" y="354.1" width="19.40" height="9.5" fill="#c6c4e1"/>
<rect x="500.90" y="354.1" width="19.40" height="9.5" fill="#e5e7f2"/>
<rect x="520.00" y="354.1" width="19.40" height="9.5" fill="#f5ecd6"/>
<rect x="539.10" y="354.1" width="19.40" height="9.5" fill="#f2ca8e"/>
<rect x="558.20" y="354.1" width="19.40" height="9.5" fill="#e49b40"/>
<rect x="577.30" y="354.1" width="19.40" height="9.5" fill="#c87023"/>
<rect x="596.40" y="354.1" width="19.40" height="9.5" fill="#994e19"/>
<path d="M424.5 354.1L415.0 358.9L424.5 363.6H615.5L625.0 358.9L615.5 354.1Z" fill="none" stroke="#262626" stroke-width="0.8"/>
<path d="M424.5 363.6V367.1M443.6 363.6V367.1M462.7 363.6V367.1M481.8 363.6V367.1M500.9 363.6V367.1M520.0 363.6V367.1M539.1 363.6V367.1M558.2 363.6V367.1M577.3 363.6V367.1M596.4 363.6V367.1M615.5 363.6V367.1" stroke="#262626" stroke-width="0.8"/>
<text x="423.9" y="377.3" font-size="8.20" text-anchor="middle" font-weight="normal" textLength="15.3" lengthAdjust="spacingAndGlyphs" fill="#262626">-5.0</text>
<text x="443.0" y="377.3" font-size="8.20" text-anchor="middle" font-weight="normal" textLength="15.3" lengthAdjust="spacingAndGlyphs" fill="#262626">-4.0</text>
<text x="462.1" y="377.3" font-size="8.20" text-anchor="middle" font-weight="normal" textLength="15.3" lengthAdjust="spacingAndGlyphs" fill="#262626">-3.0</text>
<text x="481.2" y="377.3" font-size="8.20" text-anchor="middle" font-weight="normal" textLength="15.3" lengthAdjust="spacingAndGlyphs" fill="#262626">-2.0</text>
<text x="500.3" y="377.3" font-size="8.20" text-anchor="middle" font-weight="normal" textLength="15.3" lengthAdjust="spacingAndGlyphs" fill="#262626">-1.0</text>
<text x="520.0" y="377.3" font-size="8.20" text-anchor="middle" font-weight="normal" textLength="4.8" lengthAdjust="spacingAndGlyphs" fill="#262626">0</text>
<text x="539.1" y="377.3" font-size="8.20" text-anchor="middle" font-weight="normal" textLength="12.4" lengthAdjust="spacingAndGlyphs" fill="#262626">1.0</text>
<text x="558.2" y="377.3" font-size="8.20" text-anchor="middle" font-weight="normal" textLength="12.4" lengthAdjust="spacingAndGlyphs" fill="#262626">2.0</text>
<text x="577.3" y="377.3" font-size="8.20" text-anchor="middle" font-weight="normal" textLength="12.4" lengthAdjust="spacingAndGlyphs" fill="#262626">3.0</text>
<text x="596.4" y="377.3" font-size="8.20" text-anchor="middle" font-weight="normal" textLength="12.4" lengthAdjust="spacingAndGlyphs" fill="#262626">4.0</text>
<text x="615.5" y="377.3" font-size="8.20" text-anchor="middle" font-weight="normal" textLength="12.4" lengthAdjust="spacingAndGlyphs" fill="#262626">5.0</text>
<text x="519.7" y="388.2" font-size="7.80" text-anchor="middle" font-weight="bold" textLength="53.2" lengthAdjust="spacingAndGlyphs" >v250 (m s<tspan font-size="5.6" font-weight="normal" dy="-2.6">−1</tspan><tspan dy="2.6">)</tspan></text>
<text transform="translate(8.5 50.0) rotate(-90)" font-size="10.4" font-weight="bold" text-anchor="middle" textLength="16.6" lengthAdjust="spacingAndGlyphs" font-family="Liberation Sans, sans-serif">SM</text>
<text transform="translate(8.5 176.9) rotate(-90)" font-size="10.4" font-weight="bold" text-anchor="middle" textLength="16.8" lengthAdjust="spacingAndGlyphs" font-family="Liberation Sans, sans-serif">tas</text>
<text transform="translate(8.5 304.5) rotate(-90)" font-size="10.4" font-weight="bold" text-anchor="middle" textLength="24.2" lengthAdjust="spacingAndGlyphs" font-family="Liberation Sans, sans-serif">v250</text>
</svg>
</body></html>
